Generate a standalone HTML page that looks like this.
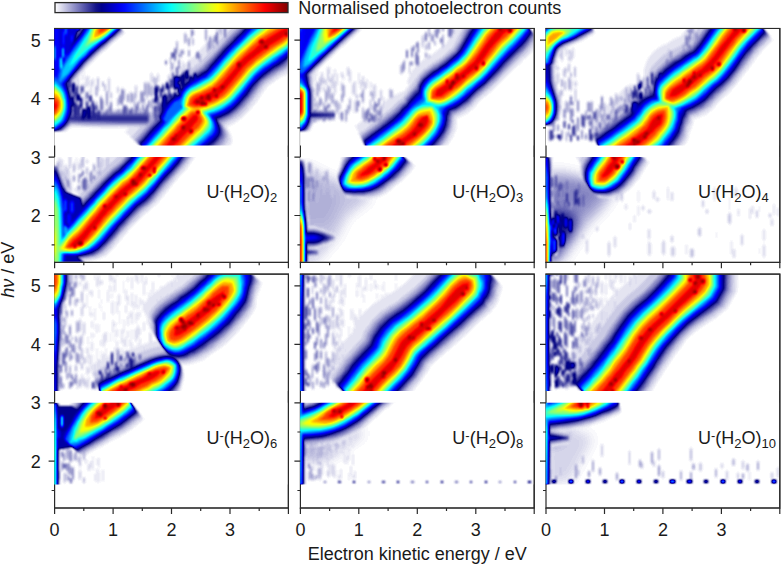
<!DOCTYPE html><html><head><meta charset="utf-8"><style>html,body{margin:0;padding:0;background:#fff;}svg{display:block;}text{font-family:"Liberation Sans",sans-serif;fill:#1a1a1a;}</style></head><body>
<svg width="781" height="564" viewBox="0 0 781 564">
<defs><linearGradient id="cb" x1="0" x2="1" y1="0" y2="0"><stop offset="0.000" stop-color="#ffffff"/><stop offset="0.025" stop-color="#ddddee"/><stop offset="0.050" stop-color="#bcbcdd"/><stop offset="0.075" stop-color="#9a9acd"/><stop offset="0.100" stop-color="#7979bc"/><stop offset="0.125" stop-color="#5757ab"/><stop offset="0.150" stop-color="#36369a"/><stop offset="0.175" stop-color="#14148a"/><stop offset="0.200" stop-color="#00008c"/><stop offset="0.225" stop-color="#0000ac"/><stop offset="0.250" stop-color="#0000cb"/><stop offset="0.275" stop-color="#0000eb"/><stop offset="0.300" stop-color="#000bff"/><stop offset="0.325" stop-color="#002aff"/><stop offset="0.350" stop-color="#004aff"/><stop offset="0.375" stop-color="#0069ff"/><stop offset="0.400" stop-color="#0089ff"/><stop offset="0.425" stop-color="#00a8ff"/><stop offset="0.450" stop-color="#00c8ff"/><stop offset="0.475" stop-color="#00e7ff"/><stop offset="0.500" stop-color="#08fff7"/><stop offset="0.525" stop-color="#27ffd8"/><stop offset="0.550" stop-color="#47ffb8"/><stop offset="0.575" stop-color="#66ff99"/><stop offset="0.600" stop-color="#86ff79"/><stop offset="0.625" stop-color="#a5ff5a"/><stop offset="0.650" stop-color="#c5ff3a"/><stop offset="0.675" stop-color="#e4ff1b"/><stop offset="0.700" stop-color="#fffa00"/><stop offset="0.725" stop-color="#ffdb00"/><stop offset="0.750" stop-color="#ffbb00"/><stop offset="0.775" stop-color="#ff9c00"/><stop offset="0.800" stop-color="#ff7c00"/><stop offset="0.825" stop-color="#ff5d00"/><stop offset="0.850" stop-color="#ff3d00"/><stop offset="0.875" stop-color="#ff1e00"/><stop offset="0.900" stop-color="#fd0000"/><stop offset="0.925" stop-color="#de0000"/><stop offset="0.950" stop-color="#be0000"/><stop offset="0.975" stop-color="#9f0000"/><stop offset="1.000" stop-color="#800000"/></linearGradient><filter id="jet" x="-5%" y="-5%" width="110%" height="110%" color-interpolation-filters="sRGB">
<feGaussianBlur stdDeviation="1.2"/>
<feComponentTransfer><feFuncR type="table" tableValues="1.000 0.959 0.918 0.877 0.836 0.794 0.753 0.712 0.671 0.630 0.589 0.548 0.507 0.465 0.424 0.383 0.342 0.301 0.260 0.219 0.178 0.137 0.095 0.054 0.013 0.000 0.000 0.000 0.000 0.000 0.000 0.000 0.000 0.000 0.000 0.000 0.000 0.000 0.000 0.000 0.000 0.000 0.000 0.000 0.000 0.000 0.000 0.000 0.000 0.000 0.000 0.000 0.000 0.000 0.000 0.000 0.000 0.000 0.000 0.000 0.000 0.000 0.000 0.000 0.031 0.069 0.108 0.147 0.185 0.224 0.262 0.301 0.340 0.378 0.417 0.455 0.494 0.532 0.571 0.610 0.648 0.687 0.725 0.764 0.802 0.841 0.880 0.918 0.957 0.995 1.000 1.000 1.000 1.000 1.000 1.000 1.000 1.000 1.000 1.000 1.000 1.000 1.000 1.000 1.000 1.000 1.000 1.000 1.000 1.000 1.000 1.000 1.000 1.000 1.000 1.000 0.963 0.924 0.886 0.847 0.809 0.770 0.731 0.693 0.654 0.616 0.577 0.539 0.500"/><feFuncG type="table" tableValues="1.000 0.959 0.918 0.877 0.836 0.794 0.753 0.712 0.671 0.630 0.589 0.548 0.507 0.465 0.424 0.383 0.342 0.301 0.260 0.219 0.178 0.137 0.095 0.054 0.013 0.000 0.000 0.000 0.000 0.000 0.000 0.000 0.000 0.000 0.000 0.000 0.000 0.000 0.028 0.066 0.105 0.144 0.182 0.221 0.259 0.298 0.336 0.375 0.414 0.452 0.491 0.529 0.568 0.606 0.645 0.684 0.722 0.761 0.799 0.838 0.877 0.915 0.954 0.992 1.000 1.000 1.000 1.000 1.000 1.000 1.000 1.000 1.000 1.000 1.000 1.000 1.000 1.000 1.000 1.000 1.000 1.000 1.000 1.000 1.000 1.000 1.000 1.000 1.000 1.000 0.966 0.927 0.889 0.850 0.812 0.773 0.735 0.696 0.657 0.619 0.580 0.542 0.503 0.465 0.426 0.387 0.349 0.310 0.272 0.233 0.194 0.156 0.117 0.079 0.040 0.002 0.000 0.000 0.000 0.000 0.000 0.000 0.000 0.000 0.000 0.000 0.000 0.000 0.000"/><feFuncB type="table" tableValues="1.000 0.979 0.959 0.938 0.918 0.897 0.877 0.856 0.836 0.815 0.794 0.774 0.753 0.733 0.712 0.692 0.671 0.650 0.630 0.609 0.589 0.568 0.548 0.527 0.507 0.526 0.565 0.603 0.642 0.681 0.719 0.758 0.796 0.835 0.873 0.912 0.951 0.989 1.000 1.000 1.000 1.000 1.000 1.000 1.000 1.000 1.000 1.000 1.000 1.000 1.000 1.000 1.000 1.000 1.000 1.000 1.000 1.000 1.000 1.000 1.000 1.000 1.000 1.000 0.969 0.931 0.892 0.853 0.815 0.776 0.738 0.699 0.660 0.622 0.583 0.545 0.506 0.468 0.429 0.390 0.352 0.313 0.275 0.236 0.198 0.159 0.120 0.082 0.043 0.005 0.000 0.000 0.000 0.000 0.000 0.000 0.000 0.000 0.000 0.000 0.000 0.000 0.000 0.000 0.000 0.000 0.000 0.000 0.000 0.000 0.000 0.000 0.000 0.000 0.000 0.000 0.000 0.000 0.000 0.000 0.000 0.000 0.000 0.000 0.000 0.000 0.000 0.000 0.000"/></feComponentTransfer>
</filter><filter id="soft" x="-20%" y="-20%" width="140%" height="140%" color-interpolation-filters="sRGB"><feGaussianBlur stdDeviation="6"/></filter></defs>
<rect width="781" height="564" fill="#fff"/>
<rect x="55" y="2.6" width="233" height="10" fill="url(#cb)" stroke="#2a2a2a" stroke-width="1.3"/>
<text x="298.2" y="13.8" font-size="18">Normalised photoelectron counts</text>
<rect x="54.6" y="28.5" width="233.8" height="233.8" fill="none" stroke="#2a2a2a" stroke-width="1.2"/>
<clipPath id="cp00U"><rect x="54.300000000000004" y="29.1" width="233.5" height="116.3"/></clipPath>
<g clip-path="url(#cp00U)"><g filter="url(#jet)">
<rect x="44.6" y="19.1" width="253.8" height="136.3" fill="#000"/>
<path d="M171 81 172 77 172 67 171 63 170 67 170 77Z" fill="#040404"/>
<path d="M82 81 83 79 83 75 82 73 81 75 81 79Z" fill="#040404"/>
<path d="M177 83 178 80 178 73 177 70 176 73 176 80Z" fill="#050505"/>
<path d="M175 90 176 87 178 81 180 76 184 73 188 70 191 67 193 65 195 64 196 63 198 62 196 63 197 63 202 58 210 50 217 41 224 34 229 29 233 25 237 20 242 15 247 10 254 5 259 2 264 0 270 -1 277 -3 282 -5 316 47 312 51 307 56 301 61 295 66 291 70 289 73 286 75 283 76 278 79 274 82 271 84 267 87 262 94 256 103 249 111 242 118 235 123 231 125 226 127 221 129 217 130 212 131 207 131 203 130 199 128 195 126 191 125Z" fill="#050505"/>
<path d="M130 137 134 132 139 126 145 121 149 116 153 111 157 107 160 103 163 100 165 98 167 97 170 96 172 95 174 94 176 94 178 94 182 94 186 95 189 96 222 119 224 122 227 127 229 131 231 135 232 139 232 142 230 146 228 148 224 152 221 154 217 157 214 159 209 162 204 166 199 170 194 175 188 181 185 185Z" fill="#050505"/>
<path d="M172 85 173 81 175 76 178 71 182 67 185 64 188 61 190 59 192 58 193 57 194 56 192 58 197 53 204 45 212 37 219 29 224 24 228 19 232 14 237 9 243 3 250 -1 256 -5 260 -6 266 -8 273 -9 279 -10 306 31 302 34 296 39 290 43 284 47 280 50 276 53 272 56 268 58 264 62 259 65 255 68 251 72 245 79 238 88 232 96 227 100 223 103 220 105 216 107 212 108 208 110 204 111 200 112 196 113 192 113 189 114 186 114Z" fill="#050505"/>
<path d="M125 132 129 128 134 122 139 116 144 111 148 106 152 102 155 98 158 95 160 94 162 93 164 92 167 91 168 90 170 90 172 89 175 90 179 90 182 91 211 112 211 113 211 116 211 118 211 120 211 122 209 125 208 127 206 130 203 132 200 135 197 138 194 141 190 144 186 149 181 153 176 159 170 165 167 169Z" fill="#050505"/>
<path d="M153 114 155 110 157 104 161 98 166 94 171 92 174 91 193 109 191 112 190 117 188 120 185 123 181 127 178 130Z" fill="#050505"/>
<path d="M125 33 122 36 118 39 113 43 110 46 106 50 102 53 98 57 93 62 89 66 84 71 80 75 77 80 73 84 69 88 67 91 46 81 47 77 49 71 51 64 55 57 58 51 62 44 66 38 70 33 74 28 78 22 82 18 85 13 90 9 94 5 97 2Z" fill="#050505"/>
<path d="M43 131 40 128 36 125 32 121 31 116 30 111 29 106 30 101 31 97 32 93 33 89 34 85 35 81 36 76 36 70 37 64 37 56 37 48 38 40 38 33 39 27 39 23 70 23 70 27 71 33 71 40 72 48 72 56 73 64 73 70 74 76 74 81 75 85 77 89 78 93 79 97 79 101 80 106 79 111 79 116 77 121 74 125 70 128 67 131Z" fill="#050505"/>
<path d="M60 111 71 110 86 110 101 109 118 109 136 109 148 108 148 129 136 128 118 128 101 128 86 127 71 127 60 126Z" fill="#050505"/>
<path d="M84 80 85 78 85 72 84 70 84 72 84 78Z" fill="#050505"/>
<path d="M87 88 88 86 88 78 87 75 85 78 85 86Z" fill="#060606"/>
<path d="M152 84 153 81 153 74 152 72 150 74 150 81Z" fill="#060606"/>
<path d="M183 73 184 71 184 63 183 60 182 63 182 71Z" fill="#070707"/>
<path d="M91 98 92 94 92 82 91 78 90 82 90 94Z" fill="#070707"/>
<path d="M93 87 94 85 94 80 93 78 92 80 92 85Z" fill="#080808"/>
<path d="M175 74 175 71 175 61 175 58 174 61 174 71Z" fill="#080808"/>
<path d="M163 95 164 93 164 85 163 82 162 85 162 93Z" fill="#080808"/>
<path d="M78 90 79 86 79 77 78 73 77 77 77 86Z" fill="#080808"/>
<path d="M158 83 159 81 159 75 158 72 157 75 157 81Z" fill="#080808"/>
<path d="M180 80 181 77 181 68 180 65 180 68 180 77Z" fill="#080808"/>
<path d="M88 87 89 85 89 77 88 74 88 77 88 85Z" fill="#090909"/>
<path d="M109 94 110 91 110 80 109 76 108 80 108 91Z" fill="#0a0a0a"/>
<path d="M167 91 168 89 168 82 167 79 166 82 166 89Z" fill="#0a0a0a"/>
<path d="M118 94 119 92 119 88 118 86 117 88 117 92Z" fill="#0a0a0a"/>
<path d="M84 88 85 87 85 84 84 82 84 84 84 87Z" fill="#0a0a0a"/>
<path d="M88 107 89 103 89 92 88 89 88 92 88 103Z" fill="#0a0a0a"/>
<path d="M176 92 177 88 179 83 181 79 185 75 189 72 192 70 194 68 196 67 198 66 199 65 198 65 199 65 204 60 212 51 219 43 226 37 231 31 235 27 239 22 244 18 249 13 256 8 261 5 266 3 272 1 279 -1 284 -2 315 45 311 49 305 53 299 59 294 63 290 67 287 70 284 72 281 74 276 77 272 80 269 82 265 85 260 92 253 101 247 109 240 116 234 120 229 122 225 125 220 126 216 127 211 128 206 129 202 128 198 126 194 124 191 123Z" fill="#0a0a0a"/>
<path d="M133 139 136 134 142 128 147 123 151 118 156 113 159 109 163 105 165 102 167 100 169 99 172 98 174 97 176 96 178 96 180 96 184 96 188 97 191 97 219 117 221 120 224 125 226 129 228 132 229 136 229 140 227 143 225 146 222 149 218 152 215 154 211 156 207 160 202 164 197 168 192 173 186 178 182 182Z" fill="#0a0a0a"/>
<path d="M175 89 176 86 178 82 181 77 185 74 188 71 191 68 194 67 195 65 197 64 198 63 197 64 198 64 203 59 211 50 218 42 225 35 230 30 234 26 238 21 243 16 248 11 255 7 260 4 265 2 271 0 278 -2 283 -4 305 30 300 33 294 37 288 41 283 45 278 48 274 51 270 53 266 56 262 60 258 63 254 66 249 71 243 78 236 86 230 94 226 98 222 101 218 103 215 105 211 106 207 108 203 109 199 110 195 111 192 112 188 112 186 113Z" fill="#0a0a0a"/>
<path d="M131 137 135 133 140 127 146 121 150 116 154 112 158 108 161 104 164 101 166 99 168 98 170 97 173 96 174 95 176 94 178 94 181 94 184 94 186 94 210 111 210 112 210 114 209 116 209 118 208 121 207 123 205 125 203 128 201 130 198 133 195 136 192 139 188 143 184 147 179 151 174 157 168 163 165 167Z" fill="#0a0a0a"/>
<path d="M155 115 156 111 159 105 162 100 167 96 172 93 175 92 192 108 190 111 188 115 187 119 184 122 180 126 177 129Z" fill="#0a0a0a"/>
<path d="M124 32 121 35 117 38 112 42 109 45 105 49 101 52 96 56 92 61 87 65 83 70 79 75 75 79 72 83 68 88 66 91 47 82 48 78 50 72 53 65 56 58 60 52 63 46 67 40 72 34 76 29 79 24 83 19 87 15 91 10 96 6 99 4Z" fill="#0a0a0a"/>
<path d="M44 131 41 128 38 125 34 121 33 116 32 111 32 106 32 101 33 97 34 93 35 89 36 85 37 81 38 76 38 70 39 64 39 56 39 48 40 40 40 33 41 27 41 23 68 23 69 27 69 33 69 40 70 48 70 56 71 64 71 70 71 76 72 81 73 85 75 89 75 93 76 97 77 101 78 106 77 111 76 116 75 121 72 125 68 128 65 131Z" fill="#0a0a0a"/>
<path d="M60 112 71 112 86 111 101 111 118 111 136 110 148 110 148 127 136 127 118 126 101 126 86 126 71 125 60 125Z" fill="#0a0a0a"/>
<path d="M80 101 81 100 81 95 80 94 79 95 79 100Z" fill="#0a0a0a"/>
<path d="M136 100 137 97 137 87 136 84 135 87 135 97Z" fill="#0b0b0b"/>
<path d="M82 92 83 90 83 85 82 83 81 85 81 90Z" fill="#0b0b0b"/>
<path d="M165 100 166 96 166 86 165 83 164 86 164 96Z" fill="#0b0b0b"/>
<path d="M154 85 155 83 155 78 154 76 153 78 153 83Z" fill="#0c0c0c"/>
<path d="M105 92 106 90 106 85 105 84 104 85 104 90Z" fill="#0c0c0c"/>
<path d="M111 99 112 98 112 93 111 92 110 93 110 98Z" fill="#0c0c0c"/>
<path d="M74 98 75 96 75 88 74 85 73 88 73 96Z" fill="#0c0c0c"/>
<path d="M147 101 148 97 148 85 147 81 146 85 146 97Z" fill="#0c0c0c"/>
<path d="M169 91 170 88 170 77 169 73 168 77 168 88Z" fill="#0c0c0c"/>
<path d="M156 88 157 86 157 79 156 76 155 79 155 86Z" fill="#0c0c0c"/>
<path d="M152 98 153 95 153 87 152 84 150 87 150 95Z" fill="#0d0d0d"/>
<path d="M98 93 99 89 99 79 98 76 97 79 97 89Z" fill="#0d0d0d"/>
<path d="M97 97 98 95 98 87 97 85 95 87 95 95Z" fill="#0d0d0d"/>
<path d="M219 34 220 31 220 24 219 22 219 24 219 31Z" fill="#0d0d0d"/>
<path d="M131 105 131 102 131 93 131 91 130 93 130 102Z" fill="#0d0d0d"/>
<path d="M103 87 104 86 104 82 103 81 102 82 102 86Z" fill="#0d0d0d"/>
<path d="M193 46 194 44 194 39 193 38 192 39 192 44Z" fill="#0d0d0d"/>
<path d="M221 36 222 34 222 28 221 26 220 28 220 34Z" fill="#0d0d0d"/>
<path d="M154 96 155 94 155 88 154 86 153 88 153 94Z" fill="#0d0d0d"/>
<path d="M91 108 92 107 92 102 91 101 90 102 90 107Z" fill="#0d0d0d"/>
<path d="M118 107 119 105 119 99 118 97 117 99 117 105Z" fill="#0d0d0d"/>
<path d="M163 115 163 111 163 99 163 95 162 99 162 111Z" fill="#0e0e0e"/>
<path d="M78 109 79 106 79 95 78 91 77 95 77 106Z" fill="#0e0e0e"/>
<path d="M84 108 85 104 85 94 84 90 84 94 84 104Z" fill="#0e0e0e"/>
<path d="M160 102 161 99 161 90 160 87 160 90 160 99Z" fill="#0e0e0e"/>
<path d="M72 102 73 99 73 89 72 85 71 89 71 99Z" fill="#0e0e0e"/>
<path d="M179 58 180 57 180 54 179 53 178 54 178 57Z" fill="#0f0f0f"/>
<path d="M185 44 187 42 187 35 185 32 184 35 184 42Z" fill="#0f0f0f"/>
<path d="M124 102 125 99 125 91 124 88 123 91 123 99Z" fill="#101010"/>
<path d="M181 58 182 57 182 51 181 49 180 51 180 57Z" fill="#101010"/>
<path d="M208 54 209 51 209 43 208 40 207 43 207 51Z" fill="#101010"/>
<path d="M213 50 214 47 214 40 213 38 212 40 212 47Z" fill="#101010"/>
<path d="M177 55 178 52 178 43 177 40 176 43 176 52Z" fill="#101010"/>
<path d="M76 101 77 99 77 93 76 91 75 93 75 99Z" fill="#101010"/>
<path d="M217 30 218 29 218 26 217 25 216 26 216 29Z" fill="#101010"/>
<path d="M152 110 153 107 153 100 152 98 151 100 151 107Z" fill="#101010"/>
<path d="M103 112 104 109 104 101 103 98 102 101 102 109Z" fill="#101010"/>
<path d="M200 63 201 61 201 55 200 53 199 55 199 61Z" fill="#101010"/>
<path d="M156 105 157 102 157 94 156 91 155 94 155 102Z" fill="#111111"/>
<path d="M176 93 178 90 179 85 182 80 186 77 189 74 193 72 195 70 197 69 199 68 200 67 201 66 206 61 214 53 221 45 227 38 232 33 236 29 241 24 245 20 251 15 257 11 262 7 267 5 273 3 280 1 285 0 314 44 310 47 304 52 298 57 293 61 289 65 286 68 283 70 279 72 275 75 271 78 267 80 263 84 258 90 252 99 245 107 238 114 232 118 228 120 224 122 219 124 215 125 210 126 206 127 202 126 198 125 193 123 190 121Z" fill="#111111"/>
<path d="M134 140 138 136 143 130 149 124 153 119 157 115 161 110 164 107 167 104 169 102 171 100 173 99 176 98 178 97 180 97 182 97 186 97 189 98 192 98 217 116 219 119 222 123 224 127 226 131 227 135 226 138 225 141 223 144 219 147 216 150 213 152 209 155 205 158 200 162 195 166 190 171 184 177 180 181Z" fill="#111111"/>
<path d="M177 94 178 91 180 87 183 83 187 80 191 78 194 75 197 74 199 72 201 71 203 70 202 70 204 69 209 64 216 55 224 47 230 41 235 36 239 32 243 27 248 23 253 18 259 14 264 11 269 9 275 7 282 4 287 3 304 28 299 31 293 35 287 39 282 43 277 46 273 49 269 52 265 54 261 58 256 61 252 65 248 69 242 76 235 85 229 92 224 96 220 99 217 101 214 103 210 104 206 105 202 107 198 108 194 109 191 110 188 111 185 111Z" fill="#111111"/>
<path d="M137 143 141 138 146 133 151 127 156 122 160 117 164 113 167 109 170 107 172 105 174 103 176 101 178 100 180 99 181 98 183 98 186 97 188 97 190 97 208 110 208 111 208 113 207 115 207 117 206 119 205 121 203 123 201 126 199 128 196 131 193 134 190 137 186 141 182 145 177 150 172 155 167 161 163 165Z" fill="#111111"/>
<path d="M156 116 157 112 160 106 163 100 168 97 173 94 176 92 191 107 189 110 187 114 185 118 182 121 178 125 175 128Z" fill="#111111"/>
<path d="M123 31 120 34 116 37 112 41 108 44 104 48 100 51 95 56 91 60 86 64 82 69 78 74 75 78 71 83 67 87 65 90 48 83 49 78 51 72 54 65 57 59 61 53 65 47 69 41 73 35 77 30 81 25 84 20 88 16 92 11 97 7 100 5Z" fill="#111111"/>
<path d="M46 131 43 128 39 125 36 121 35 116 34 111 33 106 34 101 34 97 35 93 36 89 38 85 39 81 40 76 40 70 40 64 41 56 41 48 41 40 42 33 42 27 42 23 67 23 67 27 67 33 68 40 68 48 68 56 69 64 69 70 70 76 70 81 72 85 73 89 74 93 75 97 76 101 76 106 76 111 75 116 73 121 70 125 66 128 63 131Z" fill="#111111"/>
<path d="M60 113 71 113 86 113 101 112 118 112 136 112 148 111 148 126 136 125 118 125 101 125 86 125 71 124 60 124Z" fill="#111111"/>
<path d="M149 97 150 94 150 84 149 81 148 84 148 94Z" fill="#111111"/>
<path d="M87 102 87 100 87 92 87 90 86 92 86 100Z" fill="#111111"/>
<path d="M189 57 190 56 190 51 189 49 188 51 188 56Z" fill="#111111"/>
<path d="M120 120 121 118 121 110 120 108 119 110 119 118Z" fill="#111111"/>
<path d="M158 101 159 98 159 89 158 86 157 89 157 98Z" fill="#111111"/>
<path d="M145 97 146 94 146 84 145 81 144 84 144 94Z" fill="#111111"/>
<path d="M70 104 71 102 71 95 70 93 69 95 69 102Z" fill="#121212"/>
<path d="M68 99 69 97 69 90 68 87 67 90 67 97Z" fill="#121212"/>
<path d="M145 105 145 104 145 99 145 98 144 99 144 104Z" fill="#121212"/>
<path d="M138 120 139 119 139 115 138 114 137 115 137 119Z" fill="#121212"/>
<path d="M141 105 142 102 142 93 141 90 140 93 140 102Z" fill="#131313"/>
<path d="M193 36 194 35 194 31 193 29 192 31 192 35Z" fill="#131313"/>
<path d="M189 77 190 73 190 63 189 60 188 63 188 73Z" fill="#131313"/>
<path d="M116 121 117 119 117 112 116 110 115 112 115 119Z" fill="#131313"/>
<path d="M206 42 207 39 207 30 206 27 205 30 205 39Z" fill="#131313"/>
<path d="M109 120 110 117 110 108 109 105 108 108 108 117Z" fill="#131313"/>
<path d="M80 112 81 110 81 106 80 104 79 106 79 110Z" fill="#131313"/>
<path d="M141 121 141 118 141 109 141 105 140 109 140 118Z" fill="#131313"/>
<path d="M120 105 121 103 121 96 120 94 119 96 119 103Z" fill="#141414"/>
<path d="M107 108 108 104 108 93 107 90 106 93 106 104Z" fill="#141414"/>
<path d="M118 120 119 118 119 111 118 108 117 111 117 118Z" fill="#141414"/>
<path d="M82 110 83 107 83 99 82 96 81 99 81 107Z" fill="#141414"/>
<path d="M189 47 190 45 190 39 189 37 188 39 188 45Z" fill="#141414"/>
<path d="M143 111 144 109 144 105 143 104 142 105 142 109Z" fill="#141414"/>
<path d="M84 119 85 117 85 112 84 110 83 112 83 117Z" fill="#141414"/>
<path d="M128 103 129 101 129 95 128 93 127 95 127 101Z" fill="#141414"/>
<path d="M128 120 129 117 129 109 128 106 127 109 127 117Z" fill="#141414"/>
<path d="M132 104 133 101 133 94 132 92 131 94 131 101Z" fill="#141414"/>
<path d="M172 71 173 69 173 64 172 62 171 64 171 69Z" fill="#141414"/>
<path d="M183 55 184 54 184 51 183 49 182 51 182 54Z" fill="#141414"/>
<path d="M143 104 144 101 144 93 143 90 142 93 142 101Z" fill="#151515"/>
<path d="M152 124 152 121 152 113 152 110 151 113 151 121Z" fill="#151515"/>
<path d="M132 124 134 120 134 109 132 106 131 109 131 120Z" fill="#151515"/>
<path d="M179 70 180 68 180 61 179 58 178 61 178 68Z" fill="#151515"/>
<path d="M126 124 127 123 127 118 126 117 125 118 125 123Z" fill="#151515"/>
<path d="M149 108 150 106 150 101 149 100 148 101 148 106Z" fill="#161616"/>
<path d="M170 65 171 63 171 58 170 57 170 58 170 63Z" fill="#161616"/>
<path d="M135 108 135 105 135 95 135 91 134 95 134 105Z" fill="#161616"/>
<path d="M215 43 216 41 216 36 215 35 214 36 214 41Z" fill="#171717"/>
<path d="M68 110 69 108 69 102 68 100 67 102 67 108Z" fill="#171717"/>
<path d="M94 123 95 119 95 107 94 102 94 107 94 119Z" fill="#171717"/>
<path d="M122 107 123 103 123 91 122 87 121 91 121 103Z" fill="#171717"/>
<path d="M138 112 139 110 139 103 138 100 137 103 137 110Z" fill="#171717"/>
<path d="M210 51 211 48 211 38 210 35 209 38 209 48Z" fill="#171717"/>
<path d="M177 94 178 91 180 86 183 82 186 78 190 76 193 74 196 72 198 71 200 69 201 68 201 69 202 68 207 62 215 54 222 46 228 39 233 34 238 30 242 26 246 21 252 16 258 12 263 9 268 7 274 5 281 3 286 1 313 42 309 46 303 50 297 55 292 60 288 64 285 67 282 69 278 71 274 74 270 76 266 79 262 82 257 89 250 98 244 106 237 112 231 117 227 119 223 121 218 123 214 124 209 125 205 125 201 125 197 123 193 122 189 120Z" fill="#171717"/>
<path d="M136 141 139 137 145 131 150 125 154 120 159 116 162 112 166 108 168 105 170 103 172 102 175 100 177 99 179 98 181 98 183 98 187 98 191 99 194 99 216 115 218 118 220 122 222 126 224 130 225 133 225 137 223 140 221 143 218 146 214 148 211 151 207 153 203 157 198 161 194 165 188 170 183 176 179 180Z" fill="#171717"/>
<path d="M179 98 180 95 183 92 186 89 190 86 193 84 197 82 200 81 202 79 205 78 207 77 207 76 209 74 215 68 222 60 229 52 235 46 240 42 244 38 248 34 252 29 258 25 263 21 268 18 273 16 279 13 286 10 291 8 303 26 298 29 292 33 286 37 281 41 276 44 272 47 267 50 263 53 259 56 255 59 251 63 246 68 240 75 233 84 227 91 223 95 219 97 216 99 213 101 209 102 206 103 202 105 197 106 194 107 190 109 187 110 185 110Z" fill="#171717"/>
<path d="M143 148 147 144 152 138 157 132 162 127 166 122 170 118 173 115 175 112 178 110 180 108 182 106 184 104 185 103 187 102 188 101 190 101 193 100 194 100 207 109 207 110 206 112 205 114 205 115 204 117 203 119 201 121 199 124 196 127 194 129 191 132 188 135 184 139 180 143 175 148 170 154 165 160 161 164Z" fill="#171717"/>
<path d="M157 116 158 112 161 107 164 101 169 97 173 95 176 93 190 107 189 110 187 114 185 117 181 121 178 125 175 128Z" fill="#171717"/>
<path d="M122 30 119 33 115 37 111 40 107 44 103 47 99 51 95 55 90 59 86 64 82 69 77 73 74 78 70 82 67 87 64 90 49 83 50 79 52 73 55 66 58 59 62 53 65 47 70 42 74 36 78 31 81 26 85 21 89 17 93 12 97 8 101 6Z" fill="#171717"/>
<path d="M47 131 44 128 40 125 37 121 36 116 35 111 35 106 35 101 36 97 37 93 38 89 39 85 40 81 41 76 41 70 42 64 42 56 42 48 43 40 43 33 43 27 44 23 66 23 66 27 66 33 67 40 67 48 67 56 67 64 68 70 68 76 69 81 70 85 72 89 73 93 74 97 74 101 75 106 74 111 73 116 72 121 69 125 65 128 62 131Z" fill="#171717"/>
<path d="M60 114 71 114 86 114 101 113 118 113 136 113 148 113 148 124 136 124 118 124 101 124 86 123 71 123 60 123Z" fill="#171717"/>
<path d="M97 108 97 106 97 102 97 101 96 102 96 106Z" fill="#181818"/>
<path d="M76 119 77 116 77 106 76 103 75 106 75 116Z" fill="#181818"/>
<path d="M74 120 76 116 76 105 74 101 73 105 73 116Z" fill="#191919"/>
<path d="M68 96 69 95 69 91 68 89 67 91 67 95Z" fill="#191919"/>
<path d="M82 121 83 119 83 113 82 111 81 113 81 119Z" fill="#191919"/>
<path d="M166 65 167 64 167 61 166 60 165 61 165 64Z" fill="#191919"/>
<path d="M80 124 81 122 81 117 80 115 79 117 79 122Z" fill="#191919"/>
<path d="M93 120 94 118 94 112 93 110 92 112 92 118Z" fill="#191919"/>
<path d="M149 124 150 122 150 114 149 111 148 114 148 122Z" fill="#191919"/>
<path d="M122 120 123 118 123 110 122 108 122 110 122 118Z" fill="#191919"/>
<path d="M198 59 199 58 199 53 198 51 196 53 196 58Z" fill="#1a1a1a"/>
<path d="M91 124 92 121 92 112 91 110 90 112 90 121Z" fill="#1a1a1a"/>
<path d="M191 39 192 37 192 30 191 28 191 30 191 37Z" fill="#1a1a1a"/>
<path d="M111 120 112 116 112 104 111 100 110 104 110 116Z" fill="#1a1a1a"/>
<path d="M154 104 155 102 155 99 154 98 153 99 153 102Z" fill="#1a1a1a"/>
<path d="M70 123 71 119 71 108 70 104 69 108 69 119Z" fill="#1a1a1a"/>
<path d="M154 120 155 117 155 108 154 105 153 108 153 117Z" fill="#1a1a1a"/>
<path d="M217 46 218 43 218 33 217 30 216 33 216 43Z" fill="#1b1b1b"/>
<path d="M136 121 137 118 137 107 136 103 135 107 135 118Z" fill="#1b1b1b"/>
<path d="M107 123 108 120 108 111 107 108 106 111 106 120Z" fill="#1b1b1b"/>
<path d="M81 95 82 93 82 87 81 85 80 87 80 93Z" fill="#1b1b1b"/>
<path d="M160 120 161 117 161 108 160 105 159 108 159 117Z" fill="#1b1b1b"/>
<path d="M225 39 226 36 226 25 225 22 224 25 224 36Z" fill="#1b1b1b"/>
<path d="M101 113 102 109 102 99 101 95 100 99 100 109Z" fill="#1c1c1c"/>
<path d="M88 119 89 117 89 110 88 108 88 110 88 117Z" fill="#1d1d1d"/>
<path d="M96 111 98 110 98 106 96 104 95 106 95 110Z" fill="#1d1d1d"/>
<path d="M175 62 176 59 176 50 175 47 174 50 174 59Z" fill="#1d1d1d"/>
<path d="M177 77 178 75 178 68 177 66 176 68 176 75Z" fill="#1e1e1e"/>
<path d="M172 59 174 57 174 53 172 52 171 53 171 57Z" fill="#1e1e1e"/>
<path d="M126 116 127 114 127 107 126 104 125 107 125 114Z" fill="#1e1e1e"/>
<path d="M98 122 100 119 100 112 98 109 97 112 97 119Z" fill="#1e1e1e"/>
<path d="M177 96 179 92 180 87 183 83 187 80 191 77 194 75 197 73 199 72 201 71 202 70 203 69 209 63 216 55 223 47 229 41 234 36 239 31 243 27 247 22 253 18 259 14 264 11 269 8 275 6 282 4 287 2 312 41 308 45 302 49 296 54 291 59 287 62 284 65 281 67 277 70 273 72 269 75 265 78 261 81 256 88 249 97 242 105 236 111 230 115 226 117 222 119 218 121 213 122 209 123 204 124 201 124 197 122 192 121 189 119Z" fill="#1f1f1f"/>
<path d="M137 142 141 138 146 132 151 126 156 121 160 117 164 113 167 109 169 106 171 104 174 103 176 101 178 100 180 99 182 99 185 99 188 99 192 100 195 100 214 113 216 117 219 121 221 125 222 128 223 132 223 136 222 138 219 141 216 144 213 147 210 149 206 152 202 155 197 159 192 164 187 169 182 174 178 178Z" fill="#1f1f1f"/>
<path d="M157 117 159 113 162 107 165 102 170 98 174 95 177 94 189 106 188 109 186 113 184 116 181 120 177 124 174 127Z" fill="#1f1f1f"/>
<path d="M122 30 119 32 115 36 110 40 107 43 103 47 98 50 94 54 89 59 85 63 81 68 77 73 73 77 70 82 66 86 63 90 50 83 51 79 53 73 56 66 59 60 62 54 66 48 70 42 75 37 79 32 82 27 86 22 89 17 94 13 98 9 101 6Z" fill="#1f1f1f"/>
<path d="M48 131 45 128 42 125 39 121 37 116 36 111 36 106 36 101 37 97 38 93 39 89 40 85 42 81 42 76 43 70 43 64 43 56 44 48 44 40 44 33 44 27 45 23 65 23 65 27 65 33 65 40 66 48 66 56 66 64 66 70 67 76 68 81 69 85 70 89 71 93 72 97 73 101 73 106 73 111 72 116 71 121 68 125 64 128 61 131Z" fill="#1f1f1f"/>
<path d="M60 115 71 115 86 115 101 115 118 114 136 114 148 114 148 123 136 123 118 123 101 122 86 122 71 122 60 122Z" fill="#1f1f1f"/>
<path d="M66 121 67 119 67 113 66 110 66 113 66 119Z" fill="#1f1f1f"/>
<path d="M179 111 180 108 180 100 179 97 178 100 178 108Z" fill="#1f1f1f"/>
<path d="M70 99 71 97 71 93 70 92 69 93 69 97Z" fill="#1f1f1f"/>
<path d="M147 123 148 119 148 107 147 103 146 107 146 119Z" fill="#1f1f1f"/>
<path d="M87 99 88 98 88 93 87 92 86 93 86 98Z" fill="#1f1f1f"/>
<path d="M131 121 132 118 132 111 131 108 129 111 129 118Z" fill="#1f1f1f"/>
<path d="M192 89 194 88 194 84 192 83 191 84 191 88Z" fill="#1f1f1f"/>
<path d="M124 119 125 116 125 107 124 104 123 107 123 116Z" fill="#202020"/>
<path d="M173 90 174 86 174 74 173 71 172 74 172 86Z" fill="#202020"/>
<path d="M101 121 102 120 102 116 101 115 100 116 100 120Z" fill="#202020"/>
<path d="M105 121 106 119 106 114 105 112 104 114 104 119Z" fill="#212121"/>
<path d="M156 123 157 120 157 110 156 107 155 110 155 120Z" fill="#212121"/>
<path d="M83 93 84 91 84 87 83 86 82 87 82 91Z" fill="#212121"/>
<path d="M68 119 69 118 69 114 68 113 67 114 67 118Z" fill="#212121"/>
<path d="M66 102 68 100 68 93 66 91 65 93 65 100Z" fill="#222222"/>
<path d="M78 121 79 119 79 113 78 111 77 113 77 119Z" fill="#222222"/>
<path d="M145 122 145 119 145 110 145 107 144 110 144 119Z" fill="#232323"/>
<path d="M189 85 190 83 190 76 189 74 188 76 188 83Z" fill="#242424"/>
<path d="M161 114 162 112 162 104 161 101 160 104 160 112Z" fill="#242424"/>
<path d="M77 119 78 116 78 106 77 103 76 106 76 116Z" fill="#252525"/>
<path d="M95 122 95 118 95 107 95 104 94 107 94 118Z" fill="#252525"/>
<path d="M156 112 157 110 157 106 156 105 155 106 155 110Z" fill="#262626"/>
<path d="M169 101 170 97 170 87 169 84 168 87 168 97Z" fill="#262626"/>
<path d="M173 111 174 108 174 97 173 93 172 97 172 108Z" fill="#272727"/>
<path d="M90 102 92 101 92 96 90 95 89 96 89 101Z" fill="#272727"/>
<path d="M62 96 63 94 63 90 62 88 61 90 61 94Z" fill="#272727"/>
<path d="M171 89 172 87 172 80 171 78 170 80 170 87Z" fill="#272727"/>
<path d="M178 97 179 93 181 89 184 84 187 81 191 79 194 76 197 75 199 73 201 72 203 71 205 70 210 64 217 56 224 48 231 42 235 37 240 33 244 28 248 24 254 19 260 15 265 12 270 10 276 8 283 5 288 3 312 40 307 43 302 48 296 53 290 57 286 61 283 64 280 66 276 68 272 71 268 74 264 77 260 80 254 87 248 96 241 104 235 110 230 114 226 116 221 118 217 120 213 121 208 122 204 123 200 122 196 121 192 119 188 118Z" fill="#282828"/>
<path d="M138 143 142 139 147 133 152 127 157 123 161 118 165 114 168 110 170 107 173 105 175 104 177 102 179 101 181 100 183 100 186 100 189 100 193 100 197 101 212 112 215 116 217 120 219 124 221 127 222 131 222 134 220 137 218 140 215 143 212 146 208 148 205 151 200 154 196 158 191 162 186 168 180 173 176 177Z" fill="#282828"/>
<path d="M158 117 160 113 163 108 166 103 170 99 175 96 178 94 189 105 187 108 185 112 183 116 180 120 176 124 173 127Z" fill="#282828"/>
<path d="M121 29 118 32 114 36 110 39 106 43 102 46 98 50 93 54 89 58 84 63 80 68 76 72 72 77 69 81 65 86 63 89 51 84 52 80 54 73 56 67 60 61 63 55 67 49 71 43 76 38 80 32 83 27 86 23 90 18 94 14 99 10 102 7Z" fill="#282828"/>
<path d="M50 131 46 128 43 125 40 121 38 116 37 111 37 106 37 101 38 97 39 93 40 89 41 85 43 81 44 76 44 70 44 64 45 56 45 48 45 40 45 33 46 27 46 23 63 23 64 27 64 33 64 40 64 48 65 56 65 64 65 70 65 76 66 81 68 85 69 89 70 93 71 97 72 101 72 106 72 111 71 116 69 121 66 125 63 128 60 131Z" fill="#282828"/>
<path d="M60 117 71 117 86 116 101 116 118 116 136 116 148 116 148 121 136 121 118 121 101 121 86 121 71 120 60 120Z" fill="#282828"/>
<path d="M185 84 186 81 186 72 185 70 184 72 184 81Z" fill="#282828"/>
<path d="M185 90 186 89 186 85 185 84 184 85 184 89Z" fill="#292929"/>
<path d="M177 111 178 109 178 103 177 101 176 103 176 109Z" fill="#292929"/>
<path d="M96 118 97 117 97 113 96 112 95 113 95 117Z" fill="#2a2a2a"/>
<path d="M169 113 170 111 170 106 169 104 168 106 168 111Z" fill="#2a2a2a"/>
<path d="M79 118 80 115 80 107 79 104 78 107 78 115Z" fill="#2a2a2a"/>
<path d="M70 88 71 87 71 81 70 79 69 81 69 87Z" fill="#2a2a2a"/>
<path d="M163 93 164 91 164 86 163 84 162 86 162 91Z" fill="#2a2a2a"/>
<path d="M90 120 91 116 91 107 90 103 90 107 90 116Z" fill="#2a2a2a"/>
<path d="M99 120 100 118 100 112 99 110 98 112 98 118Z" fill="#2b2b2b"/>
<path d="M167 112 168 108 168 97 167 93 166 97 166 108Z" fill="#2b2b2b"/>
<path d="M66 110 68 109 68 105 66 104 65 105 65 109Z" fill="#2c2c2c"/>
<path d="M181 86 182 84 182 76 181 74 180 76 180 84Z" fill="#2c2c2c"/>
<path d="M65 89 66 86 66 79 65 76 64 79 64 86Z" fill="#2c2c2c"/>
<path d="M87 118 88 114 88 103 87 100 86 103 86 114Z" fill="#2c2c2c"/>
<path d="M62 116 63 113 63 101 62 98 61 101 61 113Z" fill="#2c2c2c"/>
<path d="M171 110 172 107 172 95 171 92 170 95 170 107Z" fill="#2d2d2d"/>
<path d="M93 119 94 115 94 103 93 99 92 103 92 115Z" fill="#2d2d2d"/>
<path d="M75 119 76 115 76 104 75 101 74 104 74 115Z" fill="#2e2e2e"/>
<path d="M161 98 162 96 162 89 161 87 160 89 160 96Z" fill="#2e2e2e"/>
<path d="M191 92 192 90 192 86 191 85 189 86 189 90Z" fill="#2f2f2f"/>
<path d="M65 100 66 98 66 91 65 89 64 91 64 98Z" fill="#2f2f2f"/>
<path d="M77 103 78 99 78 88 77 84 76 88 76 99Z" fill="#2f2f2f"/>
<path d="M175 114 176 112 176 103 175 101 175 103 175 112Z" fill="#303030"/>
<path d="M178 97 180 94 181 90 184 85 188 82 192 80 195 78 198 76 200 75 202 73 204 72 206 71 211 65 218 57 225 49 231 43 236 38 240 34 245 29 249 25 254 20 260 16 266 13 270 11 276 9 283 6 288 4 311 39 307 42 301 47 295 52 290 56 285 60 282 63 279 65 275 67 271 70 267 73 263 76 259 80 253 86 247 95 240 103 234 109 229 113 225 115 221 117 216 119 212 120 208 121 203 121 200 121 196 120 191 119 188 117Z" fill="#303030"/>
<path d="M139 144 143 140 148 134 153 128 158 123 162 119 166 115 169 111 171 108 174 106 176 104 178 103 180 102 182 101 184 101 187 100 190 101 194 101 198 102 210 111 213 115 216 119 218 123 219 126 220 130 220 133 219 136 217 139 214 142 210 145 207 147 204 150 199 153 195 157 190 161 185 167 179 172 175 176Z" fill="#303030"/>
<path d="M159 118 161 114 163 108 167 103 171 99 175 97 178 95 188 105 187 108 184 112 182 115 179 119 175 123 172 126Z" fill="#303030"/>
<path d="M121 29 118 31 114 35 109 39 106 42 101 45 97 49 93 53 88 58 84 62 80 67 75 72 72 77 68 81 65 86 62 89 52 84 53 80 55 74 57 67 60 61 64 55 68 49 72 44 76 38 80 33 84 28 87 23 91 19 95 14 99 11 103 8Z" fill="#303030"/>
<path d="M51 131 48 128 44 125 41 121 39 116 38 111 38 106 38 101 39 97 40 93 41 89 42 85 44 81 45 76 45 70 46 64 46 56 46 48 46 40 47 33 47 27 47 23 62 23 62 27 63 33 63 40 63 48 63 56 64 64 64 70 64 76 65 81 67 85 68 89 69 93 70 97 71 101 71 106 71 111 70 116 68 121 65 125 62 128 58 131Z" fill="#303030"/>
<path d="M62 86 63 85 63 81 62 80 61 81 61 85Z" fill="#303030"/>
<path d="M159 114 159 110 159 99 159 95 158 99 158 110Z" fill="#333333"/>
<path d="M66 89 67 87 67 82 66 80 65 82 65 87Z" fill="#333333"/>
<path d="M73 107 74 105 74 98 73 96 71 98 71 105Z" fill="#343434"/>
<path d="M81 109 82 106 82 99 81 97 80 99 80 106Z" fill="#343434"/>
<path d="M73 94 74 91 74 84 73 82 72 84 72 91Z" fill="#353535"/>
<path d="M163 112 164 108 164 98 163 95 162 98 162 108Z" fill="#353535"/>
<path d="M189 98 190 96 190 88 189 86 188 88 188 96Z" fill="#353535"/>
<path d="M83 121 84 118 84 110 83 107 82 110 82 118Z" fill="#363636"/>
<path d="M183 111 184 107 184 96 183 92 182 96 182 107Z" fill="#363636"/>
<path d="M79 101 80 100 80 95 79 94 78 95 78 100Z" fill="#363636"/>
<path d="M85 118 86 116 86 110 85 108 84 110 84 116Z" fill="#383838"/>
<path d="M187 94 188 92 188 85 187 83 186 85 186 92Z" fill="#383838"/>
<path d="M183 90 184 86 184 75 183 71 182 75 182 86Z" fill="#383838"/>
<path d="M165 110 166 107 166 96 165 93 163 96 163 107Z" fill="#383838"/>
<path d="M89 120 90 117 90 108 89 105 88 108 88 117Z" fill="#383838"/>
<path d="M68 119 69 115 69 103 68 100 67 103 67 115Z" fill="#393939"/>
<path d="M181 101 182 98 182 91 181 89 180 91 180 98Z" fill="#393939"/>
<path d="M75 99 75 95 75 84 75 81 74 84 74 95Z" fill="#393939"/>
<path d="M175 100 176 98 176 93 175 91 174 93 174 98Z" fill="#393939"/>
<path d="M65 119 66 115 66 106 65 103 64 106 64 115Z" fill="#3a3a3a"/>
<path d="M70 116 71 113 71 103 70 99 69 103 69 113Z" fill="#3a3a3a"/>
<path d="M179 98 180 95 182 91 185 86 188 83 192 81 195 79 198 77 201 76 203 74 205 73 207 72 212 66 219 58 226 50 232 44 237 39 241 35 245 30 250 26 255 22 261 18 266 15 271 12 277 10 284 7 289 5 310 38 306 41 300 46 294 51 289 55 285 59 281 61 278 64 274 66 270 69 266 72 262 75 258 79 252 85 246 94 239 102 233 108 228 112 224 114 220 116 216 117 212 118 207 120 203 120 199 120 195 119 191 118 188 116Z" fill="#3b3b3b"/>
<path d="M140 145 144 141 149 135 154 129 159 124 163 120 167 116 170 112 172 109 175 107 177 105 179 104 181 102 183 102 185 101 188 101 192 101 196 102 200 104 207 109 211 113 215 118 217 122 218 125 219 129 219 132 218 135 215 138 212 141 209 143 206 146 202 149 198 152 194 156 189 160 184 166 178 171 174 175Z" fill="#3b3b3b"/>
<path d="M160 118 162 114 164 109 168 104 172 100 176 97 179 96 188 104 186 107 184 111 181 115 178 118 174 123 172 126Z" fill="#3b3b3b"/>
<path d="M120 28 117 31 113 35 109 38 105 42 101 45 97 48 92 53 88 57 83 62 79 67 75 72 71 76 68 81 64 85 61 89 53 85 54 80 55 74 58 68 61 62 65 56 69 50 73 44 77 39 81 34 84 29 88 24 91 19 96 15 100 11 103 9Z" fill="#3b3b3b"/>
<path d="M55 131 49 128 45 125 42 121 40 116 39 111 39 106 39 101 40 97 41 93 42 89 44 85 45 81 46 76 47 70 47 64 47 56 47 48 48 40 48 33 48 27 48 23 61 23 61 27 61 33 62 40 62 48 62 56 62 64 62 70 63 76 64 81 66 85 67 89 68 93 69 97 70 101 70 106 70 111 69 116 67 121 64 125 60 128 55 131Z" fill="#3b3b3b"/>
<path d="M179 83 180 81 180 77 179 76 178 77 178 81Z" fill="#3b3b3b"/>
<path d="M175 91 177 88 177 78 175 75 174 78 174 88Z" fill="#3c3c3c"/>
<path d="M167 90 168 88 168 83 167 82 166 83 166 88Z" fill="#3d3d3d"/>
<path d="M191 83 192 82 192 77 191 76 190 77 190 82Z" fill="#3e3e3e"/>
<path d="M187 80 188 78 188 71 187 69 186 71 186 78Z" fill="#3f3f3f"/>
<path d="M159 93 159 91 159 86 159 85 158 86 158 91Z" fill="#3f3f3f"/>
<path d="M156 105 157 100 157 88 156 84 155 88 155 100Z" fill="#404040"/>
<path d="M195 82 196 80 196 74 195 72 194 74 194 80Z" fill="#404040"/>
<path d="M52 23 81 23 62 69 52 75Z" fill="#424242"/>
<path d="M177 89 178 86 178 78 177 75 176 78 176 86Z" fill="#434343"/>
<path d="M179 94 180 92 180 85 179 83 178 85 178 92Z" fill="#454545"/>
<path d="M72 31 73 29 73 25 72 24 71 25 71 29Z" fill="#484848"/>
<path d="M180 100 181 96 182 92 185 88 189 85 193 82 196 80 199 79 201 77 204 76 205 75 206 75 208 73 213 67 221 59 228 51 233 45 238 40 242 36 247 32 251 28 256 23 262 19 267 16 272 14 278 11 285 9 290 7 309 37 305 40 300 45 294 49 288 53 284 57 280 60 277 62 273 65 269 68 265 71 261 74 257 78 251 84 244 93 238 101 232 107 227 110 224 112 219 114 215 116 211 117 207 118 202 119 199 119 195 118 190 116 187 115Z" fill="#4a4a4a"/>
<path d="M141 146 145 142 150 136 156 130 160 126 164 121 168 117 171 113 174 110 176 108 178 106 180 105 183 103 185 103 187 102 190 102 193 103 198 104 204 106 209 111 212 116 215 120 216 124 217 127 217 131 216 134 214 136 211 139 208 142 204 144 201 147 197 151 192 155 188 159 182 165 177 170 173 174Z" fill="#4a4a4a"/>
<path d="M161 119 163 115 166 110 169 105 173 101 177 98 180 96 187 103 185 106 182 110 180 114 177 118 173 122 170 125Z" fill="#4a4a4a"/>
<path d="M120 27 117 30 113 34 108 38 104 41 100 44 96 48 91 52 87 56 82 61 78 66 74 71 70 76 67 80 63 85 60 88 54 85 55 81 57 75 59 68 62 62 66 57 70 51 74 45 78 40 82 35 85 30 89 25 92 20 96 16 101 12 104 9Z" fill="#4a4a4a"/>
<path d="M55 131 51 128 47 125 44 121 42 116 40 111 40 106 40 101 41 97 42 93 43 89 45 85 47 81 49 76 49 70 49 64 50 56 50 48 50 40 50 33 50 27 50 23 59 23 59 27 59 33 59 40 60 48 60 56 60 64 60 70 60 76 62 81 64 85 66 89 67 93 68 97 69 101 69 106 69 111 68 116 66 121 63 125 58 128 55 131Z" fill="#4a4a4a"/>
<path d="M66 62 67 60 67 55 66 53 65 55 65 60Z" fill="#515151"/>
<path d="M72 43 73 41 73 36 72 34 71 36 71 41Z" fill="#535353"/>
<path d="M180 102 181 98 183 93 186 89 190 86 193 84 197 82 200 80 202 79 205 78 207 77 207 76 209 74 215 68 222 60 229 52 235 46 240 42 244 38 248 33 252 29 258 25 263 21 268 18 273 16 279 13 286 10 291 8 309 36 304 39 299 43 293 48 287 52 283 55 279 58 276 61 272 63 268 66 263 69 260 72 255 76 250 83 243 92 236 100 231 105 226 108 223 110 219 112 214 114 210 115 206 116 202 117 198 117 194 116 189 115 186 113Z" fill="#5e5e5e"/>
<path d="M143 148 147 144 152 138 157 132 162 127 166 122 170 118 173 115 175 112 178 110 180 108 182 106 184 105 186 104 189 104 191 104 196 104 203 107 204 106 203 107 210 114 212 119 214 122 215 126 215 129 214 132 212 135 209 137 206 140 203 143 199 146 195 149 191 153 186 158 181 163 175 169 171 173Z" fill="#5e5e5e"/>
<path d="M163 120 165 116 167 111 171 106 174 102 179 100 181 98 185 102 183 104 181 108 178 112 175 116 171 121 169 124Z" fill="#5e5e5e"/>
<path d="M119 27 116 29 112 33 108 37 104 40 99 43 95 47 90 51 86 56 81 60 77 65 73 70 69 75 65 80 61 84 58 87 57 82 58 76 60 69 64 63 67 58 71 52 75 46 79 41 83 36 86 31 90 26 93 21 97 17 102 13 105 10Z" fill="#5e5e5e"/>
<path d="M55 131 55 128 49 125 45 121 43 116 42 111 41 106 42 101 43 97 44 93 45 89 47 85 51 81 55 76 55 70 55 64 55 56 55 48 55 40 55 33 55 27 55 23 55 27 55 33 55 40 55 48 55 56 55 64 55 70 55 76 58 81 62 85 64 89 66 93 67 97 67 101 68 106 67 111 66 116 64 121 60 125 55 128 55 131Z" fill="#5e5e5e"/>
<path d="M78 31 80 29 80 22 78 20 77 22 77 29Z" fill="#5f5f5f"/>
<path d="M66 36 67 33 67 25 66 22 65 25 65 33Z" fill="#656565"/>
<path d="M63 47 64 43 64 33 63 29 63 33 63 43Z" fill="#676767"/>
<path d="M181 104 182 100 184 95 187 91 190 88 194 86 198 84 201 82 203 81 206 79 208 78 211 76 216 70 223 61 230 53 236 48 241 43 245 39 249 35 254 31 259 27 264 23 269 20 274 18 280 15 287 12 292 10 308 34 304 37 298 42 292 46 286 50 282 54 278 56 274 59 271 62 266 65 262 68 258 71 254 75 248 82 241 91 235 98 230 103 225 107 222 109 218 111 214 112 210 113 206 115 201 116 197 116 193 115 189 113 185 111Z" fill="#737373"/>
<path d="M144 149 148 145 153 139 159 133 163 128 167 124 171 119 174 116 177 113 179 111 181 109 183 107 186 106 188 105 190 105 193 105 199 107 203 107 204 106 203 107 206 112 210 117 212 121 213 124 213 128 212 130 210 133 207 136 204 139 201 141 197 144 193 148 189 152 184 156 179 162 174 167 170 172Z" fill="#737373"/>
<path d="M119 26 116 29 111 32 107 36 103 39 98 43 94 46 89 50 85 55 80 59 76 64 72 69 68 74 63 78 59 83 58 87 59 83 61 77 62 71 65 65 69 59 73 53 77 48 81 42 84 37 88 32 91 27 94 22 98 18 103 14 106 11Z" fill="#737373"/>
<path d="M55 131 55 128 52 125 47 121 45 116 43 111 43 106 43 101 44 97 45 93 47 89 50 85 55 81 55 76 55 70 55 64 55 56 55 48 55 40 55 33 55 27 55 23 55 27 55 33 55 40 55 48 55 56 55 64 55 70 55 76 55 81 59 85 62 89 64 93 65 97 66 101 66 106 66 111 64 116 62 121 57 125 55 128 55 131Z" fill="#737373"/>
<path d="M63 59 64 56 64 49 63 47 62 49 62 56Z" fill="#7d7d7d"/>
<path d="M183 107 183 102 185 96 187 92 191 89 195 87 198 85 201 84 204 82 206 81 209 80 210 79 212 77 218 71 225 62 232 55 237 49 242 44 246 40 250 36 255 32 260 28 265 25 270 22 275 19 281 16 288 13 293 11 307 33 303 36 297 40 291 45 285 49 281 52 277 55 273 57 269 60 265 63 261 66 257 70 253 74 247 81 240 90 234 97 229 102 224 105 221 107 217 109 213 111 209 112 205 113 201 114 197 114 192 113 188 111 183 107Z" fill="#878787"/>
<path d="M146 150 149 146 155 140 160 134 164 129 169 125 172 121 175 117 178 114 180 112 182 110 185 108 187 107 189 106 192 106 196 107 202 109 203 107 204 106 203 107 202 109 207 115 210 119 211 123 211 126 210 129 208 132 205 134 202 137 199 140 196 143 192 146 187 150 183 155 178 160 172 166 168 170Z" fill="#878787"/>
<path d="M118 25 115 28 111 32 106 36 102 39 98 42 93 45 88 49 83 53 78 58 74 62 69 67 65 72 62 78 59 83 58 87 59 83 62 78 65 72 69 67 72 61 75 55 79 49 82 44 86 38 89 33 91 28 95 23 99 19 103 15 107 12Z" fill="#878787"/>
<path d="M55 131 55 128 55 125 50 121 47 116 45 111 44 106 44 101 45 97 47 93 49 89 55 85 55 81 55 76 55 70 55 64 55 56 55 48 55 40 55 33 55 27 55 23 55 27 55 33 55 40 55 48 55 56 55 64 55 70 55 76 55 81 55 85 60 89 63 93 64 97 65 101 65 106 64 111 63 116 60 121 55 125 55 128 55 131Z" fill="#878787"/>
<path d="M61 70 62 67 62 59 61 57 60 59 60 67Z" fill="#8b8b8b"/>
<path d="M54 61 55 58 55 48 54 45 54 48 54 58Z" fill="#979797"/>
<path d="M183 107 185 105 185 98 188 94 191 91 195 89 199 87 202 85 205 84 207 83 209 81 211 80 213 78 219 72 226 63 233 56 238 50 243 46 247 42 251 38 256 34 261 30 266 27 271 24 276 21 282 18 289 15 294 13 306 32 302 35 296 39 290 43 285 47 280 50 276 53 272 56 268 59 264 62 260 65 256 68 251 73 246 80 239 88 232 96 227 101 223 104 220 105 216 107 212 109 208 110 204 112 200 113 196 113 192 112 186 108 183 107Z" fill="#9c9c9c"/>
<path d="M147 151 151 147 156 141 161 136 166 131 170 126 174 122 177 118 179 116 182 113 184 111 186 109 188 108 191 107 194 107 201 110 202 109 203 107 204 106 203 107 202 109 201 110 207 117 209 121 209 125 208 128 206 130 204 133 201 136 198 138 194 141 190 145 186 149 181 154 176 159 171 165 167 169Z" fill="#9c9c9c"/>
<path d="M117 25 114 27 110 31 106 35 101 38 97 41 91 43 85 47 81 51 77 57 73 62 69 67 65 72 62 78 59 83 58 87 59 83 62 78 65 72 69 67 73 62 77 57 81 51 85 47 88 41 90 34 92 29 96 24 100 20 104 16 107 13Z" fill="#9c9c9c"/>
<path d="M55 131 55 128 55 125 55 121 48 116 46 111 45 106 46 101 47 97 48 93 52 89 55 85 55 81 55 76 55 70 55 64 55 56 55 48 55 40 55 33 55 27 55 23 55 27 55 33 55 40 55 48 55 56 55 64 55 70 55 76 55 81 55 85 57 89 61 93 62 97 64 101 64 106 63 111 61 116 55 121 55 125 55 128 55 131Z" fill="#9c9c9c"/>
<path d="M183 107 185 106 186 100 189 95 192 92 196 91 200 89 203 87 205 86 208 84 210 83 212 82 215 79 220 73 228 65 234 57 240 51 244 47 249 43 253 39 257 36 262 32 267 28 272 25 277 23 283 20 290 16 294 14 305 30 301 33 295 38 289 42 284 46 279 49 275 52 271 54 267 57 263 60 259 64 255 67 250 71 244 79 237 87 231 95 226 99 222 102 219 104 215 106 212 107 208 109 204 110 199 111 195 111 191 110 185 106 183 107Z" fill="#b0b0b0"/>
<path d="M149 153 152 148 157 142 163 137 167 132 171 127 175 123 178 120 181 117 183 115 185 112 187 110 190 109 192 109 197 110 201 110 202 109 203 107 204 106 203 107 202 109 201 110 203 114 207 120 208 123 206 126 204 129 202 131 199 134 196 137 193 140 189 143 184 148 180 152 175 158 169 164 166 168Z" fill="#b0b0b0"/>
<path d="M117 24 114 27 109 30 105 34 101 37 95 39 90 42 85 47 81 51 77 57 73 62 69 67 65 72 62 78 59 83 58 87 59 83 62 78 65 72 69 67 73 62 77 57 81 51 85 47 90 42 92 36 94 30 97 25 101 21 105 17 108 14Z" fill="#b0b0b0"/>
<path d="M55 131 55 128 55 125 55 121 51 116 48 111 47 106 47 101 48 97 50 93 55 89 55 85 55 81 55 76 55 70 55 64 55 56 55 48 55 40 55 33 55 27 55 23 55 27 55 33 55 40 55 48 55 56 55 64 55 70 55 76 55 81 55 85 55 89 59 93 61 97 62 101 63 106 62 111 58 116 55 121 55 125 55 128 55 131Z" fill="#b0b0b0"/>
<path d="M183 107 185 106 188 103 189 97 193 94 197 92 200 91 204 89 206 88 209 86 212 85 213 83 216 81 222 74 229 66 236 58 241 53 246 49 250 45 254 41 258 37 263 34 268 30 274 27 279 25 285 21 291 18 296 16 304 29 300 32 294 36 288 40 283 44 278 47 274 50 270 53 266 56 262 59 257 62 253 66 249 70 243 77 236 86 230 93 225 98 221 100 218 102 214 104 211 105 207 107 203 108 199 109 195 110 189 107 185 106 183 107Z" fill="#c4c4c4"/>
<path d="M150 154 154 150 159 144 164 138 169 133 173 129 176 125 180 121 182 118 185 116 187 114 189 112 191 110 195 110 200 112 201 110 202 109 203 107 204 106 203 107 202 109 201 110 200 112 204 117 205 121 204 124 202 127 200 130 197 132 194 135 191 138 187 142 183 146 178 151 173 156 168 162 164 166Z" fill="#c4c4c4"/>
<path d="M116 23 113 26 109 30 104 33 99 36 94 38 90 42 85 47 81 51 77 57 73 62 69 67 65 72 62 78 59 83 58 87 59 83 62 78 65 72 69 67 73 62 77 57 81 51 85 47 90 42 94 38 95 31 98 26 102 22 106 18 109 15Z" fill="#c4c4c4"/>
<path d="M55 131 55 128 55 125 55 121 55 116 50 111 48 106 48 101 50 97 55 93 55 89 55 85 55 81 55 76 55 70 55 64 55 56 55 48 55 40 55 33 55 27 55 23 55 27 55 33 55 40 55 48 55 56 55 64 55 70 55 76 55 81 55 85 55 89 55 93 59 97 61 101 61 106 60 111 55 116 55 121 55 125 55 128 55 131Z" fill="#c4c4c4"/>
<path d="M183 107 185 106 188 105 190 99 193 96 197 94 201 93 204 91 207 90 210 88 213 87 215 85 218 82 224 76 231 67 238 60 243 55 247 51 251 47 256 43 260 39 265 36 270 33 275 30 280 27 286 24 292 20 297 18 303 27 299 30 293 34 287 38 282 42 277 45 272 48 268 51 264 54 260 57 256 60 252 64 247 68 241 76 234 84 228 91 223 96 220 98 217 100 213 102 210 103 206 104 202 106 198 107 194 107 188 105 185 106 183 107Z" fill="#d9d9d9"/>
<path d="M152 156 156 151 161 146 166 140 170 135 175 130 178 126 181 123 184 120 186 118 189 115 191 113 193 112 199 113 200 112 201 110 202 109 203 107 204 106 203 107 202 109 201 110 200 112 199 113 202 119 202 122 200 125 198 128 195 130 192 133 189 136 185 140 181 144 176 149 171 155 166 160 162 165Z" fill="#d9d9d9"/>
<path d="M115 22 112 25 108 29 103 32 98 34 94 38 90 42 85 47 81 51 77 57 73 62 69 67 65 72 62 78 59 83 58 87 59 83 62 78 65 72 69 67 73 62 77 57 81 51 85 47 90 42 94 38 98 34 99 28 103 23 107 19 110 17Z" fill="#d9d9d9"/>
<path d="M55 131 55 128 55 125 55 121 55 116 53 111 50 106 50 101 55 97 55 93 55 89 55 85 55 81 55 76 55 70 55 64 55 56 55 48 55 40 55 33 55 27 55 23 55 27 55 33 55 40 55 48 55 56 55 64 55 70 55 76 55 81 55 85 55 89 55 93 55 97 59 101 59 106 57 111 55 116 55 121 55 125 55 128 55 131Z" fill="#d9d9d9"/>
<path d="M183 107 185 106 188 105 192 103 195 99 199 97 203 96 206 94 209 93 212 91 215 90 217 88 221 85 227 78 234 70 240 62 245 57 250 53 254 50 258 46 262 43 267 39 272 36 277 33 282 30 288 27 294 23 299 20 301 25 297 28 291 32 285 35 280 39 275 42 270 45 266 48 262 51 258 54 253 58 249 61 244 66 238 73 231 82 225 89 221 93 218 95 215 97 212 98 208 100 205 101 201 103 197 105 192 103 188 105 185 106 183 107Z" fill="#ebebeb"/>
<path d="M155 158 158 154 164 148 169 142 173 137 177 133 181 129 184 125 187 122 189 120 191 118 194 115 197 115 199 113 200 112 201 110 202 109 203 107 204 106 203 107 202 109 201 110 200 112 199 113 197 115 198 119 196 122 194 124 192 127 189 130 186 133 182 137 178 142 173 146 168 152 163 158 159 162Z" fill="#ebebeb"/>
<path d="M114 21 111 23 106 27 101 30 98 34 94 38 90 42 85 47 81 51 77 57 73 62 69 67 65 72 62 78 59 83 58 87 59 83 62 78 65 72 69 67 73 62 77 57 81 51 85 47 90 42 94 38 98 34 101 30 105 25 109 21 112 19Z" fill="#ebebeb"/>
<path d="M55 131 55 128 55 125 55 121 55 116 55 111 53 106 55 101 55 97 55 93 55 89 55 85 55 81 55 76 55 70 55 64 55 56 55 48 55 40 55 33 55 27 55 23 55 27 55 33 55 40 55 48 55 56 55 64 55 70 55 76 55 81 55 85 55 89 55 93 55 97 55 101 57 106 55 111 55 116 55 121 55 125 55 128 55 131Z" fill="#ebebeb"/>
<path d="M239 68 241 66 241 63 239 62 237 63 237 66Z" fill="#f9f9f9"/>
<path d="M209 101 211 100 211 97 209 96 207 97 207 100Z" fill="#f9f9f9"/>
<path d="M156 158 157 157 157 156 156 155 154 156 154 157Z" fill="#f9f9f9"/>
<path d="M183 130 185 129 185 126 183 125 182 126 182 129Z" fill="#f9f9f9"/>
<path d="M174 141 176 140 176 138 174 137 171 138 171 140Z" fill="#f9f9f9"/>
<path d="M207 100 208 99 208 97 207 96 206 97 206 99Z" fill="#f9f9f9"/>
<path d="M295 29 296 28 296 25 295 24 293 25 293 28Z" fill="#fafafa"/>
<path d="M262 44 264 43 264 41 262 39 259 41 259 43Z" fill="#fafafa"/>
<path d="M214 92 216 91 216 89 214 88 213 89 213 91Z" fill="#fbfbfb"/>
<path d="M203 106 205 105 205 102 203 101 200 102 200 105Z" fill="#fbfbfb"/>
<path d="M198 104 199 103 199 101 198 100 196 101 196 103Z" fill="#fbfbfb"/>
<path d="M191 134 193 132 193 130 191 129 189 130 189 132Z" fill="#fbfbfb"/>
<path d="M217 98 218 97 218 95 217 94 215 95 215 97Z" fill="#fbfbfb"/>
<path d="M176 137 177 136 177 135 176 134 175 135 175 136Z" fill="#fbfbfb"/>
<path d="M206 106 207 105 207 103 206 102 204 103 204 105Z" fill="#fbfbfb"/>
<path d="M202 100 203 99 203 97 202 95 200 97 200 99Z" fill="#fbfbfb"/>
<path d="M266 49 268 48 268 46 266 45 264 46 264 48Z" fill="#fbfbfb"/>
<path d="M198 114 200 113 200 111 198 110 196 111 196 113Z" fill="#fbfbfb"/>
<path d="M222 89 224 88 224 86 222 85 221 86 221 88Z" fill="#fcfcfc"/>
<path d="M287 37 288 35 288 33 287 32 285 33 285 35Z" fill="#fcfcfc"/>
<path d="M209 98 210 97 210 95 209 94 207 95 207 97Z" fill="#fdfdfd"/>
<path d="M184 121 186 120 186 117 184 116 181 117 181 120Z" fill="#fdfdfd"/>
<path d="M301 20 303 19 303 17 301 17 300 17 300 19Z" fill="#fefefe"/>
<path d="M183 129 185 128 185 127 183 126 181 127 181 128Z" fill="#fefefe"/>
</g></g>
<clipPath id="cp00L"><rect x="54.300000000000004" y="157.1" width="233.5" height="104.6"/></clipPath>
<g clip-path="url(#cp00L)"><g filter="url(#jet)">
<rect x="44.6" y="147.1" width="253.8" height="124.6" fill="#000"/>
<g filter="url(#soft)">
<path d="M55 198 69 192 60 172 55 169Z" fill="#2e2e2e"/>
</g>
<path d="M38 244 42 241 48 236 54 231 58 226 60 221 59 219 59 218 59 217 61 215 66 210 72 203 78 196 82 192 85 189 88 186 92 182 97 176 103 171 108 166 113 162 116 160 118 157 122 153 126 149 131 143 136 137 140 132 143 129 146 125 148 122 195 157 193 160 190 164 186 170 180 176 175 182 170 188 166 193 162 198 157 204 152 208 148 212 144 215 140 219 136 223 131 228 128 231 127 233 124 236 120 241 113 249 106 256 98 259 90 261 82 262 75 262 69 261 64 260 58 261 51 263 46 264Z" fill="#050505"/>
<path d="M73 190 75 188 78 185 82 181 86 176 91 171 97 165 103 160 107 156 110 154 112 151 116 148 120 143 125 138 130 132 134 127 137 124 139 120 141 118 180 146 178 149 175 153 171 158 166 164 160 170 155 175 151 180 148 185 143 189 139 193 135 197 131 200 126 205 121 210 117 214 114 218 111 221 109 223Z" fill="#050505"/>
<path d="M36 265 36 259 35 250 35 239 35 225 36 210 38 198 40 190 42 185 44 180 46 175 48 170 49 166 60 166 61 170 63 175 65 180 67 185 69 190 71 198 73 210 74 225 75 239 74 250 74 259 73 265Z" fill="#050505"/>
<path d="M61 169 63 167 63 160 61 158 60 160 60 167Z" fill="#070707"/>
<path d="M59 172 60 169 60 159 59 156 58 159 58 169Z" fill="#070707"/>
<path d="M77 172 77 169 77 159 77 156 76 159 76 169Z" fill="#070707"/>
<path d="M79 171 80 169 80 164 79 162 78 164 78 169Z" fill="#080808"/>
<path d="M106 168 107 165 107 158 106 156 105 158 105 165Z" fill="#080808"/>
<path d="M87 164 88 163 88 160 87 159 86 160 86 163Z" fill="#080808"/>
<path d="M81 171 82 168 82 160 81 158 80 160 80 168Z" fill="#090909"/>
<path d="M66 175 67 173 67 166 66 164 65 166 65 173Z" fill="#090909"/>
<path d="M68 177 69 175 69 169 68 167 67 169 67 175Z" fill="#0a0a0a"/>
<path d="M38 245 43 242 49 237 54 233 59 228 61 224 61 221 60 220 61 219 63 217 68 212 74 205 80 198 84 194 87 191 89 188 94 184 99 178 104 173 110 168 114 164 117 161 120 159 123 155 127 150 132 145 138 139 142 134 145 130 148 127 150 124 193 155 191 158 188 163 184 168 178 174 173 181 168 187 164 191 160 196 155 202 150 206 146 210 142 213 139 217 134 222 129 226 127 229 125 231 122 234 117 240 111 248 104 254 97 258 89 259 82 260 75 260 69 260 64 259 58 260 51 262 46 263Z" fill="#0a0a0a"/>
<path d="M79 195 81 193 84 190 87 186 91 182 97 176 102 170 108 165 112 162 115 159 118 156 121 153 125 148 130 143 135 137 140 132 142 128 145 125 147 122 178 144 176 147 173 152 169 157 164 162 159 168 154 174 150 179 146 183 142 187 137 191 133 195 129 199 124 203 120 208 115 213 112 216 109 219 107 222Z" fill="#0a0a0a"/>
<path d="M38 265 37 259 37 250 37 239 37 225 38 210 39 198 41 190 43 185 45 180 47 175 49 170 50 166 59 166 60 170 62 175 64 180 66 185 68 190 70 198 71 210 72 225 73 239 73 250 72 259 71 265Z" fill="#0a0a0a"/>
<path d="M70 170 71 167 71 157 70 154 69 157 69 167Z" fill="#0b0b0b"/>
<path d="M102 169 103 166 103 158 102 156 101 158 101 166Z" fill="#0b0b0b"/>
<path d="M108 171 109 168 109 158 108 155 107 158 107 168Z" fill="#0b0b0b"/>
<path d="M99 176 100 175 100 171 99 170 97 171 97 175Z" fill="#0d0d0d"/>
<path d="M83 169 84 166 84 157 83 153 82 157 82 166Z" fill="#0e0e0e"/>
<path d="M100 177 101 175 101 168 100 165 100 168 100 175Z" fill="#0e0e0e"/>
<path d="M87 175 88 174 88 168 87 167 86 168 86 174Z" fill="#0e0e0e"/>
<path d="M99 170 100 166 100 156 99 153 97 156 97 166Z" fill="#0e0e0e"/>
<path d="M61 180 62 178 62 172 61 170 61 172 61 178Z" fill="#0e0e0e"/>
<path d="M74 174 75 171 75 165 74 162 73 165 73 171Z" fill="#0f0f0f"/>
<path d="M58 171 59 169 59 163 58 161 57 163 57 169Z" fill="#101010"/>
<path d="M79 184 80 182 80 175 79 173 78 175 78 182Z" fill="#111111"/>
<path d="M39 246 43 243 49 239 55 234 59 229 61 225 61 223 61 222 62 221 64 218 69 213 76 206 82 199 86 195 88 192 91 190 95 185 100 180 106 174 111 169 115 166 119 163 122 160 125 156 129 152 134 146 139 140 143 135 147 131 149 128 151 125 192 154 190 157 186 162 182 167 177 173 171 179 166 185 162 190 158 195 154 200 149 205 144 208 141 211 137 215 132 220 128 225 125 228 123 230 121 232 116 238 109 246 102 253 95 256 88 258 81 259 74 259 69 259 64 258 57 259 50 261 45 262Z" fill="#111111"/>
<path d="M84 200 86 198 89 195 92 191 96 186 102 181 107 175 112 171 117 167 120 164 123 161 126 158 130 153 135 148 141 142 145 137 148 133 151 129 153 126 177 143 175 146 172 150 168 155 163 161 157 167 152 173 148 177 145 182 140 186 136 190 132 193 128 197 123 202 118 207 114 211 110 215 108 218 106 220Z" fill="#111111"/>
<path d="M39 265 39 259 38 250 38 239 39 225 39 210 41 198 43 190 45 185 46 180 48 175 50 170 51 166 58 166 59 170 61 175 63 180 65 185 67 190 68 198 70 210 71 225 71 239 71 250 70 259 70 265Z" fill="#111111"/>
<path d="M94 172 95 170 95 165 94 163 93 165 93 170Z" fill="#111111"/>
<path d="M87 191 88 188 88 180 87 178 86 180 86 188Z" fill="#121212"/>
<path d="M74 182 75 181 75 176 74 175 73 176 73 181Z" fill="#141414"/>
<path d="M81 178 82 177 82 174 81 173 80 174 80 177Z" fill="#161616"/>
<path d="M79 191 80 189 80 186 79 185 78 186 78 189Z" fill="#171717"/>
<path d="M39 247 43 244 49 240 55 235 60 231 62 227 62 224 62 223 63 222 66 219 70 214 77 207 83 200 87 196 89 193 92 191 96 186 101 181 107 175 112 170 116 167 120 164 123 161 126 157 130 153 135 147 140 141 145 136 148 132 150 129 152 126 191 153 189 156 185 161 181 166 176 172 170 179 165 184 161 189 157 194 153 199 148 204 144 207 140 210 136 214 131 219 127 224 124 227 122 229 120 232 115 238 108 245 101 252 94 256 87 257 81 258 74 259 68 258 63 258 57 259 50 261 45 262Z" fill="#171717"/>
<path d="M89 204 91 202 94 199 97 196 101 191 106 186 112 180 117 176 121 172 125 169 128 166 131 162 135 158 140 152 146 146 150 141 153 137 156 133 158 130 175 142 173 145 170 149 166 154 161 160 156 166 151 172 147 176 143 180 139 185 135 188 131 192 126 196 122 200 117 205 112 210 109 214 106 217 104 219Z" fill="#171717"/>
<path d="M40 265 40 259 39 250 39 239 40 225 40 210 42 198 43 190 45 185 47 180 49 175 51 170 52 166 57 166 58 170 60 175 62 180 64 185 66 190 67 198 69 210 70 225 70 239 70 250 69 259 69 265Z" fill="#171717"/>
<path d="M68 188 69 186 69 181 68 179 67 181 67 186Z" fill="#181818"/>
<path d="M83 176 84 175 84 171 83 170 82 171 82 175Z" fill="#181818"/>
<path d="M91 184 92 181 92 173 91 170 90 173 90 181Z" fill="#191919"/>
<path d="M83 191 84 188 84 180 83 178 82 180 82 188Z" fill="#1a1a1a"/>
<path d="M94 180 95 179 95 176 94 175 93 176 93 179Z" fill="#1a1a1a"/>
<path d="M85 192 86 189 86 179 85 176 84 179 84 189Z" fill="#1f1f1f"/>
<path d="M40 248 44 245 50 240 55 236 60 232 62 228 63 225 63 224 64 223 67 220 72 215 78 208 84 201 88 197 90 194 93 191 97 187 102 182 108 176 113 171 117 168 121 165 124 162 127 158 131 154 136 148 141 142 146 137 149 133 151 129 153 127 190 153 187 155 184 160 180 165 175 171 169 178 164 183 160 188 156 193 152 198 147 203 143 206 139 209 135 213 130 218 126 223 123 226 121 228 119 231 114 237 107 244 100 251 94 255 87 256 80 257 74 258 68 257 63 257 57 258 50 260 45 262Z" fill="#1f1f1f"/>
<path d="M41 265 41 259 40 250 40 239 41 225 41 210 43 198 44 190 46 185 48 180 50 175 52 170 55 166 58 170 59 175 61 180 63 185 65 190 67 198 68 210 69 225 69 239 69 250 68 259 68 265Z" fill="#1f1f1f"/>
<path d="M40 249 44 246 50 241 56 237 60 233 63 229 63 226 64 225 65 224 68 221 73 216 79 209 85 202 89 198 91 195 94 192 98 188 103 182 109 177 114 172 118 169 121 166 125 163 128 159 132 155 137 149 142 143 147 138 150 134 153 130 155 127 188 152 186 155 183 159 179 165 174 170 168 177 163 182 159 187 155 192 151 197 146 202 142 205 138 208 134 212 129 217 125 222 122 225 120 227 118 230 113 236 106 244 99 250 93 254 86 256 80 257 73 257 68 257 63 257 57 258 50 260 45 261Z" fill="#282828"/>
<path d="M42 265 42 259 41 250 41 239 42 225 42 210 44 198 45 190 47 185 49 180 51 175 53 170 55 166 57 170 59 175 60 180 62 185 64 190 66 198 67 210 68 225 68 239 68 250 67 259 67 265Z" fill="#282828"/>
<path d="M59 192 62 190 62 186 59 184 57 186 57 190Z" fill="#2a2a2a"/>
<path d="M63 216 65 213 65 203 63 199 61 203 61 213Z" fill="#2a2a2a"/>
<path d="M57 195 59 192 59 185 57 182 56 185 56 192Z" fill="#2f2f2f"/>
<path d="M72 225 74 223 74 217 72 215 70 217 70 223Z" fill="#2f2f2f"/>
<path d="M40 250 44 246 50 242 56 238 61 234 63 230 64 227 65 226 66 225 68 222 74 216 80 209 86 203 89 199 92 196 95 193 99 189 104 183 109 178 115 173 119 170 122 167 125 164 129 160 133 155 138 150 143 144 147 139 151 135 153 131 155 128 188 151 185 154 182 158 178 164 173 170 167 176 162 182 158 187 155 191 150 196 145 201 141 204 137 207 133 211 128 216 124 221 121 224 119 226 117 229 112 235 105 243 98 249 92 253 86 255 79 256 73 257 68 256 63 256 57 257 50 259 45 261Z" fill="#303030"/>
<path d="M43 265 43 259 42 250 42 239 42 225 43 210 44 198 46 190 48 185 49 180 51 175 55 170 55 166 55 170 58 175 60 180 61 185 63 190 65 198 66 210 67 225 67 239 67 250 67 259 66 265Z" fill="#303030"/>
<path d="M75 227 77 225 77 220 75 218 74 220 74 225Z" fill="#333333"/>
<path d="M55 265 87 265 75 255 63 252 55 252Z" fill="#383838"/>
<path d="M63 196 65 195 65 190 63 188 61 190 61 195Z" fill="#383838"/>
<path d="M40 250 45 247 51 243 56 239 61 235 63 231 64 228 65 227 67 226 69 223 74 217 81 210 86 203 90 199 93 197 95 194 100 189 105 184 110 179 115 174 120 171 123 167 126 164 130 161 134 156 139 150 144 144 148 139 152 135 154 131 156 129 187 150 185 153 181 158 177 163 172 169 166 175 161 181 157 186 154 190 149 195 144 200 140 203 136 206 132 211 128 216 123 220 120 223 118 225 116 228 111 234 104 242 98 249 91 252 85 254 79 255 73 256 68 256 63 256 56 257 49 259 44 260Z" fill="#3b3b3b"/>
<path d="M44 265 43 259 43 250 43 239 43 225 44 210 45 198 47 190 48 185 50 180 52 175 55 170 55 166 55 170 57 175 59 180 61 185 63 190 64 198 65 210 66 225 66 239 66 250 66 259 65 265Z" fill="#3b3b3b"/>
<path d="M55 248 72 242 84 218 81 198 66 192 55 189Z" fill="#3b3b3b"/>
<path d="M65 223 67 221 67 218 65 217 64 218 64 221Z" fill="#3b3b3b"/>
<path d="M75 217 77 215 77 208 75 205 73 208 73 215Z" fill="#3b3b3b"/>
<path d="M69 234 71 233 71 228 69 226 67 228 67 233Z" fill="#3b3b3b"/>
<path d="M69 225 71 223 71 215 69 213 67 215 67 223Z" fill="#4a4a4a"/>
<path d="M41 251 45 248 51 244 57 240 61 236 64 232 65 230 66 228 68 227 70 224 76 218 82 211 88 204 91 200 94 198 96 195 101 190 106 185 111 180 116 175 121 172 124 169 127 165 131 162 135 157 140 151 145 145 149 140 153 136 156 132 158 129 185 150 183 152 180 157 176 162 171 168 165 174 160 180 156 185 153 189 148 194 143 199 139 202 135 205 131 210 126 215 122 219 119 222 117 224 115 227 110 233 103 241 97 248 91 251 85 253 79 255 73 255 67 255 63 255 56 256 49 258 44 260Z" fill="#4a4a4a"/>
<path d="M45 265 45 259 44 250 44 239 44 225 45 210 46 198 48 190 50 185 52 180 55 175 55 170 55 166 55 170 55 175 58 180 60 185 61 190 63 198 64 210 65 225 65 239 65 250 65 259 64 265Z" fill="#4a4a4a"/>
<path d="M72 214 74 211 74 203 72 200 70 203 70 211Z" fill="#535353"/>
<path d="M65 213 67 210 67 201 65 198 64 201 64 210Z" fill="#575757"/>
<path d="M59 233 61 231 61 224 59 222 58 224 58 231Z" fill="#575757"/>
<path d="M41 253 46 250 52 245 57 241 62 237 65 234 66 231 67 229 69 228 72 225 77 219 83 212 89 206 93 202 95 199 98 196 102 192 107 186 112 181 117 176 122 173 125 170 128 166 132 163 136 158 141 153 146 147 151 141 154 137 157 133 159 131 184 149 182 151 179 156 175 161 170 167 164 173 159 179 155 184 151 188 147 193 142 197 138 201 134 204 130 208 125 213 121 218 118 221 116 223 113 226 108 232 102 240 95 246 89 250 84 252 78 254 72 254 67 254 62 254 56 256 49 257 44 259Z" fill="#5e5e5e"/>
<path d="M46 265 46 259 46 250 45 239 46 225 47 210 48 198 49 190 51 185 55 180 55 175 55 170 55 166 55 170 55 175 55 180 58 185 60 190 62 198 63 210 63 225 64 239 64 250 63 259 63 265Z" fill="#5e5e5e"/>
<path d="M57 241 59 238 59 228 57 225 55 228 55 238Z" fill="#5f5f5f"/>
<path d="M57 224 59 222 59 215 57 213 56 215 56 222Z" fill="#5f5f5f"/>
<path d="M59 244 61 242 61 237 59 236 58 237 58 242Z" fill="#646464"/>
<path d="M65 235 67 233 67 227 65 225 64 227 64 233Z" fill="#6d6d6d"/>
<path d="M43 256 46 251 52 247 58 242 62 239 65 235 67 233 68 231 70 229 73 226 78 220 85 213 90 207 94 203 96 200 99 197 103 193 108 187 113 182 118 178 123 174 126 171 130 168 133 164 137 159 142 154 148 148 152 142 155 138 158 134 160 131 183 148 181 151 178 155 173 160 168 166 163 172 158 178 154 183 150 187 146 192 141 196 137 199 133 203 129 207 124 212 120 217 117 220 115 222 112 225 107 231 100 239 94 245 89 249 83 251 78 253 72 253 67 253 62 253 55 255 48 256 43 256Z" fill="#737373"/>
<path d="M48 265 47 259 47 250 47 239 47 225 48 210 49 198 51 190 55 185 55 180 55 175 55 170 55 166 55 170 55 175 55 180 55 185 58 190 60 198 61 210 62 225 62 239 62 250 62 259 62 265Z" fill="#737373"/>
<path d="M65 243 67 242 67 239 65 237 64 239 64 242Z" fill="#818181"/>
<path d="M43 256 48 255 53 248 58 244 63 240 66 237 67 234 69 232 71 230 74 227 79 221 86 214 91 208 95 204 97 201 100 198 104 194 109 188 114 183 119 179 124 175 127 172 131 169 134 165 138 160 143 155 149 149 153 143 157 139 159 135 161 132 182 147 179 150 176 154 172 159 167 165 162 171 157 177 153 182 149 186 145 190 140 195 136 198 132 202 128 206 123 211 118 216 115 219 114 221 111 224 106 230 99 238 93 244 88 248 82 250 77 252 72 253 67 252 62 253 55 254 48 255 43 256Z" fill="#878787"/>
<path d="M49 265 49 259 48 250 48 239 49 225 50 210 51 198 55 190 55 185 55 180 55 175 55 170 55 166 55 170 55 175 55 180 55 185 55 190 58 198 60 210 60 225 61 239 61 250 60 259 60 265Z" fill="#878787"/>
<path d="M43 256 48 255 54 252 59 246 63 242 66 238 68 235 70 233 72 231 75 228 81 222 87 215 92 209 96 205 98 202 101 199 105 195 110 189 116 184 120 180 125 176 128 173 132 170 135 166 139 161 144 156 150 150 154 144 158 140 161 136 163 133 180 146 178 149 175 153 171 158 166 164 161 170 156 176 152 180 148 185 144 189 139 193 135 197 131 200 126 205 122 210 117 215 114 218 112 220 110 223 104 229 98 237 92 243 87 247 82 249 77 251 71 252 66 252 61 252 54 252 48 255 43 256Z" fill="#9c9c9c"/>
<path d="M51 265 50 259 50 250 50 239 51 225 52 210 55 198 55 190 55 185 55 180 55 175 55 170 55 166 55 170 55 175 55 180 55 185 55 190 55 198 58 210 59 225 59 239 59 250 59 259 58 265Z" fill="#9c9c9c"/>
<path d="M43 256 48 255 54 252 60 249 64 243 67 240 69 237 71 235 73 233 77 229 82 223 88 216 94 210 97 206 99 203 102 200 106 196 111 190 117 185 121 181 126 178 129 174 133 171 137 167 141 162 146 157 151 151 156 145 159 141 162 137 164 134 179 145 177 148 174 152 170 157 165 163 160 169 154 175 150 179 147 184 143 188 138 192 134 196 130 199 125 204 120 209 116 214 113 217 111 219 108 222 103 228 97 236 91 242 86 246 81 249 76 250 71 251 66 251 60 249 54 252 48 255 43 256Z" fill="#b0b0b0"/>
<path d="M55 265 55 259 53 250 53 239 55 225 55 210 55 198 55 190 55 185 55 180 55 175 55 170 55 166 55 170 55 175 55 180 55 185 55 190 55 198 55 210 55 225 56 239 56 250 55 259 55 265Z" fill="#b0b0b0"/>
<path d="M43 256 48 255 54 252 60 249 65 247 67 241 70 238 72 236 74 234 78 231 83 225 90 217 95 211 98 207 101 204 103 202 108 197 113 192 118 187 122 182 127 179 131 176 134 172 138 168 142 163 147 158 152 152 157 146 160 142 163 138 165 135 178 144 176 147 173 151 169 156 164 162 158 168 153 174 149 178 145 183 141 187 137 191 133 194 128 198 124 203 119 208 115 212 112 215 110 217 107 221 102 227 95 235 89 241 85 245 80 248 76 249 71 250 65 248 60 249 54 252 48 255 43 256Z" fill="#c4c4c4"/>
<path d="M43 256 48 255 54 252 60 249 65 248 68 244 71 240 73 238 76 236 80 232 85 226 91 218 97 212 100 208 102 206 105 203 109 198 114 193 119 188 124 184 128 181 132 177 136 173 139 169 143 165 148 159 154 153 158 148 162 143 165 139 167 136 176 143 174 146 171 150 167 155 162 160 157 167 152 172 148 177 144 181 140 185 135 189 131 193 127 196 122 201 117 206 113 211 110 214 108 216 105 219 100 226 94 233 88 240 83 244 79 246 75 248 70 248 65 248 60 249 54 252 48 255 43 256Z" fill="#d9d9d9"/>
<path d="M43 256 48 255 54 252 60 249 65 248 69 247 72 243 75 240 78 238 82 234 87 228 94 220 99 214 102 210 104 208 107 205 111 201 116 195 121 190 126 186 130 183 134 179 138 175 142 171 146 167 151 161 156 155 161 150 164 145 167 141 170 138 173 141 171 144 168 148 165 153 160 158 154 165 149 170 145 175 142 179 138 183 133 187 129 190 125 194 120 199 115 204 111 209 108 211 106 214 103 217 98 224 91 231 86 238 82 242 78 245 74 246 69 247 65 248 60 249 54 252 48 255 43 256Z" fill="#ebebeb"/>
<path d="M154 174 156 173 156 171 154 170 153 171 153 173Z" fill="#f8f8f8"/>
<path d="M136 186 138 185 138 183 136 182 134 183 134 185Z" fill="#f8f8f8"/>
<path d="M175 145 177 144 177 141 175 140 172 141 172 144Z" fill="#f8f8f8"/>
<path d="M125 196 127 195 127 193 125 193 124 193 124 195Z" fill="#f9f9f9"/>
<path d="M140 177 142 176 142 174 140 172 139 174 139 176Z" fill="#f9f9f9"/>
<path d="M116 198 118 197 118 196 116 195 114 196 114 197Z" fill="#f9f9f9"/>
<path d="M134 186 135 185 135 182 134 181 132 182 132 185Z" fill="#fafafa"/>
<path d="M75 249 76 248 76 245 75 244 74 245 74 248Z" fill="#fafafa"/>
<path d="M159 149 162 149 162 147 159 146 157 147 157 149Z" fill="#fcfcfc"/>
<path d="M133 184 135 183 135 180 133 179 131 180 131 183Z" fill="#fcfcfc"/>
<path d="M105 208 106 207 106 205 105 204 103 205 103 207Z" fill="#fcfcfc"/>
<path d="M95 230 96 229 96 227 95 226 94 227 94 229Z" fill="#fdfdfd"/>
<path d="M150 177 152 176 152 175 150 174 148 175 148 176Z" fill="#fdfdfd"/>
<path d="M155 170 156 170 156 168 155 167 153 168 153 170Z" fill="#fdfdfd"/>
<path d="M143 170 146 169 146 167 143 166 141 167 141 169Z" fill="#fefefe"/>
<path d="M80 246 83 245 83 242 80 241 78 242 78 245Z" fill="#fefefe"/>
</g></g>
<path d="M54.0 28.5H288.40000000000003V262.3H54.0" fill="none" stroke="#2a2a2a" stroke-width="1.2"/>
<path d="M51.6 244.8H54.6 M48.6 215.5H54.6 M51.6 186.3H54.6 M48.6 157.1H54.6 M51.6 127.9H54.6 M48.6 98.6H54.6 M51.6 69.4H54.6 M48.6 40.2H54.6 M54.6 262.3V268.3 M83.8 262.3V265.3 M113.1 262.3V268.3 M142.3 262.3V265.3 M171.5 262.3V268.3 M200.7 262.3V265.3 M230.0 262.3V268.3 M259.2 262.3V265.3 M288.4 262.3V268.3" stroke="#2a2a2a" stroke-width="1.2" fill="none"/>
<text x="206.5" y="198.1" font-size="18">U<tspan font-size="13" dy="-3.6">-</tspan><tspan dy="3.6">(H</tspan><tspan font-size="13" dy="3.8">2</tspan><tspan dy="-3.8">O)</tspan><tspan font-size="13" dy="3.8">2</tspan></text>
<rect x="300.4" y="28.5" width="233.8" height="233.8" fill="none" stroke="#2a2a2a" stroke-width="1.2"/>
<clipPath id="cp10U"><rect x="300.09999999999997" y="29.1" width="233.5" height="116.3"/></clipPath>
<g clip-path="url(#cp10U)"><g filter="url(#jet)">
<rect x="290.4" y="19.1" width="253.8" height="136.3" fill="#000"/>
<path d="M330 75 331 73 331 68 330 66 329 68 329 73Z" fill="#040404"/>
<path d="M317 78 318 75 318 67 317 64 317 67 317 75Z" fill="#050505"/>
<path d="M358 132 362 128 367 124 372 120 378 115 385 110 389 106 391 105 393 102 396 100 399 98 403 97 407 95 411 94 415 93 417 93 452 110 454 112 456 116 457 120 457 124 456 130 453 137 449 143 444 150 436 158 426 165 416 171 408 176 399 181 392 184 387 186Z" fill="#050505"/>
<path d="M412 88 412 84 414 78 417 72 422 67 427 64 431 61 434 59 438 56 444 52 448 49 451 46 452 43 456 37 460 27 466 18 472 10 477 6 480 3 485 -1 489 -4 493 -7 540 40 537 43 534 49 530 54 526 58 523 60 521 63 515 68 507 76 499 84 492 91 486 96 482 99 478 103 474 108 468 113 462 116 456 119 452 119 448 119 443 118 439 118Z" fill="#050505"/>
<path d="M355 126 359 123 364 119 369 115 375 110 381 105 385 101 386 100 388 99 390 97 394 95 397 94 401 92 405 91 409 90 411 90 442 105 442 107 442 109 441 112 440 116 438 120 435 125 432 130 427 136 421 142 413 148 405 154 397 159 389 163 383 167 378 169Z" fill="#050505"/>
<path d="M407 83 408 79 410 74 414 68 419 63 424 59 427 57 431 55 435 52 440 48 445 45 447 42 448 40 451 33 455 24 461 14 467 6 473 1 476 -1 480 -5 485 -9 488 -11 525 25 522 28 518 33 514 37 510 41 506 44 503 48 497 55 490 63 484 71 478 76 473 80 469 84 465 87 460 91 456 95 450 99 445 102 441 104 437 106 434 108 431 109Z" fill="#050505"/>
<path d="M402 95 405 90 410 83 413 79 418 79 425 80 430 81 457 111 457 116 456 125 451 133 442 136 433 137 427 138Z" fill="#050505"/>
<path d="M361 30 358 33 354 37 349 41 345 45 340 49 336 53 331 58 327 61 323 65 318 70 313 75 309 79 288 63 289 57 290 49 293 41 295 34 298 28 300 23 303 17 307 10 311 4 317 -2 323 -7 326 -10Z" fill="#050505"/>
<path d="M291 131 290 129 288 125 286 122 286 119 286 116 286 113 286 110 286 105 286 102 286 98 286 95 286 92 286 89 286 87 287 83 287 77 288 71 288 64 288 56 288 48 287 40 287 33 287 27 287 23 314 23 314 27 313 33 313 40 313 48 313 56 313 64 313 71 313 77 314 83 314 87 315 89 315 92 315 95 315 98 315 102 315 105 315 110 315 113 315 116 315 119 314 122 313 125 311 129 310 131Z" fill="#050505"/>
<path d="M306 109 335 109 335 121 306 121Z" fill="#050505"/>
<path d="M359 86 360 83 360 74 359 71 358 74 358 83Z" fill="#050505"/>
<path d="M367 89 368 87 368 80 367 78 366 80 366 87Z" fill="#050505"/>
<path d="M335 78 336 76 336 70 335 68 334 70 334 76Z" fill="#050505"/>
<path d="M337 87 338 84 338 75 337 72 336 75 336 84Z" fill="#060606"/>
<path d="M315 83 316 80 316 69 315 66 314 69 314 80Z" fill="#060606"/>
<path d="M371 89 372 88 372 83 371 81 370 83 370 88Z" fill="#060606"/>
<path d="M309 90 310 88 310 84 309 83 307 84 307 88Z" fill="#060606"/>
<path d="M311 88 312 87 312 82 311 81 310 82 310 87Z" fill="#070707"/>
<path d="M361 90 362 88 362 81 361 79 360 81 360 88Z" fill="#070707"/>
<path d="M375 99 376 96 376 86 375 83 373 86 373 96Z" fill="#080808"/>
<path d="M326 86 327 84 327 80 326 79 325 80 325 84Z" fill="#080808"/>
<path d="M363 87 364 85 364 77 363 75 362 77 362 85Z" fill="#080808"/>
<path d="M355 97 356 93 356 83 355 80 353 83 353 93Z" fill="#080808"/>
<path d="M333 90 334 86 334 76 333 73 331 76 331 86Z" fill="#080808"/>
<path d="M350 84 351 81 351 72 350 68 349 72 349 81Z" fill="#080808"/>
<path d="M335 96 336 92 336 83 335 79 334 83 334 92Z" fill="#090909"/>
<path d="M313 86 313 83 313 73 313 69 312 73 312 83Z" fill="#090909"/>
<path d="M348 77 349 75 349 68 348 66 347 68 347 75Z" fill="#090909"/>
<path d="M342 78 343 77 343 73 342 71 341 73 341 77Z" fill="#090909"/>
<path d="M324 92 325 91 325 87 324 86 323 87 323 91Z" fill="#090909"/>
<path d="M322 87 323 83 323 74 322 71 321 74 321 83Z" fill="#0a0a0a"/>
<path d="M365 90 366 89 366 83 365 81 364 83 364 89Z" fill="#0a0a0a"/>
<path d="M311 78 311 76 311 71 311 69 310 71 310 76Z" fill="#0a0a0a"/>
<path d="M328 82 329 79 329 69 328 66 327 69 327 79Z" fill="#0a0a0a"/>
<path d="M343 81 344 79 344 76 343 75 343 76 343 79Z" fill="#0a0a0a"/>
<path d="M330 83 331 82 331 79 330 77 329 79 329 82Z" fill="#0a0a0a"/>
<path d="M324 85 325 83 325 79 324 77 323 79 323 83Z" fill="#0a0a0a"/>
<path d="M359 134 363 131 368 127 374 123 380 118 387 112 391 109 393 107 395 104 398 102 402 100 405 98 409 96 413 95 417 94 419 94 450 109 452 111 453 115 454 119 454 123 453 129 450 135 447 141 441 148 434 156 424 163 415 169 406 174 398 178 391 182 386 184Z" fill="#0a0a0a"/>
<path d="M413 90 414 86 415 80 419 74 424 69 428 66 432 64 436 61 440 58 445 54 450 51 452 48 454 45 458 38 463 29 468 20 474 13 479 8 482 5 487 2 491 -2 495 -5 538 38 535 41 532 47 528 52 524 56 521 58 518 61 513 66 505 74 497 82 490 89 484 94 480 97 476 101 472 106 466 110 460 114 455 117 451 117 447 117 442 116 438 116Z" fill="#0a0a0a"/>
<path d="M359 133 363 131 368 127 373 122 380 117 386 112 391 108 393 106 395 104 398 101 401 99 404 97 408 95 411 94 414 93 416 93 440 104 440 106 440 108 439 111 438 115 436 119 433 124 430 129 425 134 420 140 412 146 403 152 396 157 388 161 382 165 377 167Z" fill="#0a0a0a"/>
<path d="M411 87 412 84 415 79 419 74 424 69 428 66 432 63 435 61 440 58 445 54 449 50 452 48 454 45 457 38 462 29 468 19 474 12 479 8 482 5 486 1 491 -3 494 -5 523 23 520 26 516 31 512 35 508 39 505 42 501 46 495 53 489 61 482 69 477 75 472 78 468 82 463 86 459 90 454 94 449 97 444 100 440 102 436 104 433 106 430 108Z" fill="#0a0a0a"/>
<path d="M403 97 407 92 411 85 415 81 420 82 426 82 432 82 456 109 455 114 454 122 449 130 440 134 432 135 425 135Z" fill="#0a0a0a"/>
<path d="M360 29 357 32 352 36 348 40 344 44 339 48 334 52 330 57 326 60 322 64 317 69 312 74 308 78 289 64 290 59 292 51 295 43 297 36 300 30 302 25 305 19 309 12 314 6 319 0 325 -5 328 -8Z" fill="#0a0a0a"/>
<path d="M292 131 291 129 289 125 288 122 287 119 287 116 287 113 287 110 287 105 287 102 287 98 287 95 287 92 287 89 288 87 288 83 289 77 289 71 290 64 290 56 289 48 289 40 289 33 289 27 289 23 312 23 312 27 312 33 312 40 312 48 311 56 311 64 311 71 312 77 312 83 313 87 314 89 314 92 314 95 314 98 314 102 314 105 314 110 314 113 314 116 314 119 313 122 312 125 310 129 308 131Z" fill="#0a0a0a"/>
<path d="M306 110 335 110 335 120 306 120Z" fill="#0a0a0a"/>
<path d="M381 102 382 99 382 91 381 89 380 91 380 99Z" fill="#0a0a0a"/>
<path d="M353 96 353 93 353 86 353 83 352 86 352 93Z" fill="#0b0b0b"/>
<path d="M383 110 384 107 384 98 383 95 383 98 383 107Z" fill="#0b0b0b"/>
<path d="M339 111 341 109 341 104 339 102 338 104 338 109Z" fill="#0b0b0b"/>
<path d="M317 116 319 113 319 103 317 100 316 103 316 113Z" fill="#0c0c0c"/>
<path d="M357 99 358 98 358 95 357 94 356 95 356 98Z" fill="#0c0c0c"/>
<path d="M315 102 316 101 316 98 315 97 314 98 314 101Z" fill="#0c0c0c"/>
<path d="M425 44 425 42 425 36 425 34 424 36 424 42Z" fill="#0c0c0c"/>
<path d="M355 115 355 111 355 102 355 99 354 102 354 111Z" fill="#0c0c0c"/>
<path d="M401 75 402 73 402 66 401 64 400 66 400 73Z" fill="#0c0c0c"/>
<path d="M320 93 321 90 321 79 320 76 319 79 319 90Z" fill="#0c0c0c"/>
<path d="M330 109 331 107 331 104 330 102 329 104 329 107Z" fill="#0c0c0c"/>
<path d="M431 42 432 40 432 34 431 32 430 34 430 40Z" fill="#0c0c0c"/>
<path d="M315 108 316 107 316 103 315 102 314 103 314 107Z" fill="#0c0c0c"/>
<path d="M429 59 430 58 430 55 429 54 428 55 428 58Z" fill="#0c0c0c"/>
<path d="M342 92 342 90 342 83 342 81 341 83 341 90Z" fill="#0d0d0d"/>
<path d="M435 37 436 36 436 30 435 29 434 30 434 36Z" fill="#0d0d0d"/>
<path d="M435 46 436 45 436 42 435 40 434 42 434 45Z" fill="#0d0d0d"/>
<path d="M390 99 391 97 391 90 390 88 389 90 389 97Z" fill="#0d0d0d"/>
<path d="M330 102 331 98 331 89 330 85 329 89 329 98Z" fill="#0d0d0d"/>
<path d="M373 112 374 110 374 106 373 104 372 106 372 110Z" fill="#0d0d0d"/>
<path d="M328 101 329 97 329 87 328 83 327 87 327 97Z" fill="#0e0e0e"/>
<path d="M426 51 427 49 427 45 426 43 425 45 425 49Z" fill="#0e0e0e"/>
<path d="M363 120 364 118 364 109 363 106 362 109 362 118Z" fill="#0e0e0e"/>
<path d="M377 122 378 120 378 111 377 108 375 111 375 120Z" fill="#0e0e0e"/>
<path d="M335 108 336 106 336 101 335 99 334 101 334 106Z" fill="#0e0e0e"/>
<path d="M373 102 374 100 374 93 373 90 372 93 372 100Z" fill="#0e0e0e"/>
<path d="M313 123 314 122 314 117 313 116 312 117 312 122Z" fill="#0e0e0e"/>
<path d="M317 98 319 95 319 84 317 81 316 84 316 95Z" fill="#0e0e0e"/>
<path d="M307 124 308 122 308 117 307 115 306 117 306 122Z" fill="#0f0f0f"/>
<path d="M343 99 345 96 345 86 343 83 342 86 342 96Z" fill="#0f0f0f"/>
<path d="M443 49 444 46 444 36 443 33 442 36 442 46Z" fill="#0f0f0f"/>
<path d="M348 115 349 113 349 106 348 104 347 106 347 113Z" fill="#0f0f0f"/>
<path d="M337 115 338 112 338 102 337 99 336 102 336 112Z" fill="#0f0f0f"/>
<path d="M429 38 430 36 430 27 429 25 428 27 428 36Z" fill="#0f0f0f"/>
<path d="M371 97 372 96 372 92 371 90 370 92 370 96Z" fill="#0f0f0f"/>
<path d="M339 119 340 118 340 113 339 111 339 113 339 118Z" fill="#0f0f0f"/>
<path d="M313 93 314 92 314 89 313 88 311 89 311 92Z" fill="#0f0f0f"/>
<path d="M333 105 334 102 334 95 333 92 331 95 331 102Z" fill="#0f0f0f"/>
<path d="M350 112 351 109 351 100 350 97 349 100 349 109Z" fill="#0f0f0f"/>
<path d="M453 35 454 33 454 29 453 27 452 29 452 33Z" fill="#101010"/>
<path d="M410 75 410 72 410 63 410 60 409 63 409 72Z" fill="#101010"/>
<path d="M311 123 312 120 312 113 311 110 310 113 310 120Z" fill="#101010"/>
<path d="M324 114 325 111 325 104 324 101 323 104 323 111Z" fill="#101010"/>
<path d="M309 107 310 104 310 95 309 91 308 95 308 104Z" fill="#101010"/>
<path d="M359 107 360 106 360 101 359 100 358 101 358 106Z" fill="#101010"/>
<path d="M392 99 393 97 393 91 392 89 391 91 391 97Z" fill="#101010"/>
<path d="M361 136 364 133 370 129 375 125 381 120 388 114 393 110 395 108 397 106 400 103 404 101 407 99 411 97 415 96 419 95 421 95 449 108 450 110 451 114 452 118 452 122 451 128 449 134 445 140 440 147 432 154 423 161 414 167 405 172 397 177 390 180 385 182Z" fill="#111111"/>
<path d="M415 91 415 87 417 82 420 76 425 71 430 68 433 65 437 63 441 60 446 56 451 52 454 49 456 46 460 40 464 30 470 21 476 14 481 10 484 7 488 3 493 -1 496 -4 536 36 534 40 530 45 526 50 522 54 519 57 517 59 511 65 503 73 496 81 488 88 483 92 479 96 475 99 471 104 465 109 459 112 454 115 450 116 446 115 441 115 437 115Z" fill="#111111"/>
<path d="M363 140 367 138 372 134 378 129 385 124 392 119 397 115 399 112 402 109 405 106 408 103 411 101 414 98 417 96 419 96 421 95 439 104 439 105 438 107 437 110 436 114 434 118 431 123 428 128 424 133 418 139 411 144 402 150 394 155 387 160 381 163 376 165Z" fill="#111111"/>
<path d="M415 91 416 88 419 84 423 79 428 75 432 72 436 69 440 66 445 63 449 60 454 56 457 53 460 50 464 43 469 34 474 25 480 18 484 14 488 11 492 7 497 3 500 0 521 21 518 25 514 29 510 34 506 37 503 40 499 45 493 52 487 60 480 68 475 73 471 77 466 80 462 84 458 88 453 92 448 95 443 98 438 101 435 103 431 105 429 107Z" fill="#111111"/>
<path d="M404 99 408 94 413 88 417 84 421 83 428 84 433 84 455 108 454 113 452 120 447 128 439 131 430 133 424 134Z" fill="#111111"/>
<path d="M359 28 356 31 352 35 347 39 343 43 338 47 334 52 329 56 325 60 321 64 316 68 311 74 307 77 290 65 292 60 294 52 296 44 299 37 302 31 304 26 307 20 311 14 315 7 321 2 326 -3 330 -6Z" fill="#111111"/>
<path d="M294 131 292 129 290 125 289 122 288 119 288 116 288 113 288 110 288 105 288 102 288 98 288 95 288 92 288 89 289 87 290 83 290 77 291 71 291 64 291 56 291 48 290 40 290 33 290 27 290 23 311 23 311 27 311 33 311 40 310 48 310 56 310 64 310 71 311 77 311 83 312 87 312 89 313 92 313 95 313 98 313 102 313 105 313 110 313 113 313 116 313 119 312 122 311 125 309 129 307 131Z" fill="#111111"/>
<path d="M306 111 335 111 335 119 306 119Z" fill="#111111"/>
<path d="M315 123 316 122 316 119 315 118 314 119 314 122Z" fill="#111111"/>
<path d="M326 104 327 101 327 92 326 89 325 92 325 101Z" fill="#111111"/>
<path d="M361 98 362 97 362 94 361 93 360 94 360 97Z" fill="#111111"/>
<path d="M426 58 427 57 427 53 426 52 425 53 425 57Z" fill="#121212"/>
<path d="M379 123 380 121 380 118 379 117 378 118 378 121Z" fill="#121212"/>
<path d="M381 121 382 118 382 108 381 105 380 108 380 118Z" fill="#121212"/>
<path d="M346 123 347 120 347 111 346 108 345 111 345 120Z" fill="#121212"/>
<path d="M317 122 318 121 318 118 317 117 317 118 317 121Z" fill="#121212"/>
<path d="M439 35 440 32 440 25 439 22 438 25 438 32Z" fill="#121212"/>
<path d="M311 100 312 98 312 92 311 89 310 92 310 98Z" fill="#121212"/>
<path d="M320 108 321 105 321 99 320 96 319 99 319 105Z" fill="#121212"/>
<path d="M342 103 343 101 343 95 342 93 341 95 341 101Z" fill="#121212"/>
<path d="M412 66 413 65 413 62 412 61 410 62 410 65Z" fill="#131313"/>
<path d="M311 107 312 106 312 103 311 102 310 103 310 106Z" fill="#131313"/>
<path d="M429 50 430 49 430 43 429 41 428 43 428 49Z" fill="#131313"/>
<path d="M363 104 364 101 364 91 363 88 362 91 362 101Z" fill="#131313"/>
<path d="M369 118 370 115 370 109 369 107 368 109 368 115Z" fill="#131313"/>
<path d="M365 123 366 121 366 113 365 110 364 113 364 121Z" fill="#131313"/>
<path d="M371 110 371 107 371 101 371 98 370 101 370 107Z" fill="#131313"/>
<path d="M433 43 434 41 434 36 433 34 432 36 432 41Z" fill="#141414"/>
<path d="M403 74 404 71 404 64 403 61 402 64 402 71Z" fill="#141414"/>
<path d="M414 52 415 50 415 46 414 45 413 46 413 50Z" fill="#141414"/>
<path d="M379 106 380 105 380 99 379 98 378 99 378 105Z" fill="#151515"/>
<path d="M423 49 423 46 423 37 423 34 422 37 422 46Z" fill="#151515"/>
<path d="M418 54 419 52 419 43 418 41 417 43 417 52Z" fill="#161616"/>
<path d="M322 106 322 104 322 100 322 98 321 100 321 104Z" fill="#161616"/>
<path d="M357 113 358 111 358 102 357 99 356 102 356 111Z" fill="#161616"/>
<path d="M416 66 418 63 418 54 416 51 415 54 415 63Z" fill="#161616"/>
<path d="M375 123 376 121 376 116 375 114 374 116 374 121Z" fill="#171717"/>
<path d="M328 109 329 108 329 105 328 103 327 105 327 108Z" fill="#171717"/>
<path d="M361 137 365 134 370 130 376 126 382 121 389 116 394 112 396 109 399 107 402 104 405 102 409 100 413 98 417 96 420 96 422 96 447 108 449 110 450 113 451 117 451 121 450 127 447 133 444 139 439 146 431 153 422 160 413 166 404 171 396 175 389 179 385 181Z" fill="#171717"/>
<path d="M416 92 416 88 418 83 421 77 426 72 430 69 434 66 438 64 442 61 447 57 452 53 455 51 457 47 461 41 466 31 471 22 477 15 482 11 485 8 490 4 494 0 497 -2 535 35 532 39 529 44 525 49 521 53 518 55 515 58 510 64 502 72 494 80 487 86 482 91 478 94 474 98 470 103 464 107 458 111 453 114 449 115 445 114 440 114 436 114Z" fill="#171717"/>
<path d="M367 147 371 145 376 141 383 137 390 132 397 126 403 122 406 118 409 114 412 111 415 107 418 104 420 101 423 99 425 98 426 97 437 103 437 104 436 106 435 109 434 113 432 117 429 121 426 126 422 131 417 137 409 143 401 148 393 153 386 158 380 161 375 163Z" fill="#171717"/>
<path d="M419 96 421 93 423 89 427 85 432 81 436 78 441 75 445 72 449 69 454 65 458 62 462 58 465 55 470 48 475 39 481 30 486 24 490 20 494 17 498 13 503 9 506 6 520 20 517 23 512 27 508 32 505 35 501 39 497 43 491 50 485 59 479 66 474 71 469 75 465 78 461 82 456 86 451 90 446 93 441 96 437 99 433 101 430 104 428 105Z" fill="#171717"/>
<path d="M405 100 409 95 414 89 418 85 422 85 429 85 434 85 454 107 453 112 451 119 446 126 438 130 430 131 424 132Z" fill="#171717"/>
<path d="M359 27 356 30 351 34 347 38 342 42 338 47 333 51 328 55 324 59 320 63 315 68 310 73 307 77 291 66 293 60 295 53 297 45 300 38 303 33 305 27 308 21 312 15 316 9 322 3 327 -2 331 -4Z" fill="#171717"/>
<path d="M295 131 293 129 291 125 290 122 289 119 289 116 289 113 289 110 289 105 289 102 289 98 289 95 289 92 289 89 290 87 290 83 291 77 292 71 292 64 292 56 291 48 291 40 291 33 291 27 291 23 310 23 310 27 310 33 310 40 309 48 309 56 309 64 309 71 310 77 310 83 311 87 312 89 312 92 312 95 312 98 312 102 312 105 312 110 312 113 312 116 312 119 311 122 310 125 308 129 306 131Z" fill="#171717"/>
<path d="M306 111 335 112 335 118 306 119Z" fill="#171717"/>
<path d="M375 113 376 111 376 103 375 100 374 103 374 111Z" fill="#171717"/>
<path d="M443 32 444 30 444 22 443 20 442 22 442 30Z" fill="#171717"/>
<path d="M412 58 413 56 413 49 412 46 411 49 411 56Z" fill="#181818"/>
<path d="M379 116 380 115 380 111 379 110 378 111 378 115Z" fill="#181818"/>
<path d="M377 108 378 107 378 104 377 103 376 104 376 107Z" fill="#181818"/>
<path d="M437 39 438 37 438 29 437 27 436 29 436 37Z" fill="#191919"/>
<path d="M371 122 372 120 372 114 371 112 370 114 370 120Z" fill="#191919"/>
<path d="M324 122 325 121 325 118 324 117 323 118 323 121Z" fill="#191919"/>
<path d="M405 71 405 69 405 61 405 59 404 61 404 69Z" fill="#1a1a1a"/>
<path d="M441 44 442 42 442 39 441 37 440 39 440 42Z" fill="#1a1a1a"/>
<path d="M416 48 417 47 417 43 416 42 416 43 416 47Z" fill="#1a1a1a"/>
<path d="M426 42 427 40 427 34 426 31 425 34 425 40Z" fill="#1a1a1a"/>
<path d="M449 38 450 36 450 27 449 25 448 27 448 36Z" fill="#1a1a1a"/>
<path d="M418 67 419 64 419 57 418 54 417 57 417 64Z" fill="#1b1b1b"/>
<path d="M320 120 321 118 321 112 320 111 319 112 319 118Z" fill="#1b1b1b"/>
<path d="M330 121 331 119 331 113 330 111 329 113 329 119Z" fill="#1b1b1b"/>
<path d="M326 120 327 117 327 108 326 105 325 108 325 117Z" fill="#1b1b1b"/>
<path d="M367 121 368 118 368 111 367 108 366 111 366 118Z" fill="#1b1b1b"/>
<path d="M451 39 452 35 452 26 451 22 450 26 450 35Z" fill="#1b1b1b"/>
<path d="M407 59 408 57 408 51 407 49 406 51 406 57Z" fill="#1b1b1b"/>
<path d="M373 122 374 121 374 116 373 114 372 116 372 121Z" fill="#1c1c1c"/>
<path d="M342 122 343 119 343 113 342 111 341 113 341 119Z" fill="#1c1c1c"/>
<path d="M315 117 316 115 316 110 315 109 314 110 314 115Z" fill="#1d1d1d"/>
<path d="M369 123 370 122 370 119 369 118 368 119 368 122Z" fill="#1e1e1e"/>
<path d="M362 139 366 136 371 132 377 128 383 123 390 117 395 113 398 111 400 108 403 105 407 102 410 101 414 98 418 97 421 97 424 96 446 107 447 109 449 113 450 116 450 121 449 126 446 132 443 138 437 145 430 152 421 159 412 165 403 170 396 174 388 177 384 179Z" fill="#1f1f1f"/>
<path d="M417 93 417 89 418 84 422 78 427 74 431 70 435 68 439 65 443 62 448 58 453 54 456 52 458 48 462 42 467 32 473 23 478 17 483 12 486 9 491 6 495 2 499 -1 534 34 531 38 528 43 524 48 520 52 517 54 514 57 508 63 501 71 493 79 486 85 481 90 477 93 473 97 469 102 463 106 457 110 452 112 448 113 444 113 439 113 435 113Z" fill="#1f1f1f"/>
<path d="M406 101 409 97 414 91 419 87 424 86 430 86 434 86 453 106 452 111 450 118 445 124 437 128 429 130 423 131Z" fill="#1f1f1f"/>
<path d="M358 27 355 30 351 34 346 38 342 42 337 46 332 51 328 55 324 59 320 63 315 67 310 73 306 76 292 66 293 61 296 53 298 46 301 39 304 34 307 28 310 22 313 16 318 10 323 4 328 0 332 -3Z" fill="#1f1f1f"/>
<path d="M296 131 294 129 292 125 290 122 290 119 289 116 289 113 289 110 289 105 289 102 289 98 289 95 289 92 290 89 290 87 291 83 292 77 293 71 293 64 293 56 292 48 292 40 292 33 292 27 292 23 309 23 309 27 309 33 309 40 308 48 308 56 308 64 308 71 309 77 309 83 310 87 311 89 311 92 312 95 312 98 312 102 312 105 312 110 311 113 311 116 311 119 310 122 309 125 307 129 305 131Z" fill="#1f1f1f"/>
<path d="M306 112 335 113 335 117 306 118Z" fill="#1f1f1f"/>
<path d="M363 140 367 137 372 133 378 129 384 124 391 118 396 114 399 112 401 109 404 105 408 103 412 101 416 99 419 98 423 97 425 97 445 106 446 109 447 112 448 116 448 120 447 126 445 132 441 137 436 144 429 151 420 157 411 163 403 169 395 173 388 176 383 178Z" fill="#282828"/>
<path d="M418 94 418 90 419 85 423 79 427 75 432 71 436 69 440 66 444 63 449 59 454 55 457 53 459 49 463 42 468 33 474 24 479 18 484 14 487 11 492 7 496 3 500 0 533 33 530 37 527 41 522 46 519 50 516 53 513 56 507 62 500 70 492 78 486 84 480 89 476 92 472 96 468 101 462 105 457 109 451 111 447 112 443 112 438 112 434 112Z" fill="#282828"/>
<path d="M407 103 410 98 415 92 420 88 425 88 431 87 435 87 452 105 451 109 449 116 444 123 436 127 428 129 422 130Z" fill="#282828"/>
<path d="M358 26 355 29 350 33 346 37 341 41 337 46 332 50 327 54 323 58 319 62 314 67 309 72 305 76 293 67 294 62 297 54 300 47 302 40 305 35 308 29 311 23 314 17 319 11 324 5 329 1 333 -2Z" fill="#282828"/>
<path d="M297 131 295 129 293 125 291 122 290 119 290 116 290 113 290 110 290 105 290 102 290 98 290 95 290 92 290 89 291 87 292 83 293 77 294 71 294 64 294 56 293 48 293 40 293 33 293 27 293 23 308 23 308 27 308 33 308 40 307 48 307 56 307 64 307 71 308 77 309 83 310 87 310 89 311 92 311 95 311 98 311 102 311 105 311 110 311 113 311 116 310 119 310 122 308 125 306 129 304 131Z" fill="#282828"/>
<path d="M306 113 335 114 335 116 306 117Z" fill="#282828"/>
<path d="M363 141 367 138 373 134 378 130 385 125 392 120 397 115 400 112 402 109 406 106 409 104 413 102 417 100 420 98 424 98 426 97 443 106 445 108 446 111 447 115 447 119 446 125 444 131 440 137 435 143 428 150 420 157 411 163 402 168 394 172 387 175 383 177Z" fill="#303030"/>
<path d="M418 95 419 91 420 85 423 80 428 76 433 72 437 70 440 67 445 64 450 60 454 56 457 53 460 50 464 43 469 34 475 25 480 19 485 15 488 11 493 8 497 4 501 1 532 32 529 36 526 41 522 46 518 49 515 52 512 55 506 61 499 69 491 77 485 84 479 88 476 91 472 95 467 100 462 104 456 108 451 110 446 111 442 112 437 111 433 111Z" fill="#303030"/>
<path d="M407 104 411 99 416 94 421 90 426 89 432 88 436 87 451 104 450 108 448 115 443 121 435 125 427 127 422 129Z" fill="#303030"/>
<path d="M357 26 354 29 350 33 345 37 341 41 336 45 331 50 327 54 323 58 319 62 314 67 309 72 305 76 294 67 295 62 298 55 300 47 303 41 306 36 309 30 312 24 315 18 320 12 325 6 330 2 334 -1Z" fill="#303030"/>
<path d="M299 131 295 129 293 125 292 122 291 119 291 116 291 113 290 110 290 105 291 102 290 98 290 95 291 92 291 89 292 87 293 83 294 77 295 71 295 64 295 56 294 48 294 40 294 33 294 27 293 23 307 23 307 27 307 33 307 40 306 48 306 56 306 64 306 71 307 77 308 83 309 87 310 89 310 92 310 95 310 98 310 102 310 105 310 110 310 113 310 116 310 119 309 122 308 125 305 129 302 131Z" fill="#303030"/>
<path d="M306 113 335 115 306 117Z" fill="#303030"/>
<path d="M364 142 368 139 373 135 379 131 386 126 393 121 398 116 401 113 403 110 407 107 410 105 414 102 418 100 422 99 425 98 428 98 442 105 443 107 445 111 446 115 446 119 445 124 443 130 439 136 434 142 428 149 419 156 410 162 402 167 394 171 387 174 382 176Z" fill="#3b3b3b"/>
<path d="M419 96 420 92 421 86 424 81 429 77 433 73 437 71 441 68 446 65 450 61 455 57 458 54 461 51 465 44 470 35 476 26 481 20 486 16 489 12 494 9 498 4 501 2 531 31 529 35 525 40 521 45 517 48 514 51 511 54 505 60 498 68 491 76 484 83 479 87 475 90 471 94 466 99 461 103 455 107 450 109 446 111 441 111 436 111 432 110Z" fill="#3b3b3b"/>
<path d="M408 105 412 101 417 95 422 91 427 90 433 89 437 88 450 103 449 107 447 114 442 120 435 124 427 126 421 128Z" fill="#3b3b3b"/>
<path d="M357 25 354 28 349 32 345 36 340 40 335 45 331 49 326 53 322 57 318 61 313 66 308 71 304 75 294 68 296 63 299 55 301 48 304 42 307 36 310 31 313 25 316 19 321 13 326 7 331 3 335 0Z" fill="#3b3b3b"/>
<path d="M300 131 297 129 294 125 293 122 292 119 291 116 291 113 291 110 291 105 291 102 291 98 291 95 291 92 292 89 293 87 294 83 295 77 296 71 297 64 296 56 296 48 295 40 295 33 294 27 294 23 307 23 306 27 306 33 306 40 305 48 304 56 304 64 305 71 306 77 307 83 308 87 309 89 310 92 310 95 310 98 310 102 310 105 310 110 310 113 310 116 309 119 308 122 307 125 304 129 300 131Z" fill="#3b3b3b"/>
<path d="M297 23 315 23 303 64 297 69Z" fill="#474747"/>
<path d="M298 35 299 32 299 21 298 18 296 21 296 32Z" fill="#484848"/>
<path d="M365 144 369 141 374 137 380 133 387 128 394 122 399 118 402 115 405 111 408 108 412 105 416 103 420 101 423 100 427 99 430 99 440 104 442 106 443 110 444 114 445 118 444 124 441 129 438 135 433 141 426 148 418 154 409 160 401 165 393 170 386 173 381 175Z" fill="#4a4a4a"/>
<path d="M421 98 421 93 422 87 425 82 429 78 434 75 438 72 442 69 447 66 451 62 456 58 459 55 462 52 466 45 472 36 477 27 483 21 487 17 491 14 495 10 499 6 503 3 530 30 527 34 524 38 519 43 516 47 513 50 509 53 504 59 497 67 489 75 483 82 478 86 474 89 470 93 465 97 460 102 454 105 449 108 445 109 441 110 435 109 431 109Z" fill="#4a4a4a"/>
<path d="M409 106 413 102 418 97 423 93 428 92 434 91 438 90 449 102 448 106 445 112 441 118 433 122 426 124 420 126Z" fill="#4a4a4a"/>
<path d="M356 25 353 28 348 32 344 36 340 40 335 44 330 49 326 53 321 57 317 61 312 66 307 71 303 75 296 69 298 64 300 56 303 49 306 43 309 38 311 32 314 26 318 20 322 14 327 9 332 4 336 1Z" fill="#4a4a4a"/>
<path d="M300 131 299 129 295 125 293 122 293 119 292 116 292 113 292 110 292 105 292 102 292 98 292 95 292 92 292 89 294 87 295 83 296 77 298 71 300 64 300 56 298 48 297 40 296 33 296 27 296 23 305 23 305 27 305 33 304 40 303 48 300 56 300 64 303 71 304 77 306 83 307 87 308 89 309 92 309 95 309 98 309 102 309 105 309 110 309 113 309 116 308 119 307 122 306 125 302 129 300 131Z" fill="#4a4a4a"/>
<path d="M302 33 303 30 303 23 302 20 302 23 302 30Z" fill="#4a4a4a"/>
<path d="M366 145 370 143 375 139 381 134 388 129 395 124 401 119 404 116 407 112 410 109 414 106 417 104 422 102 426 101 430 101 435 102 438 105 441 109 442 113 443 117 442 123 440 128 437 134 432 140 425 146 417 153 408 159 400 164 392 168 385 171 381 173Z" fill="#5e5e5e"/>
<path d="M423 100 422 95 423 89 426 84 430 79 435 76 439 73 443 70 448 67 452 63 457 60 460 57 463 53 468 46 473 37 479 28 484 22 488 18 492 15 496 11 501 7 504 4 529 29 526 32 522 37 518 42 514 46 511 49 508 52 502 58 495 66 488 74 482 80 477 84 473 88 469 92 464 96 459 100 453 104 448 106 444 108 439 108 434 108 429 106Z" fill="#5e5e5e"/>
<path d="M410 109 414 105 420 100 425 96 430 94 436 93 440 91 447 100 446 104 443 110 439 115 432 119 424 122 419 124Z" fill="#5e5e5e"/>
<path d="M356 24 352 27 348 31 343 35 339 39 334 43 329 48 325 52 320 56 316 60 311 65 306 70 302 74 298 71 299 65 302 58 305 51 308 45 310 39 313 34 316 28 319 22 323 16 329 10 334 6 337 3Z" fill="#5e5e5e"/>
<path d="M300 131 300 129 297 125 295 122 294 119 293 116 293 113 293 110 293 105 293 102 293 98 293 95 293 92 293 89 295 87 297 83 300 77 300 71 300 64 300 56 300 48 300 40 300 33 298 27 298 23 303 23 302 27 300 33 300 40 300 48 300 56 300 64 300 71 300 77 304 83 306 87 307 89 308 92 308 95 308 98 308 102 308 105 308 110 308 113 308 116 307 119 306 122 304 125 300 129 300 131Z" fill="#5e5e5e"/>
<path d="M366 147 370 144 376 140 382 136 389 131 396 125 402 121 405 117 408 114 411 110 415 107 419 105 424 103 429 102 434 103 435 102 434 103 438 107 440 112 441 116 440 122 438 127 435 133 430 139 424 145 416 151 407 157 399 162 391 167 384 170 380 172Z" fill="#737373"/>
<path d="M426 103 424 97 424 90 427 85 431 81 436 77 440 75 444 72 449 68 453 65 458 61 461 58 465 54 469 47 475 38 480 30 486 24 490 20 493 17 498 13 502 8 505 6 527 28 525 31 521 36 517 40 513 44 510 47 506 51 501 57 494 65 487 73 481 79 476 83 472 87 467 90 463 95 458 99 452 102 447 105 443 107 438 107 432 106 426 103Z" fill="#737373"/>
<path d="M411 111 416 108 422 103 427 99 433 97 438 96 444 96 443 101 441 107 436 112 430 116 423 119 417 121Z" fill="#737373"/>
<path d="M355 23 352 26 347 30 343 34 338 38 333 43 328 47 324 51 319 55 315 59 310 64 303 68 300 72 303 68 304 60 307 52 309 46 312 41 315 35 318 29 321 23 325 17 330 11 335 7 339 4Z" fill="#737373"/>
<path d="M300 131 300 129 299 125 296 122 295 119 294 116 293 113 293 110 293 105 293 102 293 98 293 95 294 92 294 89 296 87 300 83 300 77 300 71 300 64 300 56 300 48 300 40 300 33 300 27 300 23 300 27 300 33 300 40 300 48 300 56 300 64 300 71 300 77 300 83 305 87 306 89 307 92 307 95 307 98 307 102 307 105 307 110 307 113 307 116 306 119 305 122 302 125 300 129 300 131Z" fill="#737373"/>
<path d="M298 50 298 47 298 39 298 37 297 39 297 47Z" fill="#7d7d7d"/>
<path d="M367 148 371 146 377 142 383 138 390 132 398 127 403 122 407 118 410 115 413 111 417 108 421 106 426 105 433 105 434 103 435 102 434 103 433 105 437 110 439 115 439 121 437 126 434 132 429 138 423 144 415 150 406 156 398 161 390 165 384 168 379 171Z" fill="#878787"/>
<path d="M426 103 426 99 425 92 428 86 432 82 437 79 441 76 445 73 450 69 454 66 459 62 462 59 466 55 471 48 476 39 482 31 487 25 491 21 495 18 499 14 503 10 507 7 526 26 524 30 520 34 515 39 512 43 508 46 505 50 499 56 492 64 486 72 480 78 475 82 471 85 466 89 462 93 457 97 451 101 446 104 442 105 437 106 430 103 426 103Z" fill="#878787"/>
<path d="M354 22 351 25 347 30 342 34 337 38 332 42 327 46 323 50 318 54 313 58 308 62 303 68 300 72 303 68 308 62 310 55 312 48 314 43 317 37 319 31 322 24 326 18 331 13 336 8 340 6Z" fill="#878787"/>
<path d="M300 131 300 129 300 125 297 122 296 119 295 116 294 113 294 110 294 105 294 102 294 98 294 95 294 92 295 89 297 87 300 83 300 77 300 71 300 64 300 56 300 48 300 40 300 33 300 27 300 23 300 27 300 33 300 40 300 48 300 56 300 64 300 71 300 77 300 83 303 87 306 89 306 92 307 95 307 98 307 102 307 105 307 110 307 113 306 116 305 119 304 122 300 125 300 129 300 131Z" fill="#878787"/>
<path d="M298 59 298 57 298 54 298 52 297 54 297 57Z" fill="#939393"/>
<path d="M368 150 372 147 378 143 384 139 391 134 399 128 405 124 408 120 411 116 415 112 419 109 424 107 432 107 433 105 434 103 435 102 434 103 433 105 432 107 437 114 437 120 436 126 432 131 428 137 422 143 414 149 405 155 397 160 390 164 383 167 378 169Z" fill="#9c9c9c"/>
<path d="M426 103 428 101 426 93 429 87 433 83 438 80 442 77 446 74 451 71 455 67 460 63 463 60 467 56 472 49 478 40 483 32 488 26 492 22 496 19 500 15 505 11 508 8 525 25 522 29 518 33 514 38 510 42 507 45 503 48 498 55 491 63 484 71 479 77 474 81 470 84 465 88 461 92 456 96 451 100 446 102 441 104 436 104 428 101 426 103Z" fill="#9c9c9c"/>
<path d="M354 22 351 25 346 29 341 33 337 37 331 41 326 45 321 49 316 52 312 57 308 62 303 68 300 72 303 68 308 62 312 57 316 52 317 45 319 39 321 32 324 25 327 19 332 14 337 10 341 7Z" fill="#9c9c9c"/>
<path d="M300 131 300 129 300 125 300 122 297 119 296 116 295 113 295 110 295 105 295 102 295 98 295 95 295 92 296 89 300 87 300 83 300 77 300 71 300 64 300 56 300 48 300 40 300 33 300 27 300 23 300 27 300 33 300 40 300 48 300 56 300 64 300 71 300 77 300 83 300 87 305 89 306 92 306 95 306 98 306 102 306 105 306 110 306 113 305 116 304 119 300 122 300 125 300 129 300 131Z" fill="#9c9c9c"/>
<path d="M369 152 373 149 379 145 385 141 392 136 400 130 406 125 410 121 413 117 416 113 420 110 427 109 432 107 433 105 434 103 435 102 434 103 433 105 432 107 434 113 435 119 434 125 431 130 427 135 421 141 413 147 404 153 396 158 389 162 382 166 378 168Z" fill="#b0b0b0"/>
<path d="M426 103 428 101 428 95 430 89 434 85 439 81 443 78 447 75 452 72 456 68 461 65 465 61 468 57 473 50 479 41 485 33 490 28 494 24 497 20 501 16 506 12 509 9 524 24 521 27 517 32 513 37 509 40 506 43 502 47 496 54 490 62 483 70 477 76 473 79 469 83 464 87 460 91 455 95 450 98 445 101 440 103 434 102 428 101 426 103Z" fill="#b0b0b0"/>
<path d="M353 21 350 24 345 28 341 32 336 36 330 40 324 43 320 48 316 52 312 57 308 62 303 68 300 72 303 68 308 62 312 57 316 52 320 48 324 43 323 34 325 27 329 21 334 15 339 11 342 8Z" fill="#b0b0b0"/>
<path d="M300 131 300 129 300 125 300 122 298 119 296 116 296 113 296 110 296 105 296 102 296 98 296 95 296 92 297 89 300 87 300 83 300 77 300 71 300 64 300 56 300 48 300 40 300 33 300 27 300 23 300 27 300 33 300 40 300 48 300 56 300 64 300 71 300 77 300 83 300 87 303 89 305 92 305 95 305 98 305 102 305 105 305 110 305 113 304 116 303 119 300 122 300 125 300 129 300 131Z" fill="#b0b0b0"/>
<path d="M370 153 374 151 380 147 386 142 393 137 401 132 407 127 411 122 414 118 418 114 423 112 430 111 432 107 433 105 434 103 435 102 434 103 433 105 432 107 430 111 433 118 433 124 430 129 425 134 419 140 412 146 403 152 395 157 388 161 381 164 377 166Z" fill="#c4c4c4"/>
<path d="M426 103 428 101 431 99 431 90 435 86 440 83 444 80 448 77 453 73 457 69 462 66 466 63 470 58 475 51 481 42 486 34 491 29 495 25 499 22 503 18 507 14 510 11 523 23 520 26 516 30 511 35 508 39 504 42 500 46 495 53 488 61 482 69 476 74 472 78 467 81 463 85 459 89 454 93 449 97 444 100 439 101 431 99 428 101 426 103Z" fill="#c4c4c4"/>
<path d="M353 20 349 23 345 27 340 32 335 36 328 38 324 43 320 48 316 52 312 57 308 62 303 68 300 72 303 68 308 62 312 57 316 52 320 48 324 43 328 38 327 29 330 22 335 17 340 13 343 10Z" fill="#c4c4c4"/>
<path d="M300 131 300 129 300 125 300 122 300 119 298 116 297 113 296 110 296 105 297 102 297 98 297 95 297 92 300 89 300 87 300 83 300 77 300 71 300 64 300 56 300 48 300 40 300 33 300 27 300 23 300 27 300 33 300 40 300 48 300 56 300 64 300 71 300 77 300 83 300 87 301 89 304 92 304 95 304 98 304 102 304 105 304 110 304 113 303 116 300 119 300 122 300 125 300 129 300 131Z" fill="#c4c4c4"/>
<path d="M371 156 375 153 381 149 387 144 395 139 403 134 409 129 413 124 416 119 420 116 428 115 430 111 432 107 433 105 434 103 435 102 434 103 433 105 432 107 430 111 428 115 431 122 428 128 424 133 418 138 410 144 402 150 394 155 387 159 380 162 376 164Z" fill="#d9d9d9"/>
<path d="M426 103 428 101 431 99 432 92 436 88 441 85 445 82 450 78 454 75 459 71 463 68 467 64 471 60 477 53 483 44 488 36 493 31 497 27 500 24 505 20 509 15 512 12 521 21 518 24 514 29 510 33 506 37 502 40 498 44 493 51 486 60 480 67 475 73 470 76 466 80 462 84 457 88 452 91 447 95 443 98 437 99 431 99 428 101 426 103Z" fill="#d9d9d9"/>
<path d="M352 19 348 22 344 27 339 31 333 34 328 38 324 43 320 48 316 52 312 57 308 62 303 68 300 72 303 68 308 62 312 57 316 52 320 48 324 43 328 38 330 32 332 24 337 19 342 15 345 12Z" fill="#d9d9d9"/>
<path d="M300 131 300 129 300 125 300 122 300 119 300 116 298 113 297 110 297 105 298 102 298 98 298 95 298 92 300 89 300 87 300 83 300 77 300 71 300 64 300 56 300 48 300 40 300 33 300 27 300 23 300 27 300 33 300 40 300 48 300 56 300 64 300 71 300 77 300 83 300 87 300 89 303 92 303 95 303 98 303 102 303 105 303 110 303 113 300 116 300 119 300 122 300 125 300 129 300 131Z" fill="#d9d9d9"/>
<path d="M373 160 378 158 383 153 389 148 397 142 405 137 412 131 416 126 419 121 423 117 428 115 430 111 432 107 433 105 434 103 435 102 434 103 433 105 432 107 430 111 428 115 428 121 426 126 421 131 416 136 408 141 400 147 392 152 385 156 378 158 373 160Z" fill="#ebebeb"/>
<path d="M426 103 428 101 431 99 435 96 437 90 442 87 447 84 452 81 456 77 461 73 465 70 469 66 474 62 479 55 485 46 491 38 495 33 499 30 503 26 507 22 512 18 515 15 519 19 516 22 511 26 507 31 503 34 500 38 496 42 490 49 484 58 478 65 473 70 468 74 464 77 460 81 455 85 450 89 446 92 441 96 435 96 431 99 428 101 426 103Z" fill="#ebebeb"/>
<path d="M350 18 347 21 343 25 338 29 332 33 328 38 324 43 320 48 316 52 312 57 308 62 303 68 300 72 303 68 308 62 312 57 316 52 320 48 324 43 328 38 332 33 335 27 339 21 344 17 348 15Z" fill="#ebebeb"/>
<path d="M300 131 300 129 300 125 300 122 300 119 300 116 299 113 299 110 299 105 299 102 299 98 299 95 300 92 300 89 300 87 300 83 300 77 300 71 300 64 300 56 300 48 300 40 300 33 300 27 300 23 300 27 300 33 300 40 300 48 300 56 300 64 300 71 300 77 300 83 300 87 300 89 300 92 302 95 302 98 302 102 302 105 302 110 301 113 300 116 300 119 300 122 300 125 300 129 300 131Z" fill="#ebebeb"/>
<path d="M500 31 502 30 502 27 500 26 498 27 498 30Z" fill="#f8f8f8"/>
<path d="M457 76 458 75 458 74 457 73 455 74 455 75Z" fill="#f8f8f8"/>
<path d="M399 148 401 147 401 145 399 143 398 145 398 147Z" fill="#f8f8f8"/>
<path d="M457 80 459 79 459 77 457 75 455 77 455 79Z" fill="#f9f9f9"/>
<path d="M396 150 398 149 398 147 396 145 394 147 394 149Z" fill="#f9f9f9"/>
<path d="M414 136 416 135 416 133 414 132 413 133 413 135Z" fill="#fafafa"/>
<path d="M503 26 504 24 504 22 503 20 501 22 501 24Z" fill="#fafafa"/>
<path d="M450 90 452 89 452 86 450 85 449 86 449 89Z" fill="#fafafa"/>
<path d="M464 78 465 77 465 76 464 75 462 76 462 77Z" fill="#fbfbfb"/>
<path d="M483 66 485 65 485 62 483 61 482 62 482 65Z" fill="#fbfbfb"/>
<path d="M451 88 453 87 453 85 451 84 450 85 450 87Z" fill="#fbfbfb"/>
<path d="M420 127 423 126 423 124 420 123 418 124 418 126Z" fill="#fbfbfb"/>
<path d="M453 85 455 84 455 81 453 80 451 81 451 84Z" fill="#fcfcfc"/>
<path d="M477 71 478 69 478 67 477 66 475 67 475 69Z" fill="#fcfcfc"/>
<path d="M385 162 386 161 386 159 385 158 383 159 383 161Z" fill="#fdfdfd"/>
<path d="M382 158 384 158 384 156 382 155 381 156 381 158Z" fill="#fdfdfd"/>
<path d="M447 84 448 83 448 80 447 79 446 80 446 83Z" fill="#fdfdfd"/>
<path d="M403 146 405 145 405 143 403 142 401 143 401 145Z" fill="#fdfdfd"/>
<path d="M510 33 512 32 512 29 510 28 508 29 508 32Z" fill="#fefefe"/>
<path d="M399 143 401 142 401 140 399 139 396 140 396 142Z" fill="#ffffff"/>
</g></g>
<clipPath id="cp10L"><rect x="300.09999999999997" y="157.1" width="233.5" height="104.6"/></clipPath>
<g clip-path="url(#cp10L)"><g filter="url(#jet)">
<rect x="290.4" y="147.1" width="253.8" height="124.6" fill="#000"/>
<g filter="url(#soft)">
<path d="M300 262 315 262 335 239 347 216 371 198 359 186 335 180 306 166 300 166Z" fill="#0b0b0b"/>
<path d="M300 227 330 224 341 198 330 183 306 180 300 180Z" fill="#0f0f0f"/>
</g>
<path d="M337 173 338 170 340 165 341 161 341 158 343 154 344 151 346 149 349 147 351 146 353 145 355 144 357 143 359 142 360 141 361 139 363 137 365 133 367 131 415 166 413 169 410 173 406 177 402 181 398 184 394 187 391 190 387 193 383 195 379 197 375 198 371 199 367 199 363 199 358 198 353 198 349 198 346 197Z" fill="#050505"/>
<path d="M292 268 291 257 291 241 292 227 292 220 293 215 294 210 294 202 294 194 294 186 294 180 294 174 294 169 295 165 296 162 296 160 305 160 305 162 306 165 307 169 307 174 307 180 307 186 307 194 307 202 307 210 308 215 309 220 309 227 309 241 309 257 309 268Z" fill="#050505"/>
<path d="M300 226 304 226 310 226 315 226 319 228 323 229 327 231 330 232 333 233 335 234 335 241 333 242 330 243 327 245 323 246 319 248 315 249 310 249 304 249 300 249Z" fill="#050505"/>
<path d="M300 247 318 248 318 257 300 258Z" fill="#050505"/>
<path d="M305 199 306 197 306 190 305 188 304 190 304 197Z" fill="#0a0a0a"/>
<path d="M337 175 339 171 340 167 341 163 342 160 344 157 346 154 348 151 350 150 352 148 354 147 357 146 359 145 360 144 362 142 363 141 365 138 367 135 369 132 413 164 411 167 408 171 404 176 400 179 397 182 393 185 389 188 385 191 382 193 378 195 374 196 370 197 366 197 362 197 357 197 352 197 348 196 345 196Z" fill="#0a0a0a"/>
<path d="M292 268 292 257 292 241 292 227 293 220 294 215 294 210 295 202 295 194 295 186 295 180 295 174 295 169 295 165 296 162 297 160 304 160 304 162 305 165 306 169 306 174 306 180 306 186 306 194 306 202 307 210 307 215 308 220 308 227 309 241 309 257 308 268Z" fill="#0a0a0a"/>
<path d="M300 228 304 228 310 228 315 228 319 229 323 231 327 232 330 233 333 234 335 236 335 240 333 241 330 242 327 244 323 245 319 247 315 248 310 248 304 248 300 248Z" fill="#0a0a0a"/>
<path d="M300 247 318 249 318 256 300 257Z" fill="#0a0a0a"/>
<path d="M332 198 333 196 333 187 332 185 331 187 331 196Z" fill="#0b0b0b"/>
<path d="M311 200 312 199 312 193 311 192 310 193 310 199Z" fill="#0b0b0b"/>
<path d="M317 179 318 177 318 170 317 168 316 170 316 177Z" fill="#0c0c0c"/>
<path d="M324 195 325 192 325 184 324 182 323 184 323 192Z" fill="#0c0c0c"/>
<path d="M333 194 334 191 334 184 333 182 333 184 333 191Z" fill="#0d0d0d"/>
<path d="M317 203 318 201 318 193 317 191 316 193 316 201Z" fill="#0d0d0d"/>
<path d="M311 190 312 189 312 185 311 184 310 185 310 189Z" fill="#0e0e0e"/>
<path d="M319 198 320 197 320 191 319 189 318 191 318 197Z" fill="#0e0e0e"/>
<path d="M311 176 312 173 312 164 311 161 310 164 310 173Z" fill="#0f0f0f"/>
<path d="M324 182 325 180 325 177 324 176 322 177 322 180Z" fill="#101010"/>
<path d="M315 199 316 196 316 187 315 184 314 187 314 196Z" fill="#111111"/>
<path d="M338 176 339 173 341 168 342 164 343 161 345 158 347 155 349 153 351 151 353 150 356 148 358 147 360 146 362 145 363 144 364 142 366 139 369 136 371 133 411 163 409 166 406 170 403 174 399 178 395 181 392 183 388 186 384 189 381 192 377 193 373 195 369 195 365 196 361 196 357 196 352 196 348 195 345 195Z" fill="#111111"/>
<path d="M293 268 293 257 293 241 293 227 293 220 294 215 295 210 295 202 295 194 295 186 295 180 295 174 296 169 296 165 297 162 298 160 303 160 304 162 305 165 305 169 306 174 306 180 306 186 306 194 306 202 306 210 307 215 307 220 308 227 308 241 308 257 308 268Z" fill="#111111"/>
<path d="M300 229 304 229 310 229 315 229 319 230 323 232 327 233 330 234 333 236 335 238 333 240 330 241 327 243 323 244 319 245 315 246 310 247 304 247 300 246Z" fill="#111111"/>
<path d="M300 248 318 250 318 255 300 257Z" fill="#111111"/>
<path d="M305 186 306 184 306 175 305 172 304 175 304 184Z" fill="#151515"/>
<path d="M325 181 326 179 326 172 325 170 325 172 325 179Z" fill="#151515"/>
<path d="M309 174 310 172 310 164 309 161 308 164 308 172Z" fill="#151515"/>
<path d="M307 190 308 187 308 178 307 175 306 178 306 187Z" fill="#161616"/>
<path d="M311 182 312 181 312 177 311 176 310 177 310 181Z" fill="#161616"/>
<path d="M317 188 318 186 318 181 317 180 316 181 316 186Z" fill="#161616"/>
<path d="M338 177 339 174 341 169 343 165 344 162 345 159 347 157 350 154 352 153 354 151 357 150 359 148 361 147 363 146 364 145 365 143 368 140 370 137 372 134 410 162 408 165 405 169 401 173 398 177 394 180 391 182 387 185 384 188 380 190 376 192 372 193 369 194 365 195 361 195 356 195 352 195 347 194 345 194Z" fill="#171717"/>
<path d="M293 268 293 257 293 241 293 227 294 220 295 215 295 210 296 202 296 194 296 186 296 180 296 174 296 169 297 165 298 162 299 160 302 160 303 162 304 165 305 169 305 174 305 180 305 186 305 194 305 202 306 210 306 215 307 220 307 227 308 241 308 257 307 268Z" fill="#171717"/>
<path d="M300 230 304 230 310 230 315 230 319 231 323 232 327 234 330 235 333 237 335 238 333 238 330 241 327 242 323 243 319 245 315 246 310 246 304 246 300 246Z" fill="#171717"/>
<path d="M300 249 318 251 318 254 300 256Z" fill="#171717"/>
<path d="M309 189 310 187 310 179 309 176 308 179 308 187Z" fill="#171717"/>
<path d="M327 186 328 182 328 172 327 168 327 172 327 182Z" fill="#171717"/>
<path d="M309 203 310 200 310 192 309 190 308 192 308 200Z" fill="#171717"/>
<path d="M313 190 314 188 314 179 313 176 312 179 312 188Z" fill="#181818"/>
<path d="M313 202 314 200 314 194 313 192 312 194 312 200Z" fill="#181818"/>
<path d="M338 177 340 174 342 170 343 167 344 164 346 161 348 158 350 156 353 154 355 152 357 151 360 150 362 148 364 147 365 146 366 144 369 141 371 138 373 135 409 162 407 164 404 168 400 173 397 176 394 179 390 181 386 184 383 187 379 189 375 191 372 192 368 193 364 194 360 194 356 194 351 194 347 193 344 193Z" fill="#1f1f1f"/>
<path d="M294 268 294 257 294 241 294 227 294 220 295 215 296 210 296 202 296 194 296 186 296 180 296 174 297 169 297 165 298 162 300 160 303 162 304 165 304 169 305 174 305 180 305 186 305 194 305 202 305 210 306 215 306 220 307 227 307 241 307 257 307 268Z" fill="#1f1f1f"/>
<path d="M300 231 304 231 310 231 315 231 319 232 323 233 327 235 330 236 333 238 335 238 333 238 330 239 327 241 323 242 319 244 315 245 310 245 304 245 300 245Z" fill="#1f1f1f"/>
<path d="M300 249 318 252 300 255Z" fill="#1f1f1f"/>
<path d="M339 178 340 175 342 171 344 168 345 165 347 162 349 159 351 157 353 155 356 153 358 152 361 151 363 149 365 148 366 146 367 145 370 142 372 139 374 136 408 161 406 164 403 168 399 172 396 175 393 178 389 180 386 183 382 186 379 188 375 190 371 191 368 192 364 193 360 193 355 193 351 193 347 193 344 192Z" fill="#282828"/>
<path d="M294 268 294 257 294 241 294 227 295 220 295 215 296 210 296 202 296 194 296 186 297 180 297 174 297 169 298 165 299 162 300 160 302 162 303 165 304 169 304 174 304 180 304 186 304 194 304 202 305 210 305 215 306 220 307 227 307 241 307 257 307 268Z" fill="#282828"/>
<path d="M300 232 304 232 310 232 315 232 319 233 323 234 327 236 330 238 333 238 335 238 333 238 330 238 327 240 323 241 319 243 315 244 310 244 304 244 300 244Z" fill="#282828"/>
<path d="M300 250 318 252 300 255Z" fill="#282828"/>
<path d="M339 179 340 176 342 172 344 169 345 166 347 163 349 160 352 158 354 156 356 154 359 153 361 151 364 150 365 149 367 147 368 146 371 143 373 139 375 137 407 160 405 163 402 167 399 171 395 174 392 177 389 180 385 182 381 185 378 187 374 189 371 191 367 191 363 192 359 192 355 192 351 192 346 192 344 191Z" fill="#303030"/>
<path d="M294 268 294 257 294 241 295 227 295 220 296 215 296 210 297 202 297 194 297 186 297 180 297 174 298 169 298 165 300 162 300 160 300 162 302 165 303 169 304 174 304 180 304 186 304 194 304 202 304 210 305 215 306 220 306 227 306 241 306 257 306 268Z" fill="#303030"/>
<path d="M300 233 304 233 310 232 315 233 319 234 323 235 327 238 330 238 333 238 335 238 333 238 330 238 327 238 323 240 319 242 315 243 310 243 304 243 300 243Z" fill="#303030"/>
<path d="M300 251 318 252 300 253Z" fill="#303030"/>
<path d="M339 180 341 177 343 173 344 169 346 166 348 164 350 161 352 159 354 157 357 155 359 154 362 152 364 151 366 150 368 148 369 146 371 143 374 140 376 137 406 159 404 162 401 166 398 170 394 173 391 176 388 179 384 182 381 184 377 187 374 188 370 190 367 191 363 191 359 191 355 192 350 191 346 191 343 190Z" fill="#3b3b3b"/>
<path d="M295 268 295 257 295 241 295 227 295 220 296 215 297 210 297 202 297 194 297 186 298 180 298 174 298 169 300 165 300 162 300 160 300 162 301 165 303 169 303 174 303 180 303 186 304 194 304 202 304 210 305 215 305 220 306 227 306 241 306 257 306 268Z" fill="#3b3b3b"/>
<path d="M300 234 304 234 310 234 315 234 319 235 323 238 327 238 330 238 333 238 335 238 333 238 330 238 327 238 323 238 319 241 315 242 310 242 304 242 300 242Z" fill="#3b3b3b"/>
<path d="M340 182 341 178 343 174 345 171 347 168 348 165 350 162 353 160 355 158 358 157 360 155 363 154 365 152 367 151 369 149 370 147 373 144 375 141 377 138 405 159 403 161 400 165 397 169 393 172 390 175 387 178 383 181 380 183 377 185 373 187 369 189 366 189 362 190 358 190 354 191 350 190 346 190 343 189Z" fill="#4a4a4a"/>
<path d="M295 268 295 257 295 241 295 227 296 220 297 215 297 210 298 202 298 194 298 186 298 180 299 174 300 169 300 165 300 162 300 160 300 162 300 165 301 169 302 174 303 180 303 186 303 194 303 202 303 210 304 215 305 220 305 227 306 241 306 257 306 268Z" fill="#4a4a4a"/>
<path d="M300 236 304 236 310 236 315 236 319 238 323 238 327 238 330 238 333 238 335 238 333 238 330 238 327 238 323 238 319 238 315 239 310 240 304 240 300 239Z" fill="#4a4a4a"/>
<path d="M341 185 342 180 344 176 346 172 347 169 349 166 351 164 354 162 356 160 359 158 361 156 364 155 366 153 368 152 370 150 372 148 374 145 377 142 379 139 403 158 401 160 398 164 395 168 392 171 389 174 386 177 382 179 379 182 376 184 372 186 369 187 365 188 362 189 358 189 354 189 349 189 345 188 341 185Z" fill="#5e5e5e"/>
<path d="M296 268 296 257 296 241 296 227 296 220 297 215 298 210 299 202 299 194 299 186 300 180 300 174 300 169 300 165 300 162 300 160 300 162 300 165 300 169 300 174 300 180 302 186 302 194 302 202 303 210 304 215 304 220 305 227 305 241 305 257 305 268Z" fill="#5e5e5e"/>
<path d="M341 185 344 184 345 177 346 174 348 171 350 168 352 165 355 163 357 161 360 160 362 158 365 156 367 155 369 153 371 151 373 149 375 146 378 143 380 140 402 157 400 159 397 163 394 167 391 170 388 173 385 175 382 178 378 181 375 183 371 185 368 186 365 187 361 188 357 188 353 188 349 188 344 184 341 185Z" fill="#737373"/>
<path d="M296 268 296 257 296 241 296 227 297 220 298 215 299 210 300 202 300 194 300 186 300 180 300 174 300 169 300 165 300 162 300 160 300 162 300 165 300 169 300 174 300 180 300 186 300 194 300 202 302 210 303 215 304 220 304 227 305 241 305 257 305 268Z" fill="#737373"/>
<path d="M341 185 344 184 345 180 347 175 349 172 351 169 353 167 355 164 358 163 360 161 363 159 366 157 368 156 370 154 372 152 374 150 376 147 379 144 381 141 401 156 399 158 396 162 393 166 390 169 387 172 384 174 381 177 377 179 374 182 371 183 367 185 364 186 360 186 356 187 353 187 348 186 344 184 341 185Z" fill="#878787"/>
<path d="M297 268 297 257 297 241 297 227 297 220 299 215 300 210 300 202 300 194 300 186 300 180 300 174 300 169 300 165 300 162 300 160 300 162 300 165 300 169 300 174 300 180 300 186 300 194 300 202 300 210 302 215 303 220 304 227 304 241 304 257 304 268Z" fill="#878787"/>
<path d="M341 185 344 184 347 183 348 177 350 174 351 171 354 168 356 166 359 164 361 162 364 160 367 159 369 157 371 155 373 153 375 151 378 148 380 145 382 142 400 155 398 158 395 161 392 165 389 168 386 171 383 173 380 176 377 178 373 180 370 182 367 184 363 185 360 185 356 186 352 185 347 183 344 184 341 185Z" fill="#9c9c9c"/>
<path d="M297 268 297 257 297 241 297 227 298 220 300 215 300 210 300 202 300 194 300 186 300 180 300 174 300 169 300 165 300 162 300 160 300 162 300 165 300 169 300 174 300 180 300 186 300 194 300 202 300 210 301 215 303 220 304 227 304 241 304 257 304 268Z" fill="#9c9c9c"/>
<path d="M341 185 344 184 347 183 349 180 350 175 352 172 355 169 357 167 360 165 362 164 365 162 368 160 370 158 372 156 374 154 376 152 379 149 382 145 384 143 398 154 396 157 394 161 391 164 388 167 385 170 382 172 379 175 376 177 372 179 369 181 366 182 363 183 359 184 355 184 351 183 347 183 344 184 341 185Z" fill="#b0b0b0"/>
<path d="M298 268 298 257 298 241 298 227 299 220 300 215 300 210 300 202 300 194 300 186 300 180 300 174 300 169 300 165 300 162 300 160 300 162 300 165 300 169 300 174 300 180 300 186 300 194 300 202 300 210 300 215 302 220 303 227 303 241 303 257 303 268Z" fill="#b0b0b0"/>
<path d="M341 185 344 184 347 183 350 182 352 178 353 174 355 171 358 169 361 167 363 165 366 163 369 161 371 159 374 158 376 156 378 153 380 150 383 146 385 144 397 153 395 156 392 159 389 163 387 166 384 168 381 171 378 173 375 176 372 178 368 180 365 181 362 182 358 182 354 182 350 182 347 183 344 184 341 185Z" fill="#c4c4c4"/>
<path d="M298 268 298 257 298 241 298 227 300 220 300 215 300 210 300 202 300 194 300 186 300 180 300 174 300 169 300 165 300 162 300 160 300 162 300 165 300 169 300 174 300 180 300 186 300 194 300 202 300 210 300 215 301 220 302 227 303 241 303 257 303 268Z" fill="#c4c4c4"/>
<path d="M341 185 344 184 347 183 350 182 353 180 356 178 357 173 359 171 362 169 364 167 367 165 370 163 373 161 375 159 377 157 379 155 382 151 385 148 387 145 395 152 393 154 391 158 388 162 385 165 382 167 380 169 377 172 374 174 370 176 367 178 364 179 361 180 356 179 353 180 350 182 347 183 344 184 341 185Z" fill="#d9d9d9"/>
<path d="M299 268 299 257 299 241 299 227 300 220 300 215 300 210 300 202 300 194 300 186 300 180 300 174 300 169 300 165 300 162 300 160 300 162 300 165 300 169 300 174 300 180 300 186 300 194 300 202 300 210 300 215 300 220 302 227 302 241 302 257 302 268Z" fill="#d9d9d9"/>
<path d="M341 185 344 184 347 183 350 182 353 180 356 179 359 177 361 174 363 172 366 170 369 167 372 165 375 163 377 161 379 159 382 157 384 153 387 150 389 147 393 150 391 152 388 156 385 160 383 162 380 165 378 167 375 169 372 172 369 174 366 175 362 176 359 177 356 179 353 180 350 182 347 183 344 184 341 185Z" fill="#ebebeb"/>
<path d="M300 268 300 257 300 241 300 227 300 220 300 215 300 210 300 202 300 194 300 186 300 180 300 174 300 169 300 165 300 162 300 160 300 162 300 165 300 169 300 174 300 180 300 186 300 194 300 202 300 210 300 215 300 220 300 227 301 241 301 257 301 268Z" fill="#ebebeb"/>
<path d="M375 161 376 160 376 157 375 156 373 157 373 160Z" fill="#f8f8f8"/>
<path d="M378 163 379 162 379 160 378 159 376 160 376 162Z" fill="#fbfbfb"/>
<path d="M386 167 388 166 388 164 386 163 384 164 384 166Z" fill="#fbfbfb"/>
<path d="M383 152 385 151 385 149 383 148 380 149 380 151Z" fill="#fdfdfd"/>
<path d="M392 142 394 141 394 138 392 136 390 138 390 141Z" fill="#fefefe"/>
<path d="M383 156 385 155 385 152 383 151 381 152 381 155Z" fill="#fefefe"/>
<path d="M384 161 386 160 386 158 384 156 383 158 383 160Z" fill="#ffffff"/>
<path d="M380 172 382 171 382 168 380 167 378 168 378 171Z" fill="#ffffff"/>
</g></g>
<path d="M299.79999999999995 28.5H534.2V262.3H299.79999999999995" fill="none" stroke="#2a2a2a" stroke-width="1.2"/>
<path d="M297.4 244.8H300.4 M294.4 215.5H300.4 M297.4 186.3H300.4 M294.4 157.1H300.4 M297.4 127.9H300.4 M294.4 98.6H300.4 M297.4 69.4H300.4 M294.4 40.2H300.4 M300.4 262.3V268.3 M329.6 262.3V265.3 M358.8 262.3V268.3 M388.1 262.3V265.3 M417.3 262.3V268.3 M446.5 262.3V265.3 M475.8 262.3V268.3 M505.0 262.3V265.3 M534.2 262.3V268.3" stroke="#2a2a2a" stroke-width="1.2" fill="none"/>
<text x="452.3" y="198.1" font-size="18">U<tspan font-size="13" dy="-3.6">-</tspan><tspan dy="3.6">(H</tspan><tspan font-size="13" dy="3.8">2</tspan><tspan dy="-3.8">O)</tspan><tspan font-size="13" dy="3.8">3</tspan></text>
<rect x="546.0" y="28.5" width="233.8" height="233.8" fill="none" stroke="#2a2a2a" stroke-width="1.2"/>
<clipPath id="cp20U"><rect x="545.7" y="29.1" width="233.5" height="116.3"/></clipPath>
<g clip-path="url(#cp20U)"><g filter="url(#jet)">
<rect x="536.0" y="19.1" width="253.8" height="136.3" fill="#000"/>
<path d="M590 130 594 126 600 122 606 118 612 113 619 109 623 105 621 108 623 105 625 102 628 98 631 95 635 92 639 90 641 90 644 92 647 93 649 92 688 109 690 112 691 117 691 123 690 129 689 135 688 139 686 143 683 147 681 150 680 152 676 157 670 162 663 167 655 173 646 178 637 182 629 186 624 188Z" fill="#050505"/>
<path d="M649 86 649 82 649 76 651 70 654 65 659 60 664 56 667 53 672 51 678 47 684 44 686 43 687 43 691 38 697 29 703 21 708 15 711 10 715 6 720 1 725 -3 728 -6 773 40 770 43 766 47 762 51 760 54 758 56 755 60 750 67 743 76 736 85 728 94 723 98 720 101 717 104 713 109 707 114 700 117 692 120 685 121 679 120 673 118 669 116Z" fill="#050505"/>
<path d="M585 121 589 118 595 113 601 109 606 105 613 100 617 97 616 98 613 102 615 99 617 96 620 92 623 89 627 86 631 84 633 85 635 87 637 88 639 88 678 105 678 106 677 109 676 113 674 117 672 121 670 125 667 129 665 133 662 136 661 138 659 141 655 144 649 148 641 154 634 159 626 163 618 167 613 170Z" fill="#050505"/>
<path d="M644 79 644 75 644 69 646 63 649 57 654 51 658 48 661 46 666 44 672 40 678 37 680 37 684 32 690 24 696 15 701 9 705 4 709 0 714 -5 718 -10 722 -13 759 25 756 28 751 32 747 36 744 40 742 43 738 47 733 54 726 64 720 72 715 77 710 81 707 84 703 87 698 91 693 95 687 99 680 103 675 106 670 107 666 108 663 108Z" fill="#050505"/>
<path d="M638 95 640 91 644 85 648 81 654 80 661 81 667 81 694 110 694 116 693 124 690 132 683 136 676 138 670 139Z" fill="#050505"/>
<path d="M595 34 590 36 584 40 577 43 570 46 565 49 563 50 562 50 561 51 559 54 558 59 557 64 533 63 531 59 528 51 528 42 530 33 536 26 544 19 553 15 561 15 567 14 573 13 579 12 584 10Z" fill="#050505"/>
<path d="M538 125 536 123 533 120 532 116 531 113 530 109 530 106 530 102 531 99 532 96 533 92 535 87 536 81 536 73 536 64 536 58 556 58 556 64 556 73 556 81 557 87 559 92 560 96 561 99 562 102 562 106 562 109 561 113 560 116 559 120 556 123 554 125Z" fill="#050505"/>
<path d="M566 57 567 55 567 48 566 46 565 48 565 55Z" fill="#070707"/>
<path d="M573 60 574 57 574 49 573 46 572 49 572 57Z" fill="#070707"/>
<path d="M552 65 553 63 553 57 552 55 551 57 551 63Z" fill="#070707"/>
<path d="M556 70 557 68 557 61 556 59 556 61 556 68Z" fill="#070707"/>
<path d="M560 59 561 57 561 53 560 52 559 53 559 57Z" fill="#080808"/>
<path d="M640 93 641 89 641 79 640 75 639 79 639 89Z" fill="#080808"/>
<path d="M554 88 555 85 555 75 554 71 553 75 553 85Z" fill="#080808"/>
<path d="M575 87 577 86 577 82 575 80 574 82 574 86Z" fill="#080808"/>
<path d="M569 62 570 60 570 56 569 55 568 56 568 60Z" fill="#090909"/>
<path d="M571 62 572 60 572 52 571 49 570 52 570 60Z" fill="#090909"/>
<path d="M558 71 559 70 559 67 558 66 557 67 557 70Z" fill="#090909"/>
<path d="M554 71 555 68 555 62 554 60 553 62 553 68Z" fill="#090909"/>
<path d="M569 55 570 54 570 50 569 49 568 50 568 54Z" fill="#090909"/>
<path d="M654 90 655 87 655 78 654 75 653 78 653 87Z" fill="#0a0a0a"/>
<path d="M591 132 596 129 602 124 608 120 614 116 621 111 625 108 623 110 625 107 628 104 630 100 633 97 637 94 641 92 644 92 646 93 649 94 652 93 686 108 688 111 689 115 689 122 688 127 687 133 686 137 684 141 681 145 679 148 678 150 673 155 668 160 661 165 653 170 645 175 636 180 628 183 622 185Z" fill="#0a0a0a"/>
<path d="M650 88 650 84 651 78 652 72 656 67 661 62 665 58 669 56 674 53 680 50 685 46 688 46 689 45 693 39 699 31 705 22 710 17 714 12 717 8 722 3 727 -1 730 -4 771 38 768 41 764 45 760 49 758 52 756 54 753 58 748 65 741 74 734 84 726 91 721 96 718 99 715 102 711 107 705 111 698 115 690 118 684 119 677 118 672 116 668 114Z" fill="#0a0a0a"/>
<path d="M589 129 594 126 600 121 606 117 612 113 618 108 623 105 620 107 622 105 625 101 627 98 630 94 634 91 638 89 640 89 642 91 644 91 646 91 676 104 676 106 676 108 675 112 673 116 670 120 668 123 665 127 663 131 660 134 659 136 657 139 653 142 647 146 640 152 632 157 625 161 617 165 612 168Z" fill="#0a0a0a"/>
<path d="M648 84 648 80 648 75 650 69 654 64 659 59 663 55 667 53 672 50 678 47 683 44 685 43 686 42 691 37 697 29 702 20 707 14 711 10 715 6 720 1 724 -4 727 -7 757 23 754 26 750 31 746 35 743 38 740 41 736 46 731 53 725 62 718 70 713 76 709 79 705 82 701 85 697 89 692 93 686 97 679 101 673 104 669 106 665 106 663 107Z" fill="#0a0a0a"/>
<path d="M639 98 642 93 646 87 650 83 656 83 663 83 668 83 693 109 692 114 691 122 687 129 681 133 674 136 669 137Z" fill="#0a0a0a"/>
<path d="M594 32 590 35 583 39 577 42 570 45 565 47 563 49 562 49 561 49 560 50 558 54 556 59 555 64 534 63 533 59 530 51 530 43 532 34 537 27 545 20 554 17 562 16 567 16 573 15 580 13 585 12Z" fill="#0a0a0a"/>
<path d="M539 125 537 123 535 120 533 116 532 113 531 109 531 106 532 102 532 99 533 96 535 92 536 87 537 81 538 73 538 64 538 58 554 58 554 64 554 73 555 81 556 87 557 92 559 96 560 99 560 102 561 106 561 109 560 113 559 116 557 120 555 123 553 125Z" fill="#0a0a0a"/>
<path d="M550 58 550 57 550 52 550 51 549 52 549 57Z" fill="#0a0a0a"/>
<path d="M565 78 566 76 566 70 565 67 563 70 563 76Z" fill="#0b0b0b"/>
<path d="M556 94 557 91 557 83 556 81 555 83 555 91Z" fill="#0b0b0b"/>
<path d="M566 74 567 72 567 68 566 67 565 68 565 72Z" fill="#0b0b0b"/>
<path d="M558 85 559 82 559 74 558 71 557 74 557 82Z" fill="#0b0b0b"/>
<path d="M681 64 682 61 682 51 681 48 680 51 680 61Z" fill="#0b0b0b"/>
<path d="M562 63 563 59 563 49 562 46 561 49 561 59Z" fill="#0b0b0b"/>
<path d="M550 71 550 69 550 61 550 58 549 61 549 69Z" fill="#0b0b0b"/>
<path d="M569 73 570 71 570 65 569 62 568 65 568 71Z" fill="#0c0c0c"/>
<path d="M626 110 627 108 627 103 626 101 626 103 626 108Z" fill="#0c0c0c"/>
<path d="M618 104 619 102 619 97 618 96 617 97 617 102Z" fill="#0c0c0c"/>
<path d="M638 89 639 85 639 75 638 72 637 75 637 85Z" fill="#0c0c0c"/>
<path d="M571 92 572 89 572 81 571 78 570 81 570 89Z" fill="#0c0c0c"/>
<path d="M560 103 561 100 561 92 560 89 559 92 559 100Z" fill="#0c0c0c"/>
<path d="M562 97 563 95 563 90 562 89 561 90 561 95Z" fill="#0c0c0c"/>
<path d="M575 78 576 76 576 68 575 66 574 68 574 76Z" fill="#0d0d0d"/>
<path d="M569 114 570 111 570 103 569 100 568 103 568 111Z" fill="#0d0d0d"/>
<path d="M649 91 650 90 650 85 649 84 648 85 648 90Z" fill="#0d0d0d"/>
<path d="M616 107 617 104 617 95 616 92 615 95 615 104Z" fill="#0d0d0d"/>
<path d="M698 33 699 31 699 24 698 22 698 24 698 31Z" fill="#0d0d0d"/>
<path d="M571 78 572 77 572 73 571 72 570 73 570 77Z" fill="#0d0d0d"/>
<path d="M565 91 566 89 566 82 565 80 564 82 564 89Z" fill="#0d0d0d"/>
<path d="M626 100 628 97 628 89 626 86 625 89 625 97Z" fill="#0d0d0d"/>
<path d="M622 101 623 100 623 97 622 96 621 97 621 100Z" fill="#0e0e0e"/>
<path d="M669 61 669 58 669 50 669 47 668 50 668 58Z" fill="#0e0e0e"/>
<path d="M550 80 550 78 550 75 550 73 549 75 549 78Z" fill="#0e0e0e"/>
<path d="M633 106 635 104 635 100 633 99 632 100 632 104Z" fill="#0e0e0e"/>
<path d="M656 85 657 84 657 81 656 80 655 81 655 84Z" fill="#0e0e0e"/>
<path d="M566 114 568 111 568 103 566 100 565 103 565 111Z" fill="#0e0e0e"/>
<path d="M611 115 612 114 612 111 611 110 610 111 610 114Z" fill="#0e0e0e"/>
<path d="M695 43 696 41 696 34 695 32 693 34 693 41Z" fill="#0e0e0e"/>
<path d="M620 102 621 101 621 97 620 95 620 97 620 101Z" fill="#0f0f0f"/>
<path d="M600 119 601 116 601 106 600 103 599 106 599 116Z" fill="#0f0f0f"/>
<path d="M554 58 555 56 555 51 554 49 553 51 553 56Z" fill="#0f0f0f"/>
<path d="M626 119 628 117 628 112 626 110 625 112 625 117Z" fill="#0f0f0f"/>
<path d="M592 115 593 112 593 103 592 100 591 103 591 112Z" fill="#101010"/>
<path d="M556 103 557 102 557 98 556 97 556 98 556 102Z" fill="#101010"/>
<path d="M573 106 574 105 574 102 573 101 572 102 572 105Z" fill="#101010"/>
<path d="M644 92 645 88 645 79 644 76 643 79 643 88Z" fill="#101010"/>
<path d="M613 114 614 111 614 101 613 98 612 101 612 111Z" fill="#101010"/>
<path d="M611 123 612 122 612 118 611 117 610 118 610 122Z" fill="#101010"/>
<path d="M569 91 570 88 570 79 569 76 568 79 568 88Z" fill="#101010"/>
<path d="M592 134 597 131 603 127 609 122 615 118 622 113 627 109 625 111 627 109 630 105 632 102 635 98 639 95 643 93 646 93 648 94 651 95 654 94 684 108 686 110 687 115 687 120 686 126 685 131 684 136 682 140 679 144 677 147 676 149 672 153 666 158 660 163 652 168 643 173 635 178 627 181 621 184Z" fill="#111111"/>
<path d="M651 90 651 85 652 80 653 74 657 69 662 64 667 60 671 58 676 55 681 51 687 48 689 47 691 46 695 40 701 32 707 24 711 18 715 14 719 10 724 5 728 0 731 -3 770 36 767 39 763 44 759 47 756 50 754 53 751 57 746 64 739 73 732 82 725 90 720 94 717 97 714 100 710 105 704 109 697 113 689 116 683 117 676 117 671 115 667 113Z" fill="#111111"/>
<path d="M593 136 598 133 605 129 611 124 617 120 624 115 628 111 629 111 627 113 629 110 632 107 634 103 637 100 641 97 644 94 646 93 648 94 650 94 651 93 675 103 675 105 674 108 673 111 671 115 669 118 666 122 663 126 661 130 658 133 657 135 655 137 652 140 646 144 638 150 631 155 623 159 616 163 611 166Z" fill="#111111"/>
<path d="M650 88 651 85 652 81 655 76 659 71 664 66 668 62 672 59 677 57 683 53 688 50 690 49 692 48 697 42 703 33 709 25 713 19 717 15 720 11 725 6 730 2 733 -1 756 22 752 25 748 29 744 33 741 37 738 40 735 44 729 52 723 61 717 69 712 74 707 77 704 80 700 83 695 87 690 91 684 95 678 99 672 102 668 104 664 105 662 106Z" fill="#111111"/>
<path d="M641 99 644 95 648 89 652 86 657 84 664 84 669 84 691 108 691 113 689 120 686 127 680 131 672 134 667 135Z" fill="#111111"/>
<path d="M594 32 589 34 583 38 576 41 569 44 564 46 562 48 561 48 560 49 559 50 557 54 555 59 554 64 535 63 534 59 532 52 531 43 533 35 538 28 546 21 554 18 562 18 568 17 574 16 581 14 585 13Z" fill="#111111"/>
<path d="M540 125 538 123 536 120 534 116 533 113 532 109 532 106 533 102 534 99 534 96 536 92 537 87 538 81 539 73 539 64 539 58 553 58 553 64 553 73 554 81 555 87 556 92 558 96 558 99 559 102 560 106 560 109 559 113 558 116 556 120 554 123 552 125Z" fill="#111111"/>
<path d="M554 107 555 104 555 95 554 91 553 95 553 104Z" fill="#111111"/>
<path d="M562 88 563 86 563 80 562 78 561 80 561 86Z" fill="#111111"/>
<path d="M552 97 553 94 553 84 552 81 551 84 551 94Z" fill="#111111"/>
<path d="M590 113 591 111 591 103 590 101 589 103 589 111Z" fill="#111111"/>
<path d="M586 121 587 119 587 112 586 110 585 112 585 119Z" fill="#111111"/>
<path d="M562 140 563 138 563 131 562 129 561 131 561 138Z" fill="#121212"/>
<path d="M558 122 559 119 559 110 558 107 557 110 557 119Z" fill="#121212"/>
<path d="M556 111 557 109 557 105 556 103 556 105 556 109Z" fill="#121212"/>
<path d="M602 122 604 120 604 115 602 114 601 115 601 120Z" fill="#121212"/>
<path d="M573 118 574 116 574 110 573 107 572 110 572 116Z" fill="#121212"/>
<path d="M688 33 689 32 689 30 688 29 687 30 687 32Z" fill="#121212"/>
<path d="M569 137 570 136 570 132 569 131 568 132 568 136Z" fill="#121212"/>
<path d="M631 115 632 112 632 102 631 99 630 102 630 112Z" fill="#121212"/>
<path d="M565 120 566 117 566 110 565 108 563 110 563 117Z" fill="#121212"/>
<path d="M692 34 694 33 694 27 692 25 691 27 691 33Z" fill="#121212"/>
<path d="M611 107 612 105 612 98 611 96 610 98 610 105Z" fill="#131313"/>
<path d="M588 113 589 111 589 103 588 101 587 103 587 111Z" fill="#131313"/>
<path d="M550 97 550 94 550 84 550 80 549 84 549 94Z" fill="#131313"/>
<path d="M618 122 619 121 619 118 618 116 617 118 617 121Z" fill="#131313"/>
<path d="M631 98 632 96 632 89 631 87 630 89 630 96Z" fill="#131313"/>
<path d="M597 124 598 121 598 111 597 108 595 111 595 121Z" fill="#131313"/>
<path d="M575 103 576 100 576 90 575 87 575 90 575 100Z" fill="#131313"/>
<path d="M673 73 674 71 674 65 673 63 672 65 672 71Z" fill="#131313"/>
<path d="M592 130 593 128 593 119 592 116 591 119 591 128Z" fill="#141414"/>
<path d="M558 132 559 130 559 125 558 124 557 125 557 130Z" fill="#141414"/>
<path d="M638 98 639 96 639 92 638 91 637 92 637 96Z" fill="#141414"/>
<path d="M582 140 583 138 583 131 582 129 581 131 581 138Z" fill="#151515"/>
<path d="M611 138 612 135 612 126 611 123 610 126 610 135Z" fill="#151515"/>
<path d="M671 60 672 58 672 52 671 50 670 52 670 58Z" fill="#151515"/>
<path d="M620 112 621 111 621 106 620 105 619 106 619 111Z" fill="#151515"/>
<path d="M625 103 626 102 626 99 625 98 624 99 624 102Z" fill="#151515"/>
<path d="M554 133 555 130 555 122 554 119 553 122 553 130Z" fill="#151515"/>
<path d="M686 62 687 59 687 51 686 48 685 51 685 59Z" fill="#151515"/>
<path d="M618 114 619 113 619 108 618 107 617 108 617 113Z" fill="#151515"/>
<path d="M671 77 672 74 672 64 671 61 670 64 670 74Z" fill="#151515"/>
<path d="M686 47 687 45 687 37 686 34 685 37 685 45Z" fill="#161616"/>
<path d="M554 139 555 138 555 135 554 134 553 135 553 138Z" fill="#161616"/>
<path d="M697 47 698 44 698 34 697 31 696 34 696 44Z" fill="#161616"/>
<path d="M688 51 689 47 689 37 688 34 687 37 687 47Z" fill="#161616"/>
<path d="M629 104 630 101 630 95 629 92 628 95 628 101Z" fill="#161616"/>
<path d="M552 110 553 108 553 101 552 99 551 101 551 108Z" fill="#171717"/>
<path d="M578 113 579 110 579 102 578 99 577 102 577 110Z" fill="#171717"/>
<path d="M605 118 605 115 605 105 605 101 604 105 604 115Z" fill="#171717"/>
<path d="M683 60 684 56 684 46 683 42 683 46 683 56Z" fill="#171717"/>
<path d="M622 122 623 120 623 116 622 114 621 116 621 120Z" fill="#171717"/>
<path d="M593 136 598 133 604 128 610 124 617 119 623 114 628 111 627 112 628 110 631 106 634 103 637 99 640 96 644 94 647 94 650 95 653 95 655 95 683 107 685 109 686 114 686 120 685 125 684 130 682 135 680 139 677 143 675 146 674 147 670 152 665 157 659 161 651 167 642 172 634 176 626 180 620 182Z" fill="#171717"/>
<path d="M652 91 652 87 653 81 654 76 658 70 663 66 668 62 672 59 677 56 682 53 688 50 690 49 692 47 696 41 702 33 708 25 713 19 716 15 720 11 725 6 729 1 732 -2 769 35 766 38 761 42 758 46 755 49 753 52 750 56 745 63 738 72 731 81 724 88 719 93 716 95 713 99 708 103 703 108 696 112 688 115 682 116 676 116 670 114 666 112Z" fill="#171717"/>
<path d="M597 143 602 140 609 136 615 131 622 127 629 122 634 118 635 117 634 118 636 115 638 112 641 108 644 105 647 102 650 99 653 98 654 97 656 97 657 96 674 103 673 104 673 107 671 110 669 113 667 117 664 121 662 124 659 128 656 131 655 133 653 135 650 138 644 143 637 148 630 153 622 157 615 162 610 164Z" fill="#171717"/>
<path d="M653 92 654 90 656 86 659 82 663 77 669 73 673 69 678 66 682 63 688 59 692 56 695 55 698 52 703 46 709 37 715 29 719 24 722 20 726 16 730 11 735 7 738 4 754 20 751 23 747 28 743 32 739 35 737 39 733 43 728 51 721 60 715 67 710 72 706 75 702 78 698 82 694 86 689 90 683 94 677 98 671 101 667 103 664 104 661 105Z" fill="#171717"/>
<path d="M642 101 645 97 649 91 653 87 659 86 665 85 670 85 691 107 690 112 688 119 685 125 678 130 671 132 666 134Z" fill="#171717"/>
<path d="M593 31 589 33 583 37 576 40 569 43 564 45 562 47 561 47 559 48 558 50 556 54 555 59 554 64 536 63 535 59 533 52 532 43 534 35 539 28 546 22 555 19 562 19 568 18 574 17 581 15 586 14Z" fill="#171717"/>
<path d="M541 125 539 123 536 120 535 116 534 113 533 109 533 106 533 102 534 99 535 96 536 92 538 87 539 81 540 73 540 64 540 58 552 58 552 64 552 73 553 81 554 87 556 92 557 96 558 99 559 102 559 106 559 109 558 113 557 116 556 120 553 123 551 125Z" fill="#171717"/>
<path d="M552 128 553 125 553 114 552 111 551 114 551 125Z" fill="#171717"/>
<path d="M586 140 587 139 587 135 586 133 585 135 585 139Z" fill="#171717"/>
<path d="M571 123 572 120 572 110 571 107 570 110 570 120Z" fill="#171717"/>
<path d="M554 116 555 115 555 111 554 110 553 111 553 115Z" fill="#171717"/>
<path d="M690 42 691 39 691 30 690 26 689 30 689 39Z" fill="#171717"/>
<path d="M578 133 579 129 579 119 578 116 577 119 577 129Z" fill="#181818"/>
<path d="M566 142 567 140 567 133 566 131 566 133 566 140Z" fill="#181818"/>
<path d="M605 126 605 125 605 121 605 119 604 121 604 125Z" fill="#181818"/>
<path d="M661 77 662 75 662 70 661 68 660 70 660 75Z" fill="#181818"/>
<path d="M609 128 610 127 610 123 609 121 608 123 608 127Z" fill="#181818"/>
<path d="M550 128 550 126 550 119 550 117 549 119 549 126Z" fill="#181818"/>
<path d="M607 121 608 119 608 115 607 114 606 115 606 119Z" fill="#181818"/>
<path d="M573 124 574 123 574 120 573 119 572 120 572 123Z" fill="#191919"/>
<path d="M667 67 668 65 668 60 667 58 666 60 666 65Z" fill="#191919"/>
<path d="M602 112 603 108 603 98 602 95 601 98 601 108Z" fill="#191919"/>
<path d="M590 120 591 119 591 115 590 114 589 115 589 119Z" fill="#1a1a1a"/>
<path d="M669 72 670 70 670 64 669 62 668 64 668 70Z" fill="#1a1a1a"/>
<path d="M571 106 572 104 572 97 571 95 570 97 570 104Z" fill="#1a1a1a"/>
<path d="M556 121 557 119 557 113 556 111 556 113 556 119Z" fill="#1a1a1a"/>
<path d="M690 55 691 53 691 46 690 44 689 46 689 53Z" fill="#1a1a1a"/>
<path d="M550 106 551 105 551 100 550 99 549 100 549 105Z" fill="#1a1a1a"/>
<path d="M625 108 626 107 626 104 625 103 624 104 624 107Z" fill="#1b1b1b"/>
<path d="M565 129 566 127 566 122 565 120 563 122 563 127Z" fill="#1c1c1c"/>
<path d="M588 120 589 119 589 116 588 115 587 116 587 119Z" fill="#1c1c1c"/>
<path d="M609 120 610 119 610 115 609 114 608 115 608 119Z" fill="#1c1c1c"/>
<path d="M590 126 591 125 591 121 590 120 589 121 589 125Z" fill="#1d1d1d"/>
<path d="M622 112 623 110 623 106 622 104 622 106 622 110Z" fill="#1d1d1d"/>
<path d="M575 138 576 135 576 126 575 123 574 126 574 135Z" fill="#1d1d1d"/>
<path d="M605 132 606 131 606 128 605 127 604 128 604 131Z" fill="#1d1d1d"/>
<path d="M600 129 601 128 601 123 600 122 599 123 599 128Z" fill="#1d1d1d"/>
<path d="M582 128 583 125 583 116 582 113 581 116 581 125Z" fill="#1e1e1e"/>
<path d="M594 137 599 134 605 130 611 125 618 121 624 116 629 112 630 112 628 113 630 111 632 107 635 104 638 100 642 97 646 95 649 95 651 96 654 96 657 96 682 106 683 109 685 113 685 119 684 124 683 129 681 134 679 138 676 142 674 145 673 146 669 151 664 155 658 160 650 165 641 171 633 175 625 179 620 181Z" fill="#1f1f1f"/>
<path d="M653 92 653 88 653 82 655 77 659 72 664 67 669 63 673 60 678 58 683 54 689 51 691 50 693 48 698 42 704 34 709 26 714 20 717 16 721 12 726 7 730 2 733 -1 768 34 765 37 760 41 757 45 754 48 752 51 749 55 743 62 737 71 730 80 723 87 718 92 715 94 712 98 707 102 702 107 695 110 688 114 681 115 675 115 670 113 666 111Z" fill="#1f1f1f"/>
<path d="M643 102 646 98 650 92 654 89 660 87 666 86 671 86 690 106 689 111 687 117 683 124 677 128 670 131 666 133Z" fill="#1f1f1f"/>
<path d="M593 30 589 33 582 36 576 40 569 42 564 45 561 46 560 47 559 48 557 50 556 54 554 59 553 64 537 63 536 59 534 52 533 44 535 36 540 29 547 23 555 20 562 19 568 19 575 18 581 16 586 14Z" fill="#1f1f1f"/>
<path d="M542 125 539 123 537 120 535 116 535 113 534 109 534 106 534 102 535 99 536 96 537 92 539 87 540 81 540 73 540 64 540 58 552 58 552 64 552 73 552 81 553 87 555 92 556 96 557 99 558 102 558 106 558 109 557 113 557 116 555 120 553 123 550 125Z" fill="#1f1f1f"/>
<path d="M550 142 551 139 551 131 550 129 549 131 549 139Z" fill="#1f1f1f"/>
<path d="M607 139 608 135 608 126 607 122 606 126 606 135Z" fill="#1f1f1f"/>
<path d="M595 120 596 118 596 113 595 111 593 113 593 118Z" fill="#202020"/>
<path d="M625 114 626 113 626 109 625 107 624 109 624 113Z" fill="#202020"/>
<path d="M652 101 652 99 652 92 652 89 651 92 651 99Z" fill="#212121"/>
<path d="M616 123 617 120 617 111 616 108 615 111 615 120Z" fill="#212121"/>
<path d="M613 132 614 129 614 119 613 116 613 119 613 129Z" fill="#212121"/>
<path d="M639 102 640 100 640 94 639 92 638 94 638 100Z" fill="#212121"/>
<path d="M646 95 647 94 647 89 646 87 645 89 645 94Z" fill="#222222"/>
<path d="M584 129 585 126 585 117 584 114 583 117 583 126Z" fill="#222222"/>
<path d="M592 142 593 140 593 135 592 133 591 135 591 140Z" fill="#242424"/>
<path d="M657 97 658 96 658 92 657 90 657 92 657 96Z" fill="#242424"/>
<path d="M569 130 570 129 570 125 569 123 568 125 568 129Z" fill="#252525"/>
<path d="M637 100 638 98 638 91 637 89 636 91 636 98Z" fill="#252525"/>
<path d="M578 141 579 140 579 136 578 135 577 136 577 140Z" fill="#252525"/>
<path d="M571 142 572 141 572 136 571 134 570 136 570 141Z" fill="#252525"/>
<path d="M597 137 598 136 598 133 597 132 595 133 595 136Z" fill="#262626"/>
<path d="M597 132 597 131 597 128 597 127 596 128 596 131Z" fill="#262626"/>
<path d="M605 141 606 140 606 134 605 133 604 134 604 140Z" fill="#262626"/>
<path d="M552 141 553 139 553 131 552 129 551 131 551 139Z" fill="#272727"/>
<path d="M648 111 649 108 649 100 648 98 646 100 646 108Z" fill="#272727"/>
<path d="M595 139 600 135 606 131 612 127 618 122 625 117 630 113 631 113 629 114 631 112 634 108 636 105 639 101 643 98 647 96 650 96 652 96 656 97 658 96 681 106 682 108 684 113 684 118 683 123 681 128 680 133 678 137 675 141 673 144 671 145 668 150 663 154 657 159 649 164 641 169 632 174 624 177 619 180Z" fill="#282828"/>
<path d="M654 93 654 89 654 83 656 78 660 73 665 68 670 64 674 61 679 59 684 55 689 52 692 51 694 49 699 43 705 34 711 26 715 21 719 17 722 13 727 8 731 3 734 0 767 33 764 36 759 40 756 44 753 47 751 50 747 54 742 61 736 70 729 79 722 86 717 90 714 93 711 96 706 101 701 105 694 109 687 112 680 114 674 114 669 112 665 111Z" fill="#282828"/>
<path d="M644 103 647 99 651 94 655 90 661 88 667 87 672 87 689 105 688 109 686 116 682 122 676 127 669 130 665 131Z" fill="#282828"/>
<path d="M593 29 588 32 582 35 575 39 569 42 563 44 561 46 560 46 558 48 557 50 555 54 553 59 552 64 538 63 537 59 535 52 534 44 536 36 540 30 547 24 555 21 563 20 569 20 575 18 582 17 586 15Z" fill="#282828"/>
<path d="M543 125 540 123 538 120 536 116 535 113 535 109 535 106 535 102 536 99 537 96 538 92 539 87 541 81 541 73 541 64 541 58 551 58 551 64 551 73 551 81 553 87 554 92 555 96 556 99 557 102 557 106 557 109 557 113 556 116 554 120 552 123 549 125Z" fill="#282828"/>
<path d="M573 137 574 134 574 127 573 125 572 127 572 134Z" fill="#282828"/>
<path d="M631 113 632 112 632 108 631 107 630 108 630 112Z" fill="#282828"/>
<path d="M590 142 591 139 591 130 590 128 589 130 589 139Z" fill="#282828"/>
<path d="M560 141 561 140 561 135 560 134 559 135 559 140Z" fill="#292929"/>
<path d="M649 99 650 96 650 87 649 84 649 87 649 96Z" fill="#2a2a2a"/>
<path d="M633 101 634 98 634 92 633 90 632 92 632 98Z" fill="#2a2a2a"/>
<path d="M627 114 628 112 628 106 627 104 626 106 626 112Z" fill="#2a2a2a"/>
<path d="M653 111 654 107 654 97 653 94 653 97 653 107Z" fill="#2a2a2a"/>
<path d="M558 139 559 138 559 135 558 134 557 135 557 138Z" fill="#2b2b2b"/>
<path d="M635 99 636 96 636 87 635 84 634 87 634 96Z" fill="#2b2b2b"/>
<path d="M652 86 653 83 653 74 652 71 651 74 651 83Z" fill="#2f2f2f"/>
<path d="M595 140 600 137 607 132 613 128 619 123 626 118 631 115 632 114 630 115 632 113 635 109 637 106 640 102 644 99 648 97 651 96 654 97 657 97 660 97 679 105 681 108 683 112 683 117 682 123 680 128 679 132 677 136 674 140 671 143 670 145 667 149 662 153 656 158 648 163 640 168 632 173 624 176 618 179Z" fill="#303030"/>
<path d="M654 94 654 90 655 84 657 79 661 74 666 69 671 65 675 62 680 60 685 56 690 53 693 52 695 50 700 44 706 35 712 27 716 22 719 17 723 14 728 9 732 4 735 1 766 32 763 35 759 40 755 43 752 46 750 49 746 53 741 60 735 70 728 78 721 85 716 89 713 92 710 95 706 100 700 104 693 108 686 111 680 113 674 113 668 111 665 110Z" fill="#303030"/>
<path d="M645 104 648 101 652 95 656 91 662 90 668 88 673 87 688 104 687 108 685 115 681 121 675 125 668 128 664 130Z" fill="#303030"/>
<path d="M593 29 588 31 582 35 575 38 569 41 563 43 560 45 559 46 558 47 556 49 554 54 553 59 552 64 539 63 537 59 535 52 535 44 537 37 541 30 548 25 556 22 563 21 569 21 575 19 582 17 587 16Z" fill="#303030"/>
<path d="M545 125 541 123 538 120 537 116 536 113 535 109 535 106 536 102 536 99 537 96 539 92 540 87 542 81 542 73 542 64 542 58 550 58 550 64 550 73 550 81 552 87 553 92 555 96 556 99 556 102 557 106 557 109 556 113 555 116 554 120 551 123 547 125Z" fill="#303030"/>
<path d="M644 113 645 110 645 101 644 98 643 101 643 110Z" fill="#313131"/>
<path d="M656 87 656 85 656 78 656 76 655 78 655 85Z" fill="#323232"/>
<path d="M641 113 642 110 642 102 641 100 640 102 640 110Z" fill="#333333"/>
<path d="M660 93 660 90 660 81 660 78 659 81 659 90Z" fill="#343434"/>
<path d="M648 90 648 87 648 78 648 76 647 78 647 87Z" fill="#383838"/>
<path d="M641 89 642 87 642 82 641 80 640 82 640 87Z" fill="#383838"/>
<path d="M649 111 650 109 650 102 649 100 649 102 649 109Z" fill="#393939"/>
<path d="M637 115 638 112 638 104 637 101 636 104 636 112Z" fill="#393939"/>
<path d="M596 141 601 138 607 133 614 129 620 124 627 119 632 116 633 115 632 116 633 114 636 110 638 107 642 103 645 100 649 98 652 97 655 98 658 98 662 98 678 105 680 107 681 111 682 117 681 122 679 127 678 131 675 135 673 139 670 142 669 144 666 148 661 152 655 157 647 162 639 167 631 171 623 175 618 178Z" fill="#3b3b3b"/>
<path d="M655 95 655 91 655 85 657 80 662 75 667 70 672 67 676 64 681 61 686 57 691 54 694 53 696 51 701 45 707 36 712 28 717 22 720 18 724 14 728 10 733 5 736 2 765 31 762 34 758 39 754 43 751 46 749 48 745 53 740 60 734 69 727 78 720 84 715 88 712 91 709 94 705 99 699 103 692 107 685 110 679 112 673 112 668 110 664 109Z" fill="#3b3b3b"/>
<path d="M645 106 649 102 653 97 658 93 663 91 669 89 674 88 687 103 686 107 684 114 680 120 674 124 667 127 663 129Z" fill="#3b3b3b"/>
<path d="M592 28 588 31 582 34 575 38 568 41 563 43 560 45 559 46 557 47 555 49 554 54 552 59 551 64 540 63 538 59 536 52 536 44 538 37 542 31 548 25 556 23 563 22 569 21 576 20 582 18 587 17Z" fill="#3b3b3b"/>
<path d="M546 125 542 123 539 120 537 116 536 113 536 109 536 106 536 102 537 99 538 96 539 92 541 87 542 81 543 73 544 64 544 58 548 58 548 64 549 73 550 81 551 87 553 92 554 96 555 99 556 102 556 106 556 109 556 113 555 116 553 120 550 123 546 125Z" fill="#3b3b3b"/>
<path d="M639 112 640 111 640 107 639 106 638 107 638 111Z" fill="#3c3c3c"/>
<path d="M633 114 634 111 634 103 633 101 632 103 632 111Z" fill="#3d3d3d"/>
<path d="M639 91 640 89 640 85 639 83 638 85 638 89Z" fill="#404040"/>
<path d="M641 100 642 98 642 93 641 91 640 93 640 98Z" fill="#404040"/>
<path d="M635 113 636 110 636 103 635 100 634 103 634 110Z" fill="#404040"/>
<path d="M660 78 661 77 661 74 660 72 659 74 659 77Z" fill="#404040"/>
<path d="M663 87 664 85 664 80 663 79 662 80 662 85Z" fill="#424242"/>
<path d="M662 96 662 93 662 87 662 84 661 87 661 93Z" fill="#444444"/>
<path d="M656 95 657 94 657 91 656 90 655 91 655 94Z" fill="#494949"/>
<path d="M597 142 602 139 608 135 615 130 621 126 628 121 633 117 634 116 633 117 635 115 637 111 640 108 643 104 647 101 651 99 654 98 657 98 660 99 664 99 676 104 678 107 680 111 680 116 679 121 678 126 676 130 674 134 671 138 669 141 668 143 665 146 660 150 654 155 646 160 638 166 630 170 622 174 617 176Z" fill="#4a4a4a"/>
<path d="M656 97 656 92 656 87 658 81 663 77 668 72 673 68 677 65 682 62 687 59 692 55 695 54 697 52 702 46 708 37 714 29 718 23 722 19 725 15 730 11 734 6 737 3 764 30 761 33 757 38 753 42 750 45 747 47 744 52 739 59 732 68 726 77 719 83 714 87 711 90 708 93 704 97 698 102 691 106 684 109 678 111 672 111 667 109 663 108Z" fill="#4a4a4a"/>
<path d="M647 107 650 104 655 99 659 95 665 92 671 91 675 90 686 102 684 106 682 112 678 118 673 122 666 125 662 127Z" fill="#4a4a4a"/>
<path d="M592 27 588 30 581 33 575 37 568 40 563 42 560 44 558 45 556 47 554 49 553 53 551 59 550 64 541 64 539 59 537 52 537 45 539 38 542 32 549 26 556 24 563 23 569 22 576 21 583 19 588 18Z" fill="#4a4a4a"/>
<path d="M546 125 543 123 540 120 538 116 537 113 537 109 537 106 537 102 538 99 539 96 540 92 542 87 545 81 546 73 546 64 546 58 546 64 546 73 547 81 550 87 552 92 553 96 554 99 555 102 555 106 555 109 555 113 554 116 552 120 549 123 546 125Z" fill="#4a4a4a"/>
<path d="M598 144 603 141 610 137 616 132 622 128 629 123 634 119 636 118 635 118 636 116 639 113 642 109 645 105 648 103 652 100 656 100 659 100 663 100 670 102 675 105 678 110 678 115 678 120 676 124 675 129 672 133 670 137 667 140 666 141 663 145 659 149 653 153 645 159 637 164 629 168 621 172 616 174Z" fill="#5e5e5e"/>
<path d="M658 100 657 94 657 88 659 83 664 78 669 74 674 70 678 67 683 64 688 60 693 57 696 55 699 53 703 47 710 38 715 30 720 25 723 21 727 17 731 12 736 8 739 5 762 29 759 32 755 36 751 40 748 43 746 46 743 50 737 58 731 67 724 75 718 82 713 85 710 88 707 92 702 96 697 100 690 104 683 107 677 109 671 109 666 108 662 105Z" fill="#5e5e5e"/>
<path d="M648 109 652 106 656 101 661 97 667 95 672 93 677 92 684 100 683 104 680 110 676 115 671 120 664 123 660 125Z" fill="#5e5e5e"/>
<path d="M591 26 587 28 581 32 574 36 568 39 562 41 559 43 557 44 555 46 553 49 552 53 550 59 548 64 543 64 541 59 539 52 538 45 540 38 543 32 549 27 557 25 564 24 570 24 577 22 583 20 588 19Z" fill="#5e5e5e"/>
<path d="M546 125 546 123 541 120 539 116 538 113 538 109 538 106 538 102 539 99 540 96 542 92 545 87 546 81 546 73 546 64 546 58 546 64 546 73 546 81 547 87 550 92 552 96 553 99 554 102 554 106 554 109 554 113 553 116 551 120 546 123 546 125Z" fill="#5e5e5e"/>
<path d="M599 146 604 143 611 138 617 134 624 129 630 124 636 120 637 119 636 119 638 117 641 114 643 110 646 107 650 104 654 102 657 101 661 101 670 103 670 102 670 103 676 109 677 113 676 118 675 123 673 128 671 132 668 135 666 138 664 140 662 144 658 147 651 152 644 157 636 162 628 167 620 170 615 173Z" fill="#737373"/>
<path d="M660 103 658 96 658 90 660 85 665 80 670 75 675 71 680 68 684 65 689 62 694 58 697 57 700 54 705 48 711 39 717 31 721 26 724 22 728 18 732 13 737 9 740 6 761 28 758 31 754 35 750 39 747 42 745 45 741 49 736 57 729 66 723 74 717 80 712 84 709 87 705 90 701 94 696 99 689 103 682 106 676 108 671 108 665 106 660 103Z" fill="#737373"/>
<path d="M650 112 654 109 659 104 664 100 669 98 675 96 680 96 680 101 677 107 674 112 668 117 662 120 658 123Z" fill="#737373"/>
<path d="M590 23 586 27 580 31 574 35 568 38 562 40 559 42 557 44 555 46 553 49 550 53 548 59 546 64 543 59 540 52 540 45 541 39 544 33 550 28 557 26 564 25 570 25 577 24 584 22 590 23Z" fill="#737373"/>
<path d="M546 125 546 123 542 120 540 116 539 113 539 109 539 106 539 102 540 99 541 96 544 92 546 87 546 81 546 73 546 64 546 58 546 64 546 73 546 81 546 87 548 92 551 96 552 99 553 102 553 106 553 109 553 113 552 116 550 120 546 123 546 125Z" fill="#737373"/>
<path d="M600 148 605 144 612 140 618 135 625 131 632 126 637 122 638 120 638 121 640 118 642 115 645 111 648 108 652 105 656 103 659 102 664 102 670 103 670 102 670 103 673 107 675 112 675 117 673 122 672 126 669 130 667 134 664 137 663 139 660 142 656 146 650 150 643 156 635 161 627 165 619 169 614 171Z" fill="#878787"/>
<path d="M660 103 660 99 659 91 661 86 666 81 671 77 676 73 681 70 685 66 690 63 695 60 698 58 701 55 706 49 712 40 718 32 722 27 726 23 729 19 733 15 738 10 741 7 760 27 757 30 753 34 749 38 746 41 743 44 740 48 735 56 728 65 722 73 716 79 711 83 708 85 704 89 700 93 695 97 688 101 682 105 675 107 670 107 663 103 660 103Z" fill="#878787"/>
<path d="M590 23 585 25 579 29 573 33 567 37 562 39 558 41 556 43 554 45 552 48 549 53 546 59 546 64 546 59 542 53 541 46 542 40 545 34 551 29 558 27 565 27 571 27 578 26 585 25 590 23Z" fill="#878787"/>
<path d="M546 125 546 123 544 120 541 116 540 113 539 109 539 106 540 102 541 99 543 96 546 92 546 87 546 81 546 73 546 64 546 58 546 64 546 73 546 81 546 87 546 92 549 96 551 99 552 102 553 106 553 109 552 113 551 116 548 120 546 123 546 125Z" fill="#878787"/>
<path d="M601 149 606 146 613 142 619 137 626 132 633 127 638 123 640 122 639 122 641 120 643 116 646 112 649 109 653 106 657 104 662 103 669 105 670 103 670 102 670 103 669 105 673 111 673 116 672 121 670 125 668 129 665 133 663 136 661 138 659 141 655 144 649 149 642 154 634 159 626 164 618 167 613 170Z" fill="#9c9c9c"/>
<path d="M660 103 662 101 661 93 662 87 667 83 672 78 678 74 682 71 687 68 691 64 696 61 699 59 702 56 708 50 714 41 719 33 724 28 727 24 730 20 735 16 739 11 742 8 759 25 756 28 752 33 748 37 745 40 742 43 739 47 733 55 727 64 720 72 715 78 710 81 707 84 703 87 699 92 694 96 687 100 681 103 675 106 669 105 662 101 660 103Z" fill="#9c9c9c"/>
<path d="M590 23 585 25 579 28 572 30 567 35 561 38 558 41 555 43 553 45 550 48 546 53 546 59 546 64 546 59 546 53 543 46 543 40 546 35 551 30 558 28 565 28 572 30 579 28 585 25 590 23Z" fill="#9c9c9c"/>
<path d="M546 125 546 123 546 120 542 116 541 113 540 109 540 106 541 102 542 99 546 96 546 92 546 87 546 81 546 73 546 64 546 58 546 64 546 73 546 81 546 87 546 92 546 96 550 99 551 102 552 106 552 109 551 113 550 116 546 120 546 123 546 125Z" fill="#9c9c9c"/>
<path d="M602 151 607 148 614 143 620 139 627 134 634 129 639 125 641 123 643 121 645 117 648 114 651 110 655 108 659 106 665 106 669 105 670 103 670 102 670 103 669 105 670 109 671 115 670 120 669 124 667 128 664 132 661 135 660 137 658 140 654 143 648 147 640 153 633 158 625 162 617 166 612 168Z" fill="#b0b0b0"/>
<path d="M660 103 662 101 662 95 663 89 668 84 673 80 679 76 683 72 688 69 693 66 697 63 700 61 704 57 709 51 715 42 721 34 725 29 728 25 731 21 736 17 740 13 743 9 758 24 755 27 750 31 746 36 743 39 741 42 737 46 732 54 725 63 719 71 714 76 709 80 706 83 702 86 698 90 692 94 686 98 680 102 674 104 667 103 662 101 660 103Z" fill="#b0b0b0"/>
<path d="M590 23 585 25 579 28 572 30 566 32 561 37 557 40 554 42 552 44 548 47 546 53 546 59 546 64 546 59 546 53 546 47 545 41 547 36 552 31 558 30 566 32 572 30 579 28 585 25 590 23Z" fill="#b0b0b0"/>
<path d="M546 125 546 123 546 120 543 116 542 113 541 109 541 106 542 102 544 99 546 96 546 92 546 87 546 81 546 73 546 64 546 58 546 64 546 73 546 81 546 87 546 92 546 96 548 99 550 102 551 106 551 109 550 113 549 116 546 120 546 123 546 125Z" fill="#b0b0b0"/>
<path d="M603 153 608 150 615 145 621 140 628 136 635 130 641 126 643 125 643 124 644 122 647 119 649 115 652 112 657 109 662 108 668 107 669 105 670 103 670 102 670 103 669 105 668 107 668 113 668 118 667 123 665 127 662 131 659 134 658 136 656 138 653 141 647 146 639 151 632 156 624 160 616 164 611 167Z" fill="#c4c4c4"/>
<path d="M660 103 662 101 665 99 665 91 669 86 675 81 680 78 685 74 689 71 694 67 698 64 701 62 705 59 710 52 717 43 722 35 726 30 729 26 733 23 737 18 742 14 745 11 756 23 753 26 749 30 745 34 742 38 739 41 736 45 730 53 724 62 718 70 712 75 708 78 705 81 701 85 696 89 691 92 685 97 679 100 673 103 665 99 662 101 660 103Z" fill="#c4c4c4"/>
<path d="M590 23 585 25 579 28 572 30 566 32 560 35 556 39 553 41 550 43 547 47 546 53 546 59 546 64 546 59 546 53 547 47 548 42 548 37 553 33 559 32 566 32 572 30 579 28 585 25 590 23Z" fill="#c4c4c4"/>
<path d="M546 125 546 123 546 120 546 116 543 113 542 109 542 106 543 102 546 99 546 96 546 92 546 87 546 81 546 73 546 64 546 58 546 64 546 73 546 81 546 87 546 92 546 96 546 99 549 102 550 106 550 109 549 113 546 116 546 120 546 123 546 125Z" fill="#c4c4c4"/>
<path d="M605 155 609 152 616 147 623 143 630 138 637 133 642 128 644 126 645 126 646 124 649 120 651 116 655 113 659 111 665 110 668 107 669 105 670 103 670 102 670 103 669 105 668 107 665 110 666 116 665 121 663 125 660 129 657 132 656 134 654 136 651 139 645 144 638 149 630 154 623 158 615 162 610 164Z" fill="#d9d9d9"/>
<path d="M660 103 662 101 665 99 666 93 670 88 676 84 682 80 686 76 691 73 695 69 700 66 703 64 707 60 712 53 719 44 724 37 728 32 731 28 734 24 739 20 743 16 746 12 755 21 752 24 747 28 743 33 740 36 737 39 734 44 728 51 722 60 716 68 711 73 707 76 703 79 699 83 695 87 690 90 684 95 677 99 671 101 665 99 662 101 660 103Z" fill="#d9d9d9"/>
<path d="M546 125 546 123 546 120 546 116 546 113 544 109 544 106 546 102 546 99 546 96 546 92 546 87 546 81 546 73 546 64 546 58 546 64 546 73 546 81 546 87 546 92 546 96 546 99 546 102 548 106 548 109 546 113 546 116 546 120 546 123 546 125Z" fill="#d9d9d9"/>
<path d="M607 160 612 157 619 151 625 146 632 141 639 135 645 131 647 129 648 128 649 126 651 122 654 118 658 115 663 114 665 110 668 107 669 105 670 103 670 102 670 103 669 105 668 107 665 110 663 114 662 119 661 124 657 127 654 130 653 132 651 133 648 136 643 141 636 146 628 151 620 154 612 157 607 160Z" fill="#ebebeb"/>
<path d="M660 103 662 101 665 99 669 97 672 90 678 86 684 83 688 79 693 75 697 72 702 69 705 66 709 62 715 55 721 46 727 39 731 34 734 30 737 27 741 22 746 18 749 15 752 19 749 22 745 26 741 30 738 34 735 37 731 42 726 49 719 58 713 66 709 71 705 73 701 76 697 80 692 84 687 88 682 92 676 96 669 97 665 99 662 101 660 103Z" fill="#ebebeb"/>
<path d="M735 31 737 30 737 27 735 26 733 27 733 30Z" fill="#f8f8f8"/>
<path d="M694 75 695 74 695 72 694 71 693 72 693 74Z" fill="#f8f8f8"/>
<path d="M634 147 636 145 636 143 634 142 633 143 633 145Z" fill="#f8f8f8"/>
<path d="M659 120 660 119 660 117 659 116 657 117 657 119Z" fill="#f9f9f9"/>
<path d="M694 79 696 78 696 76 694 75 692 76 692 78Z" fill="#f9f9f9"/>
<path d="M645 139 647 138 647 136 645 135 643 136 643 138Z" fill="#fafafa"/>
<path d="M737 26 738 24 738 22 737 20 735 22 735 24Z" fill="#fafafa"/>
<path d="M687 88 689 87 689 85 687 84 686 85 686 87Z" fill="#fafafa"/>
<path d="M700 77 702 76 702 75 700 74 699 75 699 76Z" fill="#fbfbfb"/>
<path d="M719 67 721 65 721 63 719 62 717 63 717 65Z" fill="#fbfbfb"/>
<path d="M688 87 690 86 690 83 688 82 687 83 687 86Z" fill="#fbfbfb"/>
<path d="M647 135 649 134 649 133 647 132 644 133 644 134Z" fill="#fbfbfb"/>
<path d="M690 84 692 83 692 80 690 79 688 80 688 83Z" fill="#fcfcfc"/>
<path d="M713 71 714 70 714 67 713 66 711 67 711 70Z" fill="#fcfcfc"/>
<path d="M620 161 621 160 621 158 620 157 618 158 618 160Z" fill="#fdfdfd"/>
<path d="M617 157 619 157 619 155 617 154 616 155 616 157Z" fill="#fdfdfd"/>
<path d="M684 83 685 82 685 79 684 78 683 79 683 82Z" fill="#fdfdfd"/>
<path d="M638 144 640 143 640 141 638 140 636 141 636 143Z" fill="#fdfdfd"/>
<path d="M744 33 746 32 746 29 744 28 742 29 742 32Z" fill="#fefefe"/>
<path d="M634 142 636 141 636 139 634 138 632 139 632 141Z" fill="#ffffff"/>
</g></g>
<clipPath id="cp20L"><rect x="545.7" y="157.1" width="233.5" height="104.6"/></clipPath>
<g clip-path="url(#cp20L)"><g filter="url(#jet)">
<rect x="536.0" y="147.1" width="253.8" height="124.6" fill="#000"/>
<g filter="url(#soft)">
<path d="M546 262 561 262 575 242 587 224 602 210 616 189 593 180 564 172 546 172Z" fill="#0f0f0f"/>
<path d="M549 213 581 216 599 198 604 186 575 180 549 180Z" fill="#171717"/>
<path d="M546 259 553 261 559 249 569 238 576 224 575 216 564 212 546 211Z" fill="#2e2e2e"/>
</g>
<path d="M753 215 754 213 754 207 753 205 751 207 751 213Z" fill="#050505"/>
<path d="M778 217 779 215 779 209 778 207 777 209 777 215Z" fill="#050505"/>
<path d="M580 176 580 172 580 167 580 163 581 160 582 158 582 156 583 154 583 153 584 151 586 149 588 146 589 144 591 141 593 138 595 134 598 130 599 128 649 162 648 164 646 167 644 170 643 172 641 175 639 179 636 182 633 186 629 190 625 193 621 196 618 197 614 198 611 199 608 198 604 198 601 198 598 197Z" fill="#050505"/>
<path d="M575 156 576 154 576 152 577 150 577 148 577 147 579 144 580 142 582 140 583 137 586 133 588 129 591 126 592 123 635 152 634 155 632 158 630 161 628 163 626 166 624 170 622 173 619 176 617 180 614 183 611 185 609 186 606 188 603 189 601 190Z" fill="#050505"/>
<path d="M539 268 539 257 539 242 539 227 539 217 539 207 539 198 539 188 539 177 539 169 540 163 540 159 540 157 552 157 552 159 552 163 553 169 553 177 553 188 553 198 553 207 553 217 553 227 553 242 553 257 553 268Z" fill="#050505"/>
<path d="M535 256 534 252 533 245 532 239 533 232 535 226 536 221 556 221 557 226 559 232 560 239 559 245 558 252 557 256Z" fill="#050505"/>
<path d="M668 202 669 198 669 189 668 185 667 189 667 198Z" fill="#050505"/>
<path d="M750 220 751 218 751 209 750 207 749 209 749 218Z" fill="#050505"/>
<path d="M760 255 760 253 760 249 760 248 759 249 759 253Z" fill="#060606"/>
<path d="M630 231 631 229 631 224 630 222 629 224 629 229Z" fill="#060606"/>
<path d="M774 216 775 213 775 206 774 203 773 206 773 213Z" fill="#060606"/>
<path d="M717 239 717 237 717 233 717 231 716 233 716 237Z" fill="#060606"/>
<path d="M760 212 760 211 760 207 760 206 759 207 759 211Z" fill="#060606"/>
<path d="M730 211 730 208 730 199 730 196 729 199 729 208Z" fill="#060606"/>
<path d="M658 202 659 201 659 198 658 197 656 198 656 201Z" fill="#070707"/>
<path d="M649 257 651 254 651 244 649 240 648 244 648 254Z" fill="#070707"/>
<path d="M626 210 627 209 627 205 626 203 625 205 625 209Z" fill="#070707"/>
<path d="M764 242 765 239 765 231 764 228 763 231 763 239Z" fill="#070707"/>
<path d="M638 204 639 201 639 192 638 189 638 192 638 201Z" fill="#070707"/>
<path d="M672 202 673 200 673 193 672 191 671 193 671 200Z" fill="#080808"/>
<path d="M654 200 655 198 655 192 654 189 653 192 653 198Z" fill="#080808"/>
<path d="M635 223 635 222 635 216 635 214 634 216 634 222Z" fill="#080808"/>
<path d="M764 259 765 256 765 246 764 243 763 246 763 256Z" fill="#080808"/>
<path d="M597 232 598 231 598 227 597 226 596 227 596 231Z" fill="#080808"/>
<path d="M674 257 675 255 675 248 674 246 673 248 673 255Z" fill="#080808"/>
<path d="M736 198 737 196 737 189 736 186 735 189 735 196Z" fill="#080808"/>
<path d="M734 259 735 257 735 250 734 248 733 250 733 257Z" fill="#080808"/>
<path d="M617 203 618 200 618 190 617 186 616 190 616 200Z" fill="#090909"/>
<path d="M693 258 694 256 694 250 693 248 692 250 692 256Z" fill="#090909"/>
<path d="M587 255 588 251 588 241 587 237 586 241 586 251Z" fill="#090909"/>
<path d="M672 257 673 255 673 248 672 246 671 248 671 255Z" fill="#090909"/>
<path d="M649 240 650 238 650 230 649 228 648 230 648 238Z" fill="#090909"/>
<path d="M686 256 687 253 687 246 686 243 686 246 686 253Z" fill="#090909"/>
<path d="M643 211 644 210 644 206 643 205 642 206 642 210Z" fill="#090909"/>
<path d="M772 227 773 225 773 220 772 218 771 220 771 225Z" fill="#090909"/>
<path d="M649 214 651 213 651 210 649 209 648 210 648 213Z" fill="#090909"/>
<path d="M615 249 616 246 616 238 615 235 614 238 614 246Z" fill="#090909"/>
<path d="M664 256 665 253 665 243 664 239 662 243 662 253Z" fill="#090909"/>
<path d="M583 240 584 238 584 235 583 234 582 235 582 238Z" fill="#0a0a0a"/>
<path d="M731 256 732 253 732 243 731 239 731 243 731 253Z" fill="#0a0a0a"/>
<path d="M757 218 758 217 758 211 757 210 756 211 756 217Z" fill="#0a0a0a"/>
<path d="M622 202 623 199 623 190 622 186 620 190 620 199Z" fill="#0a0a0a"/>
<path d="M742 246 743 244 743 236 742 234 741 236 741 244Z" fill="#0a0a0a"/>
<path d="M582 177 581 174 581 169 581 165 582 162 583 160 584 158 585 156 585 155 586 153 588 150 590 148 591 145 593 143 595 139 598 135 600 132 601 130 647 161 646 163 644 166 642 169 641 171 639 174 637 177 634 181 631 185 627 188 623 192 620 194 617 195 613 196 610 197 607 197 603 197 599 196 597 196Z" fill="#0a0a0a"/>
<path d="M579 161 580 160 581 157 582 155 582 154 583 153 583 152 584 151 585 149 587 146 588 144 590 141 592 137 595 133 597 130 599 128 633 151 632 153 630 156 628 160 626 162 624 165 622 168 620 172 617 175 615 178 612 181 610 183 607 185 604 186 602 188 600 188Z" fill="#0a0a0a"/>
<path d="M539 268 539 257 539 242 539 227 539 217 540 207 540 198 540 188 540 177 540 169 540 163 540 159 540 157 552 157 552 159 552 163 552 169 552 177 552 188 552 198 552 207 553 217 553 227 553 242 553 257 553 268Z" fill="#0a0a0a"/>
<path d="M536 256 536 252 534 245 534 239 535 232 536 226 537 221 555 221 556 226 557 232 558 239 558 245 556 252 556 256Z" fill="#0a0a0a"/>
<path d="M703 208 704 206 704 201 703 200 702 201 702 206Z" fill="#0a0a0a"/>
<path d="M638 217 639 214 639 207 638 205 638 207 638 214Z" fill="#0a0a0a"/>
<path d="M739 217 739 215 739 210 739 208 738 210 738 215Z" fill="#0b0b0b"/>
<path d="M609 258 610 254 610 244 609 240 608 244 608 254Z" fill="#0b0b0b"/>
<path d="M730 225 731 222 731 215 730 212 728 215 728 222Z" fill="#0b0b0b"/>
<path d="M707 214 708 213 708 210 707 209 706 210 706 213Z" fill="#0b0b0b"/>
<path d="M714 203 715 199 715 189 714 185 714 189 714 199Z" fill="#0b0b0b"/>
<path d="M672 243 673 241 673 237 672 235 671 237 671 241Z" fill="#0b0b0b"/>
<path d="M691 258 693 256 693 250 691 248 690 250 690 256Z" fill="#0b0b0b"/>
<path d="M700 237 701 235 701 229 700 227 698 229 698 235Z" fill="#0b0b0b"/>
<path d="M770 218 771 217 771 214 770 213 769 214 769 217Z" fill="#0c0c0c"/>
<path d="M583 178 582 175 582 170 582 166 583 163 584 161 585 159 586 158 587 157 587 156 588 154 590 152 592 149 593 146 595 144 597 140 599 136 602 133 603 131 646 159 644 162 642 165 640 168 639 170 637 173 635 176 632 180 629 183 626 187 622 190 619 193 615 194 612 195 609 196 606 196 602 196 599 195 596 195Z" fill="#111111"/>
<path d="M583 166 584 165 585 163 586 161 587 159 588 158 588 157 590 155 591 153 593 150 595 148 596 145 599 141 601 138 603 134 605 132 631 150 630 152 628 155 626 158 624 161 622 164 620 167 618 170 616 174 613 177 611 179 608 181 606 183 603 185 601 186 599 187Z" fill="#111111"/>
<path d="M540 268 540 257 540 242 540 227 540 217 540 207 540 198 541 188 541 177 541 169 541 163 541 159 541 157 551 157 551 159 551 163 551 169 551 177 551 188 552 198 552 207 552 217 552 227 552 242 552 257 552 268Z" fill="#111111"/>
<path d="M537 256 537 252 535 245 535 239 536 232 537 226 538 221 554 221 555 226 556 232 557 239 557 245 555 252 555 256Z" fill="#111111"/>
<path d="M571 210 572 208 572 202 571 200 570 202 570 208Z" fill="#131313"/>
<path d="M554 206 555 203 555 193 554 190 553 193 553 203Z" fill="#141414"/>
<path d="M569 199 570 197 570 191 569 189 568 191 568 197Z" fill="#161616"/>
<path d="M563 208 564 206 564 202 563 201 562 202 562 206Z" fill="#171717"/>
<path d="M583 179 583 176 583 171 583 167 584 164 585 162 586 160 587 159 588 158 588 157 589 155 591 152 593 150 594 147 596 144 598 141 601 137 603 134 604 132 644 159 643 161 641 164 639 167 638 169 636 172 634 176 631 179 628 183 625 186 621 190 618 192 615 193 611 194 608 195 605 195 602 195 598 195 595 194Z" fill="#171717"/>
<path d="M587 171 588 170 589 168 591 166 592 164 593 163 594 162 595 159 597 157 599 154 601 151 603 148 605 145 607 141 609 138 611 136 629 148 628 151 626 154 624 157 622 160 620 163 618 166 616 169 614 172 611 176 609 178 607 180 605 182 602 183 600 185 598 186Z" fill="#171717"/>
<path d="M540 268 540 257 540 242 540 227 540 217 541 207 541 198 541 188 541 177 541 169 541 163 542 159 542 157 550 157 550 159 551 163 551 169 551 177 551 188 551 198 551 207 552 217 552 227 552 242 552 257 552 268Z" fill="#171717"/>
<path d="M538 256 537 252 536 245 536 239 536 232 538 226 539 221 553 221 554 226 556 232 556 239 556 245 555 252 554 256Z" fill="#171717"/>
<path d="M552 198 553 196 553 191 552 189 551 191 551 196Z" fill="#171717"/>
<path d="M552 209 553 208 553 203 552 201 551 203 551 208Z" fill="#171717"/>
<path d="M581 208 582 205 582 196 581 193 580 196 580 205Z" fill="#181818"/>
<path d="M563 199 564 197 564 191 563 189 562 191 562 197Z" fill="#181818"/>
<path d="M556 205 557 202 557 193 556 189 555 193 555 202Z" fill="#1a1a1a"/>
<path d="M563 189 564 188 564 184 563 183 562 184 562 188Z" fill="#1a1a1a"/>
<path d="M579 196 580 193 580 185 579 182 578 185 578 193Z" fill="#1b1b1b"/>
<path d="M549 189 550 186 550 179 549 176 548 179 548 186Z" fill="#1c1c1c"/>
<path d="M567 191 568 189 568 182 567 179 566 182 566 189Z" fill="#1c1c1c"/>
<path d="M558 207 559 205 559 201 558 200 557 201 557 205Z" fill="#1e1e1e"/>
<path d="M584 180 584 177 584 172 584 168 585 165 586 163 587 162 588 160 589 159 589 158 590 156 592 153 594 150 596 148 597 145 599 142 602 138 604 135 606 132 643 158 642 160 640 163 638 166 636 168 635 171 633 175 630 178 627 182 624 186 620 189 617 191 614 192 611 193 608 194 605 194 601 194 597 194 595 193Z" fill="#1f1f1f"/>
<path d="M540 268 540 257 540 242 541 227 541 217 541 207 541 198 541 188 542 177 542 169 542 163 542 159 542 157 550 157 550 159 550 163 550 169 550 177 551 188 551 198 551 207 551 217 551 227 552 242 552 257 552 268Z" fill="#1f1f1f"/>
<path d="M539 256 538 252 537 245 537 239 537 232 538 226 539 221 553 221 554 226 555 232 555 239 555 245 554 252 553 256Z" fill="#1f1f1f"/>
<path d="M552 189 553 186 553 178 552 176 551 178 551 186Z" fill="#212121"/>
<path d="M560 191 562 190 562 184 560 182 559 184 559 190Z" fill="#212121"/>
<path d="M556 189 557 186 557 177 556 174 555 177 555 186Z" fill="#222222"/>
<path d="M558 199 559 196 559 186 558 183 558 186 558 196Z" fill="#222222"/>
<path d="M569 207 570 206 570 202 569 201 568 202 568 206Z" fill="#232323"/>
<path d="M565 209 565 207 565 201 565 199 564 201 564 207Z" fill="#232323"/>
<path d="M584 208 584 205 584 196 584 193 583 196 583 205Z" fill="#252525"/>
<path d="M579 207 580 205 580 198 579 196 578 198 578 205Z" fill="#252525"/>
<path d="M577 196 578 195 578 190 577 188 576 190 576 195Z" fill="#252525"/>
<path d="M585 181 585 178 584 173 585 169 586 166 587 164 588 163 589 161 590 160 590 159 592 157 593 154 595 151 597 149 598 146 600 142 603 139 605 135 607 133 642 157 641 159 639 162 637 165 635 168 634 171 631 174 629 178 626 181 623 185 619 188 616 190 613 191 610 193 607 193 604 193 601 193 597 193 594 193Z" fill="#282828"/>
<path d="M541 268 541 257 541 242 541 227 541 217 541 207 542 198 542 188 542 177 542 169 542 163 543 159 543 157 549 157 549 159 550 163 550 169 550 177 550 188 550 198 551 207 551 217 551 227 551 242 551 257 551 268Z" fill="#282828"/>
<path d="M539 256 539 252 538 245 537 239 538 232 539 226 540 221 552 221 553 226 554 232 555 239 554 245 553 252 553 256Z" fill="#282828"/>
<path d="M575 206 577 203 577 193 575 189 574 193 574 203Z" fill="#282828"/>
<path d="M577 205 578 203 578 199 577 198 576 199 576 203Z" fill="#282828"/>
<path d="M567 204 568 201 568 194 567 192 566 194 566 201Z" fill="#292929"/>
<path d="M550 252 551 251 551 247 550 246 549 247 549 251Z" fill="#2b2b2b"/>
<path d="M552 256 553 255 553 251 552 250 551 251 551 255Z" fill="#2d2d2d"/>
<path d="M558 241 559 238 559 229 558 226 558 229 558 238Z" fill="#2f2f2f"/>
<path d="M586 182 585 179 585 174 586 170 587 167 588 165 589 163 590 162 591 160 591 159 592 157 594 155 596 152 598 149 599 146 601 143 604 139 606 136 608 134 641 156 640 159 638 162 636 165 634 167 633 170 631 174 628 177 625 181 622 184 619 187 615 189 612 191 609 192 606 193 604 193 600 193 596 192 593 192Z" fill="#303030"/>
<path d="M541 268 541 257 541 242 541 227 541 217 542 207 542 198 542 188 542 177 542 169 543 163 543 159 543 157 549 157 549 159 549 163 550 169 550 177 550 188 550 198 550 207 551 217 551 227 551 242 551 257 551 268Z" fill="#303030"/>
<path d="M540 256 539 252 538 245 538 239 539 232 540 226 541 221 551 221 552 226 553 232 554 239 554 245 553 252 552 256Z" fill="#303030"/>
<path d="M563 227 564 224 564 215 563 212 561 215 561 224Z" fill="#333333"/>
<path d="M556 219 557 217 557 212 556 210 555 212 555 217Z" fill="#353535"/>
<path d="M560 235 561 232 561 223 560 220 559 223 559 232Z" fill="#363636"/>
<path d="M587 183 586 180 586 175 586 171 587 168 588 166 589 164 590 162 591 161 592 160 593 158 595 155 597 152 599 150 600 147 602 144 605 140 607 137 609 134 640 156 639 158 637 161 635 164 633 167 632 170 630 173 627 176 624 180 621 183 618 186 615 189 612 190 609 191 606 192 603 192 600 192 596 192 593 191Z" fill="#3b3b3b"/>
<path d="M541 268 541 257 541 242 541 227 542 217 542 207 542 198 543 188 543 177 543 169 543 163 544 159 544 157 548 157 548 159 549 163 549 169 549 177 549 188 550 198 550 207 550 217 551 227 551 242 551 257 551 268Z" fill="#3b3b3b"/>
<path d="M541 256 540 252 539 245 539 239 540 232 541 226 542 221 550 221 551 226 552 232 553 239 553 245 552 252 551 256Z" fill="#3b3b3b"/>
<path d="M554 225 555 224 555 219 554 218 553 219 553 224Z" fill="#3e3e3e"/>
<path d="M560 248 561 246 561 237 560 235 559 237 559 246Z" fill="#3e3e3e"/>
<path d="M571 233 572 230 572 221 571 218 569 221 569 230Z" fill="#494949"/>
<path d="M589 186 587 181 587 176 587 172 588 169 589 167 590 165 592 164 592 162 593 161 595 159 597 156 599 153 600 151 602 148 604 145 606 141 608 138 610 135 639 155 638 157 636 160 634 163 632 166 630 169 628 172 626 176 623 179 620 183 617 185 614 188 611 189 608 190 605 191 602 191 599 191 595 191 591 189Z" fill="#4a4a4a"/>
<path d="M542 268 542 257 542 242 542 227 542 217 543 207 543 198 543 188 543 177 544 169 544 163 544 159 545 157 547 157 548 159 548 163 548 169 549 177 549 188 549 198 549 207 550 217 550 227 550 242 550 257 550 268Z" fill="#4a4a4a"/>
<path d="M542 256 541 252 540 245 540 239 541 232 542 226 543 221 549 221 550 226 551 232 552 239 552 245 551 252 550 256Z" fill="#4a4a4a"/>
<path d="M564 244 565 242 565 235 564 232 563 235 563 242Z" fill="#4a4a4a"/>
<path d="M556 253 557 250 557 241 556 238 555 241 555 250Z" fill="#4b4b4b"/>
<path d="M548 253 549 250 549 239 548 236 547 239 547 250Z" fill="#4b4b4b"/>
<path d="M548 218 549 216 549 211 548 209 547 211 547 216Z" fill="#545454"/>
<path d="M566 228 567 226 567 219 566 217 565 219 565 226Z" fill="#555555"/>
<path d="M563 248 564 244 564 234 563 231 562 234 562 244Z" fill="#575757"/>
<path d="M558 224 559 222 559 216 558 215 557 216 557 222Z" fill="#585858"/>
<path d="M556 237 557 234 557 225 556 221 555 225 555 234Z" fill="#595959"/>
<path d="M554 254 555 251 555 240 554 237 553 240 553 251Z" fill="#5c5c5c"/>
<path d="M550 245 551 243 551 238 550 236 549 238 549 243Z" fill="#5e5e5e"/>
<path d="M590 187 589 183 588 178 588 174 589 171 590 169 592 167 593 165 594 163 595 162 596 160 598 157 600 154 602 152 603 149 605 146 608 142 610 139 611 136 638 154 636 156 634 159 632 162 631 165 629 168 627 171 624 175 622 178 619 182 616 184 613 186 610 188 607 189 604 190 601 190 598 190 593 189 590 187Z" fill="#5e5e5e"/>
<path d="M542 268 542 257 542 242 542 227 543 217 543 207 544 198 544 188 544 177 545 169 546 163 546 159 546 157 546 159 546 163 547 169 548 177 548 188 548 198 549 207 549 217 550 227 550 242 550 257 550 268Z" fill="#5e5e5e"/>
<path d="M543 256 542 252 542 245 541 239 542 232 544 226 546 221 548 226 550 232 551 239 550 245 550 252 549 256Z" fill="#5e5e5e"/>
<path d="M550 235 551 233 551 226 550 224 549 226 549 233Z" fill="#646464"/>
<path d="M552 232 553 229 553 220 552 217 552 220 552 229Z" fill="#646464"/>
<path d="M548 233 549 230 549 222 548 219 547 222 547 230Z" fill="#666666"/>
<path d="M554 234 555 233 555 229 554 227 554 229 554 233Z" fill="#666666"/>
<path d="M590 187 591 186 589 179 590 175 590 172 592 170 593 168 594 166 595 165 596 163 598 161 600 158 601 155 603 152 605 150 607 146 609 143 611 140 613 137 636 153 635 155 633 159 631 162 629 164 628 167 626 170 623 174 621 177 618 181 615 183 612 185 609 187 606 188 603 189 600 189 597 189 591 186 590 187Z" fill="#737373"/>
<path d="M543 268 543 257 543 242 543 227 543 217 544 207 545 198 546 188 546 177 546 169 546 163 546 159 546 157 546 159 546 163 546 169 546 177 546 188 547 198 548 207 549 217 549 227 549 242 549 257 549 268Z" fill="#737373"/>
<path d="M546 256 544 252 543 245 543 239 545 232 546 226 546 221 546 226 547 232 549 239 549 245 548 252 546 256Z" fill="#737373"/>
<path d="M590 187 591 186 591 182 591 176 591 173 593 171 594 169 595 167 596 166 597 164 599 162 601 159 603 156 604 153 606 150 608 147 610 144 613 140 614 138 635 152 634 155 632 158 630 161 628 163 626 166 624 170 622 173 619 176 617 180 614 182 611 184 608 186 605 187 603 188 600 188 595 187 591 186 590 187Z" fill="#878787"/>
<path d="M543 268 543 257 543 242 543 227 544 217 544 207 546 198 546 188 546 177 546 169 546 163 546 159 546 157 546 159 546 163 546 169 546 177 546 188 546 198 548 207 548 217 549 227 549 242 549 257 549 268Z" fill="#878787"/>
<path d="M590 187 591 186 594 185 592 178 593 175 594 172 595 170 596 168 597 167 598 165 600 163 602 160 604 157 606 154 607 151 609 148 612 145 614 141 615 139 634 151 632 154 630 157 628 160 627 163 625 166 623 169 621 172 618 176 615 179 613 181 610 183 607 185 605 186 602 186 599 186 594 185 591 186 590 187Z" fill="#9c9c9c"/>
<path d="M543 268 543 257 543 242 544 227 544 217 546 207 546 198 546 188 546 177 546 169 546 163 546 159 546 157 546 159 546 163 546 169 546 177 546 188 546 198 546 207 548 217 548 227 549 242 549 257 549 268Z" fill="#9c9c9c"/>
<path d="M590 187 591 186 594 185 594 181 594 177 595 174 596 172 597 170 598 168 600 166 601 164 604 161 606 158 607 155 609 152 611 149 613 146 615 142 617 140 633 151 631 153 629 156 627 159 625 162 624 165 622 168 619 171 617 175 614 178 612 180 609 182 606 184 604 185 601 185 597 184 594 185 591 186 590 187Z" fill="#b0b0b0"/>
<path d="M544 268 544 257 544 242 544 227 545 217 546 207 546 198 546 188 546 177 546 169 546 163 546 159 546 157 546 159 546 163 546 169 546 177 546 188 546 198 546 207 547 217 548 227 548 242 548 257 548 268Z" fill="#b0b0b0"/>
<path d="M590 187 591 186 594 185 596 183 596 179 596 175 597 173 598 171 600 169 601 167 603 165 605 162 607 159 609 156 610 153 612 150 615 147 617 143 618 141 631 150 630 152 628 155 625 158 624 161 622 164 620 167 618 170 616 174 613 177 610 179 608 181 605 183 602 183 599 183 596 183 594 185 591 186 590 187Z" fill="#c4c4c4"/>
<path d="M544 268 544 257 544 242 545 227 546 217 546 207 546 198 546 188 546 177 546 169 546 163 546 159 546 157 546 159 546 163 546 169 546 177 546 188 546 198 546 207 546 217 547 227 548 242 548 257 548 268Z" fill="#c4c4c4"/>
<path d="M590 187 591 186 594 185 596 183 598 181 599 179 599 175 600 172 601 171 603 169 605 166 607 163 609 160 611 157 612 154 614 151 616 148 619 144 620 142 629 148 628 151 626 154 624 157 622 160 620 163 618 166 616 169 614 173 611 176 609 178 607 180 604 181 600 181 598 181 596 183 594 185 591 186 590 187Z" fill="#d9d9d9"/>
<path d="M545 268 545 257 545 242 546 227 546 217 546 207 546 198 546 188 546 177 546 169 546 163 546 159 546 157 546 159 546 163 546 169 546 177 546 188 546 198 546 207 546 217 546 227 547 242 547 257 547 268Z" fill="#d9d9d9"/>
<path d="M590 187 591 186 594 185 596 183 598 181 600 180 602 178 602 175 604 173 605 171 607 168 609 165 612 162 613 159 615 156 617 153 619 149 621 146 623 144 627 147 625 149 623 152 621 155 619 158 618 161 616 164 614 168 612 171 609 174 607 176 604 177 602 178 600 180 598 181 596 183 594 185 591 186 590 187Z" fill="#ebebeb"/>
<path d="M545 268 546 257 546 242 546 227 546 217 546 207 546 198 546 188 546 177 546 169 546 163 546 159 546 157 546 159 546 163 546 169 546 177 546 188 546 198 546 207 546 217 546 227 546 242 546 257 547 268Z" fill="#ebebeb"/>
<path d="M612 159 613 158 613 155 612 154 611 155 611 158Z" fill="#f8f8f8"/>
<path d="M614 160 616 159 616 157 614 156 613 157 613 159Z" fill="#fbfbfb"/>
<path d="M623 164 624 163 624 161 623 160 621 161 621 163Z" fill="#fbfbfb"/>
<path d="M618 148 620 147 620 145 618 144 615 145 615 147Z" fill="#fdfdfd"/>
<path d="M626 139 628 137 628 135 626 133 624 135 624 137Z" fill="#fefefe"/>
<path d="M618 152 620 151 620 148 618 147 615 148 615 151Z" fill="#fefefe"/>
<path d="M620 157 622 156 622 153 620 152 619 153 619 156Z" fill="#ffffff"/>
<path d="M617 170 620 168 620 165 617 164 615 165 615 168Z" fill="#ffffff"/>
</g></g>
<path d="M545.4 28.5H779.8V262.3H545.4" fill="none" stroke="#2a2a2a" stroke-width="1.2"/>
<path d="M543.0 244.8H546.0 M540.0 215.5H546.0 M543.0 186.3H546.0 M540.0 157.1H546.0 M543.0 127.9H546.0 M540.0 98.6H546.0 M543.0 69.4H546.0 M540.0 40.2H546.0 M546.0 262.3V268.3 M575.2 262.3V265.3 M604.5 262.3V268.3 M633.7 262.3V265.3 M662.9 262.3V268.3 M692.1 262.3V265.3 M721.4 262.3V268.3 M750.6 262.3V265.3 M779.8 262.3V268.3" stroke="#2a2a2a" stroke-width="1.2" fill="none"/>
<text x="697.9" y="198.1" font-size="18">U<tspan font-size="13" dy="-3.6">-</tspan><tspan dy="3.6">(H</tspan><tspan font-size="13" dy="3.8">2</tspan><tspan dy="-3.8">O)</tspan><tspan font-size="13" dy="3.8">4</tspan></text>
<rect x="54.6" y="274.2" width="233.8" height="233.8" fill="none" stroke="#2a2a2a" stroke-width="1.2"/>
<clipPath id="cp01U"><rect x="54.300000000000004" y="274.8" width="233.5" height="116.3"/></clipPath>
<g clip-path="url(#cp01U)"><g filter="url(#jet)">
<rect x="44.6" y="264.8" width="253.8" height="136.3" fill="#000"/>
<path d="M140 357 141 355 141 349 140 347 139 349 139 355Z" fill="#040404"/>
<path d="M132 340 133 338 133 331 132 328 131 331 131 338Z" fill="#040404"/>
<path d="M124 335 125 332 125 321 124 318 123 321 123 332Z" fill="#040404"/>
<path d="M115 344 115 341 115 332 115 329 114 332 114 341Z" fill="#040404"/>
<path d="M88 345 89 343 89 338 88 336 87 338 87 343Z" fill="#040404"/>
<path d="M119 360 120 359 120 356 119 355 118 356 118 359Z" fill="#040404"/>
<path d="M97 363 98 360 98 350 97 347 96 350 96 360Z" fill="#040404"/>
<path d="M88 390 90 387 90 378 88 375 87 378 87 387Z" fill="#040404"/>
<path d="M117 277 118 276 118 272 117 271 116 272 116 276Z" fill="#040404"/>
<path d="M115 373 116 371 116 368 115 366 114 368 114 371Z" fill="#040404"/>
<path d="M126 360 127 359 127 353 126 351 125 353 125 359Z" fill="#040404"/>
<path d="M149 323 150 320 150 311 149 308 148 311 148 320Z" fill="#040404"/>
<path d="M149 305 150 302 150 294 149 291 148 294 148 302Z" fill="#040404"/>
<path d="M166 325 167 323 167 317 166 315 165 317 165 323Z" fill="#040404"/>
<path d="M92 367 93 364 93 356 92 353 91 356 91 364Z" fill="#040404"/>
<path d="M101 312 102 311 102 306 101 305 101 306 101 311Z" fill="#040404"/>
<path d="M140 317 141 316 141 312 140 311 139 312 139 316Z" fill="#040404"/>
<path d="M134 311 135 309 135 303 134 301 133 303 133 309Z" fill="#040404"/>
<path d="M150 308 151 306 151 300 150 298 149 300 149 306Z" fill="#040404"/>
<path d="M140 308 141 305 141 299 140 297 139 299 139 305Z" fill="#040404"/>
<path d="M95 321 96 319 96 310 95 307 94 310 94 319Z" fill="#040404"/>
<path d="M90 317 91 315 91 308 90 305 89 308 89 315Z" fill="#040404"/>
<path d="M99 299 100 297 100 291 99 289 98 291 98 297Z" fill="#040404"/>
<path d="M172 278 173 276 173 271 172 269 172 271 172 276Z" fill="#040404"/>
<path d="M122 354 123 352 123 348 122 347 121 348 121 352Z" fill="#040404"/>
<path d="M95 280 96 279 96 274 95 273 94 274 94 279Z" fill="#040404"/>
<path d="M150 296 151 294 151 290 150 289 150 290 150 294Z" fill="#040404"/>
<path d="M136 325 137 322 137 314 136 311 135 314 135 322Z" fill="#040404"/>
<path d="M138 348 139 347 139 344 138 343 137 344 137 347Z" fill="#040404"/>
<path d="M157 324 158 322 158 315 157 313 156 315 156 322Z" fill="#040404"/>
<path d="M117 373 118 370 118 360 117 357 116 360 116 370Z" fill="#040404"/>
<path d="M119 352 120 351 120 348 119 347 118 348 118 351Z" fill="#040404"/>
<path d="M95 338 95 337 95 334 95 333 94 334 94 337Z" fill="#040404"/>
<path d="M161 319 162 316 162 306 161 303 160 306 160 316Z" fill="#040404"/>
<path d="M87 309 88 306 88 296 87 292 86 296 86 306Z" fill="#040404"/>
<path d="M106 361 107 358 107 350 106 347 105 350 105 358Z" fill="#040404"/>
<path d="M113 300 113 297 113 287 113 284 112 287 112 297Z" fill="#040404"/>
<path d="M126 349 127 346 127 337 126 335 125 337 125 346Z" fill="#050505"/>
<path d="M146 317 147 314 147 304 146 301 145 304 145 314Z" fill="#050505"/>
<path d="M110 292 111 291 111 286 110 284 109 286 109 291Z" fill="#050505"/>
<path d="M140 336 141 334 141 329 140 327 139 329 139 334Z" fill="#050505"/>
<path d="M115 327 116 326 116 323 115 322 114 323 114 326Z" fill="#050505"/>
<path d="M126 314 127 312 127 306 126 304 125 306 125 312Z" fill="#050505"/>
<path d="M92 339 93 338 93 333 92 332 91 333 91 338Z" fill="#050505"/>
<path d="M95 331 95 329 95 324 95 322 94 324 94 329Z" fill="#050505"/>
<path d="M124 348 125 346 125 340 124 338 123 340 123 346Z" fill="#050505"/>
<path d="M168 290 169 289 169 283 168 282 167 283 167 289Z" fill="#050505"/>
<path d="M179 285 180 281 180 271 179 267 177 271 177 281Z" fill="#050505"/>
<path d="M138 321 139 319 139 313 138 311 137 313 137 319Z" fill="#050505"/>
<path d="M136 309 137 306 137 296 136 293 135 296 135 306Z" fill="#050505"/>
<path d="M175 287 176 285 176 278 175 276 174 278 174 285Z" fill="#050505"/>
<path d="M132 357 133 354 133 344 132 341 131 344 131 354Z" fill="#050505"/>
<path d="M104 369 105 365 105 355 104 352 102 355 102 365Z" fill="#050505"/>
<path d="M128 338 129 337 129 331 128 330 127 331 127 337Z" fill="#050505"/>
<path d="M142 305 143 304 143 300 142 299 141 300 141 304Z" fill="#050505"/>
<path d="M101 386 102 385 102 381 101 380 100 381 100 385Z" fill="#050505"/>
<path d="M113 283 114 281 114 277 113 276 111 277 111 281Z" fill="#050505"/>
<path d="M161 294 162 292 162 287 161 285 160 287 160 292Z" fill="#050505"/>
<path d="M99 309 100 308 100 304 99 302 99 304 99 308Z" fill="#050505"/>
<path d="M104 321 105 319 105 313 104 311 103 313 103 319Z" fill="#050505"/>
<path d="M99 288 100 285 100 276 99 272 98 276 98 285Z" fill="#050505"/>
<path d="M144 332 145 330 145 323 144 321 143 323 143 330Z" fill="#050505"/>
<path d="M153 297 154 293 154 283 153 280 152 283 152 293Z" fill="#050505"/>
<path d="M128 360 129 358 129 352 128 350 127 352 127 358Z" fill="#050505"/>
<path d="M164 309 164 306 164 296 164 292 163 296 163 306Z" fill="#050505"/>
<path d="M108 385 109 384 109 380 108 379 107 380 107 384Z" fill="#050505"/>
<path d="M132 291 133 288 133 278 132 275 131 278 131 288Z" fill="#050505"/>
<path d="M159 302 160 300 160 293 159 290 158 293 158 300Z" fill="#050505"/>
<path d="M138 310 139 309 139 306 138 304 137 306 137 309Z" fill="#050505"/>
<path d="M119 326 120 323 120 312 119 309 119 312 119 323Z" fill="#050505"/>
<path d="M117 354 118 351 118 342 117 339 116 342 116 351Z" fill="#050505"/>
<path d="M119 373 120 371 120 364 119 362 119 364 119 371Z" fill="#050505"/>
<path d="M110 299 111 298 111 295 110 293 110 295 110 298Z" fill="#050505"/>
<path d="M138 285 139 283 139 277 138 274 137 277 137 283Z" fill="#050505"/>
<path d="M104 376 104 375 104 372 104 370 103 372 103 375Z" fill="#050505"/>
<path d="M97 334 98 332 98 325 97 323 96 325 96 332Z" fill="#050505"/>
<path d="M151 328 150 325 150 320 148 316 147 314 148 309 152 303 158 298 164 294 169 291 173 288 178 285 182 282 185 279 189 276 192 273 196 270 200 267 204 263 208 261 213 260 216 259 220 257 224 255 227 254 262 283 261 286 259 291 257 296 256 300 256 305 255 309 252 314 249 318 245 323 241 328 237 333 232 338 227 343 222 347 216 351 210 355 205 359 201 361 200 361 197 362 191 364 184 365 179 364 175 363Z" fill="#050505"/>
<path d="M147 323 147 319 146 315 144 312 142 310 144 305 148 298 154 293 160 289 165 285 169 282 174 280 177 277 181 275 184 272 188 269 191 266 195 262 199 259 204 256 208 255 211 254 215 252 218 250 221 248 253 276 251 278 249 282 246 285 244 289 242 292 240 296 237 300 233 304 229 308 226 312 222 317 217 321 212 325 207 329 202 333 197 338 191 341 187 344 185 346 182 348 179 350 175 352 171 353 168 353Z" fill="#050505"/>
<path d="M94 377 98 375 104 372 109 370 113 368 117 366 120 364 124 363 129 361 133 360 138 358 143 356 148 354 153 352 158 351 162 350 165 350 167 351 170 351 171 353 173 354 175 355 183 371 184 374 184 378 183 382 182 386 181 390 179 395 176 399 174 402 172 405 169 407 165 410 160 412 156 414 151 416 146 418 141 419 137 420 133 421 127 422 121 423 117 424Z" fill="#050505"/>
<path d="M89 366 93 364 98 361 104 359 108 356 112 355 115 353 119 352 123 351 128 350 132 348 138 346 144 344 150 342 154 341 158 341 161 341 163 341 165 342 167 344 169 346 171 347 182 368 181 370 181 372 180 374 178 376 176 379 174 381 171 383 167 386 164 388 161 390 156 393 152 395 147 397 143 399 138 401 134 403 130 404 126 405 120 407 115 409 111 411Z" fill="#050505"/>
<path d="M49 397 49 390 49 379 48 368 48 356 47 344 47 333 46 324 46 316 46 309 44 304 42 299 40 295 39 291 38 287 37 283 37 278 37 272 37 268 72 268 72 272 72 278 72 283 71 287 70 291 69 295 67 299 65 304 64 309 63 316 63 324 63 333 62 344 61 356 61 368 60 379 60 390 60 397Z" fill="#050505"/>
<path d="M140 346 141 345 141 339 140 338 139 339 139 345Z" fill="#050505"/>
<path d="M130 348 131 346 131 340 130 338 129 340 129 346Z" fill="#050505"/>
<path d="M149 353 150 351 150 344 149 342 147 344 147 351Z" fill="#050505"/>
<path d="M126 302 127 299 127 291 126 288 125 291 125 299Z" fill="#050505"/>
<path d="M144 297 145 294 145 284 144 280 143 284 143 294Z" fill="#050505"/>
<path d="M177 282 178 279 178 270 177 267 176 270 176 279Z" fill="#050505"/>
<path d="M117 315 118 312 118 303 117 300 116 303 116 312Z" fill="#050505"/>
<path d="M113 334 114 331 114 322 113 318 112 322 112 331Z" fill="#050505"/>
<path d="M108 304 109 301 109 292 108 288 107 292 107 301Z" fill="#050505"/>
<path d="M92 329 93 327 93 322 92 320 91 322 91 327Z" fill="#050505"/>
<path d="M113 316 114 313 114 303 113 300 111 303 111 313Z" fill="#050505"/>
<path d="M110 343 111 341 111 334 110 331 110 334 110 341Z" fill="#050505"/>
<path d="M87 364 88 363 88 358 87 357 85 358 85 363Z" fill="#050505"/>
<path d="M115 358 116 355 116 348 115 346 114 348 114 355Z" fill="#050505"/>
<path d="M101 366 102 363 102 352 101 349 101 352 101 363Z" fill="#050505"/>
<path d="M124 295 124 292 124 282 124 279 123 282 123 292Z" fill="#050505"/>
<path d="M130 319 131 317 131 313 130 311 129 313 129 317Z" fill="#050505"/>
<path d="M144 353 145 352 145 347 144 346 143 347 143 352Z" fill="#060606"/>
<path d="M95 376 96 373 96 364 95 362 94 364 94 373Z" fill="#060606"/>
<path d="M146 285 147 284 147 278 146 277 145 278 145 284Z" fill="#060606"/>
<path d="M138 340 139 337 139 327 138 324 137 327 137 337Z" fill="#060606"/>
<path d="M101 347 102 345 102 341 101 339 100 341 100 345Z" fill="#060606"/>
<path d="M136 283 137 280 137 271 136 268 135 271 135 280Z" fill="#060606"/>
<path d="M110 283 112 279 112 270 110 267 109 270 109 279Z" fill="#060606"/>
<path d="M157 294 158 293 158 290 157 289 157 290 157 293Z" fill="#060606"/>
<path d="M128 327 129 324 129 317 128 315 127 317 127 324Z" fill="#060606"/>
<path d="M128 306 129 304 129 297 128 294 127 297 127 304Z" fill="#060606"/>
<path d="M88 360 89 357 89 349 88 346 87 349 87 357Z" fill="#060606"/>
<path d="M150 344 152 342 152 334 150 331 149 334 149 342Z" fill="#060606"/>
<path d="M108 375 109 374 109 370 108 368 107 370 107 374Z" fill="#060606"/>
<path d="M132 326 133 322 133 313 132 310 131 313 131 322Z" fill="#060606"/>
<path d="M90 367 91 364 91 356 90 353 89 356 89 364Z" fill="#060606"/>
<path d="M159 278 160 276 160 271 159 269 158 271 158 276Z" fill="#060606"/>
<path d="M115 293 116 290 116 280 115 277 114 280 114 290Z" fill="#060606"/>
<path d="M157 310 158 307 158 299 157 296 156 299 156 307Z" fill="#060606"/>
<path d="M164 327 165 324 165 314 164 311 163 314 163 324Z" fill="#060606"/>
<path d="M128 282 129 281 129 278 128 277 127 278 127 281Z" fill="#060606"/>
<path d="M92 297 93 296 93 291 92 290 91 291 91 296Z" fill="#060606"/>
<path d="M92 317 93 316 93 313 92 312 91 313 91 316Z" fill="#060606"/>
<path d="M144 310 145 308 145 303 144 301 143 303 143 308Z" fill="#060606"/>
<path d="M101 304 102 303 102 300 101 299 101 300 101 303Z" fill="#060606"/>
<path d="M90 295 91 294 91 291 90 290 89 291 89 294Z" fill="#060606"/>
<path d="M110 379 111 376 111 366 110 363 109 366 109 376Z" fill="#060606"/>
<path d="M99 333 100 331 100 325 99 324 99 325 99 331Z" fill="#060606"/>
<path d="M172 288 173 287 173 282 172 280 171 282 171 287Z" fill="#060606"/>
<path d="M122 345 123 342 123 331 122 328 121 331 121 342Z" fill="#060606"/>
<path d="M161 302 162 301 162 296 161 294 160 296 160 301Z" fill="#060606"/>
<path d="M117 338 118 336 118 330 117 328 116 330 116 336Z" fill="#060606"/>
<path d="M87 376 88 374 88 368 87 365 86 368 86 374Z" fill="#060606"/>
<path d="M132 308 133 305 133 295 132 291 131 295 131 305Z" fill="#060606"/>
<path d="M166 304 167 302 167 294 166 292 165 294 165 302Z" fill="#060606"/>
<path d="M142 284 143 281 143 272 142 269 141 272 141 281Z" fill="#060606"/>
<path d="M101 285 103 284 103 281 101 280 100 281 100 284Z" fill="#060606"/>
<path d="M97 288 98 286 98 279 97 276 96 279 96 286Z" fill="#060606"/>
<path d="M155 330 156 328 156 320 155 317 154 320 154 328Z" fill="#060606"/>
<path d="M97 388 98 386 98 379 97 377 96 379 96 386Z" fill="#060606"/>
<path d="M115 365 116 364 116 361 115 360 114 361 114 364Z" fill="#060606"/>
<path d="M130 358 131 357 131 351 130 349 129 351 129 357Z" fill="#060606"/>
<path d="M136 343 137 340 137 330 136 327 135 330 135 340Z" fill="#070707"/>
<path d="M87 291 88 289 88 283 87 281 85 283 85 289Z" fill="#070707"/>
<path d="M99 371 100 368 100 360 99 358 98 360 98 368Z" fill="#070707"/>
<path d="M150 330 151 329 151 323 150 321 150 323 150 329Z" fill="#070707"/>
<path d="M106 374 107 371 107 364 106 361 105 364 105 371Z" fill="#070707"/>
<path d="M106 344 107 341 107 333 106 331 105 333 105 341Z" fill="#070707"/>
<path d="M119 307 120 304 120 296 119 293 118 296 118 304Z" fill="#070707"/>
<path d="M92 352 93 350 93 343 92 341 91 343 91 350Z" fill="#070707"/>
<path d="M104 349 105 345 105 335 104 332 103 335 103 345Z" fill="#070707"/>
<path d="M80 286 81 285 81 282 80 281 79 282 79 285Z" fill="#070707"/>
<path d="M84 292 85 290 85 285 84 283 83 285 83 290Z" fill="#070707"/>
<path d="M88 374 90 373 90 368 88 367 87 368 87 373Z" fill="#070707"/>
<path d="M82 385 83 382 83 376 82 373 81 376 81 382Z" fill="#070707"/>
<path d="M87 354 87 353 87 348 87 347 86 348 86 353Z" fill="#070707"/>
<path d="M87 388 88 387 88 381 87 379 85 381 85 387Z" fill="#080808"/>
<path d="M77 351 78 349 78 340 77 337 77 340 77 349Z" fill="#090909"/>
<path d="M80 366 81 363 81 355 80 353 79 355 79 363Z" fill="#0a0a0a"/>
<path d="M152 330 152 327 152 322 150 319 149 316 150 312 155 306 160 301 166 297 171 293 175 290 180 287 184 284 187 282 191 279 195 275 198 272 202 269 206 265 211 263 215 262 219 261 222 259 227 257 230 255 260 281 259 284 257 289 255 294 254 299 253 303 252 307 250 311 247 316 243 321 239 325 235 330 230 335 225 340 220 344 214 349 208 353 203 356 199 358 197 359 194 360 189 362 183 363 177 362 174 361Z" fill="#0a0a0a"/>
<path d="M150 328 150 325 151 321 150 318 149 316 150 311 154 306 160 300 166 296 171 293 175 290 180 287 184 284 187 281 191 278 194 275 198 272 201 268 206 265 210 262 213 260 217 259 220 257 223 254 226 252 251 274 249 276 247 280 244 284 242 287 240 290 237 294 234 297 231 302 227 306 223 310 219 314 215 319 210 323 205 327 200 331 195 335 189 339 185 342 183 344 180 346 177 348 173 350 170 351 167 352Z" fill="#0a0a0a"/>
<path d="M95 379 99 377 104 374 110 372 114 369 118 368 121 366 125 365 130 363 134 361 139 360 144 357 149 355 154 354 159 352 162 352 165 352 168 352 170 353 172 354 174 355 175 356 183 370 183 372 183 376 182 380 181 384 180 388 178 392 175 396 173 399 171 402 168 404 164 407 159 409 154 412 149 413 144 415 140 416 135 417 131 418 126 419 120 421 116 422Z" fill="#0a0a0a"/>
<path d="M92 373 96 371 101 368 107 365 111 363 115 362 118 360 122 359 127 357 131 356 136 354 141 352 146 350 152 348 157 347 160 346 163 346 166 346 168 347 169 348 171 350 172 351 181 367 181 368 180 370 179 372 177 374 175 376 173 378 169 380 166 383 163 385 159 387 155 389 150 392 145 394 141 396 136 398 132 400 128 401 124 402 119 404 113 407 109 408Z" fill="#0a0a0a"/>
<path d="M50 397 50 390 49 379 49 368 49 356 48 344 47 333 47 324 47 316 47 309 45 304 43 299 42 295 40 291 39 287 38 283 38 278 38 272 38 268 71 268 71 272 71 278 71 283 70 287 69 291 68 295 66 299 64 304 63 309 62 316 62 324 62 333 61 344 61 356 60 368 60 379 59 390 59 397Z" fill="#0a0a0a"/>
<path d="M82 346 83 343 83 336 82 333 81 336 81 343Z" fill="#0a0a0a"/>
<path d="M84 387 85 385 85 379 84 377 83 379 83 385Z" fill="#0b0b0b"/>
<path d="M80 279 81 277 81 273 80 272 79 273 79 277Z" fill="#0b0b0b"/>
<path d="M82 317 83 315 83 308 82 306 81 308 81 315Z" fill="#0b0b0b"/>
<path d="M72 341 73 340 73 337 72 336 71 337 71 340Z" fill="#0b0b0b"/>
<path d="M84 336 85 333 85 324 84 321 83 324 83 333Z" fill="#0b0b0b"/>
<path d="M84 308 85 307 85 304 84 303 83 304 83 307Z" fill="#0b0b0b"/>
<path d="M76 362 76 359 76 349 76 345 75 349 75 359Z" fill="#0b0b0b"/>
<path d="M80 333 81 330 81 321 80 318 79 321 79 330Z" fill="#0b0b0b"/>
<path d="M76 307 77 305 77 300 76 298 74 300 74 305Z" fill="#0b0b0b"/>
<path d="M84 365 85 363 85 358 84 356 83 358 83 363Z" fill="#0b0b0b"/>
<path d="M84 281 85 280 85 275 84 274 83 275 83 280Z" fill="#0c0c0c"/>
<path d="M77 390 78 388 78 381 77 379 77 381 77 388Z" fill="#0c0c0c"/>
<path d="M82 370 83 369 83 364 82 363 81 364 81 369Z" fill="#0c0c0c"/>
<path d="M72 285 73 282 73 273 72 270 71 273 71 282Z" fill="#0c0c0c"/>
<path d="M82 360 83 358 83 350 82 347 81 350 81 358Z" fill="#0c0c0c"/>
<path d="M82 282 83 278 83 268 82 265 81 268 81 278Z" fill="#0d0d0d"/>
<path d="M77 303 79 302 79 299 77 298 76 299 76 302Z" fill="#0e0e0e"/>
<path d="M76 372 77 371 77 366 76 364 75 366 75 371Z" fill="#0e0e0e"/>
<path d="M82 304 83 301 83 293 82 290 81 293 81 301Z" fill="#0e0e0e"/>
<path d="M77 334 79 331 79 323 77 320 76 323 76 331Z" fill="#0f0f0f"/>
<path d="M66 315 66 313 66 305 66 303 65 305 65 313Z" fill="#0f0f0f"/>
<path d="M67 380 69 378 69 374 67 372 66 374 66 378Z" fill="#0f0f0f"/>
<path d="M70 379 71 376 71 367 70 364 69 367 69 376Z" fill="#0f0f0f"/>
<path d="M80 388 81 386 81 380 80 378 79 380 79 386Z" fill="#0f0f0f"/>
<path d="M63 348 64 345 64 339 63 336 62 339 62 345Z" fill="#0f0f0f"/>
<path d="M76 343 77 342 77 337 76 336 75 337 75 342Z" fill="#101010"/>
<path d="M76 280 77 279 77 275 76 273 75 275 75 279Z" fill="#101010"/>
<path d="M72 360 73 359 73 355 72 354 71 355 71 359Z" fill="#101010"/>
<path d="M59 387 60 383 60 374 59 370 58 374 58 383Z" fill="#101010"/>
<path d="M80 352 81 349 81 339 80 335 79 339 79 349Z" fill="#111111"/>
<path d="M153 332 153 328 153 324 152 320 151 318 152 314 156 308 162 303 167 299 172 295 177 292 182 289 186 286 189 283 193 280 196 277 200 274 204 270 208 267 212 264 216 263 220 262 224 260 228 258 231 257 258 280 257 283 255 287 254 292 253 297 252 302 251 306 248 310 245 314 241 319 237 324 233 328 228 333 223 338 218 342 213 347 207 351 201 354 198 356 196 357 193 358 188 360 181 361 176 360 172 359Z" fill="#111111"/>
<path d="M153 332 154 330 155 326 155 324 155 321 156 318 160 313 166 308 171 304 176 300 181 297 185 294 189 290 193 287 197 284 200 281 204 277 208 274 211 270 215 267 219 265 222 264 225 261 228 258 231 256 249 273 248 275 245 278 242 282 240 285 238 288 235 292 232 295 229 300 225 304 221 308 217 312 213 316 208 320 203 324 198 328 193 332 187 336 183 339 180 342 178 344 175 346 171 348 168 349 166 350Z" fill="#111111"/>
<path d="M96 380 100 378 105 376 110 373 115 371 118 369 122 368 126 366 130 364 135 363 139 361 144 359 150 357 155 355 159 354 163 353 166 353 168 353 171 354 173 355 175 356 176 357 182 369 182 371 182 375 182 379 181 382 180 386 178 390 175 394 172 397 170 400 167 402 163 405 158 407 153 409 148 411 143 413 139 414 135 415 130 416 125 417 119 419 115 420Z" fill="#111111"/>
<path d="M95 379 99 377 105 375 110 372 114 370 118 368 122 367 126 365 130 364 134 362 139 360 144 358 149 356 154 354 159 353 162 352 165 351 168 351 170 352 171 352 173 353 174 354 181 366 180 367 179 368 178 370 176 372 174 374 172 376 168 378 165 380 161 382 157 384 153 386 148 389 144 391 139 393 135 395 131 397 127 398 123 399 118 402 112 404 108 406Z" fill="#111111"/>
<path d="M51 397 50 390 50 379 50 368 49 356 49 344 48 333 48 324 48 316 47 309 46 304 44 299 43 295 41 291 40 287 40 283 39 278 40 272 40 268 70 268 70 272 70 278 70 283 69 287 68 291 67 295 65 299 63 304 62 309 61 316 61 324 61 333 61 344 60 356 59 368 59 379 59 390 59 397Z" fill="#111111"/>
<path d="M74 298 75 295 75 284 74 281 73 284 73 295Z" fill="#111111"/>
<path d="M72 317 73 315 73 311 72 309 71 311 71 315Z" fill="#121212"/>
<path d="M67 318 68 316 68 312 67 310 66 312 66 316Z" fill="#121212"/>
<path d="M57 370 58 367 58 360 57 358 56 360 56 367Z" fill="#121212"/>
<path d="M59 362 60 360 60 354 59 352 58 354 58 360Z" fill="#121212"/>
<path d="M77 364 79 362 79 354 77 352 76 354 76 362Z" fill="#131313"/>
<path d="M70 362 71 360 71 352 70 350 69 352 69 360Z" fill="#131313"/>
<path d="M74 385 75 383 75 379 74 377 73 379 73 383Z" fill="#131313"/>
<path d="M76 385 77 383 77 375 76 373 75 375 75 383Z" fill="#141414"/>
<path d="M59 339 60 337 60 330 59 327 58 330 58 337Z" fill="#141414"/>
<path d="M61 283 62 282 62 279 61 278 60 279 60 282Z" fill="#141414"/>
<path d="M72 353 73 351 73 345 72 343 71 345 71 351Z" fill="#141414"/>
<path d="M61 342 62 339 62 331 61 328 60 331 60 339Z" fill="#141414"/>
<path d="M70 307 71 304 71 295 70 293 69 295 69 304Z" fill="#141414"/>
<path d="M70 348 71 347 71 341 70 340 69 341 69 347Z" fill="#141414"/>
<path d="M67 345 69 343 69 336 67 334 66 336 66 343Z" fill="#151515"/>
<path d="M74 354 75 352 75 345 74 343 73 345 73 352Z" fill="#151515"/>
<path d="M76 288 77 287 77 282 76 280 75 282 75 287Z" fill="#151515"/>
<path d="M66 328 66 326 66 318 66 316 65 318 65 326Z" fill="#151515"/>
<path d="M125 362 126 361 126 358 125 357 124 358 124 361Z" fill="#151515"/>
<path d="M70 389 71 388 71 382 70 381 69 382 69 388Z" fill="#151515"/>
<path d="M121 368 122 367 122 364 121 363 120 364 120 367Z" fill="#161616"/>
<path d="M118 365 119 361 119 351 118 348 117 351 117 361Z" fill="#161616"/>
<path d="M70 337 71 334 71 327 70 324 69 327 69 334Z" fill="#161616"/>
<path d="M57 304 58 303 58 300 57 298 56 300 56 303Z" fill="#161616"/>
<path d="M66 374 67 371 67 363 66 360 65 363 65 371Z" fill="#171717"/>
<path d="M154 333 154 329 154 325 153 321 152 319 153 315 157 309 163 304 169 300 174 297 178 294 183 290 187 287 190 285 194 281 198 278 201 275 205 271 209 268 213 266 218 264 221 263 225 261 230 259 233 258 256 279 256 282 254 286 253 291 251 296 251 300 249 305 247 309 244 313 240 318 236 322 232 327 227 332 222 337 217 341 211 345 206 349 200 353 196 355 194 356 192 357 187 359 181 360 175 359 172 358Z" fill="#171717"/>
<path d="M157 337 158 335 159 332 160 329 161 327 163 324 166 320 171 315 177 311 182 308 187 304 191 300 196 297 199 294 203 290 207 287 210 283 214 279 218 276 221 273 224 271 227 268 230 266 233 263 236 261 248 271 246 273 243 277 240 280 238 283 236 286 233 290 230 293 226 297 222 302 219 306 215 310 211 314 206 318 201 322 196 326 191 330 185 334 181 337 178 340 176 342 173 344 170 346 167 348 165 349Z" fill="#171717"/>
<path d="M96 381 100 379 106 377 111 374 115 372 119 370 123 369 127 367 131 365 135 364 140 362 145 360 150 357 155 356 160 355 163 354 166 354 169 354 171 355 173 356 175 357 176 358 182 368 182 370 182 374 181 377 180 381 179 385 177 389 174 392 171 396 169 398 166 400 162 403 157 406 152 408 148 410 143 411 138 413 134 414 130 415 124 416 119 418 114 419Z" fill="#171717"/>
<path d="M98 386 102 384 108 381 113 379 117 377 121 375 125 374 129 372 133 370 138 368 142 366 147 364 152 362 157 360 161 358 165 357 167 357 170 356 172 356 173 356 175 357 176 357 180 365 180 366 179 367 177 368 175 370 173 371 171 373 167 375 163 376 160 378 156 380 151 383 147 385 142 388 138 390 133 392 129 393 125 395 121 396 116 399 111 401 107 403Z" fill="#171717"/>
<path d="M51 397 51 390 51 379 50 368 50 356 49 344 49 333 49 324 49 316 48 309 47 304 45 299 43 295 42 291 41 287 41 283 40 278 40 272 41 268 69 268 69 272 69 278 69 283 68 287 67 291 66 295 64 299 62 304 61 309 61 316 61 324 61 333 60 344 59 356 59 368 59 379 58 390 58 397Z" fill="#171717"/>
<path d="M72 381 73 379 73 375 72 374 71 375 71 379Z" fill="#171717"/>
<path d="M125 380 126 377 126 368 125 365 124 368 124 377Z" fill="#181818"/>
<path d="M67 358 68 355 68 348 67 346 66 348 66 355Z" fill="#181818"/>
<path d="M59 291 60 288 60 279 59 276 58 279 58 288Z" fill="#181818"/>
<path d="M72 387 73 386 73 382 72 381 71 382 71 386Z" fill="#191919"/>
<path d="M59 305 60 303 60 295 59 293 58 295 58 303Z" fill="#191919"/>
<path d="M61 390 62 387 62 378 61 375 60 378 60 387Z" fill="#191919"/>
<path d="M72 298 73 295 73 288 72 286 71 288 71 295Z" fill="#191919"/>
<path d="M70 293 71 290 71 283 70 281 69 283 69 290Z" fill="#1a1a1a"/>
<path d="M135 372 136 369 136 359 135 355 134 359 134 369Z" fill="#1a1a1a"/>
<path d="M63 323 64 322 64 318 63 316 63 318 63 322Z" fill="#1a1a1a"/>
<path d="M106 375 107 374 107 369 106 367 105 369 105 374Z" fill="#1c1c1c"/>
<path d="M114 375 115 373 115 369 114 368 113 369 113 373Z" fill="#1c1c1c"/>
<path d="M59 368 60 367 60 365 59 364 58 365 58 367Z" fill="#1c1c1c"/>
<path d="M121 387 122 384 122 374 121 370 119 374 119 384Z" fill="#1c1c1c"/>
<path d="M66 301 66 299 66 292 66 290 65 292 65 299Z" fill="#1c1c1c"/>
<path d="M63 389 64 388 64 384 63 383 63 384 63 388Z" fill="#1d1d1d"/>
<path d="M63 367 65 363 65 354 63 351 62 354 62 363Z" fill="#1d1d1d"/>
<path d="M57 285 58 284 58 281 57 280 57 281 57 284Z" fill="#1d1d1d"/>
<path d="M61 373 62 372 62 366 61 364 60 366 60 372Z" fill="#1d1d1d"/>
<path d="M57 345 59 343 59 338 57 337 56 338 56 343Z" fill="#1e1e1e"/>
<path d="M127 359 128 357 128 352 127 351 126 352 126 357Z" fill="#1e1e1e"/>
<path d="M66 345 66 342 66 333 66 331 65 333 65 342Z" fill="#1e1e1e"/>
<path d="M66 360 66 357 66 350 66 348 65 350 65 357Z" fill="#1e1e1e"/>
<path d="M63 336 64 333 64 326 63 323 63 326 63 333Z" fill="#1f1f1f"/>
<path d="M155 334 155 331 155 326 154 323 153 320 155 316 159 311 164 306 170 302 175 298 179 295 184 292 188 289 192 286 195 283 199 279 202 276 206 272 210 269 215 267 219 265 223 264 227 262 231 261 234 259 255 277 254 281 253 285 251 290 250 295 249 299 248 303 246 308 242 312 239 317 235 321 231 326 226 331 221 335 216 340 210 344 205 348 199 352 195 354 193 355 190 356 186 358 180 359 174 358 171 357Z" fill="#1f1f1f"/>
<path d="M97 382 101 380 106 378 111 375 116 373 119 371 123 370 127 368 131 366 136 365 140 363 145 360 150 358 155 357 160 355 163 355 166 355 169 355 171 356 174 357 175 358 177 359 181 367 181 370 181 373 181 376 180 380 179 384 176 388 174 391 171 394 168 397 165 399 161 401 156 404 152 406 147 408 142 410 137 411 133 412 129 413 124 415 118 416 114 418Z" fill="#1f1f1f"/>
<path d="M51 397 51 390 51 379 51 368 50 356 50 344 49 333 49 324 49 316 49 309 47 304 46 299 44 295 43 291 42 287 41 283 41 278 41 272 41 268 68 268 68 272 68 278 68 283 67 287 66 291 65 295 64 299 62 304 60 309 60 316 60 324 60 333 60 344 59 356 58 368 58 379 58 390 58 397Z" fill="#1f1f1f"/>
<path d="M129 368 130 365 130 355 129 351 128 355 128 365Z" fill="#1f1f1f"/>
<path d="M140 360 141 359 141 355 140 354 139 355 139 359Z" fill="#212121"/>
<path d="M59 324 60 320 60 310 59 306 58 310 58 320Z" fill="#212121"/>
<path d="M63 284 64 282 64 275 63 273 63 275 63 282Z" fill="#212121"/>
<path d="M100 387 101 385 101 380 100 379 99 380 99 385Z" fill="#212121"/>
<path d="M61 316 62 313 62 305 61 302 60 305 60 313Z" fill="#222222"/>
<path d="M110 385 111 382 111 372 110 368 109 372 109 382Z" fill="#222222"/>
<path d="M63 303 65 299 65 289 63 286 62 289 62 299Z" fill="#232323"/>
<path d="M57 335 58 332 58 323 57 320 57 323 57 332Z" fill="#232323"/>
<path d="M104 387 105 385 105 380 104 378 103 380 103 385Z" fill="#242424"/>
<path d="M61 302 62 299 62 288 61 285 60 288 60 299Z" fill="#242424"/>
<path d="M133 369 134 367 134 360 133 358 132 360 132 367Z" fill="#252525"/>
<path d="M127 377 128 375 128 370 127 368 126 370 126 375Z" fill="#252525"/>
<path d="M116 372 117 370 117 363 116 361 115 363 115 370Z" fill="#272727"/>
<path d="M155 335 156 332 155 327 155 324 154 321 156 317 160 312 165 307 171 303 176 300 180 296 185 293 189 290 193 287 196 284 200 280 204 277 207 273 211 270 216 268 220 266 224 265 228 263 232 262 235 261 254 276 253 280 252 284 250 289 249 294 248 298 247 302 244 306 241 311 237 315 234 320 230 325 225 329 220 334 215 338 209 342 204 347 198 350 194 353 192 353 189 355 185 357 179 358 174 357 170 356Z" fill="#282828"/>
<path d="M97 383 101 381 107 379 112 376 116 374 120 372 123 371 127 369 132 367 136 365 141 363 146 361 151 359 156 357 160 356 164 356 167 355 170 356 172 357 174 358 176 359 177 360 181 366 181 369 181 372 180 375 179 379 178 383 176 386 173 390 170 393 167 395 164 398 160 400 155 403 151 405 146 407 141 409 137 410 133 411 129 412 123 413 117 415 113 416Z" fill="#282828"/>
<path d="M52 397 52 390 52 379 51 368 51 356 50 344 50 333 50 324 50 316 49 309 48 304 46 299 45 295 44 291 43 287 42 283 42 278 42 272 42 268 67 268 67 272 67 278 67 283 66 287 66 291 64 295 63 299 61 304 60 309 59 316 60 324 60 333 59 344 58 356 58 368 58 379 58 390 58 397Z" fill="#282828"/>
<path d="M95 390 96 388 96 381 95 379 95 381 95 388Z" fill="#282828"/>
<path d="M112 388 113 386 113 380 112 379 111 380 111 386Z" fill="#292929"/>
<path d="M108 385 109 382 109 374 108 372 107 374 107 382Z" fill="#2a2a2a"/>
<path d="M106 386 107 384 107 378 106 375 105 378 105 384Z" fill="#2a2a2a"/>
<path d="M102 387 103 384 103 375 102 372 101 375 101 384Z" fill="#2a2a2a"/>
<path d="M116 386 117 384 117 376 116 373 115 376 115 384Z" fill="#2b2b2b"/>
<path d="M127 368 128 367 128 364 127 363 126 364 126 367Z" fill="#2b2b2b"/>
<path d="M93 389 94 388 94 383 93 381 92 383 92 388Z" fill="#2c2c2c"/>
<path d="M121 361 122 360 122 356 121 355 120 356 120 360Z" fill="#2d2d2d"/>
<path d="M108 370 109 368 109 363 108 361 107 363 107 368Z" fill="#2e2e2e"/>
<path d="M114 385 115 384 115 379 114 377 113 379 113 384Z" fill="#2f2f2f"/>
<path d="M131 372 132 368 132 359 131 356 130 359 130 368Z" fill="#303030"/>
<path d="M112 366 113 363 113 354 112 351 111 354 111 363Z" fill="#303030"/>
<path d="M118 373 119 371 119 367 118 366 117 367 117 371Z" fill="#303030"/>
<path d="M156 336 156 333 156 328 156 325 155 322 157 318 161 313 166 308 172 304 177 301 181 297 186 294 190 291 194 288 197 285 201 281 205 278 208 274 212 271 217 269 221 267 225 266 229 264 233 263 237 262 252 275 252 279 251 283 249 288 248 293 247 297 246 301 243 306 240 310 236 315 233 319 229 324 224 328 219 333 214 337 208 341 203 345 197 349 193 352 191 352 188 354 184 356 178 357 173 356 169 355Z" fill="#303030"/>
<path d="M98 384 101 382 107 379 112 377 116 375 120 373 124 372 128 370 132 368 137 366 141 364 146 362 151 360 156 358 160 357 164 356 167 356 170 357 172 357 174 358 176 360 178 362 180 365 180 367 180 371 180 374 179 378 178 382 176 385 173 389 170 391 167 394 164 396 160 399 155 401 150 404 146 406 141 407 136 409 132 410 128 411 123 412 117 414 113 415Z" fill="#303030"/>
<path d="M52 397 52 390 52 379 52 368 51 356 51 344 50 333 50 324 50 316 50 309 49 304 47 299 45 295 44 291 43 287 43 283 43 278 43 272 43 268 66 268 66 272 67 278 66 283 66 287 65 291 64 295 62 299 61 304 59 309 59 316 59 324 59 333 59 344 58 356 57 368 57 379 57 390 57 397Z" fill="#303030"/>
<path d="M133 357 134 356 134 353 133 352 132 353 132 356Z" fill="#313131"/>
<path d="M100 375 101 374 101 371 100 370 99 371 99 374Z" fill="#323232"/>
<path d="M118 389 119 386 119 377 118 374 117 377 117 386Z" fill="#323232"/>
<path d="M157 338 157 334 157 329 157 326 156 323 158 319 162 314 167 310 172 305 178 302 182 298 187 295 191 292 195 289 198 286 202 282 206 279 209 275 213 272 218 270 222 268 226 267 230 265 235 264 239 263 251 273 250 277 250 282 248 287 247 292 246 296 245 301 242 305 239 309 235 314 232 318 228 323 223 327 218 332 213 336 208 340 202 344 196 348 192 350 190 351 187 353 183 355 177 356 172 355 168 353Z" fill="#3b3b3b"/>
<path d="M98 385 102 383 107 380 113 378 117 376 121 374 124 372 128 371 133 369 137 367 141 365 146 363 151 361 156 359 161 358 164 357 167 357 170 357 173 358 175 359 177 361 179 363 180 366 180 370 179 373 178 377 177 381 175 384 172 387 169 390 166 393 163 395 159 398 154 400 150 402 145 404 140 406 136 408 132 409 128 410 122 411 116 413 112 414Z" fill="#3b3b3b"/>
<path d="M52 397 52 390 53 379 52 368 52 356 51 344 51 333 51 324 51 316 51 309 49 304 47 299 46 295 45 291 44 287 44 283 43 278 43 272 44 268 66 268 66 272 66 278 66 283 65 287 64 291 63 295 62 299 60 304 58 309 58 316 59 324 59 333 58 344 57 356 57 368 57 379 57 390 57 397Z" fill="#3b3b3b"/>
<path d="M158 339 158 335 158 331 158 327 158 324 159 320 163 316 168 311 174 307 179 303 183 300 188 297 192 293 196 290 199 287 203 283 207 280 211 276 215 273 219 271 223 269 227 268 232 267 237 266 242 266 247 270 248 276 248 281 247 286 246 291 245 295 243 299 241 303 238 308 234 312 230 317 226 321 222 326 217 330 212 334 206 339 201 343 195 347 191 349 189 350 186 352 182 354 176 354 171 353 167 352Z" fill="#4a4a4a"/>
<path d="M99 386 102 384 108 381 113 379 117 377 121 375 125 373 129 372 133 370 137 368 142 366 147 364 152 361 157 360 161 359 165 358 168 358 171 358 173 359 176 361 178 363 179 363 178 363 179 368 179 372 178 376 177 379 175 383 172 386 168 389 166 391 162 393 158 396 153 398 149 401 144 403 139 405 135 406 131 407 127 408 122 410 116 412 111 413Z" fill="#4a4a4a"/>
<path d="M53 397 53 390 54 379 54 368 53 356 52 344 51 333 51 324 52 316 52 309 50 304 48 299 47 295 46 291 45 287 44 283 44 278 44 272 44 268 65 268 65 272 65 278 65 283 64 287 63 291 62 295 61 299 59 304 57 309 57 316 58 324 58 333 57 344 57 356 55 368 56 379 56 390 56 397Z" fill="#4a4a4a"/>
<path d="M160 342 159 337 159 332 159 328 159 326 161 322 164 317 169 313 175 309 180 305 185 302 189 298 194 295 197 292 201 288 205 285 208 281 212 278 216 274 221 272 225 271 229 270 234 269 243 271 245 268 243 271 245 279 245 284 244 289 243 294 242 298 239 302 236 306 232 311 229 315 225 320 220 324 215 329 210 333 205 337 199 341 194 345 190 347 187 349 185 350 180 352 175 353 170 351 165 349Z" fill="#5e5e5e"/>
<path d="M99 388 103 385 108 383 114 380 118 378 122 376 125 375 129 373 134 371 138 369 143 367 147 365 152 363 157 361 162 360 165 359 168 359 171 360 174 361 177 364 178 363 179 363 178 363 177 364 178 370 177 374 176 377 174 381 171 384 168 387 165 389 161 392 157 394 152 397 148 399 143 401 139 403 134 404 130 405 126 407 121 408 115 410 111 411Z" fill="#5e5e5e"/>
<path d="M55 397 55 390 55 379 55 368 55 356 53 344 52 333 53 324 55 316 55 309 52 304 49 299 48 295 47 291 46 287 45 283 45 278 45 272 45 268 64 268 64 272 64 278 64 283 63 287 62 291 61 295 60 299 58 304 55 309 55 316 57 324 57 333 56 344 55 356 55 368 55 379 55 390 55 397Z" fill="#5e5e5e"/>
<path d="M163 346 161 339 161 334 160 330 161 327 162 323 166 319 171 314 176 310 181 307 186 303 191 300 195 296 199 293 202 290 206 286 210 283 214 279 218 276 222 274 227 273 231 272 239 273 243 271 245 268 243 271 241 275 243 282 242 287 242 292 240 296 238 301 235 305 231 309 227 314 223 318 219 323 214 327 209 331 204 335 198 339 193 343 189 346 186 347 183 349 179 351 174 351 168 349 163 346Z" fill="#737373"/>
<path d="M100 389 104 387 109 384 114 381 118 379 122 377 126 376 130 374 134 372 139 370 143 368 148 366 153 364 158 362 162 361 166 360 169 360 172 361 176 365 177 364 178 363 179 363 178 363 177 364 176 365 176 372 175 376 173 379 170 382 167 385 164 388 160 390 156 392 151 395 147 397 142 399 138 401 133 402 129 404 125 405 120 407 114 409 110 410Z" fill="#737373"/>
<path d="M55 397 55 390 55 379 55 368 55 356 55 344 55 333 55 324 55 316 55 309 54 304 50 299 49 295 48 291 47 287 46 283 46 278 46 272 46 268 63 268 63 272 63 278 63 283 62 287 61 291 61 295 59 299 55 304 55 309 55 316 55 324 55 333 55 344 55 356 55 368 55 379 55 390 55 397Z" fill="#737373"/>
<path d="M163 346 165 344 162 335 162 331 162 328 163 325 167 320 172 316 177 312 183 308 187 305 192 301 196 298 200 294 204 291 207 287 211 284 215 280 219 277 224 275 228 274 234 275 240 274 243 271 245 268 243 271 240 274 240 280 241 286 240 291 239 295 236 299 233 304 230 308 226 312 222 317 217 321 213 325 208 330 202 334 197 338 192 342 187 344 185 346 182 348 178 349 172 349 165 344 163 346Z" fill="#878787"/>
<path d="M100 390 104 388 110 385 115 382 119 380 123 379 126 377 130 375 135 373 139 371 144 369 148 367 153 365 158 363 162 362 166 361 169 361 173 363 176 365 177 364 178 363 179 363 178 363 177 364 176 365 175 369 174 374 173 378 170 381 166 383 163 386 160 388 155 391 151 393 146 395 141 397 137 399 133 401 129 402 125 403 119 405 113 407 109 408Z" fill="#878787"/>
<path d="M55 397 55 390 55 379 55 368 55 356 55 344 55 333 55 324 55 316 55 309 55 304 52 299 50 295 49 291 48 287 47 283 47 278 47 272 47 268 62 268 62 272 62 278 62 283 61 287 61 291 60 295 58 299 55 304 55 309 55 316 55 324 55 333 55 344 55 356 55 368 55 379 55 390 55 397Z" fill="#878787"/>
<path d="M163 346 165 344 163 338 163 333 163 330 165 326 168 322 173 318 179 314 184 310 189 306 193 303 197 299 201 296 205 292 209 289 213 285 216 281 221 278 225 277 231 277 237 277 240 274 243 271 245 268 243 271 240 274 237 277 238 283 238 289 237 294 235 298 232 302 228 307 225 311 221 315 216 320 211 324 206 328 201 332 196 336 190 340 186 343 183 345 181 346 176 348 171 347 165 344 163 346Z" fill="#9c9c9c"/>
<path d="M101 391 105 389 110 386 115 383 119 381 123 380 127 378 131 376 135 374 140 372 144 370 149 368 154 365 158 364 163 363 166 362 170 363 174 366 176 365 177 364 178 363 179 363 178 363 177 364 176 365 174 366 174 372 172 376 169 379 166 382 162 384 159 387 154 389 150 391 145 394 141 396 136 398 132 399 128 401 124 402 119 404 113 406 109 407Z" fill="#9c9c9c"/>
<path d="M55 397 55 390 55 379 55 368 55 356 55 344 55 333 55 324 55 316 55 309 55 304 54 299 51 295 50 291 49 287 48 283 48 278 48 272 48 268 61 268 61 272 61 278 61 283 60 287 60 291 59 295 56 299 55 304 55 309 55 316 55 324 55 333 55 344 55 356 55 368 55 379 55 390 55 397Z" fill="#9c9c9c"/>
<path d="M163 346 165 344 167 342 164 334 165 331 166 328 169 323 174 319 180 315 185 311 190 308 194 304 199 301 203 297 206 293 210 290 214 286 218 283 222 280 227 278 234 280 237 277 240 274 243 271 245 268 243 271 240 274 237 277 234 280 236 287 236 292 233 297 230 301 227 306 223 310 219 314 215 318 210 322 205 326 200 330 195 335 189 339 185 342 182 343 179 345 175 346 167 342 165 344 163 346Z" fill="#b0b0b0"/>
<path d="M102 392 105 390 111 387 116 384 120 382 124 381 127 379 132 377 136 375 140 373 145 371 149 369 154 366 159 365 163 364 167 364 171 366 174 366 176 365 177 364 178 363 179 363 178 363 177 364 176 365 174 366 172 368 171 374 168 377 165 380 162 383 158 385 153 387 149 390 144 392 140 394 135 396 131 398 127 399 123 400 118 402 112 404 108 405Z" fill="#b0b0b0"/>
<path d="M55 397 55 390 55 379 55 368 55 356 55 344 55 333 55 324 55 316 55 309 55 304 55 299 52 295 51 291 50 287 49 283 49 278 49 272 49 268 60 268 60 272 60 278 60 283 59 287 59 291 57 295 55 299 55 304 55 309 55 316 55 324 55 333 55 344 55 356 55 368 55 379 55 390 55 397Z" fill="#b0b0b0"/>
<path d="M163 346 165 344 167 342 166 337 166 333 168 329 171 325 176 321 181 317 186 313 191 309 196 306 200 302 204 299 208 295 212 291 215 288 220 284 224 282 232 283 234 280 237 277 240 274 243 271 245 268 243 271 240 274 237 277 234 280 232 283 234 290 232 295 229 300 225 304 222 308 218 312 213 317 209 321 204 325 199 329 193 333 188 337 184 340 180 342 177 343 173 344 167 342 165 344 163 346Z" fill="#c4c4c4"/>
<path d="M102 394 106 392 111 388 116 386 120 384 124 382 128 380 132 378 136 376 141 374 145 372 150 370 155 368 159 366 164 365 168 366 171 367 174 366 176 365 177 364 178 363 179 363 178 363 177 364 176 365 174 366 171 367 170 371 167 375 164 378 161 381 157 383 152 385 148 388 143 390 139 392 134 394 130 396 127 397 122 399 117 400 111 402 107 403Z" fill="#c4c4c4"/>
<path d="M55 397 55 390 55 379 55 368 55 356 55 344 55 333 55 324 55 316 55 309 55 304 55 299 55 295 52 291 51 287 50 283 50 278 50 272 50 268 59 268 59 272 59 278 59 283 58 287 57 291 55 295 55 299 55 304 55 309 55 316 55 324 55 333 55 344 55 356 55 368 55 379 55 390 55 397Z" fill="#c4c4c4"/>
<path d="M163 346 165 344 167 342 170 340 169 335 170 331 173 327 177 323 183 319 188 315 193 312 198 308 202 304 206 300 210 297 213 293 217 290 222 286 229 286 232 283 234 280 237 277 240 274 243 271 245 268 243 271 240 274 237 277 234 280 232 283 229 286 229 293 227 298 223 302 220 306 216 311 211 315 207 319 202 323 197 327 192 331 186 335 182 338 178 340 175 341 170 340 167 342 165 344 163 346Z" fill="#d9d9d9"/>
<path d="M104 398 107 394 112 390 117 387 121 385 125 384 129 382 133 380 137 378 142 376 146 373 151 371 155 369 160 368 164 367 169 368 171 367 174 366 176 365 177 364 178 363 179 363 178 363 177 364 176 365 174 366 171 367 169 368 166 372 163 376 160 378 156 381 151 383 147 386 142 388 138 390 133 392 129 394 126 395 121 397 116 398 110 399 104 398Z" fill="#d9d9d9"/>
<path d="M55 397 55 390 55 379 55 368 55 356 55 344 55 333 55 324 55 316 55 309 55 304 55 299 55 295 55 291 53 287 52 283 52 278 52 272 52 268 57 268 57 272 57 278 57 283 56 287 55 291 55 295 55 299 55 304 55 309 55 316 55 324 55 333 55 344 55 356 55 368 55 379 55 390 55 397Z" fill="#d9d9d9"/>
<path d="M163 346 165 344 167 342 170 340 172 338 174 336 175 330 179 326 185 322 191 318 195 315 200 311 205 307 208 303 212 299 216 296 221 293 225 290 229 286 232 283 234 280 237 277 240 274 243 271 245 268 243 271 240 274 237 277 234 280 232 283 229 286 225 290 223 294 221 300 217 304 213 308 209 312 204 316 199 320 195 323 189 328 184 332 179 335 174 336 172 338 170 340 167 342 165 344 163 346Z" fill="#ebebeb"/>
<path d="M104 398 108 396 114 394 118 389 122 387 126 386 130 384 134 382 138 380 143 378 147 375 151 373 156 371 161 371 165 369 169 368 171 367 174 366 176 365 177 364 178 363 179 363 178 363 177 364 176 365 174 366 171 367 169 368 165 369 161 371 158 375 154 378 150 380 145 382 140 384 136 387 132 389 128 390 124 392 120 394 114 394 108 396 104 398Z" fill="#ebebeb"/>
<path d="M121 388 122 387 122 385 121 385 120 385 120 387Z" fill="#f8f8f8"/>
<path d="M209 306 211 304 211 302 209 300 207 302 207 304Z" fill="#f8f8f8"/>
<path d="M125 392 126 391 126 390 125 389 123 390 123 391Z" fill="#f9f9f9"/>
<path d="M131 386 133 385 133 383 131 382 129 383 129 385Z" fill="#f9f9f9"/>
<path d="M177 329 179 329 179 327 177 326 175 327 175 329Z" fill="#f9f9f9"/>
<path d="M208 312 209 311 209 309 208 308 206 309 206 311Z" fill="#f9f9f9"/>
<path d="M192 325 194 325 194 323 192 322 191 323 191 325Z" fill="#f9f9f9"/>
<path d="M204 312 206 311 206 308 204 307 203 308 203 311Z" fill="#fafafa"/>
<path d="M122 398 124 397 124 395 122 393 120 395 120 397Z" fill="#fafafa"/>
<path d="M149 375 151 374 151 373 149 372 148 373 148 374Z" fill="#fbfbfb"/>
<path d="M224 298 225 297 225 295 224 294 222 295 222 297Z" fill="#fbfbfb"/>
<path d="M183 329 184 328 184 326 183 325 181 326 181 328Z" fill="#fcfcfc"/>
<path d="M163 374 165 373 165 371 163 370 162 371 162 373Z" fill="#fcfcfc"/>
<path d="M224 299 226 298 226 296 224 295 223 296 223 298Z" fill="#fcfcfc"/>
<path d="M183 324 185 323 185 321 183 320 181 321 181 323Z" fill="#fcfcfc"/>
<path d="M185 328 187 327 187 325 185 324 183 325 183 327Z" fill="#fdfdfd"/>
<path d="M185 331 186 330 186 329 185 328 184 329 184 330Z" fill="#fdfdfd"/>
<path d="M126 392 128 391 128 389 126 388 124 389 124 391Z" fill="#fdfdfd"/>
<path d="M219 306 221 305 221 304 219 303 217 304 217 305Z" fill="#fefefe"/>
<path d="M181 322 183 321 183 318 181 317 179 318 179 321Z" fill="#fefefe"/>
<path d="M198 318 199 316 199 314 198 313 197 314 197 316Z" fill="#fefefe"/>
<path d="M214 307 215 306 215 304 214 304 212 304 212 306Z" fill="#fefefe"/>
<path d="M133 387 135 386 135 383 133 382 131 383 131 386Z" fill="#fefefe"/>
<path d="M190 325 192 324 192 322 190 321 188 322 188 324Z" fill="#ffffff"/>
</g></g>
<clipPath id="cp01L"><rect x="54.300000000000004" y="402.8" width="233.5" height="81.8"/></clipPath>
<g clip-path="url(#cp01L)"><g filter="url(#jet)">
<rect x="44.6" y="392.8" width="253.8" height="101.8" fill="#000"/>
<path d="M99 484 100 481 100 473 99 470 98 473 98 481Z" fill="#040404"/>
<path d="M97 484 99 481 99 470 97 467 96 470 96 481Z" fill="#040404"/>
<path d="M95 482 96 480 96 475 95 473 94 475 94 480Z" fill="#040404"/>
<path d="M93 472 94 469 94 458 93 455 92 458 92 469Z" fill="#040404"/>
<path d="M99 469 100 466 100 459 99 457 98 459 98 466Z" fill="#040404"/>
<path d="M103 483 104 480 104 471 103 468 102 471 102 480Z" fill="#050505"/>
<path d="M56 431 58 425 62 417 67 409 71 403 75 397 80 392 86 387 91 383 94 380 97 377 101 374 103 372 144 419 141 422 137 425 132 429 126 433 121 436 117 438 113 440 108 443 103 446 96 449 88 454 83 457Z" fill="#050505"/>
<path d="M49 488 49 472 49 451 49 432 49 419 49 409 49 403 60 403 60 409 60 419 60 432 60 451 60 472 60 488Z" fill="#050505"/>
<path d="M86 464 87 463 87 460 86 459 85 460 85 463Z" fill="#060606"/>
<path d="M91 469 92 467 92 462 91 460 90 462 90 467Z" fill="#060606"/>
<path d="M86 456 87 454 87 448 86 446 85 448 85 454Z" fill="#070707"/>
<path d="M97 466 98 464 98 459 97 458 97 459 97 464Z" fill="#080808"/>
<path d="M89 472 90 470 90 465 89 463 88 465 88 470Z" fill="#080808"/>
<path d="M78 463 79 462 79 458 78 457 77 458 77 462Z" fill="#090909"/>
<path d="M82 452 83 451 83 448 82 447 81 448 81 451Z" fill="#0a0a0a"/>
<path d="M57 432 60 426 64 418 68 411 72 405 77 399 82 394 87 389 92 385 96 382 99 379 103 376 105 374 142 417 139 420 135 423 130 427 125 431 120 434 115 436 111 438 107 441 102 444 95 448 87 452 81 455Z" fill="#0a0a0a"/>
<path d="M50 488 50 472 50 451 50 432 50 419 50 409 50 403 59 403 59 409 60 419 60 432 60 451 60 472 60 488Z" fill="#0a0a0a"/>
<path d="M80 481 81 478 81 472 80 469 79 472 79 478Z" fill="#0b0b0b"/>
<path d="M74 461 76 460 76 455 74 453 73 455 73 460Z" fill="#0c0c0c"/>
<path d="M69 460 70 457 70 447 69 443 68 447 68 457Z" fill="#0c0c0c"/>
<path d="M67 482 68 480 68 474 67 473 66 474 66 480Z" fill="#0d0d0d"/>
<path d="M80 468 81 465 81 457 80 454 79 457 79 465Z" fill="#0d0d0d"/>
<path d="M84 484 85 482 85 478 84 477 83 478 83 482Z" fill="#0d0d0d"/>
<path d="M84 461 85 459 85 451 84 449 83 451 83 459Z" fill="#0f0f0f"/>
<path d="M62 472 63 470 63 463 62 461 61 463 61 470Z" fill="#101010"/>
<path d="M64 451 65 450 65 446 64 445 63 446 63 450Z" fill="#111111"/>
<path d="M58 433 61 428 65 420 70 412 74 406 78 401 83 396 88 391 93 387 97 384 100 381 104 378 106 376 141 416 138 418 134 421 129 425 123 429 118 432 114 435 110 437 105 440 100 443 93 447 86 451 80 454Z" fill="#111111"/>
<path d="M50 488 50 472 50 451 50 432 50 419 50 409 50 403 59 403 59 409 59 419 59 432 59 451 59 472 59 488Z" fill="#111111"/>
<path d="M67 461 68 458 68 449 67 445 66 449 66 458Z" fill="#111111"/>
<path d="M76 461 77 459 77 452 76 450 75 452 75 459Z" fill="#121212"/>
<path d="M71 476 72 474 72 468 71 466 69 468 69 474Z" fill="#121212"/>
<path d="M64 462 65 460 65 454 64 452 63 454 63 460Z" fill="#131313"/>
<path d="M69 481 70 480 70 477 69 476 68 477 68 480Z" fill="#141414"/>
<path d="M69 474 70 472 70 464 69 462 68 464 68 472Z" fill="#141414"/>
<path d="M67 472 68 470 68 464 67 463 66 464 66 470Z" fill="#151515"/>
<path d="M71 463 72 460 72 452 71 449 69 452 69 460Z" fill="#161616"/>
<path d="M73 481 74 478 74 469 73 466 72 469 72 478Z" fill="#161616"/>
<path d="M62 458 63 456 63 452 62 451 61 452 61 456Z" fill="#171717"/>
<path d="M59 434 62 428 66 420 71 413 75 407 79 402 84 397 89 392 94 388 98 385 101 382 105 379 107 377 140 415 137 417 133 420 128 424 123 428 118 431 113 433 109 436 104 439 99 442 92 446 85 450 79 453Z" fill="#171717"/>
<path d="M50 488 50 472 50 451 50 432 50 419 51 409 51 403 58 403 59 409 59 419 59 432 59 451 59 472 59 488Z" fill="#171717"/>
<path d="M58 468 58 466 58 462 58 461 57 462 57 466Z" fill="#171717"/>
<path d="M64 484 65 481 65 474 64 472 64 474 64 481Z" fill="#191919"/>
<path d="M71 484 72 483 72 479 71 478 70 479 70 483Z" fill="#1b1b1b"/>
<path d="M64 469 66 468 66 464 64 463 63 464 63 468Z" fill="#1d1d1d"/>
<path d="M59 481 60 479 60 472 59 470 59 472 59 479Z" fill="#1e1e1e"/>
<path d="M60 435 63 429 67 421 72 414 76 408 80 403 85 398 90 393 95 389 99 386 102 383 106 380 108 378 139 413 136 416 132 419 127 423 122 427 117 430 112 432 108 435 104 438 98 441 91 445 84 449 78 452Z" fill="#1f1f1f"/>
<path d="M51 488 51 472 51 451 51 432 51 419 51 409 51 403 58 403 58 409 58 419 59 432 59 451 59 472 59 488Z" fill="#1f1f1f"/>
<path d="M58 482 59 480 59 472 58 470 56 472 56 480Z" fill="#222222"/>
<path d="M58 458 59 454 59 444 58 440 57 444 57 454Z" fill="#232323"/>
<path d="M61 436 64 430 68 422 72 415 76 409 81 404 85 399 91 394 96 390 100 387 103 384 107 381 109 379 138 412 135 415 131 418 126 422 121 426 116 429 111 431 107 434 103 437 97 440 91 444 83 448 78 452Z" fill="#282828"/>
<path d="M51 488 51 472 51 451 51 432 51 419 51 409 51 403 58 403 58 409 58 419 58 432 58 451 58 472 58 488Z" fill="#282828"/>
<path d="M62 436 65 431 69 423 73 416 77 410 81 405 86 400 91 395 97 391 100 388 104 385 107 382 110 380 137 412 135 414 131 417 126 421 120 425 115 428 111 431 107 433 102 436 97 439 90 443 82 448 77 451Z" fill="#303030"/>
<path d="M51 488 51 472 51 451 51 432 51 419 52 409 52 403 57 403 58 409 58 419 58 432 58 451 58 472 58 488Z" fill="#303030"/>
<path d="M55 444 87 438 90 417 72 406 55 406Z" fill="#333333"/>
<path d="M55 450 72 447 93 438 111 430 90 426 55 432Z" fill="#383838"/>
<path d="M62 437 65 432 70 424 74 416 78 411 82 405 87 400 92 396 97 392 101 389 105 386 108 383 111 381 136 411 134 413 130 416 125 420 120 424 115 427 110 430 106 432 101 435 96 438 89 443 81 447 76 450Z" fill="#3b3b3b"/>
<path d="M51 488 51 472 51 451 51 432 52 419 52 409 52 403 57 403 57 409 58 419 58 432 58 451 58 472 58 488Z" fill="#3b3b3b"/>
<path d="M64 438 66 433 71 425 75 417 79 412 83 407 88 402 93 397 98 393 102 390 106 387 109 384 112 382 135 409 133 412 129 415 124 419 119 423 114 426 109 429 105 431 100 434 95 437 88 442 80 446 75 449Z" fill="#4a4a4a"/>
<path d="M52 488 52 472 52 451 52 432 52 419 52 409 53 403 57 403 57 409 57 419 57 432 57 451 57 472 57 488Z" fill="#4a4a4a"/>
<path d="M59 439 60 437 60 431 59 428 58 431 58 437Z" fill="#4d4d4d"/>
<path d="M78 443 79 440 79 432 78 429 77 432 77 440Z" fill="#555555"/>
<path d="M65 440 68 434 72 426 76 419 80 413 84 408 89 403 94 398 99 395 103 392 107 389 110 386 113 383 134 408 132 410 128 414 123 417 118 421 113 424 108 427 104 430 99 433 94 436 87 440 79 445 73 447Z" fill="#5e5e5e"/>
<path d="M52 488 52 472 52 451 52 432 53 419 53 409 54 403 56 403 56 409 57 419 57 432 57 451 57 472 57 488Z" fill="#5e5e5e"/>
<path d="M69 444 70 436 73 427 78 420 81 414 85 409 90 404 95 400 100 396 104 393 108 390 112 387 114 385 133 407 130 409 127 412 122 416 117 420 112 423 107 426 103 429 98 432 92 435 85 439 77 443 69 444Z" fill="#737373"/>
<path d="M53 488 53 472 53 451 53 432 53 419 54 409 55 403 55 409 56 419 56 432 56 451 56 472 56 488Z" fill="#737373"/>
<path d="M78 429 79 427 79 422 78 420 77 422 77 427Z" fill="#7d7d7d"/>
<path d="M69 444 73 439 75 429 79 421 82 415 86 410 91 405 96 401 101 397 105 394 109 391 113 388 115 386 132 406 129 408 126 411 121 415 116 418 111 422 106 425 102 428 97 430 91 434 84 438 74 440 69 444Z" fill="#878787"/>
<path d="M53 488 53 472 53 451 53 432 54 419 55 409 55 403 55 409 55 419 56 432 56 451 56 472 56 488Z" fill="#878787"/>
<path d="M76 442 77 440 77 432 76 429 75 432 75 440Z" fill="#919191"/>
<path d="M62 428 63 425 63 417 62 415 61 417 61 425Z" fill="#939393"/>
<path d="M69 444 73 439 77 431 80 422 84 416 87 411 92 407 97 402 102 399 106 395 110 392 114 389 116 387 131 404 128 407 125 410 120 414 115 417 110 421 105 424 101 426 96 429 90 432 82 436 73 439 69 444Z" fill="#9c9c9c"/>
<path d="M55 488 55 472 54 451 55 432 55 419 55 409 55 403 55 409 55 419 55 432 55 451 55 472 55 488Z" fill="#9c9c9c"/>
<path d="M69 444 73 439 79 433 82 424 85 418 88 413 93 408 98 403 103 400 107 397 111 394 115 391 117 388 130 403 127 405 124 409 119 412 114 416 109 419 104 422 100 425 94 428 88 431 79 433 73 439 69 444Z" fill="#b0b0b0"/>
<path d="M69 444 73 439 79 433 85 427 86 420 90 414 94 409 99 405 104 401 108 398 112 395 116 392 118 390 129 402 126 404 122 407 118 411 113 414 108 418 103 421 98 424 93 426 85 427 79 433 73 439 69 444Z" fill="#c4c4c4"/>
<path d="M69 444 73 439 79 433 85 427 90 423 91 416 95 411 100 406 105 403 110 400 114 397 117 394 120 391 127 400 125 402 121 406 117 409 112 413 107 416 102 419 97 422 90 423 85 427 79 433 73 439 69 444Z" fill="#d9d9d9"/>
<path d="M69 444 73 439 79 433 85 427 90 423 94 419 97 413 101 409 107 405 111 402 116 399 119 396 122 394 125 398 123 400 119 403 115 407 110 410 105 414 100 417 94 419 90 423 85 427 79 433 73 439 69 444Z" fill="#ebebeb"/>
<path d="M98 415 100 414 100 412 98 411 96 412 96 414Z" fill="#f8f8f8"/>
<path d="M101 417 102 416 102 413 101 412 99 413 99 416Z" fill="#fafafa"/>
<path d="M112 402 114 401 114 398 112 396 111 398 111 401Z" fill="#fdfdfd"/>
<path d="M105 409 107 407 107 404 105 403 103 404 103 407Z" fill="#ffffff"/>
<path d="M105 420 107 419 107 418 105 417 104 418 104 419Z" fill="#ffffff"/>
<path d="M119 407 120 406 120 403 119 402 117 403 117 406Z" fill="#ffffff"/>
</g></g>
<path d="M54.0 274.2H288.40000000000003V508.0H54.0" fill="none" stroke="#2a2a2a" stroke-width="1.2"/>
<path d="M51.6 490.5H54.6 M48.6 461.2H54.6 M51.6 432.0H54.6 M48.6 402.8H54.6 M51.6 373.6H54.6 M48.6 344.3H54.6 M51.6 315.1H54.6 M48.6 285.9H54.6 M54.6 508.0V514.0 M83.8 508.0V511.0 M113.1 508.0V514.0 M142.3 508.0V511.0 M171.5 508.0V514.0 M200.7 508.0V511.0 M230.0 508.0V514.0 M259.2 508.0V511.0 M288.4 508.0V514.0" stroke="#2a2a2a" stroke-width="1.2" fill="none"/>
<text x="206.5" y="443.8" font-size="18">U<tspan font-size="13" dy="-3.6">-</tspan><tspan dy="3.6">(H</tspan><tspan font-size="13" dy="3.8">2</tspan><tspan dy="-3.8">O)</tspan><tspan font-size="13" dy="3.8">6</tspan></text>
<rect x="300.4" y="274.2" width="233.8" height="233.8" fill="none" stroke="#2a2a2a" stroke-width="1.2"/>
<clipPath id="cp11U"><rect x="300.09999999999997" y="274.8" width="233.5" height="116.3"/></clipPath>
<g clip-path="url(#cp11U)"><g filter="url(#jet)">
<rect x="290.4" y="264.8" width="253.8" height="136.3" fill="#000"/>
<path d="M416 290 417 286 417 277 416 273 415 277 415 286Z" fill="#040404"/>
<path d="M394 308 395 305 395 296 394 292 393 296 393 305Z" fill="#040404"/>
<path d="M384 293 385 290 385 283 384 281 383 283 383 290Z" fill="#040404"/>
<path d="M364 303 365 302 365 296 364 294 363 296 363 302Z" fill="#040404"/>
<path d="M364 320 365 318 365 313 364 311 363 313 363 318Z" fill="#040404"/>
<path d="M388 302 389 300 389 295 388 293 387 295 387 300Z" fill="#040404"/>
<path d="M349 340 350 337 350 328 349 325 348 328 348 337Z" fill="#040404"/>
<path d="M347 357 348 355 348 348 347 346 346 348 346 355Z" fill="#040404"/>
<path d="M353 323 354 321 354 312 353 309 353 312 353 321Z" fill="#040404"/>
<path d="M371 292 372 290 372 285 371 283 370 285 370 290Z" fill="#040404"/>
<path d="M349 378 350 375 350 365 349 362 348 365 348 375Z" fill="#040404"/>
<path d="M377 299 378 298 378 294 377 293 376 294 376 298Z" fill="#040404"/>
<path d="M371 326 372 323 372 314 371 311 370 314 370 323Z" fill="#040404"/>
<path d="M362 299 363 296 363 289 362 286 361 289 361 296Z" fill="#040404"/>
<path d="M366 318 367 317 367 314 366 313 365 314 365 317Z" fill="#040404"/>
<path d="M360 350 360 348 360 341 360 339 359 341 359 348Z" fill="#040404"/>
<path d="M396 282 397 279 397 271 396 268 395 271 395 279Z" fill="#040404"/>
<path d="M352 321 353 319 353 310 352 307 350 310 350 319Z" fill="#040404"/>
<path d="M408 300 410 299 410 294 408 292 407 294 407 299Z" fill="#040404"/>
<path d="M357 289 358 288 358 284 357 283 356 284 356 288Z" fill="#040404"/>
<path d="M343 317 344 316 344 311 343 310 342 311 342 316Z" fill="#040404"/>
<path d="M377 331 378 328 378 320 377 317 376 320 376 328Z" fill="#040404"/>
<path d="M396 290 397 288 397 284 396 283 395 284 395 288Z" fill="#040404"/>
<path d="M375 322 376 320 376 314 375 311 374 314 374 320Z" fill="#040404"/>
<path d="M362 323 363 322 363 319 362 318 361 319 361 322Z" fill="#040404"/>
<path d="M382 301 383 299 383 295 382 294 381 295 381 299Z" fill="#040404"/>
<path d="M349 278 351 277 351 271 349 269 348 271 348 277Z" fill="#040404"/>
<path d="M360 323 361 320 361 310 360 307 359 310 359 320Z" fill="#050505"/>
<path d="M366 293 367 290 367 280 366 276 365 280 365 290Z" fill="#050505"/>
<path d="M341 352 342 349 342 342 341 339 340 342 340 349Z" fill="#050505"/>
<path d="M341 370 342 367 342 358 341 355 340 358 340 367Z" fill="#050505"/>
<path d="M375 290 376 288 376 281 375 279 374 281 374 288Z" fill="#050505"/>
<path d="M380 325 381 323 381 318 380 316 379 318 379 323Z" fill="#050505"/>
<path d="M357 330 358 327 358 318 357 315 356 318 356 327Z" fill="#050505"/>
<path d="M384 331 385 328 385 320 384 318 383 320 383 328Z" fill="#050505"/>
<path d="M388 328 389 326 389 321 388 319 387 321 387 326Z" fill="#050505"/>
<path d="M353 355 355 353 355 344 353 341 352 344 352 353Z" fill="#050505"/>
<path d="M371 343 372 339 372 330 371 327 370 330 370 339Z" fill="#050505"/>
<path d="M364 336 365 333 365 325 364 323 363 325 363 333Z" fill="#050505"/>
<path d="M377 290 378 289 378 285 377 284 376 285 376 289Z" fill="#050505"/>
<path d="M345 366 346 364 346 357 345 355 344 357 344 364Z" fill="#050505"/>
<path d="M400 308 401 305 401 295 400 291 399 295 399 305Z" fill="#050505"/>
<path d="M364 291 365 290 365 287 364 286 363 287 363 290Z" fill="#050505"/>
<path d="M349 353 350 351 350 343 349 341 348 343 348 351Z" fill="#050505"/>
<path d="M352 371 352 369 352 361 352 359 351 361 351 369Z" fill="#050505"/>
<path d="M382 291 382 290 382 286 382 284 381 286 381 290Z" fill="#050505"/>
<path d="M386 302 387 300 387 294 386 292 385 294 385 300Z" fill="#050505"/>
<path d="M390 312 391 309 391 302 390 300 389 302 389 309Z" fill="#050505"/>
<path d="M357 298 358 296 358 291 357 289 356 291 356 296Z" fill="#050505"/>
<path d="M355 353 356 351 356 344 355 341 354 344 354 351Z" fill="#050505"/>
<path d="M396 310 397 308 397 302 396 300 395 302 395 308Z" fill="#050505"/>
<path d="M328 376 330 373 333 368 336 364 338 361 342 356 347 350 353 343 358 337 360 335 359 336 361 330 369 318 379 308 387 304 394 300 401 294 409 288 416 282 423 275 431 266 438 259 446 253 451 251 451 254 452 255 454 254 458 253 461 252 464 251 467 251 502 286 502 288 501 292 500 295 499 298 498 302 495 307 491 311 492 311 491 312 485 317 476 325 467 334 458 342 450 349 443 355 436 361 433 364 432 365 431 365 428 371 421 381 413 391 406 398 402 403 400 406 397 409 393 413 389 418 384 422 381 425Z" fill="#050505"/>
<path d="M322 371 325 368 328 363 331 359 333 356 336 351 341 344 348 337 353 332 353 331 352 332 354 326 363 313 374 303 382 298 389 294 397 289 405 283 411 277 418 270 426 261 434 254 441 248 447 246 446 248 447 249 449 249 451 247 455 246 458 245 460 244 493 277 492 279 490 281 488 284 487 286 485 288 482 291 479 294 478 295 476 297 470 303 462 311 453 319 445 327 437 334 429 340 423 346 419 350 416 353 414 356 411 362 406 370 399 377 393 384 388 389 384 393 382 396 378 400 374 405 370 409 367 412Z" fill="#050505"/>
<path d="M295 485 295 471 295 451 295 432 295 417 295 402 295 385 295 363 295 338 295 315 295 296 295 280 295 268 306 268 306 280 306 296 306 315 306 338 306 363 306 385 306 402 306 417 306 432 306 451 306 471 306 485Z" fill="#050505"/>
<path d="M360 289 361 286 361 277 360 274 358 277 358 286Z" fill="#050505"/>
<path d="M368 325 370 323 370 318 368 317 367 318 367 323Z" fill="#050505"/>
<path d="M341 338 342 336 342 329 341 327 340 329 340 336Z" fill="#050505"/>
<path d="M371 281 372 279 372 275 371 274 370 275 370 279Z" fill="#050505"/>
<path d="M343 295 344 294 344 290 343 288 342 290 342 294Z" fill="#050505"/>
<path d="M355 329 356 325 356 316 355 312 354 316 354 325Z" fill="#050505"/>
<path d="M398 298 399 297 399 293 398 292 397 293 397 297Z" fill="#050505"/>
<path d="M373 334 374 333 374 331 373 330 372 331 372 333Z" fill="#050505"/>
<path d="M339 321 340 320 340 316 339 315 338 316 338 320Z" fill="#060606"/>
<path d="M345 299 346 296 346 286 345 282 344 286 344 296Z" fill="#060606"/>
<path d="M345 353 346 352 346 349 345 348 343 349 343 352Z" fill="#060606"/>
<path d="M337 282 338 280 338 274 337 271 336 274 336 280Z" fill="#060606"/>
<path d="M343 351 344 349 344 343 343 341 342 343 342 349Z" fill="#060606"/>
<path d="M343 307 344 305 344 299 343 297 342 299 342 305Z" fill="#070707"/>
<path d="M339 306 340 304 340 301 339 299 339 301 339 304Z" fill="#070707"/>
<path d="M341 305 342 302 342 292 341 288 340 292 340 302Z" fill="#070707"/>
<path d="M341 326 342 324 342 320 341 319 340 320 340 324Z" fill="#070707"/>
<path d="M339 331 340 329 340 324 339 322 338 324 338 329Z" fill="#070707"/>
<path d="M337 338 338 337 338 333 337 332 336 333 336 337Z" fill="#070707"/>
<path d="M337 378 338 375 338 368 337 366 336 368 336 375Z" fill="#070707"/>
<path d="M335 334 335 331 335 321 335 318 334 321 334 331Z" fill="#070707"/>
<path d="M339 311 340 311 340 308 339 307 339 308 339 311Z" fill="#070707"/>
<path d="M343 328 344 326 344 320 343 317 342 320 342 326Z" fill="#070707"/>
<path d="M335 366 336 364 336 355 335 353 333 355 333 364Z" fill="#080808"/>
<path d="M343 366 344 363 344 355 343 353 342 355 342 363Z" fill="#080808"/>
<path d="M337 363 338 360 338 350 337 347 336 350 336 360Z" fill="#080808"/>
<path d="M341 318 342 316 342 310 341 308 340 310 340 316Z" fill="#080808"/>
<path d="M333 291 334 288 334 280 333 278 332 280 332 288Z" fill="#080808"/>
<path d="M335 351 336 348 336 338 335 335 334 338 334 348Z" fill="#090909"/>
<path d="M333 304 334 302 334 296 333 294 332 296 332 302Z" fill="#090909"/>
<path d="M333 330 334 328 334 321 333 319 332 321 332 328Z" fill="#090909"/>
<path d="M333 385 334 382 334 374 333 372 332 374 332 382Z" fill="#090909"/>
<path d="M337 389 338 387 338 382 337 381 336 382 336 387Z" fill="#090909"/>
<path d="M330 312 331 310 331 301 330 299 329 301 329 310Z" fill="#090909"/>
<path d="M339 352 341 351 341 347 339 345 338 347 338 351Z" fill="#090909"/>
<path d="M339 369 340 366 340 358 339 355 339 358 339 366Z" fill="#090909"/>
<path d="M339 342 340 341 340 336 339 334 339 336 339 341Z" fill="#0a0a0a"/>
<path d="M341 288 342 285 342 275 341 272 340 275 340 285Z" fill="#0a0a0a"/>
<path d="M330 378 333 375 336 371 339 366 341 363 344 359 349 352 356 345 361 340 363 338 362 337 365 332 372 320 382 311 390 306 396 302 404 297 412 290 418 284 426 277 433 268 441 261 448 256 453 254 453 256 454 257 457 257 460 256 463 255 467 254 469 253 500 284 499 286 498 289 497 293 497 296 496 299 493 304 489 308 490 309 489 310 483 315 474 323 465 331 456 339 448 347 441 353 435 358 431 362 429 363 428 364 425 370 419 380 411 389 404 396 400 401 397 404 395 407 391 411 387 416 382 420 379 423Z" fill="#0a0a0a"/>
<path d="M330 378 332 375 336 370 339 366 341 363 344 358 349 352 355 345 361 339 362 337 364 331 372 320 381 311 389 306 396 302 403 296 411 290 418 284 425 277 433 268 440 261 447 255 452 253 452 255 453 255 454 255 457 253 460 251 463 250 465 249 491 275 490 277 488 279 486 282 485 284 483 286 480 289 478 291 476 292 474 294 468 301 459 309 451 317 443 325 435 332 428 338 421 343 417 347 413 351 411 355 408 361 404 368 397 375 391 382 386 387 382 391 379 395 376 398 372 403 368 407 365 410Z" fill="#0a0a0a"/>
<path d="M296 485 296 471 296 451 296 432 296 417 296 402 296 385 296 363 296 338 296 315 296 296 296 280 296 268 305 268 305 280 305 296 305 315 305 338 305 363 305 385 305 402 305 417 305 432 305 451 305 471 305 485Z" fill="#0a0a0a"/>
<path d="M328 323 329 321 329 316 328 314 327 316 327 321Z" fill="#0a0a0a"/>
<path d="M328 311 329 310 329 306 328 304 327 306 327 310Z" fill="#0a0a0a"/>
<path d="M326 294 327 292 327 286 326 285 325 286 325 292Z" fill="#0b0b0b"/>
<path d="M330 331 331 328 331 318 330 315 329 318 329 328Z" fill="#0c0c0c"/>
<path d="M330 368 331 366 331 360 330 358 329 360 329 366Z" fill="#0c0c0c"/>
<path d="M324 281 325 280 325 276 324 275 323 276 323 280Z" fill="#0c0c0c"/>
<path d="M326 386 327 383 327 373 326 370 325 373 325 383Z" fill="#0d0d0d"/>
<path d="M321 294 322 293 322 289 321 288 320 289 320 293Z" fill="#0d0d0d"/>
<path d="M337 293 338 292 338 287 337 285 336 287 336 292Z" fill="#0d0d0d"/>
<path d="M337 346 338 345 338 342 337 341 336 342 336 345Z" fill="#0d0d0d"/>
<path d="M333 347 334 344 334 334 333 331 332 334 332 344Z" fill="#0d0d0d"/>
<path d="M337 329 338 326 338 316 337 313 336 316 336 326Z" fill="#0e0e0e"/>
<path d="M321 285 322 282 322 271 321 268 320 271 320 282Z" fill="#0e0e0e"/>
<path d="M321 327 322 324 322 318 321 315 320 318 320 324Z" fill="#0e0e0e"/>
<path d="M328 293 329 289 329 279 328 275 327 279 327 289Z" fill="#0e0e0e"/>
<path d="M335 298 335 296 335 290 335 288 334 290 334 296Z" fill="#0e0e0e"/>
<path d="M326 367 327 363 327 353 326 350 325 353 325 363Z" fill="#0e0e0e"/>
<path d="M317 288 317 287 317 283 317 282 316 283 316 287Z" fill="#0f0f0f"/>
<path d="M317 282 318 281 318 278 317 277 316 278 316 281Z" fill="#0f0f0f"/>
<path d="M324 298 325 294 325 285 324 282 323 285 323 294Z" fill="#0f0f0f"/>
<path d="M333 364 334 361 334 353 333 350 332 353 332 361Z" fill="#0f0f0f"/>
<path d="M330 376 331 374 331 370 330 369 329 370 329 374Z" fill="#0f0f0f"/>
<path d="M310 388 311 385 311 376 310 374 309 376 309 385Z" fill="#0f0f0f"/>
<path d="M326 311 327 308 327 299 326 296 325 299 325 308Z" fill="#0f0f0f"/>
<path d="M319 319 320 317 320 309 319 306 318 309 318 317Z" fill="#101010"/>
<path d="M319 372 320 369 320 362 319 360 318 362 318 369Z" fill="#101010"/>
<path d="M317 386 318 384 318 379 317 377 316 379 316 384Z" fill="#101010"/>
<path d="M333 371 334 370 334 367 333 365 332 367 332 370Z" fill="#101010"/>
<path d="M332 380 335 377 338 372 341 368 343 365 346 360 352 354 358 347 363 342 365 339 367 333 374 322 384 313 391 308 398 304 405 299 413 292 420 286 427 279 435 270 442 263 449 258 454 256 455 258 456 259 458 258 462 258 465 256 468 255 471 255 498 282 498 284 496 288 496 291 495 294 494 298 491 302 487 306 488 307 487 308 481 314 472 321 463 330 454 338 446 345 439 351 433 357 429 360 428 362 426 363 423 369 417 378 409 387 403 395 398 399 396 403 393 406 389 410 385 414 381 418 377 421Z" fill="#111111"/>
<path d="M337 384 339 381 343 377 346 372 348 369 352 365 356 359 363 352 368 347 371 344 371 342 374 336 380 326 388 318 396 313 402 309 410 303 417 297 425 290 432 283 440 274 447 267 453 262 457 260 457 261 458 261 460 260 463 259 466 257 468 255 470 254 490 273 488 275 486 277 484 280 483 282 481 284 478 287 476 289 474 290 472 292 465 299 457 307 449 315 441 323 433 330 426 336 420 341 415 345 411 349 408 354 406 360 401 367 395 374 389 380 383 385 380 389 377 393 374 396 370 401 366 405 363 408Z" fill="#111111"/>
<path d="M296 485 296 471 296 451 296 432 296 417 296 402 296 385 296 363 296 338 296 315 296 296 296 280 296 268 305 268 305 280 305 296 305 315 305 338 305 363 305 385 305 402 305 417 305 432 305 451 305 471 305 485Z" fill="#111111"/>
<path d="M321 315 322 313 322 308 321 306 320 308 320 313Z" fill="#111111"/>
<path d="M313 295 313 293 313 287 313 285 312 287 312 293Z" fill="#111111"/>
<path d="M319 338 320 335 320 325 319 322 318 325 318 335Z" fill="#111111"/>
<path d="M333 319 334 316 334 308 333 306 332 308 332 316Z" fill="#111111"/>
<path d="M330 298 331 297 331 293 330 291 329 293 329 297Z" fill="#111111"/>
<path d="M321 305 322 303 322 298 321 296 320 298 320 303Z" fill="#111111"/>
<path d="M306 280 307 278 307 274 306 272 305 274 305 278Z" fill="#111111"/>
<path d="M310 331 311 329 311 322 310 319 309 322 309 329Z" fill="#121212"/>
<path d="M303 386 304 383 304 375 303 373 302 375 302 383Z" fill="#121212"/>
<path d="M326 330 327 327 327 317 326 314 325 317 325 327Z" fill="#121212"/>
<path d="M313 390 314 388 314 382 313 381 312 382 312 388Z" fill="#121212"/>
<path d="M315 362 316 360 316 354 315 352 314 354 314 360Z" fill="#121212"/>
<path d="M330 288 331 285 331 276 330 273 329 276 329 285Z" fill="#121212"/>
<path d="M303 296 304 295 304 291 303 290 302 291 302 295Z" fill="#131313"/>
<path d="M303 331 304 328 304 319 303 316 302 319 302 328Z" fill="#131313"/>
<path d="M315 289 316 286 316 277 315 273 314 277 314 286Z" fill="#131313"/>
<path d="M324 389 325 387 325 383 324 381 323 383 323 387Z" fill="#141414"/>
<path d="M328 339 329 336 329 327 328 324 327 327 327 336Z" fill="#141414"/>
<path d="M317 346 318 344 318 338 317 336 316 338 316 344Z" fill="#141414"/>
<path d="M328 387 329 384 329 374 328 371 327 374 327 384Z" fill="#141414"/>
<path d="M321 350 322 347 322 340 321 338 320 340 320 347Z" fill="#141414"/>
<path d="M326 347 327 344 327 335 326 332 325 335 325 344Z" fill="#141414"/>
<path d="M306 346 307 345 307 342 306 340 305 342 305 345Z" fill="#151515"/>
<path d="M303 305 304 303 304 300 303 299 302 300 302 303Z" fill="#151515"/>
<path d="M321 388 322 386 322 382 321 380 320 382 320 386Z" fill="#151515"/>
<path d="M324 349 325 348 325 343 324 341 323 343 323 348Z" fill="#151515"/>
<path d="M308 318 309 315 309 305 308 302 307 305 307 315Z" fill="#151515"/>
<path d="M328 368 329 366 329 359 328 357 327 359 327 366Z" fill="#151515"/>
<path d="M303 354 304 353 304 349 303 348 302 349 302 353Z" fill="#151515"/>
<path d="M310 339 311 338 311 335 310 334 309 335 309 338Z" fill="#161616"/>
<path d="M310 305 311 304 311 300 310 298 309 300 309 304Z" fill="#161616"/>
<path d="M321 360 322 358 322 352 321 350 320 352 320 358Z" fill="#171717"/>
<path d="M334 381 336 378 340 374 343 370 345 366 348 362 353 356 359 349 365 343 367 341 367 340 369 334 376 323 385 315 393 310 399 306 407 300 415 294 422 287 429 280 436 271 444 264 450 259 455 258 456 259 457 260 460 260 463 259 467 258 470 257 472 256 497 281 496 283 495 286 494 290 494 293 493 296 490 301 486 305 487 305 486 307 480 312 471 320 462 329 453 337 445 344 438 350 432 355 428 359 426 361 425 362 422 368 416 377 408 386 402 393 397 398 394 401 392 405 388 409 384 413 379 417 376 420Z" fill="#171717"/>
<path d="M344 391 347 388 350 383 354 379 356 376 359 372 364 366 370 360 376 354 379 350 381 347 383 341 389 333 396 326 402 321 409 316 416 310 424 304 431 297 439 289 446 281 453 274 459 270 462 268 463 268 464 267 466 266 468 264 471 262 473 260 475 259 488 272 486 273 484 276 482 278 481 280 479 282 476 284 474 286 472 287 469 290 463 296 455 305 447 313 439 320 431 327 424 334 418 339 413 343 409 348 406 352 403 358 399 365 393 372 387 378 381 383 378 387 375 391 372 395 368 399 364 403 361 406Z" fill="#171717"/>
<path d="M296 485 296 471 296 451 296 432 296 417 296 402 296 385 296 363 297 338 297 315 296 296 296 280 296 268 304 268 304 280 304 296 304 315 304 338 304 363 304 385 304 402 304 417 304 432 304 451 304 471 304 485Z" fill="#171717"/>
<path d="M324 325 325 323 325 318 324 317 323 318 323 323Z" fill="#171717"/>
<path d="M310 317 311 315 311 309 310 307 309 309 309 315Z" fill="#181818"/>
<path d="M317 301 318 299 318 293 317 291 316 293 316 299Z" fill="#181818"/>
<path d="M324 380 325 376 325 366 324 363 323 366 323 376Z" fill="#181818"/>
<path d="M310 281 311 280 311 277 310 276 309 277 309 280Z" fill="#181818"/>
<path d="M317 374 318 372 318 364 317 362 316 364 316 372Z" fill="#191919"/>
<path d="M308 380 309 378 309 374 308 372 307 374 307 378Z" fill="#1a1a1a"/>
<path d="M306 360 307 358 307 351 306 349 305 351 305 358Z" fill="#1b1b1b"/>
<path d="M317 360 318 358 318 351 317 349 316 351 316 358Z" fill="#1b1b1b"/>
<path d="M315 322 316 319 316 310 315 306 314 310 314 319Z" fill="#1b1b1b"/>
<path d="M306 330 307 329 307 324 306 323 304 324 304 329Z" fill="#1c1c1c"/>
<path d="M313 380 313 377 313 367 313 363 312 367 312 377Z" fill="#1c1c1c"/>
<path d="M306 376 307 375 307 370 306 369 305 370 305 375Z" fill="#1d1d1d"/>
<path d="M315 350 316 348 316 343 315 341 314 343 314 348Z" fill="#1d1d1d"/>
<path d="M313 310 314 307 314 299 313 296 312 299 312 307Z" fill="#1d1d1d"/>
<path d="M315 371 316 369 316 366 315 364 314 366 314 369Z" fill="#1d1d1d"/>
<path d="M313 335 314 333 314 329 313 327 312 329 312 333Z" fill="#1d1d1d"/>
<path d="M317 334 318 331 318 323 317 320 316 323 316 331Z" fill="#1e1e1e"/>
<path d="M313 283 314 282 314 277 313 275 312 277 312 282Z" fill="#1e1e1e"/>
<path d="M335 383 337 379 341 375 344 371 346 367 350 363 354 357 361 350 366 345 368 342 369 341 371 335 378 324 386 316 394 311 400 307 408 301 416 295 423 289 430 281 438 273 445 265 452 261 456 259 457 261 458 261 461 261 464 260 468 259 471 258 474 257 495 279 495 282 494 285 493 288 492 291 491 295 489 299 485 303 486 304 485 306 479 311 470 319 461 328 452 335 444 343 437 349 431 354 427 358 425 360 424 361 421 367 415 377 407 385 401 392 396 397 393 400 390 404 387 408 383 412 378 416 375 419Z" fill="#1f1f1f"/>
<path d="M297 485 297 471 297 451 297 432 297 417 297 402 297 385 297 363 297 338 297 315 297 296 297 280 297 268 304 268 304 280 304 296 304 315 304 338 304 363 304 385 304 402 304 417 304 432 304 451 304 471 304 485Z" fill="#1f1f1f"/>
<path d="M308 327 309 325 309 320 308 318 307 320 307 325Z" fill="#1f1f1f"/>
<path d="M308 344 309 341 309 331 308 328 307 331 307 341Z" fill="#1f1f1f"/>
<path d="M306 340 306 339 306 334 306 332 305 334 305 339Z" fill="#202020"/>
<path d="M303 287 304 285 304 279 303 277 302 279 302 285Z" fill="#202020"/>
<path d="M303 372 304 369 304 360 303 357 302 360 302 369Z" fill="#202020"/>
<path d="M306 386 307 384 307 379 306 377 305 379 305 384Z" fill="#212121"/>
<path d="M308 387 309 386 309 383 308 382 307 383 307 386Z" fill="#212121"/>
<path d="M303 348 304 345 304 336 303 333 302 336 302 345Z" fill="#232323"/>
<path d="M308 284 309 282 309 276 308 274 307 276 307 282Z" fill="#242424"/>
<path d="M308 299 309 296 309 289 308 287 307 289 307 296Z" fill="#242424"/>
<path d="M306 321 307 318 307 308 306 304 305 308 305 318Z" fill="#262626"/>
<path d="M336 384 339 381 342 376 345 372 348 369 351 364 356 358 362 352 367 346 370 343 370 342 373 336 379 326 388 318 395 313 402 308 409 303 417 296 424 290 431 282 439 274 446 267 453 262 457 261 458 262 460 263 462 262 466 261 469 260 473 260 475 259 494 278 493 280 492 284 492 287 491 290 490 294 488 298 485 302 485 303 484 304 478 310 469 318 460 326 451 334 443 341 436 348 430 353 426 357 424 359 422 361 419 366 413 376 406 384 400 391 395 396 392 399 389 403 386 407 381 411 377 415 374 418Z" fill="#282828"/>
<path d="M297 485 297 471 297 451 297 432 297 417 297 402 297 385 297 363 297 338 297 315 297 296 297 280 297 268 304 268 304 280 304 296 304 315 304 338 304 363 304 385 304 402 304 417 304 432 304 451 304 471 304 485Z" fill="#282828"/>
<path d="M337 385 340 382 343 377 347 373 349 370 352 365 357 359 363 353 369 347 371 344 372 342 374 336 381 327 389 319 396 314 403 310 410 304 418 297 425 291 432 283 440 275 447 268 454 263 458 262 459 263 461 264 464 263 467 263 471 262 474 261 477 260 492 276 492 279 491 282 490 286 490 289 489 293 487 297 484 301 484 302 483 304 477 309 468 317 459 326 450 333 442 340 435 347 429 352 425 356 423 358 421 360 418 366 413 375 405 383 399 390 394 395 391 399 388 402 385 406 380 410 376 415 373 417Z" fill="#303030"/>
<path d="M297 485 297 471 297 451 297 432 297 417 297 402 297 385 297 363 298 338 298 315 297 296 297 280 297 268 304 268 303 280 303 296 303 315 303 338 303 363 303 385 303 402 304 417 304 432 304 451 303 471 303 485Z" fill="#303030"/>
<path d="M338 386 341 383 345 378 348 374 350 371 353 366 358 361 364 354 370 348 373 345 373 343 376 337 382 328 390 320 397 315 404 311 411 305 419 298 426 292 433 284 441 276 448 269 454 264 459 263 460 264 462 265 465 264 468 264 472 263 476 262 478 262 491 275 490 277 490 281 489 285 489 288 488 292 486 296 483 299 483 301 482 303 476 308 467 316 458 325 450 332 441 340 434 346 428 351 424 355 422 357 420 360 417 365 412 374 404 383 398 389 393 394 390 398 387 401 384 405 380 410 375 414 372 417Z" fill="#3b3b3b"/>
<path d="M298 485 298 471 298 451 298 432 298 417 298 402 298 385 298 363 298 338 298 315 298 296 298 280 298 268 303 268 303 280 303 296 303 315 303 338 303 363 303 385 303 402 303 417 303 432 303 451 303 471 303 485Z" fill="#3b3b3b"/>
<path d="M340 387 342 384 346 380 349 375 352 372 355 368 360 362 366 356 371 350 374 346 375 344 378 338 384 329 392 321 398 317 405 312 412 306 420 300 427 293 435 286 442 277 450 270 456 266 460 265 461 266 463 266 466 266 470 266 474 265 478 265 482 266 487 271 488 275 488 279 487 283 487 286 487 290 485 294 482 298 482 299 480 301 474 307 466 315 457 323 448 331 440 338 433 345 427 350 423 354 420 356 419 359 416 365 410 373 403 381 397 388 392 393 389 397 386 400 383 404 378 408 374 413 371 416Z" fill="#4a4a4a"/>
<path d="M298 485 298 471 298 451 298 432 298 417 298 402 298 385 298 363 298 338 298 315 298 296 298 280 298 268 303 268 303 280 302 296 302 315 302 338 302 363 303 385 303 402 303 417 303 432 303 451 303 471 303 485Z" fill="#4a4a4a"/>
<path d="M342 389 344 386 348 381 351 377 354 373 357 369 361 364 367 358 373 352 377 348 378 345 380 339 386 330 393 323 400 319 406 314 414 308 422 301 429 295 436 287 444 279 451 272 457 268 461 267 463 268 465 268 469 268 473 268 478 269 483 270 485 268 483 270 484 275 485 280 485 284 485 288 483 292 481 296 481 297 479 300 473 306 464 314 455 322 447 330 439 337 432 343 426 348 421 352 419 355 417 358 414 364 409 372 402 380 395 387 390 392 387 395 384 399 381 403 377 407 373 411 370 414Z" fill="#5e5e5e"/>
<path d="M299 485 299 471 299 451 299 432 299 417 299 402 299 385 299 363 299 338 299 315 299 296 299 280 299 268 302 268 302 280 302 296 301 315 301 338 302 363 302 385 302 402 302 417 302 432 302 451 302 471 302 485Z" fill="#5e5e5e"/>
<path d="M343 390 346 387 349 383 353 378 356 375 359 371 363 365 369 359 375 353 378 349 380 346 382 340 388 332 395 325 401 320 408 316 415 310 423 303 430 296 438 289 446 280 453 273 458 269 462 268 464 270 467 270 471 271 479 274 481 272 483 270 485 268 483 270 481 272 479 274 483 282 483 286 482 291 479 294 479 296 477 298 471 304 463 312 454 321 446 328 438 335 431 342 425 347 420 351 417 354 415 357 412 363 407 371 401 379 394 385 389 391 386 394 383 398 380 402 376 406 371 410 368 413Z" fill="#737373"/>
<path d="M300 485 300 471 299 451 299 432 299 417 300 402 300 385 300 363 300 338 300 315 300 296 300 280 299 268 302 268 301 280 300 296 300 315 300 338 300 363 300 385 301 402 301 417 302 432 301 451 301 471 300 485Z" fill="#737373"/>
<path d="M345 392 347 388 351 384 355 380 357 376 360 372 365 367 371 361 376 355 380 351 382 347 384 342 390 333 396 326 403 322 409 317 416 311 424 304 432 298 439 290 447 281 454 274 460 271 464 270 466 271 469 272 476 275 479 274 481 272 483 270 485 268 483 270 481 272 479 274 478 277 481 284 480 289 478 292 478 294 476 297 470 303 462 311 453 319 445 327 437 334 430 340 424 346 419 350 416 353 414 356 411 362 406 370 399 378 393 384 388 389 385 393 382 397 378 400 374 405 370 409 367 412Z" fill="#878787"/>
<path d="M346 393 349 390 353 385 356 381 359 378 362 374 366 368 372 362 378 357 382 352 384 348 386 343 391 335 398 328 404 323 411 319 418 313 426 306 433 299 441 291 448 283 455 276 461 272 465 272 467 273 472 275 477 276 479 274 481 272 483 270 485 268 483 270 481 272 479 274 477 276 478 281 478 287 477 290 477 293 475 296 469 302 460 310 452 318 444 326 436 333 428 339 422 344 418 349 414 352 412 356 409 361 405 369 398 376 392 383 387 388 383 392 380 395 377 399 373 404 369 408 366 411Z" fill="#9c9c9c"/>
<path d="M348 394 350 391 354 387 358 383 361 379 364 375 368 370 374 364 380 358 384 353 386 350 389 344 393 336 400 330 406 325 412 320 419 314 427 307 435 301 442 293 450 284 457 277 462 274 466 274 470 277 475 278 477 276 479 274 481 272 483 270 485 268 483 270 481 272 479 274 477 276 475 278 476 284 476 288 475 291 473 294 467 300 459 309 451 317 442 324 434 331 427 338 421 343 416 347 413 351 411 355 408 361 403 368 397 375 390 382 385 387 382 391 379 394 376 398 372 402 368 407 365 410Z" fill="#b0b0b0"/>
<path d="M349 396 352 393 356 388 360 384 362 381 365 377 370 372 375 366 382 360 386 355 388 351 391 345 395 338 401 331 407 327 413 322 421 316 429 309 436 302 444 294 451 285 458 279 464 276 468 277 473 280 475 278 477 276 479 274 481 272 483 270 485 268 483 270 481 272 479 274 477 276 475 278 473 280 474 285 474 289 472 293 466 299 458 307 449 316 441 323 433 330 426 336 420 342 415 346 411 350 409 354 406 360 402 367 396 374 389 380 384 385 380 389 377 393 374 397 370 401 366 405 363 408Z" fill="#c4c4c4"/>
<path d="M352 398 354 395 358 390 362 386 365 382 368 379 372 374 378 368 384 362 388 357 391 352 394 346 398 339 403 334 409 329 415 324 423 318 430 311 438 304 446 296 453 287 460 281 466 279 471 281 473 280 475 278 477 276 479 274 481 272 483 270 485 268 483 270 481 272 479 274 477 276 475 278 473 280 471 281 472 286 470 291 464 297 456 306 447 314 439 321 431 328 424 334 418 340 413 344 410 348 407 353 404 359 400 366 394 372 387 379 382 384 379 388 376 391 372 395 368 400 364 404 362 407Z" fill="#d9d9d9"/>
<path d="M355 401 357 398 361 393 365 389 368 385 371 381 375 377 381 371 387 365 392 360 395 354 398 348 401 342 406 337 412 332 418 327 425 321 433 314 441 307 448 298 456 289 463 284 469 283 471 281 473 280 475 278 477 276 479 274 481 272 483 270 485 268 483 270 481 272 479 274 477 276 475 278 473 280 471 281 469 283 467 288 462 295 454 303 445 311 437 319 429 326 422 332 416 337 411 342 407 346 404 351 401 357 397 363 392 370 385 376 380 381 376 386 373 389 370 393 366 397 362 402 359 405Z" fill="#ebebeb"/>
<path d="M422 327 423 326 423 323 422 322 420 323 420 326Z" fill="#f8f8f8"/>
<path d="M359 398 361 397 361 396 359 395 356 396 356 397Z" fill="#f9f9f9"/>
<path d="M413 340 415 339 415 337 413 336 412 337 412 339Z" fill="#f9f9f9"/>
<path d="M383 378 385 378 385 376 383 375 381 376 381 378Z" fill="#f9f9f9"/>
<path d="M409 340 411 339 411 336 409 335 408 336 408 339Z" fill="#fafafa"/>
<path d="M467 290 468 289 468 287 467 286 466 287 466 289Z" fill="#fbfbfb"/>
<path d="M370 388 372 387 372 384 370 383 369 384 369 387Z" fill="#fcfcfc"/>
<path d="M463 296 465 295 465 293 463 292 461 293 461 295Z" fill="#fcfcfc"/>
<path d="M367 389 369 388 369 386 367 385 366 386 366 388Z" fill="#fcfcfc"/>
<path d="M371 389 373 388 373 386 371 384 370 386 370 388Z" fill="#fdfdfd"/>
<path d="M371 394 373 393 373 391 371 390 370 391 370 393Z" fill="#fdfdfd"/>
<path d="M429 330 431 330 431 328 429 327 426 328 426 330Z" fill="#fefefe"/>
<path d="M367 383 369 381 369 378 367 377 365 378 365 381Z" fill="#fefefe"/>
<path d="M396 362 397 361 397 359 396 358 394 359 394 361Z" fill="#fefefe"/>
<path d="M434 322 436 321 436 320 434 319 432 320 432 321Z" fill="#fefefe"/>
<path d="M384 375 386 374 386 372 384 371 382 372 382 374Z" fill="#ffffff"/>
</g></g>
<clipPath id="cp11L"><rect x="300.09999999999997" y="402.8" width="233.5" height="81.8"/></clipPath>
<g clip-path="url(#cp11L)"><g filter="url(#jet)">
<rect x="290.4" y="392.8" width="253.8" height="101.8" fill="#000"/>
<g filter="url(#soft)">
<path d="M300 461 330 458 347 444 365 432 335 429 300 432Z" fill="#0f0f0f"/>
</g>
<path d="M349 481 350 479 350 474 349 473 348 474 348 479Z" fill="#040404"/>
<path d="M347 452 348 449 348 440 347 437 346 440 346 449Z" fill="#040404"/>
<path d="M353 450 354 447 354 439 353 436 352 439 352 447Z" fill="#040404"/>
<path d="M339 455 340 453 340 449 339 448 338 449 338 453Z" fill="#040404"/>
<path d="M345 465 346 462 346 453 345 451 343 453 343 462Z" fill="#040404"/>
<path d="M339 446 340 443 340 434 339 431 338 434 338 443Z" fill="#050505"/>
<path d="M355 480 356 478 356 472 355 470 354 472 354 478Z" fill="#050505"/>
<path d="M349 462 350 459 350 449 349 446 348 449 348 459Z" fill="#050505"/>
<path d="M343 455 344 454 344 451 343 450 342 451 342 454Z" fill="#050505"/>
<path d="M349 444 350 443 350 440 349 439 348 440 348 443Z" fill="#050505"/>
<path d="M341 456 342 453 342 443 341 439 340 443 340 453Z" fill="#050505"/>
<path d="M334 460 335 457 335 447 334 444 333 447 333 457Z" fill="#050505"/>
<path d="M347 466 348 463 348 456 347 454 346 456 346 463Z" fill="#050505"/>
<path d="M351 477 352 475 352 467 351 465 350 467 350 475Z" fill="#050505"/>
<path d="M291 404 297 403 305 400 312 398 315 396 318 394 321 392 326 390 330 387 335 384 339 382 342 380 345 378 348 376 352 373 356 371 360 368 364 365 367 362 396 401 393 403 389 407 384 410 381 413 377 417 373 420 369 424 366 427 362 430 357 433 351 437 345 440 339 442 333 444 325 446 315 447 305 448 299 448Z" fill="#050505"/>
<path d="M295 485 295 471 295 451 295 432 295 417 295 402 295 385 295 363 295 338 295 315 295 296 295 280 295 268 306 268 306 280 306 296 306 315 306 338 306 363 306 385 306 402 306 417 306 432 306 451 306 471 306 485Z" fill="#050505"/>
<path d="M339 481 340 480 340 475 339 474 338 475 338 480Z" fill="#050505"/>
<path d="M341 480 342 478 342 470 341 468 340 470 340 478Z" fill="#050505"/>
<path d="M353 480 354 479 354 475 353 474 352 475 352 479Z" fill="#050505"/>
<path d="M337 479 337 477 337 471 337 469 336 471 336 477Z" fill="#050505"/>
<path d="M353 467 354 464 354 455 353 453 352 455 352 464Z" fill="#050505"/>
<path d="M332 451 333 449 333 441 332 438 331 441 331 449Z" fill="#060606"/>
<path d="M329 461 330 459 330 452 329 450 328 452 328 459Z" fill="#070707"/>
<path d="M322 477 323 474 323 464 322 461 321 464 321 474Z" fill="#070707"/>
<path d="M329 479 330 475 330 466 329 462 328 466 328 475Z" fill="#070707"/>
<path d="M332 477 333 474 333 465 332 462 331 465 331 474Z" fill="#080808"/>
<path d="M334 479 335 476 335 466 334 463 333 466 333 476Z" fill="#080808"/>
<path d="M332 459 333 458 333 453 332 452 331 453 331 458Z" fill="#080808"/>
<path d="M324 462 325 459 325 450 324 447 323 450 323 459Z" fill="#080808"/>
<path d="M318 450 318 448 318 442 318 440 317 442 317 448Z" fill="#080808"/>
<path d="M326 453 327 450 327 444 326 442 325 444 325 450Z" fill="#090909"/>
<path d="M329 449 330 447 330 443 329 441 328 443 328 447Z" fill="#090909"/>
<path d="M326 440 327 438 327 434 326 433 325 434 325 438Z" fill="#090909"/>
<path d="M328 477 329 476 329 471 328 470 327 471 327 476Z" fill="#090909"/>
<path d="M318 479 319 477 319 469 318 467 317 469 317 477Z" fill="#0a0a0a"/>
<path d="M291 406 297 405 306 402 313 400 316 398 319 396 322 394 327 392 331 389 336 386 340 384 343 382 346 380 350 378 353 375 357 373 361 370 365 366 368 364 395 400 392 402 388 405 383 409 379 412 375 415 371 418 368 422 364 425 361 428 356 431 350 435 344 437 338 440 332 442 324 443 315 445 305 446 298 446Z" fill="#0a0a0a"/>
<path d="M296 485 296 471 296 451 296 432 296 417 296 402 296 385 296 363 296 338 296 315 296 296 296 280 296 268 305 268 305 280 305 296 305 315 305 338 305 363 305 385 305 402 305 417 305 432 305 451 305 471 305 485Z" fill="#0a0a0a"/>
<path d="M316 460 317 457 317 450 316 447 315 450 315 457Z" fill="#0a0a0a"/>
<path d="M328 467 328 465 328 458 328 456 327 458 327 465Z" fill="#0a0a0a"/>
<path d="M309 461 310 457 310 447 309 444 308 447 308 457Z" fill="#0b0b0b"/>
<path d="M328 453 328 451 328 443 328 440 327 443 327 451Z" fill="#0b0b0b"/>
<path d="M313 466 314 463 314 452 313 449 313 452 313 463Z" fill="#0c0c0c"/>
<path d="M316 447 317 445 317 439 316 437 315 439 315 445Z" fill="#0c0c0c"/>
<path d="M313 472 314 471 314 467 313 466 313 467 313 471Z" fill="#0c0c0c"/>
<path d="M307 447 308 445 308 437 307 434 306 437 306 445Z" fill="#0c0c0c"/>
<path d="M309 481 310 479 310 472 309 470 308 472 308 479Z" fill="#0c0c0c"/>
<path d="M313 447 315 446 315 442 313 441 312 442 312 446Z" fill="#0c0c0c"/>
<path d="M322 446 323 445 323 442 322 441 321 442 321 445Z" fill="#0c0c0c"/>
<path d="M303 464 304 462 304 457 303 456 302 457 302 462Z" fill="#0e0e0e"/>
<path d="M320 459 321 457 321 452 320 450 319 452 319 457Z" fill="#0e0e0e"/>
<path d="M322 458 323 455 323 448 322 446 321 448 321 455Z" fill="#0f0f0f"/>
<path d="M309 441 310 438 310 431 309 428 308 431 308 438Z" fill="#0f0f0f"/>
<path d="M320 465 321 465 321 462 320 461 319 462 319 465Z" fill="#0f0f0f"/>
<path d="M303 441 304 439 304 431 303 429 302 431 302 439Z" fill="#0f0f0f"/>
<path d="M320 481 321 478 321 469 320 466 319 469 319 478Z" fill="#0f0f0f"/>
<path d="M303 455 304 453 304 446 303 444 302 446 302 453Z" fill="#0f0f0f"/>
<path d="M305 441 306 438 306 431 305 429 304 431 304 438Z" fill="#0f0f0f"/>
<path d="M318 467 318 463 318 454 318 451 317 454 317 463Z" fill="#101010"/>
<path d="M313 481 314 480 314 475 313 473 312 475 312 480Z" fill="#101010"/>
<path d="M311 448 312 446 312 438 311 436 310 438 310 446Z" fill="#101010"/>
<path d="M291 408 298 406 306 404 313 402 317 400 319 398 323 395 327 393 332 390 337 388 341 385 344 383 347 381 351 379 354 377 358 374 362 371 366 368 369 365 394 398 391 401 387 404 382 407 378 410 374 414 371 417 367 420 363 424 360 427 355 430 349 433 343 436 337 438 331 440 324 441 314 443 305 444 298 444Z" fill="#111111"/>
<path d="M296 485 296 471 296 451 296 432 296 417 296 402 296 385 296 363 296 338 296 315 296 296 296 280 296 268 305 268 305 280 305 296 305 315 305 338 305 363 305 385 305 402 305 417 305 432 305 451 305 471 305 485Z" fill="#111111"/>
<path d="M316 480 317 479 317 476 316 475 315 476 315 479Z" fill="#121212"/>
<path d="M311 481 312 477 312 468 311 465 310 468 310 477Z" fill="#121212"/>
<path d="M313 441 314 439 314 434 313 432 312 434 312 439Z" fill="#131313"/>
<path d="M309 469 310 468 310 464 309 463 308 464 308 468Z" fill="#161616"/>
<path d="M305 458 306 455 306 446 305 443 304 446 304 455Z" fill="#171717"/>
<path d="M292 409 298 407 306 405 313 403 317 401 320 399 324 397 328 394 333 391 338 389 342 386 345 385 348 383 351 380 355 378 359 375 363 372 367 369 370 366 394 397 391 400 386 403 382 406 378 409 374 413 370 416 366 419 363 422 359 425 354 428 349 432 343 435 337 437 331 439 323 440 314 441 304 442 298 443Z" fill="#171717"/>
<path d="M296 485 296 471 296 451 296 432 296 417 296 402 296 385 296 363 297 338 297 315 296 296 296 280 296 268 304 268 304 280 304 296 304 315 304 338 304 363 304 385 304 402 304 417 304 432 304 451 304 471 304 485Z" fill="#171717"/>
<path d="M292 410 298 409 307 406 314 404 317 402 320 400 324 398 329 395 333 392 338 390 342 387 345 386 348 383 352 381 356 379 359 376 364 373 368 370 371 367 393 397 390 399 385 402 381 405 377 409 373 412 369 415 366 418 362 421 358 424 354 427 348 430 342 433 336 436 330 437 323 439 314 440 304 441 298 442Z" fill="#1f1f1f"/>
<path d="M297 485 297 471 297 451 297 432 297 417 297 402 297 385 297 363 297 338 297 315 297 296 297 280 297 268 304 268 304 280 304 296 304 315 304 338 304 363 304 385 304 402 304 417 304 432 304 451 304 471 304 485Z" fill="#1f1f1f"/>
<path d="M324 483 326 483 326 481 324 481Z" fill="#1f1f1f"/>
<path d="M368 483 370 483 370 481 368 481Z" fill="#1f1f1f"/>
<path d="M411 483 414 483 414 481 411 481Z" fill="#1f1f1f"/>
<path d="M455 483 458 483 458 481 455 481Z" fill="#1f1f1f"/>
<path d="M499 483 501 483 501 481 499 481Z" fill="#1f1f1f"/>
<path d="M292 411 298 410 307 407 314 405 318 403 321 401 325 399 329 396 334 393 339 391 343 388 346 386 349 384 353 382 356 379 360 377 364 374 368 370 372 368 392 396 389 398 385 401 380 405 376 408 373 411 369 414 365 417 362 420 358 423 353 426 347 429 341 432 336 434 330 436 323 438 313 439 304 440 297 440Z" fill="#282828"/>
<path d="M297 485 297 471 297 451 297 432 297 417 297 402 297 385 297 363 297 338 297 315 297 296 297 280 297 268 304 268 304 280 304 296 304 315 304 338 304 363 304 385 304 402 304 417 304 432 304 451 304 471 304 485Z" fill="#282828"/>
<path d="M338 483 341 483 341 481 338 481Z" fill="#2e2e2e"/>
<path d="M382 483 385 483 385 481 382 481Z" fill="#2e2e2e"/>
<path d="M426 483 428 483 428 481 426 481Z" fill="#2e2e2e"/>
<path d="M470 483 472 483 472 481 470 481Z" fill="#2e2e2e"/>
<path d="M514 483 516 483 516 481 514 481Z" fill="#2e2e2e"/>
<path d="M292 412 298 411 307 408 314 406 318 404 321 402 325 399 330 397 335 394 339 391 343 389 346 387 350 385 353 383 357 380 361 378 365 374 369 371 372 369 392 395 389 397 384 401 380 404 376 407 372 410 368 413 364 416 361 419 357 422 352 425 347 428 341 431 335 433 330 435 322 437 313 438 304 439 297 439Z" fill="#303030"/>
<path d="M297 485 297 471 297 451 297 432 297 417 297 402 297 385 297 363 298 338 298 315 297 296 297 280 297 268 304 268 303 280 303 296 303 315 303 338 303 363 303 385 303 402 304 417 304 432 304 451 303 471 303 485Z" fill="#303030"/>
<path d="M292 413 299 412 307 409 314 407 318 405 322 403 325 400 330 398 335 395 340 392 344 390 347 388 350 386 354 384 357 381 361 378 365 375 370 372 373 370 391 394 388 397 384 400 379 403 375 406 371 409 368 413 364 416 360 419 357 421 352 424 346 428 340 430 335 432 329 434 322 436 313 437 304 438 297 438Z" fill="#3b3b3b"/>
<path d="M298 485 298 471 298 451 298 432 298 417 298 402 298 385 298 363 298 338 298 315 298 296 298 280 298 268 303 268 303 280 303 296 303 315 303 338 303 363 303 385 303 402 303 417 303 432 303 451 303 471 303 485Z" fill="#3b3b3b"/>
<path d="M353 483 355 483 355 481 353 481Z" fill="#3d3d3d"/>
<path d="M397 483 399 483 399 481 397 481Z" fill="#3d3d3d"/>
<path d="M441 483 443 483 443 481 441 481Z" fill="#3d3d3d"/>
<path d="M485 483 487 483 487 481 485 481Z" fill="#3d3d3d"/>
<path d="M528 483 531 483 531 481 528 481Z" fill="#3d3d3d"/>
<path d="M293 415 299 413 307 410 315 408 319 406 322 404 326 401 331 399 336 396 340 393 344 391 348 389 351 387 354 385 358 382 362 379 366 376 370 373 373 371 391 393 387 396 383 399 379 402 375 405 371 408 367 412 363 414 360 417 356 420 351 423 346 426 340 429 334 431 329 433 322 434 313 435 303 436 297 437Z" fill="#4a4a4a"/>
<path d="M298 485 298 471 298 451 298 432 298 417 298 402 298 385 298 363 298 338 298 315 298 296 298 280 298 268 303 268 303 280 302 296 302 315 302 338 302 363 303 385 303 402 303 417 303 432 303 451 303 471 303 485Z" fill="#4a4a4a"/>
<path d="M293 417 299 415 308 412 315 409 319 407 323 405 327 403 331 400 336 397 341 395 345 392 348 390 352 388 355 386 359 383 363 380 367 377 371 374 374 372 390 392 387 394 382 398 378 401 374 404 370 407 366 410 362 413 359 416 355 419 350 422 345 425 339 428 334 430 328 431 321 433 312 434 303 434 296 435Z" fill="#5e5e5e"/>
<path d="M299 485 299 471 299 451 299 432 299 417 299 402 299 385 299 363 299 338 299 315 299 296 299 280 299 268 302 268 302 280 302 296 301 315 301 338 302 363 302 385 302 402 302 417 302 432 302 451 302 471 302 485Z" fill="#5e5e5e"/>
<path d="M293 418 300 416 308 413 315 411 320 408 323 406 327 404 332 401 337 399 342 396 346 394 349 392 352 389 356 387 360 384 364 382 368 378 372 375 375 373 389 391 386 393 381 397 377 400 373 403 369 406 365 409 362 412 358 415 354 417 350 420 344 424 338 426 333 428 328 430 321 431 312 432 303 433 296 433Z" fill="#737373"/>
<path d="M300 485 300 471 299 451 299 432 299 417 300 402 300 385 300 363 300 338 300 315 300 296 300 280 299 268 302 268 301 280 300 296 300 315 300 338 300 363 300 385 301 402 301 417 302 432 301 451 301 471 300 485Z" fill="#737373"/>
<path d="M294 420 300 418 308 415 316 412 320 410 324 407 328 405 333 402 338 400 342 397 346 395 350 393 353 390 357 388 361 385 364 383 369 379 373 376 376 374 388 390 385 393 381 396 376 399 372 402 369 405 365 408 361 411 358 414 354 416 349 419 343 422 338 425 333 427 327 428 320 430 312 430 302 431 296 430Z" fill="#878787"/>
<path d="M295 425 300 420 309 417 316 413 321 411 324 409 328 406 333 404 338 401 343 398 347 396 350 394 354 392 357 389 361 386 365 384 369 380 374 377 377 375 387 389 384 392 380 395 376 398 372 401 368 404 364 407 360 410 357 412 353 415 348 418 343 421 337 424 332 426 327 427 320 428 311 428 302 428 295 425Z" fill="#9c9c9c"/>
<path d="M295 425 301 424 309 419 317 415 321 412 325 410 329 407 334 405 339 402 344 399 348 397 351 395 355 393 358 390 362 387 366 385 370 382 374 378 377 376 387 388 384 391 379 394 375 397 371 400 367 403 363 406 360 409 356 411 352 414 347 417 342 420 337 422 331 424 326 425 319 426 311 426 301 424 295 425Z" fill="#b0b0b0"/>
<path d="M295 425 301 424 310 422 317 418 322 414 326 411 330 409 335 406 340 403 344 400 348 398 352 396 355 394 359 391 363 389 367 386 371 383 375 379 378 377 386 387 383 389 378 393 374 396 370 399 366 402 362 405 359 407 355 410 351 412 347 415 341 418 336 421 331 423 325 424 319 423 310 422 301 424 295 425Z" fill="#c4c4c4"/>
<path d="M295 425 301 424 310 422 318 420 323 417 326 413 330 410 335 407 341 405 345 402 349 400 353 398 356 395 360 393 364 390 368 387 372 384 376 381 379 379 385 386 382 388 377 391 373 395 369 398 365 400 361 403 358 406 354 408 350 411 346 413 340 417 335 419 330 420 324 420 318 420 310 422 301 424 295 425Z" fill="#d9d9d9"/>
<path d="M295 425 301 424 310 422 318 420 323 419 328 417 332 413 336 409 342 407 347 404 351 402 354 400 358 398 362 395 365 392 369 389 374 386 378 383 381 381 383 384 380 386 376 389 372 393 368 396 364 398 360 401 356 403 353 406 349 408 344 411 339 414 334 417 328 417 323 419 318 420 310 422 301 424 295 425Z" fill="#ebebeb"/>
<path d="M334 413 336 412 336 410 334 409 332 410 332 412Z" fill="#f8f8f8"/>
<path d="M340 414 342 413 342 411 340 409 338 411 338 413Z" fill="#fafafa"/>
<path d="M359 396 361 395 361 392 359 391 357 392 357 395Z" fill="#fdfdfd"/>
<path d="M350 403 351 402 351 399 350 398 348 399 348 402Z" fill="#ffffff"/>
<path d="M342 419 343 418 343 416 342 415 341 416 341 418Z" fill="#ffffff"/>
<path d="M370 399 372 397 372 395 370 394 368 395 368 397Z" fill="#ffffff"/>
</g></g>
<path d="M299.79999999999995 274.2H534.2V508.0H299.79999999999995" fill="none" stroke="#2a2a2a" stroke-width="1.2"/>
<path d="M297.4 490.5H300.4 M294.4 461.2H300.4 M297.4 432.0H300.4 M294.4 402.8H300.4 M297.4 373.6H300.4 M294.4 344.3H300.4 M297.4 315.1H300.4 M294.4 285.9H300.4 M300.4 508.0V514.0 M329.6 508.0V511.0 M358.8 508.0V514.0 M388.1 508.0V511.0 M417.3 508.0V514.0 M446.5 508.0V511.0 M475.8 508.0V514.0 M505.0 508.0V511.0 M534.2 508.0V514.0" stroke="#2a2a2a" stroke-width="1.2" fill="none"/>
<text x="452.3" y="443.8" font-size="18">U<tspan font-size="13" dy="-3.6">-</tspan><tspan dy="3.6">(H</tspan><tspan font-size="13" dy="3.8">2</tspan><tspan dy="-3.8">O)</tspan><tspan font-size="13" dy="3.8">8</tspan></text>
<rect x="546.0" y="274.2" width="233.8" height="233.8" fill="none" stroke="#2a2a2a" stroke-width="1.2"/>
<clipPath id="cp21U"><rect x="545.7" y="274.8" width="233.5" height="116.3"/></clipPath>
<g clip-path="url(#cp21U)"><g filter="url(#jet)">
<rect x="536.0" y="264.8" width="253.8" height="136.3" fill="#000"/>
<path d="M617 327 618 326 618 321 617 320 616 321 616 326Z" fill="#040404"/>
<path d="M644 285 645 283 645 277 644 275 643 277 643 283Z" fill="#040404"/>
<path d="M617 319 618 318 618 314 617 312 616 314 616 318Z" fill="#040404"/>
<path d="M638 293 639 290 639 281 638 278 637 281 637 290Z" fill="#040404"/>
<path d="M606 303 607 302 607 298 606 297 605 298 605 302Z" fill="#040404"/>
<path d="M646 280 647 278 647 271 646 268 645 271 645 278Z" fill="#040404"/>
<path d="M613 331 613 328 613 320 613 318 612 320 612 328Z" fill="#040404"/>
<path d="M617 309 618 307 618 301 617 299 616 301 616 307Z" fill="#040404"/>
<path d="M604 313 605 312 605 309 604 308 603 309 603 312Z" fill="#040404"/>
<path d="M608 318 609 317 609 311 608 309 608 311 608 317Z" fill="#040404"/>
<path d="M642 284 642 281 642 273 642 270 641 273 641 281Z" fill="#040404"/>
<path d="M625 317 626 315 626 312 625 311 624 312 624 315Z" fill="#040404"/>
<path d="M608 343 610 341 610 336 608 334 607 336 607 341Z" fill="#050505"/>
<path d="M606 281 607 279 607 275 606 273 605 275 605 279Z" fill="#050505"/>
<path d="M617 279 618 278 618 275 617 273 616 275 616 278Z" fill="#050505"/>
<path d="M625 285 626 283 626 276 625 273 624 276 624 283Z" fill="#050505"/>
<path d="M632 287 633 285 633 279 632 277 631 279 631 285Z" fill="#050505"/>
<path d="M610 326 611 325 611 321 610 319 609 321 609 325Z" fill="#050505"/>
<path d="M630 306 631 302 631 292 630 289 629 292 629 302Z" fill="#050505"/>
<path d="M565 374 568 371 572 367 576 363 578 360 581 357 584 354 586 351 589 347 592 343 595 339 597 336 599 333 603 327 609 318 617 307 628 296 638 288 646 280 654 271 660 263 662 259 656 270 655 288 654 280 654 273 654 269 654 266 736 265 737 268 738 273 738 275 738 272 737 292 727 309 716 318 705 325 695 332 686 340 680 349 675 355 671 361 667 367 662 375 658 381 655 386 653 389 651 393 647 397 644 401 640 406 636 410 632 415 628 420 624 424 621 427Z" fill="#050505"/>
<path d="M557 366 560 363 564 359 567 356 570 353 573 350 575 347 577 344 580 340 583 336 586 332 588 329 590 327 593 321 599 312 609 299 620 288 630 280 638 273 646 263 652 254 652 251 644 267 643 290 642 281 642 273 642 269 642 266 714 265 715 268 715 273 715 276 715 277 715 286 710 296 702 303 692 311 683 319 674 327 666 335 660 343 655 349 650 357 646 364 642 369 639 373 637 377 634 381 631 385 628 389 625 393 621 397 617 401 613 406 609 410 606 413Z" fill="#050505"/>
<path d="M541 485 541 471 540 451 540 432 541 417 541 402 541 385 541 363 541 338 541 315 541 296 541 280 541 268 551 268 551 280 551 296 551 315 551 338 551 363 551 385 551 402 551 417 552 432 552 451 551 471 551 485Z" fill="#050505"/>
<path d="M615 284 616 282 616 274 615 271 614 274 614 282Z" fill="#050505"/>
<path d="M615 299 616 296 616 289 615 286 614 289 614 296Z" fill="#050505"/>
<path d="M623 331 624 328 624 319 623 316 622 319 622 328Z" fill="#050505"/>
<path d="M615 329 616 327 616 322 615 320 614 322 614 327Z" fill="#050505"/>
<path d="M604 345 605 343 605 334 604 331 603 334 603 343Z" fill="#050505"/>
<path d="M606 296 607 294 607 285 606 282 605 285 605 294Z" fill="#060606"/>
<path d="M613 302 613 301 613 296 613 295 612 296 612 301Z" fill="#060606"/>
<path d="M600 309 601 306 601 299 600 297 599 299 599 306Z" fill="#060606"/>
<path d="M610 290 611 286 611 276 610 272 609 276 609 286Z" fill="#060606"/>
<path d="M602 308 603 306 603 299 602 297 601 299 601 306Z" fill="#060606"/>
<path d="M613 292 614 289 614 281 613 279 611 281 611 289Z" fill="#060606"/>
<path d="M617 299 618 297 618 290 617 288 616 290 616 297Z" fill="#060606"/>
<path d="M636 286 637 284 637 277 636 275 635 277 635 284Z" fill="#060606"/>
<path d="M619 310 620 309 620 305 619 304 618 305 618 309Z" fill="#060606"/>
<path d="M613 318 613 315 613 308 613 305 612 308 612 315Z" fill="#070707"/>
<path d="M602 330 603 329 603 326 602 325 601 326 601 329Z" fill="#070707"/>
<path d="M608 307 609 306 609 302 608 301 608 302 608 306Z" fill="#070707"/>
<path d="M619 319 620 318 620 313 619 311 618 313 618 318Z" fill="#070707"/>
<path d="M619 328 620 327 620 321 619 320 618 321 618 327Z" fill="#070707"/>
<path d="M621 284 622 282 622 274 621 271 620 274 620 282Z" fill="#070707"/>
<path d="M606 322 607 320 607 312 606 310 605 312 605 320Z" fill="#070707"/>
<path d="M615 338 616 336 616 332 615 330 614 332 614 336Z" fill="#080808"/>
<path d="M634 280 635 278 635 273 634 271 633 273 633 278Z" fill="#080808"/>
<path d="M615 310 616 308 616 302 615 300 614 302 614 308Z" fill="#080808"/>
<path d="M602 296 603 293 603 283 602 280 601 283 601 293Z" fill="#080808"/>
<path d="M630 288 631 285 631 277 630 274 629 277 629 285Z" fill="#080808"/>
<path d="M630 322 631 319 631 310 630 307 628 310 628 319Z" fill="#080808"/>
<path d="M593 295 594 294 594 290 593 288 592 290 592 294Z" fill="#080808"/>
<path d="M602 323 603 320 603 311 602 308 601 311 601 320Z" fill="#080808"/>
<path d="M593 319 594 318 594 314 593 313 592 314 592 318Z" fill="#080808"/>
<path d="M596 346 597 344 597 337 596 335 595 337 595 344Z" fill="#090909"/>
<path d="M598 310 599 309 599 303 598 301 597 303 597 309Z" fill="#090909"/>
<path d="M589 312 590 309 590 299 589 295 588 299 588 309Z" fill="#090909"/>
<path d="M591 344 592 341 592 333 591 331 590 333 590 341Z" fill="#0a0a0a"/>
<path d="M586 313 588 312 588 308 586 307 585 308 585 312Z" fill="#0a0a0a"/>
<path d="M600 349 601 346 601 336 600 332 598 336 598 346Z" fill="#0a0a0a"/>
<path d="M568 377 571 374 575 369 578 366 581 362 584 359 587 356 589 353 592 349 595 345 598 341 600 338 602 335 606 329 612 320 620 309 630 299 640 291 648 283 656 274 663 265 665 261 660 271 659 287 658 280 658 273 658 269 657 266 733 265 734 268 734 273 734 275 734 273 734 292 725 307 714 316 703 323 693 330 685 338 678 347 673 353 669 359 664 366 659 373 656 379 653 384 651 387 648 391 645 395 642 400 638 404 634 408 630 413 626 418 621 422 618 425Z" fill="#0a0a0a"/>
<path d="M565 374 568 371 572 366 575 363 578 360 581 356 583 353 586 350 588 347 591 342 594 339 596 336 599 333 602 327 608 318 617 306 627 296 637 288 645 280 653 271 659 262 661 258 655 270 654 288 653 280 653 273 653 269 653 266 711 265 711 268 711 273 711 276 712 277 712 286 707 294 699 301 690 309 681 317 672 325 664 333 658 341 652 348 648 355 643 362 640 368 637 371 635 375 632 379 629 383 626 387 622 391 619 395 615 399 611 404 607 408 604 411Z" fill="#0a0a0a"/>
<path d="M541 485 541 471 541 451 541 432 541 417 541 402 541 385 541 363 541 338 541 315 541 296 541 280 541 268 551 268 551 280 551 296 551 315 551 338 551 363 551 385 551 402 551 417 551 432 551 451 551 471 551 485Z" fill="#0a0a0a"/>
<path d="M589 285 590 282 590 273 589 270 588 273 588 282Z" fill="#0b0b0b"/>
<path d="M600 331 601 329 601 323 600 321 599 323 599 329Z" fill="#0b0b0b"/>
<path d="M586 353 588 352 588 349 586 347 585 349 585 352Z" fill="#0b0b0b"/>
<path d="M596 334 597 333 597 328 596 326 595 328 595 333Z" fill="#0b0b0b"/>
<path d="M582 343 583 342 583 339 582 338 581 339 581 342Z" fill="#0c0c0c"/>
<path d="M591 300 592 297 592 287 591 283 590 287 590 297Z" fill="#0c0c0c"/>
<path d="M586 294 588 293 588 290 586 289 585 290 585 293Z" fill="#0c0c0c"/>
<path d="M591 357 592 355 592 348 591 346 590 348 590 355Z" fill="#0c0c0c"/>
<path d="M596 309 597 307 597 300 596 297 595 300 595 307Z" fill="#0d0d0d"/>
<path d="M584 370 585 369 585 363 584 361 583 363 583 369Z" fill="#0d0d0d"/>
<path d="M589 321 590 319 590 315 589 314 588 315 588 319Z" fill="#0d0d0d"/>
<path d="M582 331 583 329 583 325 582 324 581 325 581 329Z" fill="#0d0d0d"/>
<path d="M582 375 583 373 583 366 582 364 581 366 581 373Z" fill="#0d0d0d"/>
<path d="M584 316 585 313 585 303 584 299 583 303 583 313Z" fill="#0d0d0d"/>
<path d="M598 335 599 332 599 325 598 323 597 325 597 332Z" fill="#0d0d0d"/>
<path d="M586 346 587 344 587 340 586 338 585 340 585 344Z" fill="#0d0d0d"/>
<path d="M580 354 581 352 581 346 580 344 579 346 579 352Z" fill="#0d0d0d"/>
<path d="M584 333 585 330 585 320 584 317 583 320 583 330Z" fill="#0d0d0d"/>
<path d="M591 311 592 309 592 303 591 301 590 303 590 309Z" fill="#0d0d0d"/>
<path d="M589 332 590 330 590 323 589 321 588 323 588 330Z" fill="#0e0e0e"/>
<path d="M584 341 585 340 585 335 584 334 583 335 583 340Z" fill="#0e0e0e"/>
<path d="M598 289 599 286 599 278 598 275 597 278 597 286Z" fill="#0e0e0e"/>
<path d="M593 287 594 284 594 278 593 275 592 278 592 284Z" fill="#0f0f0f"/>
<path d="M580 307 581 303 581 293 580 290 579 293 579 303Z" fill="#0f0f0f"/>
<path d="M571 304 572 303 572 298 571 296 570 298 570 303Z" fill="#0f0f0f"/>
<path d="M573 373 574 372 574 369 573 368 572 369 572 372Z" fill="#0f0f0f"/>
<path d="M589 371 590 368 590 361 589 359 588 361 588 368Z" fill="#0f0f0f"/>
<path d="M586 288 587 286 587 278 586 275 585 278 585 286Z" fill="#101010"/>
<path d="M596 355 597 354 597 350 596 349 595 350 595 354Z" fill="#101010"/>
<path d="M575 360 576 359 576 354 575 352 574 354 574 359Z" fill="#101010"/>
<path d="M589 357 590 355 590 349 589 347 588 349 588 355Z" fill="#101010"/>
<path d="M580 319 581 317 581 311 580 309 579 311 579 317Z" fill="#101010"/>
<path d="M596 297 597 293 597 284 596 281 595 284 595 293Z" fill="#101010"/>
<path d="M569 336 570 333 570 324 569 321 568 324 568 333Z" fill="#101010"/>
<path d="M593 304 594 302 594 299 593 297 592 299 592 302Z" fill="#101010"/>
<path d="M575 318 576 317 576 311 575 310 574 311 574 317Z" fill="#101010"/>
<path d="M593 311 594 310 594 306 593 305 592 306 592 310Z" fill="#101010"/>
<path d="M591 368 592 366 592 360 591 358 590 360 590 366Z" fill="#101010"/>
<path d="M586 307 588 305 588 298 586 296 585 298 585 305Z" fill="#101010"/>
<path d="M577 291 578 290 578 286 577 285 576 286 576 290Z" fill="#101010"/>
<path d="M570 378 573 375 577 371 580 368 583 364 586 361 589 358 591 354 594 351 597 347 600 343 602 340 605 337 608 331 614 322 622 311 632 301 642 293 650 285 658 276 665 267 667 263 662 272 661 287 661 280 661 273 660 269 660 266 730 265 731 268 732 273 732 275 732 274 731 291 723 306 712 314 702 321 692 328 683 337 676 345 671 352 667 358 662 365 658 372 654 378 651 382 649 386 646 390 643 394 640 398 636 403 632 407 628 411 624 416 620 421 617 424Z" fill="#111111"/>
<path d="M572 380 575 377 579 373 582 369 585 366 588 363 591 359 593 356 596 352 599 348 602 345 604 342 607 338 610 332 616 323 624 312 634 303 644 295 652 287 660 278 667 269 669 265 665 273 664 286 663 279 663 273 663 269 663 266 708 265 708 268 708 273 708 276 709 278 709 285 705 292 697 299 688 307 679 315 671 323 662 331 656 339 650 346 645 354 641 361 637 366 635 370 632 373 629 377 627 381 623 385 620 389 617 393 613 397 609 402 605 406 602 409Z" fill="#111111"/>
<path d="M542 485 542 471 541 451 541 432 542 417 542 402 542 385 542 363 542 338 542 315 542 296 542 280 542 268 550 268 550 280 550 296 550 315 550 338 550 363 550 385 550 402 550 417 551 432 551 451 550 471 550 485Z" fill="#111111"/>
<path d="M575 308 576 305 576 298 575 296 574 298 574 305Z" fill="#111111"/>
<path d="M580 341 580 340 580 336 580 334 579 336 579 340Z" fill="#111111"/>
<path d="M589 346 589 344 589 338 589 336 588 338 588 344Z" fill="#121212"/>
<path d="M586 337 588 335 588 327 586 325 585 327 585 335Z" fill="#131313"/>
<path d="M582 304 583 301 583 292 582 289 581 292 581 301Z" fill="#131313"/>
<path d="M563 354 564 352 564 347 563 345 562 347 562 352Z" fill="#141414"/>
<path d="M555 291 556 288 556 280 555 277 553 280 553 288Z" fill="#141414"/>
<path d="M555 315 555 313 555 307 555 305 554 307 554 313Z" fill="#141414"/>
<path d="M577 321 578 318 578 310 577 307 576 310 576 318Z" fill="#141414"/>
<path d="M559 302 560 301 560 298 559 297 558 298 558 301Z" fill="#141414"/>
<path d="M589 294 590 293 590 288 589 287 588 288 588 293Z" fill="#141414"/>
<path d="M582 321 583 318 583 309 582 306 581 309 581 318Z" fill="#151515"/>
<path d="M586 322 587 321 587 317 586 316 586 317 586 321Z" fill="#151515"/>
<path d="M555 384 555 382 555 374 555 371 554 374 554 382Z" fill="#151515"/>
<path d="M580 288 580 287 580 283 580 282 579 283 579 287Z" fill="#151515"/>
<path d="M571 380 572 377 572 370 571 367 570 370 570 377Z" fill="#151515"/>
<path d="M557 294 558 291 558 282 557 278 556 282 556 291Z" fill="#151515"/>
<path d="M573 364 574 362 574 353 573 350 572 353 572 362Z" fill="#151515"/>
<path d="M565 371 566 370 566 365 565 364 564 365 564 370Z" fill="#161616"/>
<path d="M565 389 566 386 566 375 565 372 564 375 564 386Z" fill="#161616"/>
<path d="M575 349 576 346 576 338 575 336 574 338 574 346Z" fill="#161616"/>
<path d="M584 288 585 286 585 281 584 279 583 281 583 286Z" fill="#161616"/>
<path d="M571 380 574 377 578 373 582 369 585 366 588 362 590 359 593 356 595 352 599 348 601 344 604 341 606 338 610 332 616 323 624 312 633 302 643 294 651 286 659 277 666 269 669 264 665 273 664 286 663 279 663 273 663 269 663 266 729 265 729 268 730 273 730 275 730 274 729 290 721 305 711 313 700 320 691 327 682 335 675 344 670 351 665 357 661 364 656 371 652 377 650 381 648 385 645 388 642 393 638 397 635 401 631 406 627 410 623 415 618 419 615 422Z" fill="#171717"/>
<path d="M579 387 582 384 586 380 589 376 592 372 595 369 598 365 601 362 604 358 607 354 609 350 612 347 615 343 618 337 624 328 631 318 641 309 650 301 658 293 666 285 674 276 677 271 675 275 674 284 673 279 674 273 673 269 673 266 705 265 705 268 705 273 705 277 706 278 706 284 702 290 695 297 686 305 677 313 669 321 661 330 654 337 648 345 643 353 639 360 635 365 633 368 630 372 627 376 624 379 621 383 618 387 615 391 611 396 607 400 603 404 600 407Z" fill="#171717"/>
<path d="M542 485 542 471 542 451 542 432 542 417 542 402 542 385 542 363 542 338 542 315 542 296 542 280 542 268 550 268 550 280 550 296 550 315 550 338 550 363 550 385 550 402 550 417 550 432 550 451 550 471 550 485Z" fill="#171717"/>
<path d="M575 293 576 292 576 287 575 286 574 287 574 292Z" fill="#171717"/>
<path d="M571 385 572 384 572 381 571 380 570 381 570 384Z" fill="#171717"/>
<path d="M575 284 576 281 576 272 575 269 574 272 574 281Z" fill="#181818"/>
<path d="M567 298 568 295 568 287 567 284 566 287 566 295Z" fill="#181818"/>
<path d="M567 282 568 279 568 271 567 268 567 271 567 279Z" fill="#181818"/>
<path d="M567 349 568 346 568 336 567 332 566 336 566 346Z" fill="#181818"/>
<path d="M548 325 549 323 549 320 548 318 547 320 547 323Z" fill="#181818"/>
<path d="M553 311 553 310 553 305 553 304 552 305 552 310Z" fill="#191919"/>
<path d="M557 306 558 304 558 297 557 295 556 297 556 304Z" fill="#191919"/>
<path d="M567 390 568 386 568 376 567 373 566 376 566 386Z" fill="#191919"/>
<path d="M575 334 576 331 576 322 575 319 574 322 574 331Z" fill="#191919"/>
<path d="M577 350 578 347 578 339 577 336 576 339 576 347Z" fill="#1a1a1a"/>
<path d="M569 317 570 316 570 313 569 312 568 313 568 316Z" fill="#1a1a1a"/>
<path d="M582 338 583 337 583 333 582 331 581 333 581 337Z" fill="#1b1b1b"/>
<path d="M553 277 554 275 554 272 553 270 551 272 551 275Z" fill="#1b1b1b"/>
<path d="M553 289 553 287 553 281 553 279 552 281 552 287Z" fill="#1b1b1b"/>
<path d="M567 332 568 329 568 321 567 318 566 321 566 329Z" fill="#1b1b1b"/>
<path d="M575 372 576 370 576 364 575 361 574 364 574 370Z" fill="#1b1b1b"/>
<path d="M577 285 578 282 578 273 577 271 576 273 576 282Z" fill="#1c1c1c"/>
<path d="M548 282 549 279 549 269 548 266 547 269 547 279Z" fill="#1c1c1c"/>
<path d="M580 368 581 365 581 359 580 357 579 359 579 365Z" fill="#1c1c1c"/>
<path d="M563 367 564 365 564 357 563 354 562 357 562 365Z" fill="#1c1c1c"/>
<path d="M563 379 564 377 564 372 563 370 562 372 562 377Z" fill="#1c1c1c"/>
<path d="M555 303 556 300 556 294 555 292 553 294 553 300Z" fill="#1c1c1c"/>
<path d="M565 330 566 327 566 318 565 315 564 318 564 327Z" fill="#1c1c1c"/>
<path d="M562 387 563 386 563 381 562 379 561 381 561 386Z" fill="#1d1d1d"/>
<path d="M582 374 583 371 583 363 582 360 581 363 581 371Z" fill="#1d1d1d"/>
<path d="M550 294 551 291 551 281 550 277 550 281 550 291Z" fill="#1d1d1d"/>
<path d="M559 295 560 292 560 282 559 279 558 282 558 292Z" fill="#1d1d1d"/>
<path d="M577 305 578 302 578 295 577 293 576 295 576 302Z" fill="#1d1d1d"/>
<path d="M579 373 580 372 580 368 579 367 579 368 579 372Z" fill="#1d1d1d"/>
<path d="M573 350 574 348 574 342 573 340 572 342 572 348Z" fill="#1e1e1e"/>
<path d="M570 388 571 385 571 376 570 373 569 376 569 385Z" fill="#1e1e1e"/>
<path d="M553 328 553 325 553 315 553 312 552 315 552 325Z" fill="#1e1e1e"/>
<path d="M573 381 576 378 580 374 583 370 586 367 589 363 592 360 594 357 597 353 600 349 603 345 605 342 608 339 612 333 617 324 625 313 635 304 644 295 653 288 661 279 668 270 670 266 667 273 666 286 665 279 665 273 665 269 665 266 727 265 727 268 728 273 728 275 728 274 727 290 720 304 710 312 699 319 690 326 681 334 674 343 668 350 664 356 660 363 655 370 651 376 648 380 646 384 644 388 640 392 637 396 633 400 630 405 626 409 622 414 617 418 614 421Z" fill="#1f1f1f"/>
<path d="M542 485 542 471 542 451 542 432 542 417 542 402 542 385 542 363 543 338 543 315 542 296 542 280 542 268 550 268 550 280 550 296 549 315 549 338 550 363 550 385 550 402 550 417 550 432 550 451 550 471 550 485Z" fill="#1f1f1f"/>
<path d="M573 338 574 335 574 326 573 323 572 326 572 335Z" fill="#1f1f1f"/>
<path d="M561 319 562 317 562 309 561 307 560 309 560 317Z" fill="#1f1f1f"/>
<path d="M553 361 554 358 554 349 553 346 551 349 551 358Z" fill="#202020"/>
<path d="M560 386 561 385 561 380 560 379 559 380 559 385Z" fill="#202020"/>
<path d="M573 321 574 318 574 311 573 308 572 311 572 318Z" fill="#202020"/>
<path d="M559 331 560 329 560 322 559 320 558 322 558 329Z" fill="#202020"/>
<path d="M573 306 574 303 574 293 573 289 572 293 572 303Z" fill="#202020"/>
<path d="M595 386 596 383 596 374 595 371 594 374 594 383Z" fill="#212121"/>
<path d="M571 337 572 334 572 323 571 320 570 323 570 334Z" fill="#212121"/>
<path d="M582 390 583 387 583 378 582 375 581 378 581 387Z" fill="#212121"/>
<path d="M558 388 559 385 559 379 558 376 557 379 557 385Z" fill="#222222"/>
<path d="M572 377 574 376 574 373 572 372 571 373 571 376Z" fill="#222222"/>
<path d="M559 373 560 370 560 362 559 359 558 362 558 370Z" fill="#222222"/>
<path d="M548 362 549 360 549 355 548 353 547 355 547 360Z" fill="#222222"/>
<path d="M557 337 558 336 558 333 557 331 556 333 556 336Z" fill="#232323"/>
<path d="M569 370 570 367 570 359 569 357 568 359 568 367Z" fill="#232323"/>
<path d="M550 308 551 307 551 303 550 301 549 303 549 307Z" fill="#232323"/>
<path d="M565 347 566 344 566 334 565 330 564 334 564 344Z" fill="#242424"/>
<path d="M566 386 567 384 567 378 566 376 565 378 565 384Z" fill="#242424"/>
<path d="M597 385 598 383 598 377 597 375 596 377 596 383Z" fill="#242424"/>
<path d="M579 390 580 387 580 377 579 374 578 377 578 387Z" fill="#242424"/>
<path d="M569 309 570 308 570 304 569 303 569 304 569 308Z" fill="#252525"/>
<path d="M559 389 560 386 560 377 559 374 558 377 558 386Z" fill="#252525"/>
<path d="M567 315 569 312 569 304 567 301 566 304 566 312Z" fill="#252525"/>
<path d="M565 313 566 311 566 307 565 305 564 307 564 311Z" fill="#252525"/>
<path d="M567 360 568 358 568 353 567 351 566 353 566 358Z" fill="#252525"/>
<path d="M561 349 562 347 562 340 561 337 560 340 560 347Z" fill="#252525"/>
<path d="M565 361 566 359 566 351 565 348 564 351 564 359Z" fill="#262626"/>
<path d="M557 276 558 275 558 272 557 271 556 272 556 275Z" fill="#262626"/>
<path d="M565 287 566 283 566 273 565 270 564 273 564 283Z" fill="#262626"/>
<path d="M561 334 562 331 562 323 561 320 560 323 560 331Z" fill="#272727"/>
<path d="M550 363 551 361 551 354 550 352 550 354 550 361Z" fill="#272727"/>
<path d="M561 366 562 363 562 354 561 351 560 354 560 363Z" fill="#272727"/>
<path d="M574 382 577 379 581 375 585 371 588 368 590 365 593 361 596 358 598 354 602 350 604 346 607 343 609 340 613 334 619 325 627 314 636 305 646 297 654 289 662 280 669 271 672 267 668 274 668 285 667 279 667 273 667 269 667 266 725 265 726 268 726 273 726 275 726 289 718 303 709 310 698 318 689 325 680 333 673 342 667 349 663 355 658 362 654 369 650 375 647 379 645 383 642 387 639 391 636 395 632 399 629 404 625 408 620 413 616 417 613 420Z" fill="#282828"/>
<path d="M543 485 543 471 542 451 542 432 542 417 543 402 543 385 543 363 543 338 543 315 543 296 543 280 543 268 549 268 549 280 549 296 549 315 549 338 549 363 549 385 549 402 550 417 550 432 550 451 549 471 549 485Z" fill="#282828"/>
<path d="M561 305 562 303 562 296 561 294 560 296 560 303Z" fill="#282828"/>
<path d="M559 357 560 355 560 350 559 348 558 350 558 355Z" fill="#282828"/>
<path d="M550 377 551 375 551 367 550 365 549 367 549 375Z" fill="#282828"/>
<path d="M591 389 592 387 592 379 591 377 590 379 590 387Z" fill="#282828"/>
<path d="M561 371 562 370 562 367 561 366 560 367 560 370Z" fill="#292929"/>
<path d="M561 285 562 283 562 275 561 273 560 275 560 283Z" fill="#292929"/>
<path d="M563 388 564 387 564 383 563 382 562 383 562 387Z" fill="#292929"/>
<path d="M559 347 560 345 560 337 559 334 558 337 558 345Z" fill="#292929"/>
<path d="M548 289 549 287 549 284 548 283 547 284 547 287Z" fill="#2a2a2a"/>
<path d="M557 357 558 354 558 344 557 340 556 344 556 354Z" fill="#2a2a2a"/>
<path d="M550 371 551 369 551 366 550 365 549 366 549 369Z" fill="#2a2a2a"/>
<path d="M575 369 576 367 576 363 575 361 574 363 574 367Z" fill="#2a2a2a"/>
<path d="M555 332 555 329 555 319 555 315 554 319 554 329Z" fill="#2a2a2a"/>
<path d="M550 340 551 338 551 335 550 334 549 335 549 338Z" fill="#2b2b2b"/>
<path d="M557 315 558 314 558 309 557 308 556 309 556 314Z" fill="#2b2b2b"/>
<path d="M548 334 549 332 549 328 548 327 547 328 547 332Z" fill="#2b2b2b"/>
<path d="M553 302 553 300 553 293 553 291 552 293 552 300Z" fill="#2c2c2c"/>
<path d="M550 381 551 379 551 374 550 372 550 374 550 379Z" fill="#2c2c2c"/>
<path d="M559 318 560 315 560 308 559 305 558 308 558 315Z" fill="#2c2c2c"/>
<path d="M562 376 563 375 563 371 562 370 561 371 561 375Z" fill="#2c2c2c"/>
<path d="M570 373 571 370 571 362 570 359 569 362 569 370Z" fill="#2c2c2c"/>
<path d="M557 388 558 386 558 379 557 377 556 379 556 386Z" fill="#2d2d2d"/>
<path d="M550 388 551 386 551 380 550 378 549 380 549 386Z" fill="#2d2d2d"/>
<path d="M584 389 585 386 585 377 584 374 583 377 583 386Z" fill="#2d2d2d"/>
<path d="M564 375 565 374 565 370 564 369 563 370 563 374Z" fill="#2d2d2d"/>
<path d="M566 373 567 370 567 360 566 357 565 360 565 370Z" fill="#2d2d2d"/>
<path d="M555 357 556 356 556 352 555 351 554 352 554 356Z" fill="#2f2f2f"/>
<path d="M568 384 569 381 569 375 568 373 567 375 567 381Z" fill="#2f2f2f"/>
<path d="M553 344 554 341 554 332 553 329 551 332 551 341Z" fill="#2f2f2f"/>
<path d="M550 277 551 275 551 271 550 269 549 271 549 275Z" fill="#303030"/>
<path d="M555 351 556 348 556 338 555 335 553 338 553 348Z" fill="#303030"/>
<path d="M553 375 554 372 554 365 553 363 551 365 551 372Z" fill="#303030"/>
<path d="M575 384 578 381 582 376 586 372 589 369 592 366 594 362 597 359 600 355 603 351 606 347 608 344 611 341 614 335 620 326 628 315 637 306 647 298 655 290 663 281 670 272 673 268 670 274 669 285 668 279 668 273 668 269 668 266 724 265 724 268 725 273 725 275 724 289 717 302 708 309 697 317 688 324 679 333 672 341 666 348 662 354 657 361 653 369 649 374 646 379 644 382 641 386 638 390 635 394 631 399 628 403 624 407 619 412 615 416 612 419Z" fill="#303030"/>
<path d="M543 485 543 471 543 451 543 432 543 417 543 402 543 385 543 363 543 338 543 315 543 296 543 280 543 268 549 268 549 280 549 296 549 315 549 338 549 363 549 385 549 402 549 417 549 432 549 451 549 471 549 485Z" fill="#303030"/>
<path d="M550 319 551 317 551 311 550 310 549 311 549 317Z" fill="#323232"/>
<path d="M550 300 551 299 551 296 550 295 549 296 549 299Z" fill="#333333"/>
<path d="M575 387 576 383 576 374 575 370 573 374 573 383Z" fill="#353535"/>
<path d="M572 387 573 386 573 381 572 380 572 381 572 386Z" fill="#353535"/>
<path d="M552 371 553 370 553 367 552 366 551 367 551 370Z" fill="#363636"/>
<path d="M568 371 569 369 569 362 568 360 567 362 567 369Z" fill="#363636"/>
<path d="M558 375 559 373 559 367 558 366 557 367 557 373Z" fill="#373737"/>
<path d="M556 389 557 387 557 381 556 379 555 381 555 387Z" fill="#393939"/>
<path d="M576 385 579 382 583 377 587 374 590 370 593 367 596 363 598 360 601 356 604 352 607 348 609 345 612 342 616 335 621 327 629 316 638 307 648 299 656 291 664 282 671 274 675 269 672 275 671 285 670 279 670 273 670 269 670 266 722 265 723 268 723 273 723 275 723 289 716 301 707 308 697 316 687 323 679 332 671 340 665 347 661 353 656 361 652 368 648 374 645 378 643 381 640 385 637 389 634 393 630 398 627 402 623 406 618 411 614 415 611 418Z" fill="#3b3b3b"/>
<path d="M543 485 543 471 543 451 543 432 543 417 543 402 543 385 543 363 544 338 544 315 543 296 543 280 543 268 549 268 549 280 549 296 548 315 548 338 549 363 549 385 549 402 549 417 549 432 549 451 549 471 549 485Z" fill="#3b3b3b"/>
<path d="M572 369 574 368 574 363 572 362 571 363 571 368Z" fill="#3f3f3f"/>
<path d="M586 391 587 390 587 387 586 386 585 387 585 390Z" fill="#3f3f3f"/>
<path d="M556 379 557 376 557 366 556 363 555 366 555 376Z" fill="#424242"/>
<path d="M578 386 581 383 585 379 588 375 591 371 594 368 597 364 600 361 603 357 606 353 609 350 611 346 614 343 617 336 623 328 630 318 640 308 649 300 657 292 665 284 673 275 676 270 674 275 673 284 672 279 672 273 672 269 672 266 720 265 721 268 721 273 721 276 721 275 721 288 715 300 706 307 695 315 686 322 678 331 670 339 664 346 659 353 655 360 650 367 646 373 644 377 641 380 639 384 636 388 632 392 629 397 625 401 621 405 617 410 613 414 610 417Z" fill="#4a4a4a"/>
<path d="M544 485 543 471 543 451 543 432 543 417 544 402 544 385 544 363 544 338 544 315 544 296 544 280 544 268 548 268 548 280 548 296 548 315 548 338 548 363 548 385 548 402 549 417 549 432 549 451 549 471 548 485Z" fill="#4a4a4a"/>
<path d="M580 388 582 385 586 381 590 377 593 373 596 369 599 366 602 362 605 359 608 355 610 351 613 348 616 344 620 338 625 329 632 319 641 310 651 302 659 294 667 285 675 277 678 272 676 276 676 284 675 279 675 273 675 269 675 266 718 265 718 268 719 273 719 276 719 287 713 298 704 306 694 313 685 321 676 329 669 338 662 345 658 351 653 359 648 366 645 371 642 375 640 379 637 383 634 387 631 391 627 395 624 399 620 404 616 408 611 413 608 416Z" fill="#5e5e5e"/>
<path d="M544 485 544 471 544 451 544 432 544 417 544 402 544 385 545 363 545 338 545 315 545 296 544 280 544 268 548 268 548 280 547 296 547 315 547 338 547 363 548 385 548 402 548 417 548 432 548 451 548 471 548 485Z" fill="#5e5e5e"/>
<path d="M581 389 584 386 588 382 592 378 595 374 598 371 601 367 604 364 606 360 609 356 612 352 615 349 617 345 621 339 627 330 634 321 643 312 652 304 660 296 669 287 676 278 680 273 679 276 678 284 677 278 677 273 677 269 677 266 716 265 716 268 717 273 717 276 717 287 711 297 703 304 693 312 683 320 675 328 667 336 661 344 656 350 651 358 647 365 643 370 641 374 638 378 635 382 632 386 629 390 626 394 622 398 619 402 614 407 610 411 607 414Z" fill="#737373"/>
<path d="M545 485 545 471 545 451 544 432 545 417 545 402 546 385 546 363 546 338 546 315 546 296 545 280 545 268 547 268 547 280 546 296 546 315 546 338 546 363 546 385 547 402 547 417 548 432 547 451 547 471 547 485Z" fill="#737373"/>
<path d="M583 391 586 388 590 384 593 379 597 376 600 372 603 369 605 365 608 361 611 357 614 354 616 350 619 346 623 340 629 332 636 322 644 313 653 305 662 297 670 289 678 280 682 275 681 277 680 283 679 278 679 273 679 269 679 266 714 265 714 268 715 273 715 276 715 277 715 286 710 296 701 303 692 311 682 319 674 327 666 335 660 342 655 349 650 357 646 364 642 369 639 373 637 377 634 380 631 384 628 389 624 393 621 397 617 401 613 406 609 410 606 413Z" fill="#878787"/>
<path d="M546 485 546 471 545 451 545 432 546 417 546 402 546 385 546 363 546 338 546 315 546 296 546 280 546 268 546 280 546 296 546 315 546 338 546 363 546 385 546 402 546 417 547 432 547 451 546 471 546 485Z" fill="#878787"/>
<path d="M584 392 587 389 591 385 595 381 598 377 601 374 604 370 607 366 610 363 613 359 616 355 618 352 621 348 625 341 630 333 637 323 646 315 655 307 663 299 672 290 679 282 684 276 683 278 682 283 682 278 682 273 682 269 682 266 712 265 712 268 713 273 713 276 713 277 713 286 708 295 700 302 691 310 681 318 673 326 665 334 658 341 653 348 649 356 644 363 640 368 638 372 635 376 633 379 630 383 626 388 623 392 620 396 616 400 612 404 607 409 604 412Z" fill="#9c9c9c"/>
<path d="M586 394 589 391 593 386 597 382 600 379 603 375 606 371 609 368 612 364 614 360 617 356 620 353 623 349 627 342 632 334 639 325 647 316 656 308 665 300 673 292 681 283 686 277 685 278 685 282 684 278 684 273 684 269 684 266 710 265 710 268 711 273 711 276 711 277 711 285 706 293 699 301 689 308 680 316 672 324 664 333 657 340 652 347 647 355 643 362 639 367 636 371 634 374 631 378 628 382 625 386 622 390 618 395 614 399 610 403 606 408 603 411Z" fill="#b0b0b0"/>
<path d="M587 395 590 392 594 388 598 384 602 380 605 376 608 373 611 369 613 365 616 361 619 358 622 354 625 350 629 344 634 335 641 326 649 318 658 310 666 302 675 293 683 285 688 279 687 282 687 278 687 273 687 269 687 266 708 265 708 268 708 273 708 276 709 278 709 285 705 292 697 299 688 307 679 315 671 323 662 331 656 339 650 346 645 354 641 361 637 366 635 370 632 373 629 377 626 381 623 385 620 389 617 393 613 397 609 402 605 406 602 409Z" fill="#c4c4c4"/>
<path d="M590 397 592 394 597 390 600 386 604 382 607 378 610 375 613 371 616 367 619 363 621 360 624 356 627 352 631 345 636 337 643 328 651 320 660 312 668 304 677 295 685 287 690 281 691 280 690 281 690 278 690 273 690 269 690 266 705 265 705 268 705 273 705 277 706 278 706 284 702 290 695 297 686 305 677 313 669 322 661 330 654 337 648 345 643 353 639 360 635 365 633 368 630 372 627 376 624 380 621 384 618 388 615 392 611 396 607 400 603 404 600 407Z" fill="#d9d9d9"/>
<path d="M593 400 596 397 600 393 604 389 607 385 610 381 613 377 616 373 619 370 622 366 625 362 628 359 631 354 635 347 640 339 646 331 654 323 663 315 671 307 680 298 688 290 694 284 695 281 695 280 694 277 694 273 694 269 694 265 701 265 701 269 701 273 701 277 702 279 702 283 699 288 693 295 684 303 675 311 667 319 658 327 651 335 645 343 640 351 636 358 633 362 630 366 627 369 624 373 622 377 618 381 615 385 612 389 608 393 604 397 600 402 597 405Z" fill="#ebebeb"/>
<path d="M690 282 692 281 692 279 690 278 688 279 688 281Z" fill="#f8f8f8"/>
<path d="M675 313 677 312 677 310 675 309 674 310 674 312Z" fill="#f8f8f8"/>
<path d="M641 340 643 339 643 337 641 336 639 337 639 339Z" fill="#f9f9f9"/>
<path d="M613 394 614 392 614 390 613 389 611 390 611 392Z" fill="#f9f9f9"/>
<path d="M611 386 613 385 613 383 611 382 609 383 609 385Z" fill="#fafafa"/>
<path d="M661 316 663 315 663 313 661 312 660 313 660 315Z" fill="#fafafa"/>
<path d="M698 272 700 271 700 268 698 267 696 268 696 271Z" fill="#fbfbfb"/>
<path d="M703 284 705 282 705 280 703 279 701 280 701 282Z" fill="#fbfbfb"/>
<path d="M695 285 697 284 697 282 695 281 693 282 693 284Z" fill="#fbfbfb"/>
<path d="M698 279 700 278 700 276 698 274 696 276 696 278Z" fill="#fbfbfb"/>
<path d="M629 363 630 362 630 360 629 359 628 360 628 362Z" fill="#fdfdfd"/>
<path d="M616 382 617 381 617 379 616 378 614 379 614 381Z" fill="#fdfdfd"/>
<path d="M606 395 608 394 608 392 606 391 605 392 605 394Z" fill="#fdfdfd"/>
<path d="M650 331 652 330 652 329 650 328 648 329 648 330Z" fill="#fefefe"/>
<path d="M695 294 697 293 697 291 695 290 693 291 693 293Z" fill="#fefefe"/>
<path d="M704 271 706 271 706 269 704 268 702 269 702 271Z" fill="#ffffff"/>
</g></g>
<clipPath id="cp21L"><rect x="545.7" y="402.8" width="233.5" height="81.8"/></clipPath>
<g clip-path="url(#cp21L)"><g filter="url(#jet)">
<rect x="536.0" y="392.8" width="253.8" height="101.8" fill="#000"/>
<g filter="url(#soft)">
<path d="M546 482 569 482 593 438 569 426 546 426Z" fill="#080808"/>
<path d="M546 444 561 438 564 420 546 417Z" fill="#333333"/>
</g>
<path d="M535 396 542 394 551 392 559 389 565 387 570 386 576 384 582 382 588 381 594 380 600 379 607 379 612 378 621 413 617 415 610 418 604 421 598 423 592 425 587 427 582 428 576 429 569 431 561 432 552 434 545 435Z" fill="#050505"/>
<path d="M541 485 541 471 540 451 540 432 541 417 541 402 541 385 541 363 541 338 541 315 541 296 541 280 541 268 551 268 551 280 551 296 551 315 551 338 551 363 551 385 551 402 551 417 552 432 552 451 551 471 551 485Z" fill="#050505"/>
<path d="M546 428 569 432 569 444 546 448Z" fill="#050505"/>
<path d="M556 461 557 460 557 456 556 455 555 456 555 460Z" fill="#090909"/>
<path d="M722 469 723 468 723 464 722 462 721 464 721 468Z" fill="#090909"/>
<path d="M778 479 779 476 779 469 778 466 777 469 777 476Z" fill="#090909"/>
<path d="M738 479 739 478 739 474 738 472 737 474 737 478Z" fill="#0a0a0a"/>
<path d="M602 458 603 455 603 446 602 443 601 446 601 455Z" fill="#0a0a0a"/>
<path d="M654 467 655 466 655 462 654 460 653 462 653 466Z" fill="#0a0a0a"/>
<path d="M700 472 702 470 702 464 700 462 699 464 699 470Z" fill="#0a0a0a"/>
<path d="M536 398 542 396 551 393 559 391 565 389 571 387 577 386 583 384 589 383 594 382 601 381 607 381 612 380 621 411 616 413 610 416 603 419 597 421 592 423 586 425 581 426 575 427 569 429 560 430 551 432 545 433Z" fill="#0a0a0a"/>
<path d="M541 485 541 471 541 451 541 432 541 417 541 402 541 385 541 363 541 338 541 315 541 296 541 280 541 268 551 268 551 280 551 296 551 315 551 338 551 363 551 385 551 402 551 417 551 432 551 451 551 471 551 485Z" fill="#0a0a0a"/>
<path d="M546 429 569 433 569 442 546 446Z" fill="#0a0a0a"/>
<path d="M727 481 728 478 728 472 727 470 726 472 726 478Z" fill="#0a0a0a"/>
<path d="M749 481 750 479 750 473 749 471 749 473 749 479Z" fill="#0a0a0a"/>
<path d="M743 470 744 468 744 462 743 460 742 462 742 468Z" fill="#0b0b0b"/>
<path d="M772 479 773 478 773 473 772 472 771 473 771 478Z" fill="#0b0b0b"/>
<path d="M642 469 643 468 643 463 642 462 641 463 641 468Z" fill="#0c0c0c"/>
<path d="M663 479 664 477 664 472 663 470 662 472 662 477Z" fill="#0c0c0c"/>
<path d="M734 466 735 465 735 460 734 458 732 460 732 465Z" fill="#0c0c0c"/>
<path d="M748 472 749 470 749 465 748 463 746 465 746 470Z" fill="#0d0d0d"/>
<path d="M691 462 692 459 692 450 691 447 690 450 690 459Z" fill="#0e0e0e"/>
<path d="M659 461 660 459 660 450 659 448 658 450 658 459Z" fill="#0e0e0e"/>
<path d="M583 465 584 463 584 457 583 455 582 457 582 463Z" fill="#0e0e0e"/>
<path d="M561 477 561 475 561 468 561 466 560 468 560 475Z" fill="#0e0e0e"/>
<path d="M681 481 682 479 682 472 681 470 680 472 680 479Z" fill="#0f0f0f"/>
<path d="M694 470 695 469 695 465 694 463 692 465 692 469Z" fill="#101010"/>
<path d="M716 478 717 476 717 470 716 468 715 470 715 476Z" fill="#101010"/>
<path d="M536 399 543 397 551 395 559 393 565 391 571 389 577 387 583 386 589 384 595 384 601 383 608 382 612 382 620 410 616 412 609 415 603 417 597 420 591 422 586 423 581 425 575 426 568 427 560 428 551 430 544 431Z" fill="#111111"/>
<path d="M542 485 542 471 541 451 541 432 542 417 542 402 542 385 542 363 542 338 542 315 542 296 542 280 542 268 550 268 550 280 550 296 550 315 550 338 550 363 550 385 550 402 550 417 551 432 551 451 550 471 550 485Z" fill="#111111"/>
<path d="M546 431 569 435 569 441 546 445Z" fill="#111111"/>
<path d="M593 473 594 470 594 462 593 459 592 462 592 470Z" fill="#111111"/>
<path d="M758 471 759 469 759 463 758 460 757 463 757 469Z" fill="#111111"/>
<path d="M691 481 692 479 692 473 691 471 690 473 690 479Z" fill="#111111"/>
<path d="M630 466 630 463 630 453 630 449 629 453 629 463Z" fill="#121212"/>
<path d="M617 481 618 479 618 474 617 472 616 474 616 479Z" fill="#131313"/>
<path d="M600 476 601 474 601 469 600 467 599 469 599 474Z" fill="#131313"/>
<path d="M578 477 579 475 579 470 578 469 578 470 578 475Z" fill="#131313"/>
<path d="M652 465 653 462 653 453 652 451 651 453 651 462Z" fill="#131313"/>
<path d="M640 468 641 466 641 461 640 459 639 461 639 466Z" fill="#131313"/>
<path d="M743 480 744 478 744 474 743 473 742 474 742 478Z" fill="#131313"/>
<path d="M576 480 577 477 577 466 576 463 575 466 575 477Z" fill="#141414"/>
<path d="M659 477 660 475 660 467 659 464 658 467 658 475Z" fill="#141414"/>
<path d="M556 482 557 480 557 476 556 475 555 476 555 480Z" fill="#141414"/>
<path d="M589 478 590 476 590 472 589 470 588 472 588 476Z" fill="#141414"/>
<path d="M550 482 551 479 551 470 550 467 549 470 549 479Z" fill="#141414"/>
<path d="M537 400 543 398 552 396 560 394 566 392 571 390 577 388 583 387 589 385 595 385 601 384 608 383 613 383 620 409 615 411 609 414 603 416 597 419 591 421 586 422 580 424 575 425 568 426 559 427 550 429 544 430Z" fill="#171717"/>
<path d="M542 485 542 471 542 451 542 432 542 417 542 402 542 385 542 363 542 338 542 315 542 296 542 280 542 268 550 268 550 280 550 296 550 315 550 338 550 363 550 385 550 402 550 417 550 432 550 451 550 471 550 485Z" fill="#171717"/>
<path d="M546 431 569 436 569 440 546 444Z" fill="#171717"/>
<path d="M537 401 543 400 552 397 560 395 566 393 571 391 577 389 583 387 589 386 595 386 602 385 608 384 613 384 619 407 615 410 609 413 602 415 597 417 591 419 585 421 580 422 574 424 568 425 559 426 550 428 544 429Z" fill="#1f1f1f"/>
<path d="M542 485 542 471 542 451 542 432 542 417 542 402 542 385 542 363 543 338 543 315 542 296 542 280 542 268 550 268 550 280 550 296 549 315 549 338 550 363 550 385 550 402 550 417 550 432 550 451 550 471 550 485Z" fill="#1f1f1f"/>
<path d="M546 432 569 438 546 443Z" fill="#1f1f1f"/>
<path d="M537 402 543 401 552 398 560 396 566 393 572 392 578 390 584 388 590 387 595 386 602 386 609 385 613 385 619 406 615 409 609 412 602 414 596 416 591 418 585 420 580 421 574 422 567 424 559 425 550 426 543 427Z" fill="#282828"/>
<path d="M543 485 543 471 542 451 542 432 542 417 543 402 543 385 543 363 543 338 543 315 543 296 543 280 543 268 549 268 549 280 549 296 549 315 549 338 549 363 549 385 549 402 550 417 550 432 550 451 549 471 549 485Z" fill="#282828"/>
<path d="M546 433 569 438 546 442Z" fill="#282828"/>
<path d="M537 403 544 401 552 399 560 396 566 394 572 392 578 391 584 389 590 388 595 387 602 387 609 386 614 386 619 405 615 408 608 411 602 413 596 416 590 418 585 419 579 421 574 422 567 423 559 424 550 425 543 426Z" fill="#303030"/>
<path d="M543 485 543 471 543 451 543 432 543 417 543 402 543 385 543 363 543 338 543 315 543 296 543 280 543 268 549 268 549 280 549 296 549 315 549 338 549 363 549 385 549 402 549 417 549 432 549 451 549 471 549 485Z" fill="#303030"/>
<path d="M546 434 569 438 546 441Z" fill="#303030"/>
<path d="M538 404 544 402 553 400 561 397 567 395 572 393 578 391 584 390 590 389 596 388 602 387 609 387 614 387 619 404 614 407 608 410 602 412 596 415 590 417 585 418 579 420 573 421 567 422 558 423 549 424 543 425Z" fill="#3b3b3b"/>
<path d="M543 485 543 471 543 451 543 432 543 417 543 402 543 385 543 363 544 338 544 315 543 296 543 280 543 268 549 268 549 280 549 296 548 315 548 338 549 363 549 385 549 402 549 417 549 432 549 451 549 471 549 485Z" fill="#3b3b3b"/>
<path d="M546 436 569 438 546 440Z" fill="#3b3b3b"/>
<path d="M538 406 544 404 553 401 561 398 567 396 572 394 578 392 584 391 590 390 596 389 603 389 609 388 614 388 618 403 614 405 608 408 601 411 596 414 590 416 584 417 579 419 573 419 567 420 558 422 549 423 543 424Z" fill="#4a4a4a"/>
<path d="M544 485 543 471 543 451 543 432 543 417 544 402 544 385 544 363 544 338 544 315 544 296 544 280 544 268 548 268 548 280 548 296 548 315 548 338 548 363 548 385 548 402 549 417 549 432 549 451 549 471 548 485Z" fill="#4a4a4a"/>
<path d="M552 483 556 483 556 480 552 480Z" fill="#4c4c4c"/>
<path d="M603 483 607 483 607 480 603 480Z" fill="#4c4c4c"/>
<path d="M654 483 658 483 658 480 654 480Z" fill="#4c4c4c"/>
<path d="M704 483 708 483 708 480 704 480Z" fill="#4c4c4c"/>
<path d="M755 483 759 483 759 480 755 480Z" fill="#4c4c4c"/>
<path d="M538 407 545 405 553 402 561 400 567 397 573 395 578 393 585 392 590 391 596 391 603 390 610 390 615 390 618 400 613 403 607 407 601 410 595 412 590 414 584 416 579 417 573 418 566 419 558 420 549 421 542 422Z" fill="#5e5e5e"/>
<path d="M544 485 544 471 544 451 544 432 544 417 544 402 544 385 545 363 545 338 545 315 545 296 544 280 544 268 548 268 548 280 547 296 547 315 547 338 547 363 548 385 548 402 548 417 548 432 548 451 548 471 548 485Z" fill="#5e5e5e"/>
<path d="M586 483 590 483 590 480 586 480Z" fill="#616161"/>
<path d="M637 483 641 483 641 480 637 480Z" fill="#616161"/>
<path d="M687 483 692 483 692 480 687 480Z" fill="#616161"/>
<path d="M738 483 742 483 742 480 738 480Z" fill="#616161"/>
<path d="M539 409 545 407 554 404 562 401 568 399 573 396 579 395 585 393 591 392 597 392 603 391 610 392 616 395 613 401 607 405 601 408 595 411 589 413 584 415 578 416 572 417 566 417 557 418 548 419 542 420Z" fill="#737373"/>
<path d="M545 485 545 471 545 451 544 432 545 417 545 402 546 385 546 363 546 338 546 315 546 296 545 280 545 268 547 268 547 280 546 296 546 315 546 338 546 363 546 385 547 402 547 417 548 432 547 451 547 471 547 485Z" fill="#737373"/>
<path d="M569 483 573 483 573 480 569 480Z" fill="#757575"/>
<path d="M620 483 624 483 624 480 620 480Z" fill="#757575"/>
<path d="M670 483 675 483 675 480 670 480Z" fill="#757575"/>
<path d="M721 483 725 483 725 480 721 480Z" fill="#757575"/>
<path d="M772 483 776 483 776 480 772 480Z" fill="#757575"/>
<path d="M540 412 545 409 554 406 562 403 568 400 573 397 579 396 585 394 591 394 597 393 604 393 611 396 616 395 612 397 607 404 600 407 595 410 589 412 583 414 578 415 572 415 565 416 557 416 547 417 541 417Z" fill="#878787"/>
<path d="M546 485 546 471 545 451 545 432 546 417 546 402 546 385 546 363 546 338 546 315 546 296 546 280 546 268 546 280 546 296 546 315 546 338 546 363 546 385 546 402 546 417 547 432 547 451 546 471 546 485Z" fill="#878787"/>
<path d="M540 414 546 413 555 408 562 404 568 401 574 399 579 397 585 395 591 395 597 395 604 395 612 396 616 395 612 396 606 401 600 406 594 408 589 411 583 412 578 413 572 414 565 414 556 414 546 413 540 414Z" fill="#9c9c9c"/>
<path d="M540 414 546 413 555 411 563 407 569 403 574 400 580 398 586 397 592 396 598 396 605 398 612 396 616 395 612 396 605 398 600 404 594 407 588 409 583 411 577 412 571 412 564 410 555 411 546 413 540 414Z" fill="#b0b0b0"/>
<path d="M540 414 546 413 555 411 564 409 569 405 574 401 580 399 586 398 592 398 599 400 605 398 612 396 616 395 612 396 605 398 599 400 594 405 588 408 583 410 577 410 570 409 564 409 555 411 546 413 540 414Z" fill="#c4c4c4"/>
<path d="M540 414 546 413 555 411 564 409 570 407 575 403 580 400 586 399 593 401 599 400 605 398 612 396 616 395 612 396 605 398 599 400 593 401 588 406 582 408 576 408 570 407 564 409 555 411 546 413 540 414Z" fill="#d9d9d9"/>
<path d="M540 414 546 413 555 411 564 409 570 407 575 405 581 403 587 403 593 401 599 400 605 398 612 396 616 395 612 396 605 398 599 400 593 401 587 403 581 406 575 405 570 407 564 409 555 411 546 413 540 414Z" fill="#ebebeb"/>
<path d="M580 404 582 403 582 401 580 400 578 401 578 403Z" fill="#f8f8f8"/>
<path d="M587 405 589 404 589 401 587 400 586 401 586 404Z" fill="#f9f9f9"/>
<path d="M581 408 583 407 583 404 581 403 579 404 579 407Z" fill="#fafafa"/>
<path d="M583 400 585 398 585 396 583 394 581 396 581 398Z" fill="#fdfdfd"/>
<path d="M581 406 583 405 583 402 581 400 580 402 580 405Z" fill="#fdfdfd"/>
<path d="M588 409 589 408 589 406 588 405 587 406 587 408Z" fill="#ffffff"/>
</g></g>
<path d="M545.4 274.2H779.8V508.0H545.4" fill="none" stroke="#2a2a2a" stroke-width="1.2"/>
<path d="M543.0 490.5H546.0 M540.0 461.2H546.0 M543.0 432.0H546.0 M540.0 402.8H546.0 M543.0 373.6H546.0 M540.0 344.3H546.0 M543.0 315.1H546.0 M540.0 285.9H546.0 M546.0 508.0V514.0 M575.2 508.0V511.0 M604.5 508.0V514.0 M633.7 508.0V511.0 M662.9 508.0V514.0 M692.1 508.0V511.0 M721.4 508.0V514.0 M750.6 508.0V511.0 M779.8 508.0V514.0" stroke="#2a2a2a" stroke-width="1.2" fill="none"/>
<text x="697.9" y="443.8" font-size="18">U<tspan font-size="13" dy="-3.6">-</tspan><tspan dy="3.6">(H</tspan><tspan font-size="13" dy="3.8">2</tspan><tspan dy="-3.8">O)</tspan><tspan font-size="13" dy="3.8">10</tspan></text>
<text x="40.8" y="221.9" font-size="18" text-anchor="end">2</text>
<text x="40.8" y="163.5" font-size="18" text-anchor="end">3</text>
<text x="40.8" y="105.0" font-size="18" text-anchor="end">4</text>
<text x="40.8" y="46.6" font-size="18" text-anchor="end">5</text>
<text x="40.8" y="467.6" font-size="18" text-anchor="end">2</text>
<text x="40.8" y="409.2" font-size="18" text-anchor="end">3</text>
<text x="40.8" y="350.7" font-size="18" text-anchor="end">4</text>
<text x="40.8" y="292.3" font-size="18" text-anchor="end">5</text>
<text x="54.6" y="535.6" font-size="18" text-anchor="middle">0</text>
<text x="113.1" y="535.6" font-size="18" text-anchor="middle">1</text>
<text x="171.5" y="535.6" font-size="18" text-anchor="middle">2</text>
<text x="230.0" y="535.6" font-size="18" text-anchor="middle">3</text>
<text x="300.4" y="535.6" font-size="18" text-anchor="middle">0</text>
<text x="358.8" y="535.6" font-size="18" text-anchor="middle">1</text>
<text x="417.3" y="535.6" font-size="18" text-anchor="middle">2</text>
<text x="475.8" y="535.6" font-size="18" text-anchor="middle">3</text>
<text x="546.0" y="535.6" font-size="18" text-anchor="middle">0</text>
<text x="604.5" y="535.6" font-size="18" text-anchor="middle">1</text>
<text x="662.9" y="535.6" font-size="18" text-anchor="middle">2</text>
<text x="721.4" y="535.6" font-size="18" text-anchor="middle">3</text>
<text x="417.3" y="559.6" font-size="18" text-anchor="middle">Electron kinetic energy / eV</text>
<text transform="translate(14.3 269.7) rotate(-90)" font-size="18" text-anchor="middle"><tspan font-style="italic">h</tspan><tspan font-style="italic">ν</tspan> / eV</text>
</svg></body></html>
